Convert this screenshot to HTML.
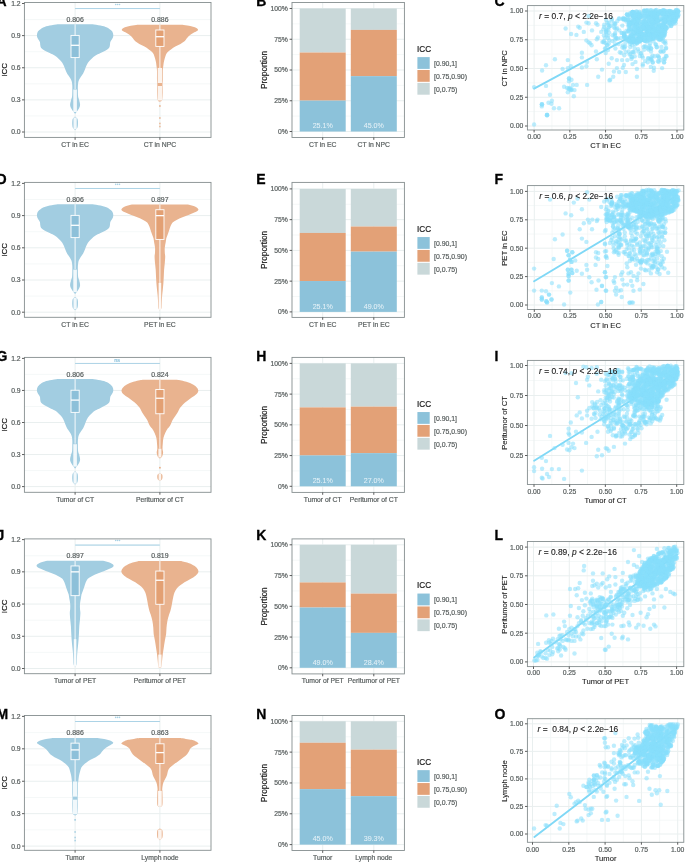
<!DOCTYPE html>
<html><head><meta charset="utf-8"><style>
html,body{margin:0;padding:0;background:#fff;}
body{width:685px;height:862px;overflow:hidden;}
svg{display:block;}
svg{filter:blur(0.3px);}
text{font-family:"Liberation Sans",sans-serif;}
</style></head><body>
<svg width="685" height="862" viewBox="0 0 685 862" font-family="Liberation Sans, sans-serif">
<rect width="685" height="862" fill="#fff"/>
<rect x="24.4" y="2.45" width="186.6" height="134.95000000000002" fill="#fff"/>
<line x1="24.40" y1="115.94" x2="211.00" y2="115.94" stroke="#f3f6f6" stroke-width="0.8" />
<line x1="24.40" y1="83.81" x2="211.00" y2="83.81" stroke="#f3f6f6" stroke-width="0.8" />
<line x1="24.40" y1="51.69" x2="211.00" y2="51.69" stroke="#f3f6f6" stroke-width="0.8" />
<line x1="24.40" y1="19.56" x2="211.00" y2="19.56" stroke="#f3f6f6" stroke-width="0.8" />
<line x1="24.40" y1="132.00" x2="211.00" y2="132.00" stroke="#e9efef" stroke-width="1" />
<line x1="24.40" y1="99.88" x2="211.00" y2="99.88" stroke="#e9efef" stroke-width="1" />
<line x1="24.40" y1="67.75" x2="211.00" y2="67.75" stroke="#e9efef" stroke-width="1" />
<line x1="24.40" y1="35.62" x2="211.00" y2="35.62" stroke="#e9efef" stroke-width="1" />
<line x1="75.10" y1="2.45" x2="75.10" y2="137.40" stroke="#e9efef" stroke-width="1" />
<line x1="159.90" y1="2.45" x2="159.90" y2="137.40" stroke="#e9efef" stroke-width="1" />
<path d="M57.60,24.20 L92.60,24.20 C93.92,24.42 98.08,24.95 100.50,25.50 C102.92,26.05 105.25,26.62 107.10,27.50 C108.95,28.38 110.63,29.88 111.60,30.80 C112.57,31.72 112.62,32.23 112.90,33.00 C113.18,33.77 113.30,34.65 113.30,35.40 C113.30,36.15 113.12,36.85 112.90,37.50 C112.68,38.15 112.43,38.57 112.00,39.30 C111.57,40.03 110.65,40.92 110.30,41.90 C109.95,42.88 110.12,44.20 109.90,45.20 C109.68,46.20 109.70,47.02 109.00,47.90 C108.30,48.78 107.12,49.63 105.70,50.50 C104.28,51.37 102.25,52.23 100.50,53.10 C98.75,53.97 96.63,54.82 95.20,55.70 C93.77,56.58 92.88,57.52 91.90,58.40 C90.92,59.28 90.17,59.92 89.30,61.00 C88.43,62.08 87.40,63.58 86.70,64.90 C86.00,66.22 85.63,67.58 85.10,68.90 C84.57,70.22 84.00,71.78 83.50,72.80 C83.00,73.82 82.67,74.15 82.10,75.00 C81.53,75.85 80.62,77.07 80.10,77.90 C79.58,78.73 79.28,79.35 79.00,80.00 C78.72,80.65 78.58,80.83 78.40,81.80 C78.22,82.77 77.98,84.48 77.90,85.80 C77.82,87.12 77.87,87.95 77.90,89.70 C77.93,91.45 77.88,94.55 78.10,96.30 C78.32,98.05 78.87,98.78 79.20,100.20 C79.53,101.62 80.10,103.48 80.10,104.80 C80.10,106.12 79.60,107.15 79.20,108.10 C78.80,109.05 78.13,109.85 77.70,110.50 C77.27,111.15 76.98,111.50 76.60,112.00 C76.22,112.50 75.65,113.17 75.40,113.50 C75.15,113.83 75.15,113.92 75.10,114.00 L75.10,114.00 C75.05,113.92 75.05,113.83 74.80,113.50 C74.55,113.17 73.98,112.50 73.60,112.00 C73.22,111.50 72.93,111.15 72.50,110.50 C72.07,109.85 71.40,109.05 71.00,108.10 C70.60,107.15 70.10,106.12 70.10,104.80 C70.10,103.48 70.67,101.62 71.00,100.20 C71.33,98.78 71.88,98.05 72.10,96.30 C72.32,94.55 72.27,91.45 72.30,89.70 C72.33,87.95 72.38,87.12 72.30,85.80 C72.22,84.48 71.98,82.77 71.80,81.80 C71.62,80.83 71.48,80.65 71.20,80.00 C70.92,79.35 70.62,78.73 70.10,77.90 C69.58,77.07 68.67,75.85 68.10,75.00 C67.53,74.15 67.20,73.82 66.70,72.80 C66.20,71.78 65.63,70.22 65.10,68.90 C64.57,67.58 64.20,66.22 63.50,64.90 C62.80,63.58 61.77,62.08 60.90,61.00 C60.03,59.92 59.28,59.28 58.30,58.40 C57.32,57.52 56.43,56.58 55.00,55.70 C53.57,54.82 51.45,53.97 49.70,53.10 C47.95,52.23 45.92,51.37 44.50,50.50 C43.08,49.63 41.90,48.78 41.20,47.90 C40.50,47.02 40.52,46.20 40.30,45.20 C40.08,44.20 40.25,42.88 39.90,41.90 C39.55,40.92 38.63,40.03 38.20,39.30 C37.77,38.57 37.52,38.15 37.30,37.50 C37.08,36.85 36.90,36.15 36.90,35.40 C36.90,34.65 37.02,33.77 37.30,33.00 C37.58,32.23 37.63,31.72 38.60,30.80 C39.57,29.88 41.25,28.38 43.10,27.50 C44.95,26.62 47.28,26.05 49.70,25.50 C52.12,24.95 56.28,24.42 57.60,24.20 Z" fill="#a2cde1"/>
<path d="M74.80,116.80 L75.40,116.80 C75.72,117.08 76.88,117.80 77.30,118.50 C77.72,119.20 77.80,119.92 77.90,121.00 C78.00,122.08 78.00,123.83 77.90,125.00 C77.80,126.17 77.70,127.23 77.30,128.00 C76.90,128.77 75.87,129.27 75.50,129.60 C75.13,129.93 75.17,129.93 75.10,130.00 L75.10,130.00 C75.03,129.93 75.07,129.93 74.70,129.60 C74.33,129.27 73.30,128.77 72.90,128.00 C72.50,127.23 72.40,126.17 72.30,125.00 C72.20,123.83 72.20,122.08 72.30,121.00 C72.40,119.92 72.48,119.20 72.90,118.50 C73.32,117.80 74.48,117.08 74.80,116.80 Z" fill="#a2cde1"/>
<line x1="75.10" y1="24.20" x2="75.10" y2="89.00" stroke="#ffffff" stroke-width="1.0" opacity="0.9"/>
<rect x="73.30" y="89.50" width="3.60" height="22.50" fill="#ffffff" opacity="0.85"/>
<rect x="73.50" y="117.50" width="3.20" height="11.50" fill="#ffffff" opacity="0.85"/>
<rect x="71.00" y="35.40" width="8.2" height="22.20" fill="#8dc0d9" stroke="#fff" stroke-width="0.9"/>
<line x1="71.00" y1="45.30" x2="79.20" y2="45.30" stroke="#fff" stroke-width="1.3" />
<text x="75.10" y="21.72" font-size="6.9" fill="#5a6060" text-anchor="middle" font-weight="normal" font-style="normal" stroke="#5a6060" stroke-width="0.2" >0.806</text>
<path d="M137.30,24.86 L182.50,24.86 C183.57,25.02 187.15,25.47 188.90,25.80 C190.65,26.13 191.75,26.46 193.00,26.83 C194.25,27.20 195.57,27.56 196.40,28.00 C197.23,28.44 197.83,29.00 198.00,29.45 C198.17,29.90 197.90,30.26 197.40,30.70 C196.90,31.14 196.17,31.41 195.00,32.08 C193.83,32.75 191.72,33.72 190.40,34.71 C189.08,35.70 188.08,36.91 187.10,38.00 C186.12,39.09 185.60,40.30 184.50,41.28 C183.40,42.26 182.03,43.02 180.50,43.90 C178.97,44.78 176.83,45.66 175.30,46.54 C173.77,47.42 172.52,48.28 171.30,49.16 C170.08,50.03 168.88,50.91 168.00,51.79 C167.12,52.67 166.53,53.33 166.00,54.42 C165.47,55.52 165.17,57.05 164.80,58.36 C164.43,59.67 164.08,60.77 163.80,62.30 C163.52,63.83 163.27,66.03 163.10,67.56 C162.93,69.09 162.85,69.43 162.80,71.50 C162.75,73.57 162.85,77.92 162.80,80.00 C162.75,82.08 162.53,82.00 162.50,84.00 C162.47,86.00 162.67,89.33 162.60,92.00 C162.53,94.67 162.47,98.42 162.10,100.00 C161.73,101.58 160.77,101.17 160.40,101.50 C160.03,101.83 159.98,101.92 159.90,102.00 L159.90,102.00 C159.82,101.92 159.77,101.83 159.40,101.50 C159.03,101.17 158.07,101.58 157.70,100.00 C157.33,98.42 157.27,94.67 157.20,92.00 C157.13,89.33 157.33,86.00 157.30,84.00 C157.27,82.00 157.05,82.08 157.00,80.00 C156.95,77.92 157.05,73.57 157.00,71.50 C156.95,69.43 156.87,69.09 156.70,67.56 C156.53,66.03 156.28,63.83 156.00,62.30 C155.72,60.77 155.37,59.67 155.00,58.36 C154.63,57.05 154.33,55.52 153.80,54.42 C153.27,53.33 152.68,52.67 151.80,51.79 C150.92,50.91 149.72,50.03 148.50,49.16 C147.28,48.28 146.03,47.42 144.50,46.54 C142.97,45.66 140.83,44.78 139.30,43.90 C137.77,43.02 136.40,42.26 135.30,41.28 C134.20,40.30 133.68,39.09 132.70,38.00 C131.72,36.91 130.72,35.70 129.40,34.71 C128.08,33.72 125.97,32.75 124.80,32.08 C123.63,31.41 122.90,31.14 122.40,30.70 C121.90,30.26 121.63,29.90 121.80,29.45 C121.97,29.00 122.57,28.44 123.40,28.00 C124.23,27.56 125.55,27.20 126.80,26.83 C128.05,26.46 129.15,26.13 130.90,25.80 C132.65,25.47 136.23,25.02 137.30,24.86 Z" fill="#e9b38f"/>
<line x1="159.90" y1="24.70" x2="159.90" y2="68.00" stroke="#ffffff" stroke-width="1.0" opacity="0.9"/>
<rect x="157.70" y="68.00" width="4.40" height="15.00" fill="#ffffff" opacity="0.85"/>
<rect x="157.80" y="86.00" width="4.20" height="14.50" fill="#ffffff" opacity="0.85"/>
<rect x="159.10" y="105.20" width="1.60" height="1.60" fill="#e9b38f" />
<rect x="159.20" y="117.20" width="1.40" height="1.60" fill="#e9b38f" />
<rect x="159.20" y="122.70" width="1.40" height="1.60" fill="#e9b38f" />
<rect x="159.20" y="125.70" width="1.40" height="1.60" fill="#e9b38f" />
<rect x="155.80" y="30.00" width="8.2" height="16.40" fill="#e3a073" stroke="#fff" stroke-width="0.9"/>
<line x1="155.80" y1="36.70" x2="164.00" y2="36.70" stroke="#fff" stroke-width="1.3" />
<text x="159.90" y="21.72" font-size="6.9" fill="#5a6060" text-anchor="middle" font-weight="normal" font-style="normal" stroke="#5a6060" stroke-width="0.2" >0.886</text>
<line x1="75.10" y1="8.55" x2="159.90" y2="8.55" stroke="#9dcbe1" stroke-width="0.85" />
<circle cx="115.7" cy="4.45" r="0.8" fill="#a9d2e5"/>
<circle cx="117.6" cy="4.45" r="0.8" fill="#a9d2e5"/>
<circle cx="119.5" cy="4.45" r="0.8" fill="#a9d2e5"/>
<rect x="24.4" y="2.45" width="186.6" height="134.95000000000002" fill="none" stroke="#858e8f" stroke-width="0.9"/>
<line x1="22.00" y1="132.00" x2="24.40" y2="132.00" stroke="#4a4a4a" stroke-width="0.9" />
<text x="20.60" y="134.45" font-size="6.8" fill="#5a6060" text-anchor="end" font-weight="normal" font-style="normal" stroke="#5a6060" stroke-width="0.2" >0.0</text>
<line x1="22.00" y1="99.88" x2="24.40" y2="99.88" stroke="#4a4a4a" stroke-width="0.9" />
<text x="20.60" y="102.33" font-size="6.8" fill="#5a6060" text-anchor="end" font-weight="normal" font-style="normal" stroke="#5a6060" stroke-width="0.2" >0.3</text>
<line x1="22.00" y1="67.75" x2="24.40" y2="67.75" stroke="#4a4a4a" stroke-width="0.9" />
<text x="20.60" y="70.20" font-size="6.8" fill="#5a6060" text-anchor="end" font-weight="normal" font-style="normal" stroke="#5a6060" stroke-width="0.2" >0.6</text>
<line x1="22.00" y1="35.62" x2="24.40" y2="35.62" stroke="#4a4a4a" stroke-width="0.9" />
<text x="20.60" y="38.07" font-size="6.8" fill="#5a6060" text-anchor="end" font-weight="normal" font-style="normal" stroke="#5a6060" stroke-width="0.2" >0.9</text>
<line x1="22.00" y1="3.50" x2="24.40" y2="3.50" stroke="#4a4a4a" stroke-width="0.9" />
<text x="20.60" y="5.95" font-size="6.8" fill="#5a6060" text-anchor="end" font-weight="normal" font-style="normal" stroke="#5a6060" stroke-width="0.2" >1.2</text>
<line x1="75.10" y1="137.40" x2="75.10" y2="139.80" stroke="#4a4a4a" stroke-width="0.9" />
<text x="75.10" y="147.00" font-size="6.8" fill="#5a6060" text-anchor="middle" font-weight="normal" font-style="normal" stroke="#5a6060" stroke-width="0.2" >CT in EC</text>
<line x1="159.90" y1="137.40" x2="159.90" y2="139.80" stroke="#4a4a4a" stroke-width="0.9" />
<text x="159.90" y="147.00" font-size="6.8" fill="#5a6060" text-anchor="middle" font-weight="normal" font-style="normal" stroke="#5a6060" stroke-width="0.2" >CT in NPC</text>
<text x="0" y="0" font-size="8.0" fill="#1a1a1a" stroke="#1a1a1a" stroke-width="0.2" text-anchor="middle" transform="translate(7.2,69.92) rotate(-90)">ICC</text>
<rect x="24.4" y="182.4" width="186.6" height="134.9" fill="#fff"/>
<line x1="24.40" y1="296.10" x2="211.00" y2="296.10" stroke="#f3f6f6" stroke-width="0.8" />
<line x1="24.40" y1="263.90" x2="211.00" y2="263.90" stroke="#f3f6f6" stroke-width="0.8" />
<line x1="24.40" y1="231.70" x2="211.00" y2="231.70" stroke="#f3f6f6" stroke-width="0.8" />
<line x1="24.40" y1="199.50" x2="211.00" y2="199.50" stroke="#f3f6f6" stroke-width="0.8" />
<line x1="24.40" y1="312.20" x2="211.00" y2="312.20" stroke="#e9efef" stroke-width="1" />
<line x1="24.40" y1="280.00" x2="211.00" y2="280.00" stroke="#e9efef" stroke-width="1" />
<line x1="24.40" y1="247.80" x2="211.00" y2="247.80" stroke="#e9efef" stroke-width="1" />
<line x1="24.40" y1="215.60" x2="211.00" y2="215.60" stroke="#e9efef" stroke-width="1" />
<line x1="75.10" y1="182.40" x2="75.10" y2="317.30" stroke="#e9efef" stroke-width="1" />
<line x1="159.90" y1="182.40" x2="159.90" y2="317.30" stroke="#e9efef" stroke-width="1" />
<path d="M57.60,204.15 L92.60,204.15 C93.92,204.37 98.08,204.90 100.50,205.45 C102.92,206.00 105.25,206.57 107.10,207.46 C108.95,208.34 110.63,209.84 111.60,210.76 C112.57,211.68 112.62,212.20 112.90,212.97 C113.18,213.74 113.30,214.62 113.30,215.37 C113.30,216.13 113.12,216.83 112.90,217.48 C112.68,218.13 112.43,218.55 112.00,219.28 C111.57,220.02 110.65,220.90 110.30,221.89 C109.95,222.88 110.12,224.20 109.90,225.20 C109.68,226.20 109.70,227.02 109.00,227.90 C108.30,228.79 107.12,229.64 105.70,230.51 C104.28,231.38 102.25,232.25 100.50,233.12 C98.75,233.98 96.63,234.84 95.20,235.72 C93.77,236.61 92.88,237.54 91.90,238.43 C90.92,239.31 90.17,239.95 89.30,241.03 C88.43,242.12 87.40,243.62 86.70,244.94 C86.00,246.26 85.63,247.63 85.10,248.95 C84.57,250.27 84.00,251.84 83.50,252.86 C83.00,253.88 82.67,254.21 82.10,255.07 C81.53,255.92 80.62,257.14 80.10,257.97 C79.58,258.81 79.28,259.43 79.00,260.08 C78.72,260.73 78.58,260.91 78.40,261.88 C78.22,262.85 77.98,264.57 77.90,265.89 C77.82,267.21 77.87,268.05 77.90,269.80 C77.93,271.56 77.88,274.66 78.10,276.42 C78.32,278.17 78.87,278.91 79.20,280.33 C79.53,281.75 80.10,283.62 80.10,284.94 C80.10,286.26 79.60,287.29 79.20,288.24 C78.80,289.20 78.13,290.00 77.70,290.65 C77.27,291.30 76.98,291.65 76.60,292.15 C76.22,292.65 75.65,293.32 75.40,293.66 C75.15,293.99 75.15,294.07 75.10,294.16 L75.10,294.16 C75.05,294.07 75.05,293.99 74.80,293.66 C74.55,293.32 73.98,292.65 73.60,292.15 C73.22,291.65 72.93,291.30 72.50,290.65 C72.07,290.00 71.40,289.20 71.00,288.24 C70.60,287.29 70.10,286.26 70.10,284.94 C70.10,283.62 70.67,281.75 71.00,280.33 C71.33,278.91 71.88,278.17 72.10,276.42 C72.32,274.66 72.27,271.56 72.30,269.80 C72.33,268.05 72.38,267.21 72.30,265.89 C72.22,264.57 71.98,262.85 71.80,261.88 C71.62,260.91 71.48,260.73 71.20,260.08 C70.92,259.43 70.62,258.81 70.10,257.97 C69.58,257.14 68.67,255.92 68.10,255.07 C67.53,254.21 67.20,253.88 66.70,252.86 C66.20,251.84 65.63,250.27 65.10,248.95 C64.57,247.63 64.20,246.26 63.50,244.94 C62.80,243.62 61.77,242.12 60.90,241.03 C60.03,239.95 59.28,239.31 58.30,238.43 C57.32,237.54 56.43,236.61 55.00,235.72 C53.57,234.84 51.45,233.98 49.70,233.12 C47.95,232.25 45.92,231.38 44.50,230.51 C43.08,229.64 41.90,228.79 41.20,227.90 C40.50,227.02 40.52,226.20 40.30,225.20 C40.08,224.20 40.25,222.88 39.90,221.89 C39.55,220.90 38.63,220.02 38.20,219.28 C37.77,218.55 37.52,218.13 37.30,217.48 C37.08,216.83 36.90,216.13 36.90,215.37 C36.90,214.62 37.02,213.74 37.30,212.97 C37.58,212.20 37.63,211.68 38.60,210.76 C39.57,209.84 41.25,208.34 43.10,207.46 C44.95,206.57 47.28,206.00 49.70,205.45 C52.12,204.90 56.28,204.37 57.60,204.15 Z" fill="#a2cde1"/>
<path d="M74.80,296.96 L75.40,296.96 C75.72,297.25 76.88,297.97 77.30,298.67 C77.72,299.37 77.80,300.09 77.90,301.17 C78.00,302.26 78.00,304.01 77.90,305.18 C77.80,306.35 77.70,307.42 77.30,308.19 C76.90,308.96 75.87,309.46 75.50,309.79 C75.13,310.13 75.17,310.13 75.10,310.20 L75.10,310.20 C75.03,310.13 75.07,310.13 74.70,309.79 C74.33,309.46 73.30,308.96 72.90,308.19 C72.50,307.42 72.40,306.35 72.30,305.18 C72.20,304.01 72.20,302.26 72.30,301.17 C72.40,300.09 72.48,299.37 72.90,298.67 C73.32,297.97 74.48,297.25 74.80,296.96 Z" fill="#a2cde1"/>
<line x1="75.10" y1="204.15" x2="75.10" y2="269.10" stroke="#ffffff" stroke-width="1.0" opacity="0.9"/>
<rect x="73.30" y="269.60" width="3.60" height="22.55" fill="#ffffff" opacity="0.85"/>
<rect x="73.50" y="297.67" width="3.20" height="11.53" fill="#ffffff" opacity="0.85"/>
<rect x="71.00" y="215.37" width="8.2" height="22.25" fill="#8dc0d9" stroke="#fff" stroke-width="0.9"/>
<line x1="71.00" y1="225.30" x2="79.20" y2="225.30" stroke="#fff" stroke-width="1.3" />
<text x="75.10" y="201.67" font-size="6.9" fill="#5a6060" text-anchor="middle" font-weight="normal" font-style="normal" stroke="#5a6060" stroke-width="0.2" >0.806</text>
<path d="M132.00,204.46 L187.80,204.46 C188.88,204.75 192.67,205.56 194.30,206.17 C195.93,206.78 196.93,207.48 197.60,208.14 C198.27,208.80 198.63,209.45 198.30,210.11 C197.97,210.77 197.13,211.31 195.60,212.08 C194.07,212.85 191.28,213.83 189.10,214.71 C186.92,215.59 184.58,216.46 182.50,217.34 C180.42,218.22 178.25,219.09 176.60,219.97 C174.95,220.85 173.63,221.51 172.60,222.60 C171.57,223.70 170.98,225.23 170.40,226.54 C169.82,227.85 169.55,229.17 169.10,230.48 C168.65,231.79 168.17,233.11 167.70,234.42 C167.23,235.73 166.63,237.05 166.30,238.36 C165.97,239.67 165.95,240.77 165.70,242.30 C165.45,243.83 164.95,245.81 164.80,247.56 C164.65,249.31 164.73,251.31 164.80,252.82 C164.87,254.33 165.20,254.89 165.20,256.60 C165.20,258.31 164.98,260.92 164.80,263.10 C164.62,265.28 164.27,267.50 164.10,269.70 C163.93,271.90 163.92,274.10 163.80,276.30 C163.68,278.50 163.57,280.72 163.40,282.90 C163.23,285.08 163.02,287.22 162.80,289.40 C162.58,291.58 162.28,293.80 162.10,296.00 C161.92,298.20 161.80,300.63 161.70,302.60 C161.60,304.57 161.67,306.64 161.50,307.80 C161.33,308.96 160.97,309.16 160.70,309.55 C160.43,309.94 160.03,310.05 159.90,310.15 L159.90,310.15 C159.77,310.05 159.37,309.94 159.10,309.55 C158.83,309.16 158.47,308.96 158.30,307.80 C158.13,306.64 158.20,304.57 158.10,302.60 C158.00,300.63 157.88,298.20 157.70,296.00 C157.52,293.80 157.22,291.58 157.00,289.40 C156.78,287.22 156.57,285.08 156.40,282.90 C156.23,280.72 156.12,278.50 156.00,276.30 C155.88,274.10 155.87,271.90 155.70,269.70 C155.53,267.50 155.18,265.28 155.00,263.10 C154.82,260.92 154.60,258.31 154.60,256.60 C154.60,254.89 154.93,254.33 155.00,252.82 C155.07,251.31 155.15,249.31 155.00,247.56 C154.85,245.81 154.35,243.83 154.10,242.30 C153.85,240.77 153.83,239.67 153.50,238.36 C153.17,237.05 152.57,235.73 152.10,234.42 C151.63,233.11 151.15,231.79 150.70,230.48 C150.25,229.17 149.98,227.85 149.40,226.54 C148.82,225.23 148.23,223.70 147.20,222.60 C146.17,221.51 144.85,220.85 143.20,219.97 C141.55,219.09 139.38,218.22 137.30,217.34 C135.22,216.46 132.88,215.59 130.70,214.71 C128.52,213.83 125.73,212.85 124.20,212.08 C122.67,211.31 121.83,210.77 121.50,210.11 C121.17,209.45 121.53,208.80 122.20,208.14 C122.87,207.48 123.87,206.78 125.50,206.17 C127.13,205.56 130.92,204.75 132.00,204.46 Z" fill="#e9b38f"/>
<line x1="159.90" y1="204.46" x2="159.90" y2="309.45" stroke="#ffffff" stroke-width="1.0" opacity="0.9"/>
<rect x="158.60" y="282.90" width="2.60" height="27.05" fill="#ffffff" opacity="0.85"/>
<rect x="155.80" y="209.72" width="8.2" height="29.70" fill="#e3a073" stroke="#fff" stroke-width="0.9"/>
<line x1="155.80" y1="215.63" x2="164.00" y2="215.63" stroke="#fff" stroke-width="1.3" />
<text x="159.90" y="201.67" font-size="6.9" fill="#5a6060" text-anchor="middle" font-weight="normal" font-style="normal" stroke="#5a6060" stroke-width="0.2" >0.897</text>
<line x1="75.10" y1="188.47" x2="159.90" y2="188.47" stroke="#9dcbe1" stroke-width="0.85" />
<circle cx="115.7" cy="184.37" r="0.8" fill="#a9d2e5"/>
<circle cx="117.6" cy="184.37" r="0.8" fill="#a9d2e5"/>
<circle cx="119.5" cy="184.37" r="0.8" fill="#a9d2e5"/>
<rect x="24.4" y="182.4" width="186.6" height="134.9" fill="none" stroke="#858e8f" stroke-width="0.9"/>
<line x1="22.00" y1="312.20" x2="24.40" y2="312.20" stroke="#4a4a4a" stroke-width="0.9" />
<text x="20.60" y="314.65" font-size="6.8" fill="#5a6060" text-anchor="end" font-weight="normal" font-style="normal" stroke="#5a6060" stroke-width="0.2" >0.0</text>
<line x1="22.00" y1="280.00" x2="24.40" y2="280.00" stroke="#4a4a4a" stroke-width="0.9" />
<text x="20.60" y="282.45" font-size="6.8" fill="#5a6060" text-anchor="end" font-weight="normal" font-style="normal" stroke="#5a6060" stroke-width="0.2" >0.3</text>
<line x1="22.00" y1="247.80" x2="24.40" y2="247.80" stroke="#4a4a4a" stroke-width="0.9" />
<text x="20.60" y="250.25" font-size="6.8" fill="#5a6060" text-anchor="end" font-weight="normal" font-style="normal" stroke="#5a6060" stroke-width="0.2" >0.6</text>
<line x1="22.00" y1="215.60" x2="24.40" y2="215.60" stroke="#4a4a4a" stroke-width="0.9" />
<text x="20.60" y="218.05" font-size="6.8" fill="#5a6060" text-anchor="end" font-weight="normal" font-style="normal" stroke="#5a6060" stroke-width="0.2" >0.9</text>
<line x1="22.00" y1="183.40" x2="24.40" y2="183.40" stroke="#4a4a4a" stroke-width="0.9" />
<text x="20.60" y="185.85" font-size="6.8" fill="#5a6060" text-anchor="end" font-weight="normal" font-style="normal" stroke="#5a6060" stroke-width="0.2" >1.2</text>
<line x1="75.10" y1="317.30" x2="75.10" y2="319.70" stroke="#4a4a4a" stroke-width="0.9" />
<text x="75.10" y="326.90" font-size="6.8" fill="#5a6060" text-anchor="middle" font-weight="normal" font-style="normal" stroke="#5a6060" stroke-width="0.2" >CT in EC</text>
<line x1="159.90" y1="317.30" x2="159.90" y2="319.70" stroke="#4a4a4a" stroke-width="0.9" />
<text x="159.90" y="326.90" font-size="6.8" fill="#5a6060" text-anchor="middle" font-weight="normal" font-style="normal" stroke="#5a6060" stroke-width="0.2" >PET in EC</text>
<text x="0" y="0" font-size="8.0" fill="#1a1a1a" stroke="#1a1a1a" stroke-width="0.2" text-anchor="middle" transform="translate(7.2,249.85) rotate(-90)">ICC</text>
<rect x="24.4" y="357.4" width="186.6" height="134.90000000000003" fill="#fff"/>
<line x1="24.40" y1="470.58" x2="211.00" y2="470.58" stroke="#f3f6f6" stroke-width="0.8" />
<line x1="24.40" y1="438.52" x2="211.00" y2="438.52" stroke="#f3f6f6" stroke-width="0.8" />
<line x1="24.40" y1="406.47" x2="211.00" y2="406.47" stroke="#f3f6f6" stroke-width="0.8" />
<line x1="24.40" y1="374.42" x2="211.00" y2="374.42" stroke="#f3f6f6" stroke-width="0.8" />
<line x1="24.40" y1="486.60" x2="211.00" y2="486.60" stroke="#e9efef" stroke-width="1" />
<line x1="24.40" y1="454.55" x2="211.00" y2="454.55" stroke="#e9efef" stroke-width="1" />
<line x1="24.40" y1="422.50" x2="211.00" y2="422.50" stroke="#e9efef" stroke-width="1" />
<line x1="24.40" y1="390.45" x2="211.00" y2="390.45" stroke="#e9efef" stroke-width="1" />
<line x1="75.10" y1="357.40" x2="75.10" y2="492.30" stroke="#e9efef" stroke-width="1" />
<line x1="159.90" y1="357.40" x2="159.90" y2="492.30" stroke="#e9efef" stroke-width="1" />
<path d="M57.60,379.05 L92.60,379.05 C93.92,379.27 98.08,379.80 100.50,380.35 C102.92,380.90 105.25,381.46 107.10,382.34 C108.95,383.23 110.63,384.72 111.60,385.64 C112.57,386.55 112.62,387.07 112.90,387.83 C113.18,388.60 113.30,389.48 113.30,390.23 C113.30,390.97 113.12,391.67 112.90,392.32 C112.68,392.97 112.43,393.38 112.00,394.12 C111.57,394.85 110.65,395.73 110.30,396.71 C109.95,397.69 110.12,399.00 109.90,400.00 C109.68,401.00 109.70,401.82 109.00,402.70 C108.30,403.58 107.12,404.43 105.70,405.29 C104.28,406.15 102.25,407.02 100.50,407.88 C98.75,408.75 96.63,409.60 95.20,410.48 C93.77,411.36 92.88,412.29 91.90,413.17 C90.92,414.05 90.17,414.68 89.30,415.77 C88.43,416.85 87.40,418.34 86.70,419.66 C86.00,420.97 85.63,422.33 85.10,423.65 C84.57,424.96 84.00,426.52 83.50,427.54 C83.00,428.55 82.67,428.89 82.10,429.73 C81.53,430.58 80.62,431.79 80.10,432.63 C79.58,433.46 79.28,434.07 79.00,434.72 C78.72,435.37 78.58,435.55 78.40,436.52 C78.22,437.48 77.98,439.19 77.90,440.51 C77.82,441.82 77.87,442.65 77.90,444.40 C77.93,446.14 77.88,449.24 78.10,450.98 C78.32,452.73 78.87,453.46 79.20,454.87 C79.53,456.29 80.10,458.15 80.10,459.46 C80.10,460.78 79.60,461.81 79.20,462.76 C78.80,463.70 78.13,464.50 77.70,465.15 C77.27,465.80 76.98,466.15 76.60,466.65 C76.22,467.15 75.65,467.81 75.40,468.14 C75.15,468.48 75.15,468.56 75.10,468.64 L75.10,468.64 C75.05,468.56 75.05,468.48 74.80,468.14 C74.55,467.81 73.98,467.15 73.60,466.65 C73.22,466.15 72.93,465.80 72.50,465.15 C72.07,464.50 71.40,463.70 71.00,462.76 C70.60,461.81 70.10,460.78 70.10,459.46 C70.10,458.15 70.67,456.29 71.00,454.87 C71.33,453.46 71.88,452.73 72.10,450.98 C72.32,449.24 72.27,446.14 72.30,444.40 C72.33,442.65 72.38,441.82 72.30,440.51 C72.22,439.19 71.98,437.48 71.80,436.52 C71.62,435.55 71.48,435.37 71.20,434.72 C70.92,434.07 70.62,433.46 70.10,432.63 C69.58,431.79 68.67,430.58 68.10,429.73 C67.53,428.89 67.20,428.55 66.70,427.54 C66.20,426.52 65.63,424.96 65.10,423.65 C64.57,422.33 64.20,420.97 63.50,419.66 C62.80,418.34 61.77,416.85 60.90,415.77 C60.03,414.68 59.28,414.05 58.30,413.17 C57.32,412.29 56.43,411.36 55.00,410.48 C53.57,409.60 51.45,408.75 49.70,407.88 C47.95,407.02 45.92,406.15 44.50,405.29 C43.08,404.43 41.90,403.58 41.20,402.70 C40.50,401.82 40.52,401.00 40.30,400.00 C40.08,399.00 40.25,397.69 39.90,396.71 C39.55,395.73 38.63,394.85 38.20,394.12 C37.77,393.38 37.52,392.97 37.30,392.32 C37.08,391.67 36.90,390.97 36.90,390.23 C36.90,389.48 37.02,388.60 37.30,387.83 C37.58,387.07 37.63,386.55 38.60,385.64 C39.57,384.72 41.25,383.23 43.10,382.34 C44.95,381.46 47.28,380.90 49.70,380.35 C52.12,379.80 56.28,379.27 57.60,379.05 Z" fill="#a2cde1"/>
<path d="M74.80,471.44 L75.40,471.44 C75.72,471.72 76.88,472.43 77.30,473.13 C77.72,473.83 77.80,474.54 77.90,475.63 C78.00,476.71 78.00,478.45 77.90,479.62 C77.80,480.78 77.70,481.84 77.30,482.61 C76.90,483.37 75.87,483.87 75.50,484.21 C75.13,484.54 75.17,484.54 75.10,484.60 L75.10,484.60 C75.03,484.54 75.07,484.54 74.70,484.21 C74.33,483.87 73.30,483.37 72.90,482.61 C72.50,481.84 72.40,480.78 72.30,479.62 C72.20,478.45 72.20,476.71 72.30,475.63 C72.40,474.54 72.48,473.83 72.90,473.13 C73.32,472.43 74.48,471.72 74.80,471.44 Z" fill="#a2cde1"/>
<line x1="75.10" y1="379.05" x2="75.10" y2="443.70" stroke="#ffffff" stroke-width="1.0" opacity="0.9"/>
<rect x="73.30" y="444.20" width="3.60" height="22.45" fill="#ffffff" opacity="0.85"/>
<rect x="73.50" y="472.13" width="3.20" height="11.47" fill="#ffffff" opacity="0.85"/>
<rect x="71.00" y="390.23" width="8.2" height="22.15" fill="#8dc0d9" stroke="#fff" stroke-width="0.9"/>
<line x1="71.00" y1="400.10" x2="79.20" y2="400.10" stroke="#fff" stroke-width="1.3" />
<text x="75.10" y="376.57" font-size="6.9" fill="#5a6060" text-anchor="middle" font-weight="normal" font-style="normal" stroke="#5a6060" stroke-width="0.2" >0.806</text>
<path d="M142.60,379.86 L177.20,379.86 C178.73,380.19 183.77,381.06 186.40,381.83 C189.03,382.59 191.23,383.46 193.00,384.45 C194.77,385.44 196.12,386.64 197.00,387.74 C197.88,388.84 198.42,389.92 198.30,391.02 C198.18,392.12 197.40,393.21 196.30,394.31 C195.20,395.41 193.23,396.50 191.70,397.60 C190.17,398.69 188.52,399.78 187.10,400.88 C185.68,401.98 184.40,402.96 183.20,404.17 C182.00,405.37 180.78,406.80 179.90,408.11 C179.02,409.42 178.67,410.74 177.90,412.05 C177.13,413.36 176.18,414.68 175.30,415.99 C174.42,417.30 173.33,418.62 172.60,419.93 C171.87,421.25 171.48,422.71 170.90,423.88 C170.32,425.05 169.68,426.11 169.10,426.95 C168.52,427.79 168.05,427.91 167.40,428.90 C166.75,429.89 165.87,431.37 165.20,432.90 C164.53,434.43 163.80,436.35 163.40,438.10 C163.00,439.85 162.95,441.63 162.80,443.40 C162.65,445.17 162.45,447.17 162.50,448.70 C162.55,450.23 163.17,451.30 163.10,452.60 C163.03,453.90 162.63,455.52 162.10,456.50 C161.57,457.48 160.27,458.17 159.90,458.50 L159.90,458.50 C159.53,458.17 158.23,457.48 157.70,456.50 C157.17,455.52 156.77,453.90 156.70,452.60 C156.63,451.30 157.25,450.23 157.30,448.70 C157.35,447.17 157.15,445.17 157.00,443.40 C156.85,441.63 156.80,439.85 156.40,438.10 C156.00,436.35 155.27,434.43 154.60,432.90 C153.93,431.37 153.05,429.89 152.40,428.90 C151.75,427.91 151.28,427.79 150.70,426.95 C150.12,426.11 149.48,425.05 148.90,423.88 C148.32,422.71 147.93,421.25 147.20,419.93 C146.47,418.62 145.38,417.30 144.50,415.99 C143.62,414.68 142.67,413.36 141.90,412.05 C141.13,410.74 140.78,409.42 139.90,408.11 C139.02,406.80 137.80,405.37 136.60,404.17 C135.40,402.96 134.12,401.98 132.70,400.88 C131.28,399.78 129.63,398.69 128.10,397.60 C126.57,396.50 124.60,395.41 123.50,394.31 C122.40,393.21 121.62,392.12 121.50,391.02 C121.38,389.92 121.92,388.84 122.80,387.74 C123.68,386.64 125.03,385.44 126.80,384.45 C128.57,383.46 130.77,382.59 133.40,381.83 C136.03,381.06 141.07,380.19 142.60,379.86 Z" fill="#e9b38f"/>
<path d="M159.90,473.45 L159.90,473.45 C160.27,473.62 161.67,473.87 162.10,474.45 C162.53,475.03 162.53,476.12 162.50,476.95 C162.47,477.78 162.33,478.87 161.90,479.45 C161.47,480.03 160.23,480.28 159.90,480.45 L159.90,480.45 C159.57,480.28 158.33,480.03 157.90,479.45 C157.47,478.87 157.33,477.78 157.30,476.95 C157.27,476.12 157.27,475.03 157.70,474.45 C158.13,473.87 159.53,473.62 159.90,473.45 Z" fill="#e9b38f"/>
<line x1="159.90" y1="379.86" x2="159.90" y2="448.70" stroke="#ffffff" stroke-width="1.0" opacity="0.9"/>
<rect x="158.40" y="448.70" width="3.00" height="8.75" fill="#ffffff" opacity="0.85"/>
<rect x="158.60" y="473.95" width="2.60" height="6.00" fill="#ffffff" opacity="0.85"/>
<rect x="159.00" y="466.90" width="1.80" height="1.60" fill="#e9b38f" />
<rect x="155.80" y="389.45" width="8.2" height="24.31" fill="#e3a073" stroke="#fff" stroke-width="0.9"/>
<line x1="155.80" y1="398.25" x2="164.00" y2="398.25" stroke="#fff" stroke-width="1.3" />
<text x="159.90" y="376.57" font-size="6.9" fill="#5a6060" text-anchor="middle" font-weight="normal" font-style="normal" stroke="#5a6060" stroke-width="0.2" >0.824</text>
<line x1="75.10" y1="363.44" x2="159.90" y2="363.44" stroke="#9dcbe1" stroke-width="0.85" />
<text x="117.20" y="362.14" font-size="5.6" fill="#8cc2dc" text-anchor="middle" font-weight="normal" font-style="normal" stroke="#8cc2dc" stroke-width="0.2" >ns</text>
<rect x="24.4" y="357.4" width="186.6" height="134.90000000000003" fill="none" stroke="#858e8f" stroke-width="0.9"/>
<line x1="22.00" y1="486.60" x2="24.40" y2="486.60" stroke="#4a4a4a" stroke-width="0.9" />
<text x="20.60" y="489.05" font-size="6.8" fill="#5a6060" text-anchor="end" font-weight="normal" font-style="normal" stroke="#5a6060" stroke-width="0.2" >0.0</text>
<line x1="22.00" y1="454.55" x2="24.40" y2="454.55" stroke="#4a4a4a" stroke-width="0.9" />
<text x="20.60" y="457.00" font-size="6.8" fill="#5a6060" text-anchor="end" font-weight="normal" font-style="normal" stroke="#5a6060" stroke-width="0.2" >0.3</text>
<line x1="22.00" y1="422.50" x2="24.40" y2="422.50" stroke="#4a4a4a" stroke-width="0.9" />
<text x="20.60" y="424.95" font-size="6.8" fill="#5a6060" text-anchor="end" font-weight="normal" font-style="normal" stroke="#5a6060" stroke-width="0.2" >0.6</text>
<line x1="22.00" y1="390.45" x2="24.40" y2="390.45" stroke="#4a4a4a" stroke-width="0.9" />
<text x="20.60" y="392.90" font-size="6.8" fill="#5a6060" text-anchor="end" font-weight="normal" font-style="normal" stroke="#5a6060" stroke-width="0.2" >0.9</text>
<line x1="22.00" y1="358.40" x2="24.40" y2="358.40" stroke="#4a4a4a" stroke-width="0.9" />
<text x="20.60" y="360.85" font-size="6.8" fill="#5a6060" text-anchor="end" font-weight="normal" font-style="normal" stroke="#5a6060" stroke-width="0.2" >1.2</text>
<line x1="75.10" y1="492.30" x2="75.10" y2="494.70" stroke="#4a4a4a" stroke-width="0.9" />
<text x="75.10" y="501.90" font-size="6.8" fill="#5a6060" text-anchor="middle" font-weight="normal" font-style="normal" stroke="#5a6060" stroke-width="0.2" >Tumor of CT</text>
<line x1="159.90" y1="492.30" x2="159.90" y2="494.70" stroke="#4a4a4a" stroke-width="0.9" />
<text x="159.90" y="501.90" font-size="6.8" fill="#5a6060" text-anchor="middle" font-weight="normal" font-style="normal" stroke="#5a6060" stroke-width="0.2" >Peritumor of CT</text>
<text x="0" y="0" font-size="8.0" fill="#1a1a1a" stroke="#1a1a1a" stroke-width="0.2" text-anchor="middle" transform="translate(7.2,424.85) rotate(-90)">ICC</text>
<rect x="24.4" y="538.9" width="186.6" height="134.80000000000007" fill="#fff"/>
<line x1="24.40" y1="652.39" x2="211.00" y2="652.39" stroke="#f3f6f6" stroke-width="0.8" />
<line x1="24.40" y1="620.16" x2="211.00" y2="620.16" stroke="#f3f6f6" stroke-width="0.8" />
<line x1="24.40" y1="587.94" x2="211.00" y2="587.94" stroke="#f3f6f6" stroke-width="0.8" />
<line x1="24.40" y1="555.71" x2="211.00" y2="555.71" stroke="#f3f6f6" stroke-width="0.8" />
<line x1="24.40" y1="668.50" x2="211.00" y2="668.50" stroke="#e9efef" stroke-width="1" />
<line x1="24.40" y1="636.27" x2="211.00" y2="636.27" stroke="#e9efef" stroke-width="1" />
<line x1="24.40" y1="604.05" x2="211.00" y2="604.05" stroke="#e9efef" stroke-width="1" />
<line x1="24.40" y1="571.83" x2="211.00" y2="571.83" stroke="#e9efef" stroke-width="1" />
<line x1="75.10" y1="538.90" x2="75.10" y2="673.70" stroke="#e9efef" stroke-width="1" />
<line x1="159.90" y1="538.90" x2="159.90" y2="673.70" stroke="#e9efef" stroke-width="1" />
<path d="M47.20,560.68 L103.00,560.68 C104.08,560.96 107.87,561.77 109.50,562.39 C111.13,563.00 112.13,563.70 112.80,564.36 C113.47,565.02 113.83,565.67 113.50,566.33 C113.17,566.99 112.33,567.54 110.80,568.30 C109.27,569.07 106.48,570.06 104.30,570.93 C102.12,571.81 99.78,572.69 97.70,573.57 C95.62,574.44 93.45,575.32 91.80,576.20 C90.15,577.08 88.83,577.73 87.80,578.83 C86.77,579.93 86.18,581.46 85.60,582.77 C85.02,584.09 84.75,585.40 84.30,586.72 C83.85,588.03 83.37,589.35 82.90,590.66 C82.43,591.97 81.83,593.29 81.50,594.60 C81.17,595.92 81.15,597.01 80.90,598.55 C80.65,600.08 80.15,602.06 80.00,603.81 C79.85,605.56 79.93,607.57 80.00,609.07 C80.07,610.58 80.40,611.14 80.40,612.86 C80.40,614.57 80.18,617.18 80.00,619.36 C79.82,621.55 79.47,623.77 79.30,625.97 C79.13,628.17 79.12,630.37 79.00,632.57 C78.88,634.77 78.77,636.99 78.60,639.18 C78.43,641.36 78.22,643.50 78.00,645.68 C77.78,647.87 77.48,650.09 77.30,652.29 C77.12,654.49 77.00,656.92 76.90,658.89 C76.80,660.86 76.87,662.94 76.70,664.10 C76.53,665.26 76.17,665.46 75.90,665.85 C75.63,666.24 75.23,666.35 75.10,666.45 L75.10,666.45 C74.97,666.35 74.57,666.24 74.30,665.85 C74.03,665.46 73.67,665.26 73.50,664.10 C73.33,662.94 73.40,660.86 73.30,658.89 C73.20,656.92 73.08,654.49 72.90,652.29 C72.72,650.09 72.42,647.87 72.20,645.68 C71.98,643.50 71.77,641.36 71.60,639.18 C71.43,636.99 71.32,634.77 71.20,632.57 C71.08,630.37 71.07,628.17 70.90,625.97 C70.73,623.77 70.38,621.55 70.20,619.36 C70.02,617.18 69.80,614.57 69.80,612.86 C69.80,611.14 70.13,610.58 70.20,609.07 C70.27,607.57 70.35,605.56 70.20,603.81 C70.05,602.06 69.55,600.08 69.30,598.55 C69.05,597.01 69.03,595.92 68.70,594.60 C68.37,593.29 67.77,591.97 67.30,590.66 C66.83,589.35 66.35,588.03 65.90,586.72 C65.45,585.40 65.18,584.09 64.60,582.77 C64.02,581.46 63.43,579.93 62.40,578.83 C61.37,577.73 60.05,577.08 58.40,576.20 C56.75,575.32 54.58,574.44 52.50,573.57 C50.42,572.69 48.08,571.81 45.90,570.93 C43.72,570.06 40.93,569.07 39.40,568.30 C37.87,567.54 37.03,566.99 36.70,566.33 C36.37,565.67 36.73,565.02 37.40,564.36 C38.07,563.70 39.07,563.00 40.70,562.39 C42.33,561.77 46.12,560.96 47.20,560.68 Z" fill="#a2cde1"/>
<line x1="75.10" y1="560.68" x2="75.10" y2="665.75" stroke="#ffffff" stroke-width="1.0" opacity="0.9"/>
<rect x="73.80" y="639.18" width="2.60" height="27.07" fill="#ffffff" opacity="0.85"/>
<rect x="71.00" y="565.94" width="8.2" height="29.72" fill="#8dc0d9" stroke="#fff" stroke-width="0.9"/>
<line x1="71.00" y1="571.86" x2="79.20" y2="571.86" stroke="#fff" stroke-width="1.3" />
<text x="75.10" y="557.88" font-size="6.9" fill="#5a6060" text-anchor="middle" font-weight="normal" font-style="normal" stroke="#5a6060" stroke-width="0.2" >0.897</text>
<path d="M138.60,560.94 L181.20,560.94 C182.52,561.31 186.92,562.36 189.10,563.17 C191.28,563.98 192.88,564.81 194.30,565.80 C195.72,566.78 196.93,567.98 197.60,569.08 C198.27,570.17 198.63,571.27 198.30,572.37 C197.97,573.46 196.92,574.55 195.60,575.65 C194.28,576.75 192.25,577.84 190.40,578.94 C188.55,580.03 186.25,581.12 184.50,582.22 C182.75,583.31 181.22,584.41 179.90,585.51 C178.58,586.61 177.52,587.59 176.60,588.79 C175.68,589.99 174.95,591.42 174.40,592.74 C173.85,594.05 173.65,595.15 173.30,596.68 C172.95,598.21 172.63,600.18 172.30,601.93 C171.97,603.68 171.63,605.66 171.30,607.19 C170.97,608.72 170.67,609.89 170.30,611.13 C169.93,612.36 169.58,612.94 169.10,614.60 C168.62,616.26 167.83,618.92 167.40,621.10 C166.97,623.28 166.72,625.50 166.50,627.70 C166.28,629.90 166.38,632.10 166.10,634.30 C165.82,636.50 165.18,638.72 164.80,640.90 C164.42,643.08 164.13,645.22 163.80,647.40 C163.47,649.58 163.08,651.80 162.80,654.00 C162.52,656.20 162.32,658.52 162.10,660.60 C161.88,662.68 161.77,665.33 161.50,666.50 C161.23,667.67 160.77,667.39 160.50,667.65 C160.23,667.91 160.00,667.98 159.90,668.05 L159.90,668.05 C159.80,667.98 159.57,667.91 159.30,667.65 C159.03,667.39 158.57,667.67 158.30,666.50 C158.03,665.33 157.92,662.68 157.70,660.60 C157.48,658.52 157.28,656.20 157.00,654.00 C156.72,651.80 156.33,649.58 156.00,647.40 C155.67,645.22 155.38,643.08 155.00,640.90 C154.62,638.72 153.98,636.50 153.70,634.30 C153.42,632.10 153.52,629.90 153.30,627.70 C153.08,625.50 152.83,623.28 152.40,621.10 C151.97,618.92 151.18,616.26 150.70,614.60 C150.22,612.94 149.87,612.36 149.50,611.13 C149.13,609.89 148.83,608.72 148.50,607.19 C148.17,605.66 147.83,603.68 147.50,601.93 C147.17,600.18 146.85,598.21 146.50,596.68 C146.15,595.15 145.95,594.05 145.40,592.74 C144.85,591.42 144.12,589.99 143.20,588.79 C142.28,587.59 141.22,586.61 139.90,585.51 C138.58,584.41 137.05,583.31 135.30,582.22 C133.55,581.12 131.25,580.03 129.40,578.94 C127.55,577.84 125.52,576.75 124.20,575.65 C122.88,574.55 121.83,573.46 121.50,572.37 C121.17,571.27 121.53,570.17 122.20,569.08 C122.87,567.98 124.08,566.78 125.50,565.80 C126.92,564.81 128.52,563.98 130.70,563.17 C132.88,562.36 137.28,561.31 138.60,560.94 Z" fill="#e9b38f"/>
<line x1="159.90" y1="560.94" x2="159.90" y2="667.45" stroke="#ffffff" stroke-width="1.0" opacity="0.9"/>
<rect x="158.25" y="654.60" width="3.30" height="12.85" fill="#ffffff" opacity="0.85"/>
<rect x="155.80" y="571.05" width="8.2" height="33.25" fill="#e3a073" stroke="#fff" stroke-width="0.9"/>
<line x1="155.80" y1="580.25" x2="164.00" y2="580.25" stroke="#fff" stroke-width="1.3" />
<text x="159.90" y="557.88" font-size="6.9" fill="#5a6060" text-anchor="middle" font-weight="normal" font-style="normal" stroke="#5a6060" stroke-width="0.2" >0.819</text>
<line x1="75.10" y1="545.07" x2="159.90" y2="545.07" stroke="#c6e1ed" stroke-width="1.8" />
<circle cx="115.7" cy="540.57" r="0.8" fill="#a9d2e5"/>
<circle cx="117.6" cy="540.57" r="0.8" fill="#a9d2e5"/>
<circle cx="119.5" cy="540.57" r="0.8" fill="#a9d2e5"/>
<rect x="24.4" y="538.9" width="186.6" height="134.80000000000007" fill="none" stroke="#858e8f" stroke-width="0.9"/>
<line x1="22.00" y1="668.50" x2="24.40" y2="668.50" stroke="#4a4a4a" stroke-width="0.9" />
<text x="20.60" y="670.95" font-size="6.8" fill="#5a6060" text-anchor="end" font-weight="normal" font-style="normal" stroke="#5a6060" stroke-width="0.2" >0.0</text>
<line x1="22.00" y1="636.27" x2="24.40" y2="636.27" stroke="#4a4a4a" stroke-width="0.9" />
<text x="20.60" y="638.73" font-size="6.8" fill="#5a6060" text-anchor="end" font-weight="normal" font-style="normal" stroke="#5a6060" stroke-width="0.2" >0.3</text>
<line x1="22.00" y1="604.05" x2="24.40" y2="604.05" stroke="#4a4a4a" stroke-width="0.9" />
<text x="20.60" y="606.50" font-size="6.8" fill="#5a6060" text-anchor="end" font-weight="normal" font-style="normal" stroke="#5a6060" stroke-width="0.2" >0.6</text>
<line x1="22.00" y1="571.83" x2="24.40" y2="571.83" stroke="#4a4a4a" stroke-width="0.9" />
<text x="20.60" y="574.28" font-size="6.8" fill="#5a6060" text-anchor="end" font-weight="normal" font-style="normal" stroke="#5a6060" stroke-width="0.2" >0.9</text>
<line x1="22.00" y1="539.60" x2="24.40" y2="539.60" stroke="#4a4a4a" stroke-width="0.9" />
<text x="20.60" y="542.05" font-size="6.8" fill="#5a6060" text-anchor="end" font-weight="normal" font-style="normal" stroke="#5a6060" stroke-width="0.2" >1.2</text>
<line x1="75.10" y1="673.70" x2="75.10" y2="676.10" stroke="#4a4a4a" stroke-width="0.9" />
<text x="75.10" y="683.30" font-size="6.8" fill="#5a6060" text-anchor="middle" font-weight="normal" font-style="normal" stroke="#5a6060" stroke-width="0.2" >Tumor of PET</text>
<line x1="159.90" y1="673.70" x2="159.90" y2="676.10" stroke="#4a4a4a" stroke-width="0.9" />
<text x="159.90" y="683.30" font-size="6.8" fill="#5a6060" text-anchor="middle" font-weight="normal" font-style="normal" stroke="#5a6060" stroke-width="0.2" >Peritumor of PET</text>
<text x="0" y="0" font-size="8.0" fill="#1a1a1a" stroke="#1a1a1a" stroke-width="0.2" text-anchor="middle" transform="translate(7.2,606.30) rotate(-90)">ICC</text>
<rect x="24.4" y="715.5" width="186.6" height="134.79999999999995" fill="#fff"/>
<line x1="24.40" y1="829.89" x2="211.00" y2="829.89" stroke="#f3f6f6" stroke-width="0.8" />
<line x1="24.40" y1="797.46" x2="211.00" y2="797.46" stroke="#f3f6f6" stroke-width="0.8" />
<line x1="24.40" y1="765.04" x2="211.00" y2="765.04" stroke="#f3f6f6" stroke-width="0.8" />
<line x1="24.40" y1="732.61" x2="211.00" y2="732.61" stroke="#f3f6f6" stroke-width="0.8" />
<line x1="24.40" y1="846.10" x2="211.00" y2="846.10" stroke="#e9efef" stroke-width="1" />
<line x1="24.40" y1="813.67" x2="211.00" y2="813.67" stroke="#e9efef" stroke-width="1" />
<line x1="24.40" y1="781.25" x2="211.00" y2="781.25" stroke="#e9efef" stroke-width="1" />
<line x1="24.40" y1="748.82" x2="211.00" y2="748.82" stroke="#e9efef" stroke-width="1" />
<line x1="75.10" y1="715.50" x2="75.10" y2="850.30" stroke="#e9efef" stroke-width="1" />
<line x1="159.90" y1="715.50" x2="159.90" y2="850.30" stroke="#e9efef" stroke-width="1" />
<path d="M52.50,737.96 L97.70,737.96 C98.77,738.12 102.35,738.58 104.10,738.91 C105.85,739.24 106.95,739.58 108.20,739.95 C109.45,740.32 110.77,740.69 111.60,741.13 C112.43,741.57 113.03,742.14 113.20,742.59 C113.37,743.05 113.10,743.41 112.60,743.85 C112.10,744.30 111.37,744.57 110.20,745.25 C109.03,745.92 106.92,746.91 105.60,747.90 C104.28,748.90 103.28,750.12 102.30,751.22 C101.32,752.33 100.80,753.54 99.70,754.53 C98.60,755.53 97.23,756.29 95.70,757.18 C94.17,758.06 92.03,758.96 90.50,759.84 C88.97,760.73 87.72,761.60 86.50,762.49 C85.28,763.37 84.08,764.26 83.20,765.14 C82.32,766.03 81.73,766.69 81.20,767.80 C80.67,768.90 80.37,770.45 80.00,771.77 C79.63,773.10 79.28,774.20 79.00,775.75 C78.72,777.30 78.47,779.51 78.30,781.06 C78.13,782.61 78.05,782.94 78.00,785.04 C77.95,787.13 78.05,791.51 78.00,793.61 C77.95,795.72 77.73,795.63 77.70,797.65 C77.67,799.67 77.87,803.03 77.80,805.73 C77.73,808.42 77.67,812.20 77.30,813.80 C76.93,815.40 75.97,814.98 75.60,815.32 C75.23,815.65 75.18,815.74 75.10,815.82 L75.10,815.82 C75.02,815.74 74.97,815.65 74.60,815.32 C74.23,814.98 73.27,815.40 72.90,813.80 C72.53,812.20 72.47,808.42 72.40,805.73 C72.33,803.03 72.53,799.67 72.50,797.65 C72.47,795.63 72.25,795.72 72.20,793.61 C72.15,791.51 72.25,787.13 72.20,785.04 C72.15,782.94 72.07,782.61 71.90,781.06 C71.73,779.51 71.48,777.30 71.20,775.75 C70.92,774.20 70.57,773.10 70.20,771.77 C69.83,770.45 69.53,768.90 69.00,767.80 C68.47,766.69 67.88,766.03 67.00,765.14 C66.12,764.26 64.92,763.37 63.70,762.49 C62.48,761.60 61.23,760.73 59.70,759.84 C58.17,758.96 56.03,758.06 54.50,757.18 C52.97,756.29 51.60,755.53 50.50,754.53 C49.40,753.54 48.88,752.33 47.90,751.22 C46.92,750.12 45.92,748.90 44.60,747.90 C43.28,746.91 41.17,745.92 40.00,745.25 C38.83,744.57 38.10,744.30 37.60,743.85 C37.10,743.41 36.83,743.05 37.00,742.59 C37.17,742.14 37.77,741.57 38.60,741.13 C39.43,740.69 40.75,740.32 42.00,739.95 C43.25,739.58 44.35,739.24 46.10,738.91 C47.85,738.58 51.43,738.12 52.50,737.96 Z" fill="#a2cde1"/>
<line x1="75.10" y1="737.80" x2="75.10" y2="781.50" stroke="#ffffff" stroke-width="1.0" opacity="0.9"/>
<rect x="72.90" y="781.50" width="4.40" height="15.14" fill="#ffffff" opacity="0.85"/>
<rect x="73.00" y="799.67" width="4.20" height="14.64" fill="#ffffff" opacity="0.85"/>
<rect x="74.30" y="819.06" width="1.60" height="1.60" fill="#a2cde1" />
<rect x="74.40" y="831.17" width="1.40" height="1.60" fill="#a2cde1" />
<rect x="74.40" y="836.72" width="1.40" height="1.60" fill="#a2cde1" />
<rect x="74.40" y="839.75" width="1.40" height="1.60" fill="#a2cde1" />
<rect x="71.00" y="743.15" width="8.2" height="16.55" fill="#8dc0d9" stroke="#fff" stroke-width="0.9"/>
<line x1="71.00" y1="749.91" x2="79.20" y2="749.91" stroke="#fff" stroke-width="1.3" />
<text x="75.10" y="734.82" font-size="6.9" fill="#5a6060" text-anchor="middle" font-weight="normal" font-style="normal" stroke="#5a6060" stroke-width="0.2" >0.886</text>
<path d="M139.30,737.88 L180.50,737.88 C182.37,738.21 189.22,739.30 191.70,739.86 C194.18,740.42 194.42,740.81 195.40,741.25 C196.38,741.69 197.12,742.05 197.60,742.48 C198.08,742.90 198.85,743.25 198.30,743.80 C197.75,744.35 195.62,745.00 194.30,745.77 C192.98,746.54 191.27,747.52 190.40,748.40 C189.53,749.27 189.65,750.03 189.10,751.02 C188.55,752.00 188.08,753.21 187.10,754.31 C186.12,755.41 184.62,756.50 183.20,757.60 C181.78,758.69 180.13,759.78 178.60,760.88 C177.07,761.98 175.43,763.07 174.00,764.17 C172.57,765.26 171.00,766.35 170.00,767.45 C169.00,768.54 168.48,769.53 168.00,770.74 C167.52,771.95 167.53,773.37 167.10,774.68 C166.67,775.99 166.02,777.31 165.40,778.62 C164.78,779.93 163.88,781.25 163.40,782.56 C162.92,783.87 162.70,785.25 162.50,786.50 C162.30,787.75 162.22,789.29 162.20,790.05 C162.18,790.81 162.37,788.55 162.40,791.05 C162.43,793.55 162.82,802.55 162.40,805.05 C161.98,807.55 160.32,805.88 159.90,806.05 L159.90,806.05 C159.48,805.88 157.82,807.55 157.40,805.05 C156.98,802.55 157.37,793.55 157.40,791.05 C157.43,788.55 157.62,790.81 157.60,790.05 C157.58,789.29 157.50,787.75 157.30,786.50 C157.10,785.25 156.88,783.87 156.40,782.56 C155.92,781.25 155.02,779.93 154.40,778.62 C153.78,777.31 153.13,775.99 152.70,774.68 C152.27,773.37 152.28,771.95 151.80,770.74 C151.32,769.53 150.80,768.54 149.80,767.45 C148.80,766.35 147.23,765.26 145.80,764.17 C144.37,763.07 142.73,761.98 141.20,760.88 C139.67,759.78 138.02,758.69 136.60,757.60 C135.18,756.50 133.68,755.41 132.70,754.31 C131.72,753.21 131.25,752.00 130.70,751.02 C130.15,750.03 130.27,749.27 129.40,748.40 C128.53,747.52 126.82,746.54 125.50,745.77 C124.18,745.00 122.05,744.35 121.50,743.80 C120.95,743.25 121.72,742.90 122.20,742.48 C122.68,742.05 123.42,741.69 124.40,741.25 C125.38,740.81 125.62,740.42 128.10,739.86 C130.58,739.30 137.43,738.21 139.30,737.88 Z" fill="#e9b38f"/>
<path d="M159.90,828.40 L159.90,828.40 C160.28,828.67 161.73,829.11 162.20,830.05 C162.67,830.99 162.70,832.72 162.70,834.05 C162.70,835.38 162.67,837.02 162.20,838.05 C161.73,839.07 160.28,839.84 159.90,840.20 L159.90,840.20 C159.52,839.84 158.07,839.07 157.60,838.05 C157.13,837.02 157.10,835.38 157.10,834.05 C157.10,832.72 157.13,830.99 157.60,830.05 C158.07,829.11 159.52,828.67 159.90,828.40 Z" fill="#e9b38f"/>
<line x1="159.90" y1="737.88" x2="159.90" y2="805.05" stroke="#ffffff" stroke-width="1.0" opacity="0.9"/>
<rect x="158.00" y="790.90" width="3.80" height="15.15" fill="#ffffff" opacity="0.85"/>
<rect x="158.10" y="829.55" width="3.60" height="10.00" fill="#ffffff" opacity="0.85"/>
<rect x="155.80" y="743.80" width="8.2" height="19.70" fill="#e3a073" stroke="#fff" stroke-width="0.9"/>
<line x1="155.80" y1="752.60" x2="164.00" y2="752.60" stroke="#fff" stroke-width="1.3" />
<text x="159.90" y="734.82" font-size="6.9" fill="#5a6060" text-anchor="middle" font-weight="normal" font-style="normal" stroke="#5a6060" stroke-width="0.2" >0.863</text>
<line x1="75.10" y1="721.50" x2="159.90" y2="721.50" stroke="#9dcbe1" stroke-width="0.85" />
<circle cx="115.7" cy="717.40" r="0.8" fill="#a9d2e5"/>
<circle cx="117.6" cy="717.40" r="0.8" fill="#a9d2e5"/>
<circle cx="119.5" cy="717.40" r="0.8" fill="#a9d2e5"/>
<rect x="24.4" y="715.5" width="186.6" height="134.79999999999995" fill="none" stroke="#858e8f" stroke-width="0.9"/>
<line x1="22.00" y1="846.10" x2="24.40" y2="846.10" stroke="#4a4a4a" stroke-width="0.9" />
<text x="20.60" y="848.55" font-size="6.8" fill="#5a6060" text-anchor="end" font-weight="normal" font-style="normal" stroke="#5a6060" stroke-width="0.2" >0.0</text>
<line x1="22.00" y1="813.67" x2="24.40" y2="813.67" stroke="#4a4a4a" stroke-width="0.9" />
<text x="20.60" y="816.12" font-size="6.8" fill="#5a6060" text-anchor="end" font-weight="normal" font-style="normal" stroke="#5a6060" stroke-width="0.2" >0.3</text>
<line x1="22.00" y1="781.25" x2="24.40" y2="781.25" stroke="#4a4a4a" stroke-width="0.9" />
<text x="20.60" y="783.70" font-size="6.8" fill="#5a6060" text-anchor="end" font-weight="normal" font-style="normal" stroke="#5a6060" stroke-width="0.2" >0.6</text>
<line x1="22.00" y1="748.82" x2="24.40" y2="748.82" stroke="#4a4a4a" stroke-width="0.9" />
<text x="20.60" y="751.27" font-size="6.8" fill="#5a6060" text-anchor="end" font-weight="normal" font-style="normal" stroke="#5a6060" stroke-width="0.2" >0.9</text>
<line x1="22.00" y1="716.40" x2="24.40" y2="716.40" stroke="#4a4a4a" stroke-width="0.9" />
<text x="20.60" y="718.85" font-size="6.8" fill="#5a6060" text-anchor="end" font-weight="normal" font-style="normal" stroke="#5a6060" stroke-width="0.2" >1.2</text>
<line x1="75.10" y1="850.30" x2="75.10" y2="852.70" stroke="#4a4a4a" stroke-width="0.9" />
<text x="75.10" y="859.90" font-size="6.8" fill="#5a6060" text-anchor="middle" font-weight="normal" font-style="normal" stroke="#5a6060" stroke-width="0.2" >Tumor</text>
<line x1="159.90" y1="850.30" x2="159.90" y2="852.70" stroke="#4a4a4a" stroke-width="0.9" />
<text x="159.90" y="859.90" font-size="6.8" fill="#5a6060" text-anchor="middle" font-weight="normal" font-style="normal" stroke="#5a6060" stroke-width="0.2" >Lymph node</text>
<text x="0" y="0" font-size="8.0" fill="#1a1a1a" stroke="#1a1a1a" stroke-width="0.2" text-anchor="middle" transform="translate(7.2,782.90) rotate(-90)">ICC</text>
<rect x="292.0" y="2.45" width="112.39999999999998" height="135.0" fill="#fff"/>
<line x1="292.00" y1="116.12" x2="404.40" y2="116.12" stroke="#f3f6f6" stroke-width="0.8" />
<line x1="292.00" y1="85.38" x2="404.40" y2="85.38" stroke="#f3f6f6" stroke-width="0.8" />
<line x1="292.00" y1="54.62" x2="404.40" y2="54.62" stroke="#f3f6f6" stroke-width="0.8" />
<line x1="292.00" y1="23.88" x2="404.40" y2="23.88" stroke="#f3f6f6" stroke-width="0.8" />
<line x1="292.00" y1="131.50" x2="404.40" y2="131.50" stroke="#e9efef" stroke-width="1" />
<line x1="292.00" y1="100.75" x2="404.40" y2="100.75" stroke="#e9efef" stroke-width="1" />
<line x1="292.00" y1="70.00" x2="404.40" y2="70.00" stroke="#e9efef" stroke-width="1" />
<line x1="292.00" y1="39.25" x2="404.40" y2="39.25" stroke="#e9efef" stroke-width="1" />
<line x1="292.00" y1="8.50" x2="404.40" y2="8.50" stroke="#e9efef" stroke-width="1" />
<line x1="322.70" y1="2.45" x2="322.70" y2="137.45" stroke="#e9efef" stroke-width="1" />
<line x1="373.80" y1="2.45" x2="373.80" y2="137.45" stroke="#e9efef" stroke-width="1" />
<rect x="299.70" y="8.50" width="46.00" height="44.03" fill="#c9d8d9" />
<rect x="299.70" y="52.53" width="46.00" height="48.09" fill="#e3a177" />
<rect x="299.70" y="100.63" width="46.00" height="30.87" fill="#8cc2da" />
<text x="322.70" y="128.20" font-size="7.1" fill="#e4f1f7" text-anchor="middle" font-weight="normal" font-style="normal" stroke="#e4f1f7" stroke-width="0.05" >25.1%</text>
<rect x="350.80" y="8.50" width="46.00" height="21.40" fill="#c9d8d9" />
<rect x="350.80" y="29.90" width="46.00" height="46.25" fill="#e3a177" />
<rect x="350.80" y="76.15" width="46.00" height="55.35" fill="#8cc2da" />
<text x="373.80" y="128.20" font-size="7.1" fill="#e4f1f7" text-anchor="middle" font-weight="normal" font-style="normal" stroke="#e4f1f7" stroke-width="0.05" >45.0%</text>
<rect x="292.0" y="2.45" width="112.39999999999998" height="135.0" fill="none" stroke="#858e8f" stroke-width="0.9"/>
<line x1="289.60" y1="131.50" x2="292.00" y2="131.50" stroke="#4a4a4a" stroke-width="0.9" />
<text x="287.90" y="133.95" font-size="6.8" fill="#5a6060" text-anchor="end" font-weight="normal" font-style="normal" stroke="#5a6060" stroke-width="0.2" >0%</text>
<line x1="289.60" y1="100.75" x2="292.00" y2="100.75" stroke="#4a4a4a" stroke-width="0.9" />
<text x="287.90" y="103.20" font-size="6.8" fill="#5a6060" text-anchor="end" font-weight="normal" font-style="normal" stroke="#5a6060" stroke-width="0.2" >25%</text>
<line x1="289.60" y1="70.00" x2="292.00" y2="70.00" stroke="#4a4a4a" stroke-width="0.9" />
<text x="287.90" y="72.45" font-size="6.8" fill="#5a6060" text-anchor="end" font-weight="normal" font-style="normal" stroke="#5a6060" stroke-width="0.2" >50%</text>
<line x1="289.60" y1="39.25" x2="292.00" y2="39.25" stroke="#4a4a4a" stroke-width="0.9" />
<text x="287.90" y="41.70" font-size="6.8" fill="#5a6060" text-anchor="end" font-weight="normal" font-style="normal" stroke="#5a6060" stroke-width="0.2" >75%</text>
<line x1="289.60" y1="8.50" x2="292.00" y2="8.50" stroke="#4a4a4a" stroke-width="0.9" />
<text x="287.90" y="10.95" font-size="6.8" fill="#5a6060" text-anchor="end" font-weight="normal" font-style="normal" stroke="#5a6060" stroke-width="0.2" >100%</text>
<line x1="322.70" y1="137.45" x2="322.70" y2="139.85" stroke="#4a4a4a" stroke-width="0.9" />
<text x="322.70" y="146.70" font-size="6.8" fill="#5a6060" text-anchor="middle" font-weight="normal" font-style="normal" stroke="#5a6060" stroke-width="0.2" >CT in EC</text>
<line x1="373.80" y1="137.45" x2="373.80" y2="139.85" stroke="#4a4a4a" stroke-width="0.9" />
<text x="373.80" y="146.70" font-size="6.8" fill="#5a6060" text-anchor="middle" font-weight="normal" font-style="normal" stroke="#5a6060" stroke-width="0.2" >CT in NPC</text>
<text x="0" y="0" font-size="8.3" fill="#1a1a1a" stroke="#1a1a1a" stroke-width="0.2" text-anchor="middle" transform="translate(266.6,69.95) rotate(-90)">Proportion</text>
<text x="417.00" y="51.75" font-size="8.2" fill="#1a1a1a" text-anchor="start" font-weight="normal" font-style="normal" stroke="#1a1a1a" stroke-width="0.2" >ICC</text>
<rect x="417.40" y="57.10" width="12.30" height="11.80" fill="#8cc2da" />
<text x="434.00" y="65.75" font-size="6.9" fill="#5a6060" text-anchor="start" font-weight="normal" font-style="normal" stroke="#5a6060" stroke-width="0.2" >[0.90,1]</text>
<rect x="417.40" y="70.00" width="12.30" height="11.80" fill="#e3a177" />
<text x="434.00" y="78.65" font-size="6.9" fill="#5a6060" text-anchor="start" font-weight="normal" font-style="normal" stroke="#5a6060" stroke-width="0.2" >[0.75,0.90)</text>
<rect x="417.40" y="82.90" width="12.30" height="11.80" fill="#c9d8d9" />
<text x="434.00" y="91.55" font-size="6.9" fill="#5a6060" text-anchor="start" font-weight="normal" font-style="normal" stroke="#5a6060" stroke-width="0.2" >[0,0.75)</text>
<rect x="292.0" y="182.4" width="112.39999999999998" height="134.99999999999997" fill="#fff"/>
<line x1="292.00" y1="296.52" x2="404.40" y2="296.52" stroke="#f3f6f6" stroke-width="0.8" />
<line x1="292.00" y1="265.77" x2="404.40" y2="265.77" stroke="#f3f6f6" stroke-width="0.8" />
<line x1="292.00" y1="235.02" x2="404.40" y2="235.02" stroke="#f3f6f6" stroke-width="0.8" />
<line x1="292.00" y1="204.27" x2="404.40" y2="204.27" stroke="#f3f6f6" stroke-width="0.8" />
<line x1="292.00" y1="311.90" x2="404.40" y2="311.90" stroke="#e9efef" stroke-width="1" />
<line x1="292.00" y1="281.15" x2="404.40" y2="281.15" stroke="#e9efef" stroke-width="1" />
<line x1="292.00" y1="250.40" x2="404.40" y2="250.40" stroke="#e9efef" stroke-width="1" />
<line x1="292.00" y1="219.65" x2="404.40" y2="219.65" stroke="#e9efef" stroke-width="1" />
<line x1="292.00" y1="188.90" x2="404.40" y2="188.90" stroke="#e9efef" stroke-width="1" />
<line x1="322.70" y1="182.40" x2="322.70" y2="317.40" stroke="#e9efef" stroke-width="1" />
<line x1="373.80" y1="182.40" x2="373.80" y2="317.40" stroke="#e9efef" stroke-width="1" />
<rect x="299.70" y="188.90" width="46.00" height="44.03" fill="#c9d8d9" />
<rect x="299.70" y="232.93" width="46.00" height="48.09" fill="#e3a177" />
<rect x="299.70" y="281.03" width="46.00" height="30.87" fill="#8cc2da" />
<text x="322.70" y="308.60" font-size="7.1" fill="#e4f1f7" text-anchor="middle" font-weight="normal" font-style="normal" stroke="#e4f1f7" stroke-width="0.05" >25.1%</text>
<rect x="350.80" y="188.90" width="46.00" height="37.64" fill="#c9d8d9" />
<rect x="350.80" y="226.54" width="46.00" height="25.09" fill="#e3a177" />
<rect x="350.80" y="251.63" width="46.00" height="60.27" fill="#8cc2da" />
<text x="373.80" y="308.60" font-size="7.1" fill="#e4f1f7" text-anchor="middle" font-weight="normal" font-style="normal" stroke="#e4f1f7" stroke-width="0.05" >49.0%</text>
<rect x="292.0" y="182.4" width="112.39999999999998" height="134.99999999999997" fill="none" stroke="#858e8f" stroke-width="0.9"/>
<line x1="289.60" y1="311.90" x2="292.00" y2="311.90" stroke="#4a4a4a" stroke-width="0.9" />
<text x="287.90" y="314.35" font-size="6.8" fill="#5a6060" text-anchor="end" font-weight="normal" font-style="normal" stroke="#5a6060" stroke-width="0.2" >0%</text>
<line x1="289.60" y1="281.15" x2="292.00" y2="281.15" stroke="#4a4a4a" stroke-width="0.9" />
<text x="287.90" y="283.60" font-size="6.8" fill="#5a6060" text-anchor="end" font-weight="normal" font-style="normal" stroke="#5a6060" stroke-width="0.2" >25%</text>
<line x1="289.60" y1="250.40" x2="292.00" y2="250.40" stroke="#4a4a4a" stroke-width="0.9" />
<text x="287.90" y="252.85" font-size="6.8" fill="#5a6060" text-anchor="end" font-weight="normal" font-style="normal" stroke="#5a6060" stroke-width="0.2" >50%</text>
<line x1="289.60" y1="219.65" x2="292.00" y2="219.65" stroke="#4a4a4a" stroke-width="0.9" />
<text x="287.90" y="222.10" font-size="6.8" fill="#5a6060" text-anchor="end" font-weight="normal" font-style="normal" stroke="#5a6060" stroke-width="0.2" >75%</text>
<line x1="289.60" y1="188.90" x2="292.00" y2="188.90" stroke="#4a4a4a" stroke-width="0.9" />
<text x="287.90" y="191.35" font-size="6.8" fill="#5a6060" text-anchor="end" font-weight="normal" font-style="normal" stroke="#5a6060" stroke-width="0.2" >100%</text>
<line x1="322.70" y1="317.40" x2="322.70" y2="319.80" stroke="#4a4a4a" stroke-width="0.9" />
<text x="322.70" y="326.60" font-size="6.8" fill="#5a6060" text-anchor="middle" font-weight="normal" font-style="normal" stroke="#5a6060" stroke-width="0.2" >CT in EC</text>
<line x1="373.80" y1="317.40" x2="373.80" y2="319.80" stroke="#4a4a4a" stroke-width="0.9" />
<text x="373.80" y="326.60" font-size="6.8" fill="#5a6060" text-anchor="middle" font-weight="normal" font-style="normal" stroke="#5a6060" stroke-width="0.2" >PET in EC</text>
<text x="0" y="0" font-size="8.3" fill="#1a1a1a" stroke="#1a1a1a" stroke-width="0.2" text-anchor="middle" transform="translate(266.6,249.9) rotate(-90)">Proportion</text>
<text x="417.00" y="231.70" font-size="8.2" fill="#1a1a1a" text-anchor="start" font-weight="normal" font-style="normal" stroke="#1a1a1a" stroke-width="0.2" >ICC</text>
<rect x="417.40" y="237.05" width="12.30" height="11.80" fill="#8cc2da" />
<text x="434.00" y="245.70" font-size="6.9" fill="#5a6060" text-anchor="start" font-weight="normal" font-style="normal" stroke="#5a6060" stroke-width="0.2" >[0.90,1]</text>
<rect x="417.40" y="249.95" width="12.30" height="11.80" fill="#e3a177" />
<text x="434.00" y="258.60" font-size="6.9" fill="#5a6060" text-anchor="start" font-weight="normal" font-style="normal" stroke="#5a6060" stroke-width="0.2" >[0.75,0.90)</text>
<rect x="417.40" y="262.85" width="12.30" height="11.80" fill="#c9d8d9" />
<text x="434.00" y="271.50" font-size="6.9" fill="#5a6060" text-anchor="start" font-weight="normal" font-style="normal" stroke="#5a6060" stroke-width="0.2" >[0,0.75)</text>
<rect x="292.0" y="357.4" width="112.39999999999998" height="135.0" fill="#fff"/>
<line x1="292.00" y1="470.94" x2="404.40" y2="470.94" stroke="#f3f6f6" stroke-width="0.8" />
<line x1="292.00" y1="440.21" x2="404.40" y2="440.21" stroke="#f3f6f6" stroke-width="0.8" />
<line x1="292.00" y1="409.49" x2="404.40" y2="409.49" stroke="#f3f6f6" stroke-width="0.8" />
<line x1="292.00" y1="378.76" x2="404.40" y2="378.76" stroke="#f3f6f6" stroke-width="0.8" />
<line x1="292.00" y1="486.30" x2="404.40" y2="486.30" stroke="#e9efef" stroke-width="1" />
<line x1="292.00" y1="455.57" x2="404.40" y2="455.57" stroke="#e9efef" stroke-width="1" />
<line x1="292.00" y1="424.85" x2="404.40" y2="424.85" stroke="#e9efef" stroke-width="1" />
<line x1="292.00" y1="394.12" x2="404.40" y2="394.12" stroke="#e9efef" stroke-width="1" />
<line x1="292.00" y1="363.40" x2="404.40" y2="363.40" stroke="#e9efef" stroke-width="1" />
<line x1="322.70" y1="357.40" x2="322.70" y2="492.40" stroke="#e9efef" stroke-width="1" />
<line x1="373.80" y1="357.40" x2="373.80" y2="492.40" stroke="#e9efef" stroke-width="1" />
<rect x="299.70" y="363.40" width="46.00" height="44.00" fill="#c9d8d9" />
<rect x="299.70" y="407.40" width="46.00" height="48.05" fill="#e3a177" />
<rect x="299.70" y="455.45" width="46.00" height="30.85" fill="#8cc2da" />
<text x="322.70" y="483.00" font-size="7.1" fill="#e4f1f7" text-anchor="middle" font-weight="normal" font-style="normal" stroke="#e4f1f7" stroke-width="0.05" >25.1%</text>
<rect x="350.80" y="363.40" width="46.00" height="43.26" fill="#c9d8d9" />
<rect x="350.80" y="406.66" width="46.00" height="46.46" fill="#e3a177" />
<rect x="350.80" y="453.12" width="46.00" height="33.18" fill="#8cc2da" />
<text x="373.80" y="483.00" font-size="7.1" fill="#e4f1f7" text-anchor="middle" font-weight="normal" font-style="normal" stroke="#e4f1f7" stroke-width="0.05" >27.0%</text>
<rect x="292.0" y="357.4" width="112.39999999999998" height="135.0" fill="none" stroke="#858e8f" stroke-width="0.9"/>
<line x1="289.60" y1="486.30" x2="292.00" y2="486.30" stroke="#4a4a4a" stroke-width="0.9" />
<text x="287.90" y="488.75" font-size="6.8" fill="#5a6060" text-anchor="end" font-weight="normal" font-style="normal" stroke="#5a6060" stroke-width="0.2" >0%</text>
<line x1="289.60" y1="455.57" x2="292.00" y2="455.57" stroke="#4a4a4a" stroke-width="0.9" />
<text x="287.90" y="458.02" font-size="6.8" fill="#5a6060" text-anchor="end" font-weight="normal" font-style="normal" stroke="#5a6060" stroke-width="0.2" >25%</text>
<line x1="289.60" y1="424.85" x2="292.00" y2="424.85" stroke="#4a4a4a" stroke-width="0.9" />
<text x="287.90" y="427.30" font-size="6.8" fill="#5a6060" text-anchor="end" font-weight="normal" font-style="normal" stroke="#5a6060" stroke-width="0.2" >50%</text>
<line x1="289.60" y1="394.12" x2="292.00" y2="394.12" stroke="#4a4a4a" stroke-width="0.9" />
<text x="287.90" y="396.57" font-size="6.8" fill="#5a6060" text-anchor="end" font-weight="normal" font-style="normal" stroke="#5a6060" stroke-width="0.2" >75%</text>
<line x1="289.60" y1="363.40" x2="292.00" y2="363.40" stroke="#4a4a4a" stroke-width="0.9" />
<text x="287.90" y="365.85" font-size="6.8" fill="#5a6060" text-anchor="end" font-weight="normal" font-style="normal" stroke="#5a6060" stroke-width="0.2" >100%</text>
<line x1="322.70" y1="492.40" x2="322.70" y2="494.80" stroke="#4a4a4a" stroke-width="0.9" />
<text x="322.70" y="501.60" font-size="6.8" fill="#5a6060" text-anchor="middle" font-weight="normal" font-style="normal" stroke="#5a6060" stroke-width="0.2" >Tumor of CT</text>
<line x1="373.80" y1="492.40" x2="373.80" y2="494.80" stroke="#4a4a4a" stroke-width="0.9" />
<text x="373.80" y="501.60" font-size="6.8" fill="#5a6060" text-anchor="middle" font-weight="normal" font-style="normal" stroke="#5a6060" stroke-width="0.2" >Peritumor of CT</text>
<text x="0" y="0" font-size="8.3" fill="#1a1a1a" stroke="#1a1a1a" stroke-width="0.2" text-anchor="middle" transform="translate(266.6,424.9) rotate(-90)">Proportion</text>
<text x="417.00" y="406.70" font-size="8.2" fill="#1a1a1a" text-anchor="start" font-weight="normal" font-style="normal" stroke="#1a1a1a" stroke-width="0.2" >ICC</text>
<rect x="417.40" y="412.05" width="12.30" height="11.80" fill="#8cc2da" />
<text x="434.00" y="420.70" font-size="6.9" fill="#5a6060" text-anchor="start" font-weight="normal" font-style="normal" stroke="#5a6060" stroke-width="0.2" >[0.90,1]</text>
<rect x="417.40" y="424.95" width="12.30" height="11.80" fill="#e3a177" />
<text x="434.00" y="433.60" font-size="6.9" fill="#5a6060" text-anchor="start" font-weight="normal" font-style="normal" stroke="#5a6060" stroke-width="0.2" >[0.75,0.90)</text>
<rect x="417.40" y="437.85" width="12.30" height="11.80" fill="#c9d8d9" />
<text x="434.00" y="446.50" font-size="6.9" fill="#5a6060" text-anchor="start" font-weight="normal" font-style="normal" stroke="#5a6060" stroke-width="0.2" >[0,0.75)</text>
<rect x="292.0" y="538.9" width="112.39999999999998" height="135.0" fill="#fff"/>
<line x1="292.00" y1="652.42" x2="404.40" y2="652.42" stroke="#f3f6f6" stroke-width="0.8" />
<line x1="292.00" y1="621.67" x2="404.40" y2="621.67" stroke="#f3f6f6" stroke-width="0.8" />
<line x1="292.00" y1="590.92" x2="404.40" y2="590.92" stroke="#f3f6f6" stroke-width="0.8" />
<line x1="292.00" y1="560.17" x2="404.40" y2="560.17" stroke="#f3f6f6" stroke-width="0.8" />
<line x1="292.00" y1="667.80" x2="404.40" y2="667.80" stroke="#e9efef" stroke-width="1" />
<line x1="292.00" y1="637.05" x2="404.40" y2="637.05" stroke="#e9efef" stroke-width="1" />
<line x1="292.00" y1="606.30" x2="404.40" y2="606.30" stroke="#e9efef" stroke-width="1" />
<line x1="292.00" y1="575.55" x2="404.40" y2="575.55" stroke="#e9efef" stroke-width="1" />
<line x1="292.00" y1="544.80" x2="404.40" y2="544.80" stroke="#e9efef" stroke-width="1" />
<line x1="322.70" y1="538.90" x2="322.70" y2="673.90" stroke="#e9efef" stroke-width="1" />
<line x1="373.80" y1="538.90" x2="373.80" y2="673.90" stroke="#e9efef" stroke-width="1" />
<rect x="299.70" y="544.80" width="46.00" height="37.64" fill="#c9d8d9" />
<rect x="299.70" y="582.44" width="46.00" height="25.09" fill="#e3a177" />
<rect x="299.70" y="607.53" width="46.00" height="60.27" fill="#8cc2da" />
<text x="322.70" y="664.50" font-size="7.1" fill="#e4f1f7" text-anchor="middle" font-weight="normal" font-style="normal" stroke="#e4f1f7" stroke-width="0.05" >49.0%</text>
<rect x="350.80" y="544.80" width="46.00" height="48.83" fill="#c9d8d9" />
<rect x="350.80" y="593.63" width="46.00" height="39.24" fill="#e3a177" />
<rect x="350.80" y="632.87" width="46.00" height="34.93" fill="#8cc2da" />
<text x="373.80" y="664.50" font-size="7.1" fill="#e4f1f7" text-anchor="middle" font-weight="normal" font-style="normal" stroke="#e4f1f7" stroke-width="0.05" >28.4%</text>
<rect x="292.0" y="538.9" width="112.39999999999998" height="135.0" fill="none" stroke="#858e8f" stroke-width="0.9"/>
<line x1="289.60" y1="667.80" x2="292.00" y2="667.80" stroke="#4a4a4a" stroke-width="0.9" />
<text x="287.90" y="670.25" font-size="6.8" fill="#5a6060" text-anchor="end" font-weight="normal" font-style="normal" stroke="#5a6060" stroke-width="0.2" >0%</text>
<line x1="289.60" y1="637.05" x2="292.00" y2="637.05" stroke="#4a4a4a" stroke-width="0.9" />
<text x="287.90" y="639.50" font-size="6.8" fill="#5a6060" text-anchor="end" font-weight="normal" font-style="normal" stroke="#5a6060" stroke-width="0.2" >25%</text>
<line x1="289.60" y1="606.30" x2="292.00" y2="606.30" stroke="#4a4a4a" stroke-width="0.9" />
<text x="287.90" y="608.75" font-size="6.8" fill="#5a6060" text-anchor="end" font-weight="normal" font-style="normal" stroke="#5a6060" stroke-width="0.2" >50%</text>
<line x1="289.60" y1="575.55" x2="292.00" y2="575.55" stroke="#4a4a4a" stroke-width="0.9" />
<text x="287.90" y="578.00" font-size="6.8" fill="#5a6060" text-anchor="end" font-weight="normal" font-style="normal" stroke="#5a6060" stroke-width="0.2" >75%</text>
<line x1="289.60" y1="544.80" x2="292.00" y2="544.80" stroke="#4a4a4a" stroke-width="0.9" />
<text x="287.90" y="547.25" font-size="6.8" fill="#5a6060" text-anchor="end" font-weight="normal" font-style="normal" stroke="#5a6060" stroke-width="0.2" >100%</text>
<line x1="322.70" y1="673.90" x2="322.70" y2="676.30" stroke="#4a4a4a" stroke-width="0.9" />
<text x="322.70" y="683.00" font-size="6.8" fill="#5a6060" text-anchor="middle" font-weight="normal" font-style="normal" stroke="#5a6060" stroke-width="0.2" >Tumor of PET</text>
<line x1="373.80" y1="673.90" x2="373.80" y2="676.30" stroke="#4a4a4a" stroke-width="0.9" />
<text x="373.80" y="683.00" font-size="6.8" fill="#5a6060" text-anchor="middle" font-weight="normal" font-style="normal" stroke="#5a6060" stroke-width="0.2" >Peritumor of PET</text>
<text x="0" y="0" font-size="8.3" fill="#1a1a1a" stroke="#1a1a1a" stroke-width="0.2" text-anchor="middle" transform="translate(266.6,606.4) rotate(-90)">Proportion</text>
<text x="417.00" y="588.20" font-size="8.2" fill="#1a1a1a" text-anchor="start" font-weight="normal" font-style="normal" stroke="#1a1a1a" stroke-width="0.2" >ICC</text>
<rect x="417.40" y="593.55" width="12.30" height="11.80" fill="#8cc2da" />
<text x="434.00" y="602.20" font-size="6.9" fill="#5a6060" text-anchor="start" font-weight="normal" font-style="normal" stroke="#5a6060" stroke-width="0.2" >[0.90,1]</text>
<rect x="417.40" y="606.45" width="12.30" height="11.80" fill="#e3a177" />
<text x="434.00" y="615.10" font-size="6.9" fill="#5a6060" text-anchor="start" font-weight="normal" font-style="normal" stroke="#5a6060" stroke-width="0.2" >[0.75,0.90)</text>
<rect x="417.40" y="619.35" width="12.30" height="11.80" fill="#c9d8d9" />
<text x="434.00" y="628.00" font-size="6.9" fill="#5a6060" text-anchor="start" font-weight="normal" font-style="normal" stroke="#5a6060" stroke-width="0.2" >[0,0.75)</text>
<rect x="292.0" y="715.5" width="112.39999999999998" height="135.0" fill="#fff"/>
<line x1="292.00" y1="829.19" x2="404.40" y2="829.19" stroke="#f3f6f6" stroke-width="0.8" />
<line x1="292.00" y1="798.36" x2="404.40" y2="798.36" stroke="#f3f6f6" stroke-width="0.8" />
<line x1="292.00" y1="767.54" x2="404.40" y2="767.54" stroke="#f3f6f6" stroke-width="0.8" />
<line x1="292.00" y1="736.71" x2="404.40" y2="736.71" stroke="#f3f6f6" stroke-width="0.8" />
<line x1="292.00" y1="844.60" x2="404.40" y2="844.60" stroke="#e9efef" stroke-width="1" />
<line x1="292.00" y1="813.77" x2="404.40" y2="813.77" stroke="#e9efef" stroke-width="1" />
<line x1="292.00" y1="782.95" x2="404.40" y2="782.95" stroke="#e9efef" stroke-width="1" />
<line x1="292.00" y1="752.12" x2="404.40" y2="752.12" stroke="#e9efef" stroke-width="1" />
<line x1="292.00" y1="721.30" x2="404.40" y2="721.30" stroke="#e9efef" stroke-width="1" />
<line x1="322.70" y1="715.50" x2="322.70" y2="850.50" stroke="#e9efef" stroke-width="1" />
<line x1="373.80" y1="715.50" x2="373.80" y2="850.50" stroke="#e9efef" stroke-width="1" />
<rect x="299.70" y="721.30" width="46.00" height="21.45" fill="#c9d8d9" />
<rect x="299.70" y="742.75" width="46.00" height="46.36" fill="#e3a177" />
<rect x="299.70" y="789.12" width="46.00" height="55.49" fill="#8cc2da" />
<text x="322.70" y="841.30" font-size="7.1" fill="#e4f1f7" text-anchor="middle" font-weight="normal" font-style="normal" stroke="#e4f1f7" stroke-width="0.05" >45.0%</text>
<rect x="350.80" y="721.30" width="46.00" height="28.36" fill="#c9d8d9" />
<rect x="350.80" y="749.66" width="46.00" height="46.48" fill="#e3a177" />
<rect x="350.80" y="796.14" width="46.00" height="48.46" fill="#8cc2da" />
<text x="373.80" y="841.30" font-size="7.1" fill="#e4f1f7" text-anchor="middle" font-weight="normal" font-style="normal" stroke="#e4f1f7" stroke-width="0.05" >39.3%</text>
<rect x="292.0" y="715.5" width="112.39999999999998" height="135.0" fill="none" stroke="#858e8f" stroke-width="0.9"/>
<line x1="289.60" y1="844.60" x2="292.00" y2="844.60" stroke="#4a4a4a" stroke-width="0.9" />
<text x="287.90" y="847.05" font-size="6.8" fill="#5a6060" text-anchor="end" font-weight="normal" font-style="normal" stroke="#5a6060" stroke-width="0.2" >0%</text>
<line x1="289.60" y1="813.77" x2="292.00" y2="813.77" stroke="#4a4a4a" stroke-width="0.9" />
<text x="287.90" y="816.23" font-size="6.8" fill="#5a6060" text-anchor="end" font-weight="normal" font-style="normal" stroke="#5a6060" stroke-width="0.2" >25%</text>
<line x1="289.60" y1="782.95" x2="292.00" y2="782.95" stroke="#4a4a4a" stroke-width="0.9" />
<text x="287.90" y="785.40" font-size="6.8" fill="#5a6060" text-anchor="end" font-weight="normal" font-style="normal" stroke="#5a6060" stroke-width="0.2" >50%</text>
<line x1="289.60" y1="752.12" x2="292.00" y2="752.12" stroke="#4a4a4a" stroke-width="0.9" />
<text x="287.90" y="754.58" font-size="6.8" fill="#5a6060" text-anchor="end" font-weight="normal" font-style="normal" stroke="#5a6060" stroke-width="0.2" >75%</text>
<line x1="289.60" y1="721.30" x2="292.00" y2="721.30" stroke="#4a4a4a" stroke-width="0.9" />
<text x="287.90" y="723.75" font-size="6.8" fill="#5a6060" text-anchor="end" font-weight="normal" font-style="normal" stroke="#5a6060" stroke-width="0.2" >100%</text>
<line x1="322.70" y1="850.50" x2="322.70" y2="852.90" stroke="#4a4a4a" stroke-width="0.9" />
<text x="322.70" y="859.60" font-size="6.8" fill="#5a6060" text-anchor="middle" font-weight="normal" font-style="normal" stroke="#5a6060" stroke-width="0.2" >Tumor</text>
<line x1="373.80" y1="850.50" x2="373.80" y2="852.90" stroke="#4a4a4a" stroke-width="0.9" />
<text x="373.80" y="859.60" font-size="6.8" fill="#5a6060" text-anchor="middle" font-weight="normal" font-style="normal" stroke="#5a6060" stroke-width="0.2" >Lymph node</text>
<text x="0" y="0" font-size="8.3" fill="#1a1a1a" stroke="#1a1a1a" stroke-width="0.2" text-anchor="middle" transform="translate(266.6,783.0) rotate(-90)">Proportion</text>
<text x="417.00" y="764.80" font-size="8.2" fill="#1a1a1a" text-anchor="start" font-weight="normal" font-style="normal" stroke="#1a1a1a" stroke-width="0.2" >ICC</text>
<rect x="417.40" y="770.15" width="12.30" height="11.80" fill="#8cc2da" />
<text x="434.00" y="778.80" font-size="6.9" fill="#5a6060" text-anchor="start" font-weight="normal" font-style="normal" stroke="#5a6060" stroke-width="0.2" >[0.90,1]</text>
<rect x="417.40" y="783.05" width="12.30" height="11.80" fill="#e3a177" />
<text x="434.00" y="791.70" font-size="6.9" fill="#5a6060" text-anchor="start" font-weight="normal" font-style="normal" stroke="#5a6060" stroke-width="0.2" >[0.75,0.90)</text>
<rect x="417.40" y="795.95" width="12.30" height="11.80" fill="#c9d8d9" />
<text x="434.00" y="804.60" font-size="6.9" fill="#5a6060" text-anchor="start" font-weight="normal" font-style="normal" stroke="#5a6060" stroke-width="0.2" >[0,0.75)</text>
<rect x="527.4" y="5.6" width="156.39999999999998" height="124.4" fill="#fff"/>
<line x1="527.40" y1="111.62" x2="683.80" y2="111.62" stroke="#f3f6f6" stroke-width="0.8" />
<line x1="551.96" y1="5.60" x2="551.96" y2="130.00" stroke="#f3f6f6" stroke-width="0.8" />
<line x1="527.40" y1="82.88" x2="683.80" y2="82.88" stroke="#f3f6f6" stroke-width="0.8" />
<line x1="587.69" y1="5.60" x2="587.69" y2="130.00" stroke="#f3f6f6" stroke-width="0.8" />
<line x1="527.40" y1="54.12" x2="683.80" y2="54.12" stroke="#f3f6f6" stroke-width="0.8" />
<line x1="623.41" y1="5.60" x2="623.41" y2="130.00" stroke="#f3f6f6" stroke-width="0.8" />
<line x1="527.40" y1="25.38" x2="683.80" y2="25.38" stroke="#f3f6f6" stroke-width="0.8" />
<line x1="659.14" y1="5.60" x2="659.14" y2="130.00" stroke="#f3f6f6" stroke-width="0.8" />
<line x1="527.40" y1="126.00" x2="683.80" y2="126.00" stroke="#e9efef" stroke-width="1" />
<line x1="534.10" y1="5.60" x2="534.10" y2="130.00" stroke="#e9efef" stroke-width="1" />
<line x1="527.40" y1="97.25" x2="683.80" y2="97.25" stroke="#e9efef" stroke-width="1" />
<line x1="569.83" y1="5.60" x2="569.83" y2="130.00" stroke="#e9efef" stroke-width="1" />
<line x1="527.40" y1="68.50" x2="683.80" y2="68.50" stroke="#e9efef" stroke-width="1" />
<line x1="605.55" y1="5.60" x2="605.55" y2="130.00" stroke="#e9efef" stroke-width="1" />
<line x1="527.40" y1="39.75" x2="683.80" y2="39.75" stroke="#e9efef" stroke-width="1" />
<line x1="641.28" y1="5.60" x2="641.28" y2="130.00" stroke="#e9efef" stroke-width="1" />
<line x1="527.40" y1="11.00" x2="683.80" y2="11.00" stroke="#e9efef" stroke-width="1" />
<line x1="677.00" y1="5.60" x2="677.00" y2="130.00" stroke="#e9efef" stroke-width="1" />
<g clip-path="url(#sc0)">
<line x1="534.10" y1="88.60" x2="677.00" y2="11.60" stroke="#80d8f6" stroke-width="1.9" stroke-linecap="round"/>
<g fill="#87defb" fill-opacity="0.55">
<circle cx="534.1" cy="124.5" r="2.2"/>
<circle cx="541.8" cy="104.2" r="2.2"/>
<circle cx="541.8" cy="106.4" r="2.2"/>
<circle cx="547.0" cy="114.6" r="2.2"/>
<circle cx="547.0" cy="115.3" r="2.2"/>
<circle cx="550.0" cy="94.8" r="2.2"/>
<circle cx="548.5" cy="102.7" r="2.2"/>
<circle cx="551.9" cy="100.8" r="2.2"/>
<circle cx="551.5" cy="103.7" r="2.2"/>
<circle cx="554.0" cy="108.2" r="2.2"/>
<circle cx="559.1" cy="108.2" r="2.2"/>
<circle cx="546.0" cy="85.9" r="2.2"/>
<circle cx="534.1" cy="87.1" r="2.2"/>
<circle cx="542.1" cy="70.5" r="2.2"/>
<circle cx="546.0" cy="65.2" r="2.2"/>
<circle cx="554.9" cy="59.2" r="2.2"/>
<circle cx="562.6" cy="69.0" r="2.2"/>
<circle cx="564.1" cy="86.8" r="2.2"/>
<circle cx="567.8" cy="60.1" r="2.2"/>
<circle cx="567.8" cy="68.1" r="2.2"/>
<circle cx="570.8" cy="66.3" r="2.2"/>
<circle cx="569.0" cy="78.2" r="2.2"/>
<circle cx="569.0" cy="81.2" r="2.2"/>
<circle cx="571.5" cy="79.7" r="2.2"/>
<circle cx="573.0" cy="84.9" r="2.2"/>
<circle cx="567.1" cy="87.9" r="2.2"/>
<circle cx="569.3" cy="89.3" r="2.2"/>
<circle cx="571.5" cy="90.1" r="2.2"/>
<circle cx="567.8" cy="92.3" r="2.2"/>
<circle cx="574.5" cy="90.1" r="2.2"/>
<circle cx="576.7" cy="84.9" r="2.2"/>
<circle cx="573.8" cy="96.3" r="2.2"/>
<circle cx="570.0" cy="87.9" r="2.2"/>
<circle cx="565.6" cy="28.5" r="2.2"/>
<circle cx="571.1" cy="34.0" r="2.2"/>
<circle cx="576.4" cy="34.9" r="2.2"/>
<circle cx="578.2" cy="26.6" r="2.2"/>
<circle cx="579.7" cy="27.7" r="2.2"/>
<circle cx="583.8" cy="31.9" r="2.2"/>
<circle cx="581.9" cy="52.7" r="2.2"/>
<circle cx="581.9" cy="57.4" r="2.2"/>
<circle cx="587.1" cy="61.9" r="2.2"/>
<circle cx="586.4" cy="66.3" r="2.2"/>
<circle cx="581.9" cy="67.5" r="2.2"/>
<circle cx="587.1" cy="84.9" r="2.2"/>
<circle cx="586.4" cy="40.4" r="2.2"/>
<circle cx="588.6" cy="42.3" r="2.2"/>
<circle cx="590.1" cy="43.3" r="2.2"/>
<circle cx="591.6" cy="45.3" r="2.2"/>
<circle cx="586.4" cy="22.6" r="2.2"/>
<circle cx="588.6" cy="23.3" r="2.2"/>
<circle cx="592.0" cy="30.4" r="2.2"/>
<circle cx="596.0" cy="23.3" r="2.2"/>
<circle cx="597.5" cy="24.8" r="2.2"/>
<circle cx="596.8" cy="39.3" r="2.2"/>
<circle cx="597.9" cy="37.4" r="2.2"/>
<circle cx="596.0" cy="51.5" r="2.2"/>
<circle cx="596.8" cy="59.2" r="2.2"/>
<circle cx="602.0" cy="69.6" r="2.2"/>
<circle cx="598.2" cy="76.7" r="2.2"/>
<circle cx="601.2" cy="31.9" r="2.2"/>
<circle cx="603.4" cy="29.2" r="2.2"/>
<circle cx="604.9" cy="38.1" r="2.2"/>
<circle cx="604.2" cy="24.8" r="2.2"/>
<circle cx="605.7" cy="48.5" r="2.2"/>
<circle cx="605.7" cy="53.0" r="2.2"/>
<circle cx="588.6" cy="15.9" r="2.2"/>
<circle cx="609.5" cy="80.4" r="2.2"/>
<circle cx="610.2" cy="79.7" r="2.2"/>
<circle cx="613.2" cy="76.7" r="2.2"/>
<circle cx="613.9" cy="71.5" r="2.2"/>
<circle cx="619.1" cy="72.0" r="2.2"/>
<circle cx="616.9" cy="68.1" r="2.2"/>
<circle cx="608.7" cy="63.7" r="2.2"/>
<circle cx="611.7" cy="58.2" r="2.2"/>
<circle cx="616.9" cy="60.1" r="2.2"/>
<circle cx="622.1" cy="60.1" r="2.2"/>
<circle cx="627.3" cy="60.1" r="2.2"/>
<circle cx="622.8" cy="67.8" r="2.2"/>
<circle cx="625.8" cy="72.0" r="2.2"/>
<circle cx="624.0" cy="64.9" r="2.2"/>
<circle cx="632.5" cy="64.1" r="2.2"/>
<circle cx="636.9" cy="69.0" r="2.2"/>
<circle cx="636.9" cy="76.7" r="2.2"/>
<circle cx="642.8" cy="65.6" r="2.2"/>
<circle cx="645.1" cy="61.1" r="2.2"/>
<circle cx="648.0" cy="58.2" r="2.2"/>
<circle cx="652.5" cy="55.7" r="2.2"/>
<circle cx="654.0" cy="67.8" r="2.2"/>
<circle cx="653.7" cy="70.8" r="2.2"/>
<circle cx="657.7" cy="55.7" r="2.2"/>
<circle cx="662.1" cy="68.1" r="2.2"/>
<circle cx="664.1" cy="62.2" r="2.2"/>
<circle cx="660.7" cy="60.1" r="2.2"/>
<circle cx="665.9" cy="55.9" r="2.2"/>
<circle cx="663.6" cy="51.5" r="2.2"/>
<circle cx="660.7" cy="51.5" r="2.2"/>
<circle cx="651.0" cy="48.5" r="2.2"/>
<circle cx="651.0" cy="51.5" r="2.2"/>
<circle cx="641.4" cy="53.0" r="2.2"/>
<circle cx="642.1" cy="55.9" r="2.2"/>
<circle cx="638.4" cy="51.5" r="2.2"/>
<circle cx="628.7" cy="51.5" r="2.2"/>
<circle cx="624.3" cy="55.2" r="2.2"/>
<circle cx="619.8" cy="52.2" r="2.2"/>
<circle cx="615.4" cy="48.5" r="2.2"/>
<circle cx="608.0" cy="50.0" r="2.2"/>
<circle cx="605.0" cy="48.5" r="2.2"/>
<circle cx="656.9" cy="47.0" r="2.2"/>
<circle cx="661.4" cy="47.0" r="2.2"/>
<circle cx="675.5" cy="23.3" r="2.2"/>
<circle cx="606.5" cy="30.7" r="2.2"/>
<circle cx="609.5" cy="26.3" r="2.2"/>
<circle cx="613.9" cy="23.3" r="2.2"/>
<circle cx="608.0" cy="38.1" r="2.2"/>
<circle cx="612.4" cy="41.1" r="2.2"/>
<circle cx="618.4" cy="44.1" r="2.2"/>
<circle cx="624.3" cy="47.0" r="2.2"/>
<circle cx="630.2" cy="47.0" r="2.2"/>
<circle cx="634.7" cy="48.5" r="2.2"/>
<circle cx="643.6" cy="47.0" r="2.2"/>
<circle cx="649.5" cy="45.6" r="2.2"/>
<circle cx="655.5" cy="44.1" r="2.2"/>
<circle cx="664.4" cy="42.6" r="2.2"/>
<circle cx="668.8" cy="26.3" r="2.2"/>
<circle cx="542.0" cy="104.2" r="2.2"/>
<circle cx="542.0" cy="104.6" r="2.2"/>
<circle cx="547.1" cy="114.9" r="2.2"/>
<circle cx="547.1" cy="115.2" r="2.2"/>
<circle cx="569.0" cy="78.7" r="2.2"/>
<circle cx="568.5" cy="88.5" r="2.2"/>
<circle cx="570.8" cy="90.0" r="2.2"/>
<circle cx="571.5" cy="89.0" r="2.2"/>
<circle cx="629.8" cy="25.1" r="2.2"/>
<circle cx="663.2" cy="24.4" r="2.2"/>
<circle cx="667.0" cy="27.7" r="2.2"/>
<circle cx="675.4" cy="21.1" r="2.2"/>
<circle cx="639.1" cy="35.6" r="2.2"/>
<circle cx="633.1" cy="15.8" r="2.2"/>
<circle cx="632.2" cy="21.5" r="2.2"/>
<circle cx="633.5" cy="41.9" r="2.2"/>
<circle cx="668.1" cy="15.2" r="2.2"/>
<circle cx="658.4" cy="14.0" r="2.2"/>
<circle cx="665.5" cy="28.8" r="2.2"/>
<circle cx="632.5" cy="38.1" r="2.2"/>
<circle cx="673.5" cy="17.8" r="2.2"/>
<circle cx="647.0" cy="31.3" r="2.2"/>
<circle cx="672.9" cy="14.1" r="2.2"/>
<circle cx="656.2" cy="33.9" r="2.2"/>
<circle cx="665.6" cy="26.9" r="2.2"/>
<circle cx="638.0" cy="29.7" r="2.2"/>
<circle cx="651.6" cy="21.4" r="2.2"/>
<circle cx="670.1" cy="22.0" r="2.2"/>
<circle cx="649.0" cy="35.4" r="2.2"/>
<circle cx="658.6" cy="18.3" r="2.2"/>
<circle cx="662.2" cy="35.6" r="2.2"/>
<circle cx="650.7" cy="26.4" r="2.2"/>
<circle cx="654.7" cy="14.8" r="2.2"/>
<circle cx="660.0" cy="38.8" r="2.2"/>
<circle cx="630.9" cy="35.2" r="2.2"/>
<circle cx="661.7" cy="13.9" r="2.2"/>
<circle cx="634.0" cy="20.2" r="2.2"/>
<circle cx="656.9" cy="31.7" r="2.2"/>
<circle cx="664.1" cy="28.9" r="2.2"/>
<circle cx="628.0" cy="16.3" r="2.2"/>
<circle cx="651.4" cy="34.0" r="2.2"/>
<circle cx="633.4" cy="22.9" r="2.2"/>
<circle cx="662.1" cy="30.6" r="2.2"/>
<circle cx="659.1" cy="25.8" r="2.2"/>
<circle cx="652.5" cy="33.4" r="2.2"/>
<circle cx="630.7" cy="36.7" r="2.2"/>
<circle cx="671.2" cy="11.4" r="2.2"/>
<circle cx="632.8" cy="18.2" r="2.2"/>
<circle cx="626.9" cy="14.5" r="2.2"/>
<circle cx="658.0" cy="14.0" r="2.2"/>
<circle cx="644.4" cy="28.0" r="2.2"/>
<circle cx="648.5" cy="21.4" r="2.2"/>
<circle cx="647.4" cy="16.4" r="2.2"/>
<circle cx="654.5" cy="18.3" r="2.2"/>
<circle cx="629.8" cy="16.8" r="2.2"/>
<circle cx="645.0" cy="41.1" r="2.2"/>
<circle cx="644.3" cy="18.6" r="2.2"/>
<circle cx="662.0" cy="16.2" r="2.2"/>
<circle cx="636.9" cy="18.9" r="2.2"/>
<circle cx="638.8" cy="41.3" r="2.2"/>
<circle cx="626.1" cy="19.8" r="2.2"/>
<circle cx="658.1" cy="30.9" r="2.2"/>
<circle cx="641.6" cy="32.5" r="2.2"/>
<circle cx="646.8" cy="34.3" r="2.2"/>
<circle cx="632.0" cy="42.6" r="2.2"/>
<circle cx="641.6" cy="36.7" r="2.2"/>
<circle cx="629.7" cy="39.8" r="2.2"/>
<circle cx="661.5" cy="26.9" r="2.2"/>
<circle cx="631.4" cy="22.7" r="2.2"/>
<circle cx="646.9" cy="17.0" r="2.2"/>
<circle cx="630.7" cy="38.1" r="2.2"/>
<circle cx="652.8" cy="18.9" r="2.2"/>
<circle cx="657.1" cy="31.1" r="2.2"/>
<circle cx="629.2" cy="29.5" r="2.2"/>
<circle cx="654.8" cy="13.6" r="2.2"/>
<circle cx="638.6" cy="38.8" r="2.2"/>
<circle cx="654.5" cy="17.3" r="2.2"/>
<circle cx="643.9" cy="25.2" r="2.2"/>
<circle cx="661.8" cy="38.7" r="2.2"/>
<circle cx="646.6" cy="10.5" r="2.2"/>
<circle cx="630.3" cy="13.4" r="2.2"/>
<circle cx="626.5" cy="30.8" r="2.2"/>
<circle cx="676.5" cy="14.6" r="2.2"/>
<circle cx="664.7" cy="29.5" r="2.2"/>
<circle cx="631.2" cy="41.7" r="2.2"/>
<circle cx="663.4" cy="22.6" r="2.2"/>
<circle cx="672.1" cy="13.3" r="2.2"/>
<circle cx="628.1" cy="40.6" r="2.2"/>
<circle cx="637.5" cy="34.6" r="2.2"/>
<circle cx="665.9" cy="21.5" r="2.2"/>
<circle cx="650.3" cy="28.2" r="2.2"/>
<circle cx="628.6" cy="31.0" r="2.2"/>
<circle cx="650.6" cy="16.7" r="2.2"/>
<circle cx="660.7" cy="11.2" r="2.2"/>
<circle cx="654.4" cy="17.7" r="2.2"/>
<circle cx="677.7" cy="10.2" r="2.2"/>
<circle cx="634.2" cy="39.4" r="2.2"/>
<circle cx="628.3" cy="19.9" r="2.2"/>
<circle cx="638.9" cy="39.4" r="2.2"/>
<circle cx="632.4" cy="12.8" r="2.2"/>
<circle cx="641.0" cy="35.6" r="2.2"/>
<circle cx="662.1" cy="12.6" r="2.2"/>
<circle cx="639.4" cy="16.7" r="2.2"/>
<circle cx="636.7" cy="32.2" r="2.2"/>
<circle cx="646.8" cy="35.2" r="2.2"/>
<circle cx="630.7" cy="34.8" r="2.2"/>
<circle cx="669.6" cy="11.3" r="2.2"/>
<circle cx="645.7" cy="22.6" r="2.2"/>
<circle cx="632.6" cy="15.9" r="2.2"/>
<circle cx="636.6" cy="17.1" r="2.2"/>
<circle cx="638.2" cy="40.1" r="2.2"/>
<circle cx="675.5" cy="18.6" r="2.2"/>
<circle cx="623.1" cy="18.8" r="2.2"/>
<circle cx="670.3" cy="15.8" r="2.2"/>
<circle cx="659.2" cy="13.0" r="2.2"/>
<circle cx="641.6" cy="15.5" r="2.2"/>
<circle cx="656.6" cy="22.3" r="2.2"/>
<circle cx="665.6" cy="27.2" r="2.2"/>
<circle cx="644.5" cy="10.6" r="2.2"/>
<circle cx="669.2" cy="11.2" r="2.2"/>
<circle cx="666.5" cy="21.8" r="2.2"/>
<circle cx="674.4" cy="18.5" r="2.2"/>
<circle cx="654.6" cy="29.2" r="2.2"/>
<circle cx="662.5" cy="19.5" r="2.2"/>
<circle cx="644.1" cy="20.7" r="2.2"/>
<circle cx="640.8" cy="35.8" r="2.2"/>
<circle cx="656.7" cy="18.1" r="2.2"/>
<circle cx="649.9" cy="13.1" r="2.2"/>
<circle cx="633.5" cy="12.4" r="2.2"/>
<circle cx="634.0" cy="41.7" r="2.2"/>
<circle cx="640.6" cy="33.1" r="2.2"/>
<circle cx="655.4" cy="25.8" r="2.2"/>
<circle cx="660.8" cy="39.8" r="2.2"/>
<circle cx="661.1" cy="26.9" r="2.2"/>
<circle cx="644.5" cy="11.2" r="2.2"/>
<circle cx="652.0" cy="35.0" r="2.2"/>
<circle cx="661.1" cy="13.2" r="2.2"/>
<circle cx="637.3" cy="35.7" r="2.2"/>
<circle cx="653.0" cy="39.1" r="2.2"/>
<circle cx="623.9" cy="32.8" r="2.2"/>
<circle cx="673.3" cy="16.0" r="2.2"/>
<circle cx="658.7" cy="31.0" r="2.2"/>
<circle cx="651.7" cy="21.2" r="2.2"/>
<circle cx="650.3" cy="23.1" r="2.2"/>
<circle cx="676.7" cy="15.8" r="2.2"/>
<circle cx="653.5" cy="38.0" r="2.2"/>
<circle cx="660.3" cy="24.9" r="2.2"/>
<circle cx="676.5" cy="9.9" r="2.2"/>
<circle cx="645.6" cy="25.0" r="2.2"/>
<circle cx="662.4" cy="19.5" r="2.2"/>
<circle cx="632.8" cy="24.9" r="2.2"/>
<circle cx="657.7" cy="27.6" r="2.2"/>
<circle cx="671.3" cy="25.7" r="2.2"/>
<circle cx="633.2" cy="31.4" r="2.2"/>
<circle cx="643.7" cy="10.7" r="2.2"/>
<circle cx="644.3" cy="13.6" r="2.2"/>
<circle cx="629.6" cy="37.9" r="2.2"/>
<circle cx="665.0" cy="17.9" r="2.2"/>
<circle cx="648.5" cy="15.6" r="2.2"/>
<circle cx="639.1" cy="27.4" r="2.2"/>
<circle cx="643.6" cy="22.9" r="2.2"/>
<circle cx="662.0" cy="32.6" r="2.2"/>
<circle cx="665.8" cy="10.9" r="2.2"/>
<circle cx="664.0" cy="10.5" r="2.2"/>
<circle cx="645.9" cy="22.7" r="2.2"/>
<circle cx="659.6" cy="18.8" r="2.2"/>
<circle cx="651.1" cy="15.3" r="2.2"/>
<circle cx="664.3" cy="22.2" r="2.2"/>
<circle cx="637.3" cy="24.0" r="2.2"/>
<circle cx="638.1" cy="28.1" r="2.2"/>
<circle cx="657.7" cy="35.3" r="2.2"/>
<circle cx="661.9" cy="32.4" r="2.2"/>
<circle cx="644.9" cy="24.6" r="2.2"/>
<circle cx="664.8" cy="21.9" r="2.2"/>
<circle cx="651.2" cy="23.2" r="2.2"/>
<circle cx="633.4" cy="15.3" r="2.2"/>
<circle cx="624.3" cy="33.6" r="2.2"/>
<circle cx="651.5" cy="37.2" r="2.2"/>
<circle cx="672.5" cy="21.5" r="2.2"/>
<circle cx="664.0" cy="29.1" r="2.2"/>
<circle cx="637.8" cy="31.5" r="2.2"/>
<circle cx="674.7" cy="18.8" r="2.2"/>
<circle cx="630.4" cy="20.3" r="2.2"/>
<circle cx="646.7" cy="26.9" r="2.2"/>
<circle cx="634.8" cy="18.0" r="2.2"/>
<circle cx="629.8" cy="25.6" r="2.2"/>
<circle cx="629.6" cy="21.7" r="2.2"/>
<circle cx="631.3" cy="31.1" r="2.2"/>
<circle cx="656.8" cy="17.6" r="2.2"/>
<circle cx="673.1" cy="19.9" r="2.2"/>
<circle cx="653.5" cy="29.7" r="2.2"/>
<circle cx="654.4" cy="21.2" r="2.2"/>
<circle cx="653.4" cy="26.0" r="2.2"/>
<circle cx="637.6" cy="23.5" r="2.2"/>
<circle cx="663.3" cy="33.7" r="2.2"/>
<circle cx="637.3" cy="43.3" r="2.2"/>
<circle cx="645.7" cy="29.3" r="2.2"/>
<circle cx="671.0" cy="14.0" r="2.2"/>
<circle cx="628.3" cy="25.5" r="2.2"/>
<circle cx="632.9" cy="11.9" r="2.2"/>
<circle cx="662.0" cy="28.3" r="2.2"/>
<circle cx="647.4" cy="31.3" r="2.2"/>
<circle cx="638.9" cy="23.1" r="2.2"/>
<circle cx="640.6" cy="31.5" r="2.2"/>
<circle cx="647.6" cy="29.3" r="2.2"/>
<circle cx="652.8" cy="28.9" r="2.2"/>
<circle cx="624.1" cy="36.0" r="2.2"/>
<circle cx="673.2" cy="12.2" r="2.2"/>
<circle cx="663.8" cy="29.0" r="2.2"/>
<circle cx="663.7" cy="10.4" r="2.2"/>
<circle cx="653.0" cy="13.4" r="2.2"/>
<circle cx="665.7" cy="13.1" r="2.2"/>
<circle cx="662.7" cy="38.6" r="2.2"/>
<circle cx="638.1" cy="30.4" r="2.2"/>
<circle cx="664.8" cy="11.9" r="2.2"/>
<circle cx="652.3" cy="28.2" r="2.2"/>
<circle cx="664.8" cy="34.8" r="2.2"/>
<circle cx="650.0" cy="11.6" r="2.2"/>
<circle cx="648.7" cy="32.3" r="2.2"/>
<circle cx="635.8" cy="17.7" r="2.2"/>
<circle cx="653.7" cy="13.3" r="2.2"/>
<circle cx="632.0" cy="22.9" r="2.2"/>
<circle cx="630.7" cy="40.3" r="2.2"/>
<circle cx="654.0" cy="20.3" r="2.2"/>
<circle cx="661.9" cy="29.4" r="2.2"/>
<circle cx="656.7" cy="34.8" r="2.2"/>
<circle cx="671.4" cy="13.1" r="2.2"/>
<circle cx="654.7" cy="21.0" r="2.2"/>
<circle cx="655.4" cy="34.4" r="2.2"/>
<circle cx="671.0" cy="20.4" r="2.2"/>
<circle cx="664.2" cy="34.7" r="2.2"/>
<circle cx="653.3" cy="11.9" r="2.2"/>
<circle cx="648.0" cy="38.5" r="2.2"/>
<circle cx="659.4" cy="33.9" r="2.2"/>
<circle cx="651.7" cy="28.6" r="2.2"/>
<circle cx="658.4" cy="34.4" r="2.2"/>
<circle cx="650.5" cy="15.4" r="2.2"/>
<circle cx="667.0" cy="11.4" r="2.2"/>
<circle cx="631.1" cy="29.0" r="2.2"/>
<circle cx="642.4" cy="39.7" r="2.2"/>
<circle cx="638.6" cy="26.3" r="2.2"/>
<circle cx="632.3" cy="38.1" r="2.2"/>
<circle cx="642.0" cy="33.9" r="2.2"/>
<circle cx="663.4" cy="24.9" r="2.2"/>
<circle cx="630.5" cy="24.3" r="2.2"/>
<circle cx="646.8" cy="24.1" r="2.2"/>
<circle cx="655.0" cy="32.5" r="2.2"/>
<circle cx="660.1" cy="12.1" r="2.2"/>
<circle cx="642.6" cy="16.2" r="2.2"/>
<circle cx="677.8" cy="16.9" r="2.2"/>
<circle cx="660.5" cy="27.3" r="2.2"/>
<circle cx="640.3" cy="16.2" r="2.2"/>
<circle cx="649.6" cy="27.2" r="2.2"/>
<circle cx="675.3" cy="18.5" r="2.2"/>
<circle cx="641.6" cy="39.5" r="2.2"/>
<circle cx="659.3" cy="26.0" r="2.2"/>
<circle cx="637.3" cy="32.1" r="2.2"/>
<circle cx="646.8" cy="30.9" r="2.2"/>
<circle cx="632.7" cy="12.0" r="2.2"/>
<circle cx="630.1" cy="13.4" r="2.2"/>
<circle cx="647.0" cy="38.3" r="2.2"/>
<circle cx="626.9" cy="39.9" r="2.2"/>
<circle cx="646.4" cy="32.9" r="2.2"/>
<circle cx="638.4" cy="33.0" r="2.2"/>
<circle cx="676.3" cy="11.1" r="2.2"/>
<circle cx="643.7" cy="36.9" r="2.2"/>
<circle cx="631.7" cy="21.6" r="2.2"/>
<circle cx="636.4" cy="23.3" r="2.2"/>
<circle cx="642.3" cy="26.9" r="2.2"/>
<circle cx="639.9" cy="39.7" r="2.2"/>
<circle cx="649.3" cy="31.5" r="2.2"/>
<circle cx="670.9" cy="13.2" r="2.2"/>
<circle cx="631.6" cy="14.6" r="2.2"/>
<circle cx="635.0" cy="40.6" r="2.2"/>
<circle cx="650.9" cy="34.9" r="2.2"/>
<circle cx="675.9" cy="19.3" r="2.2"/>
<circle cx="663.1" cy="14.1" r="2.2"/>
<circle cx="643.2" cy="27.5" r="2.2"/>
<circle cx="657.2" cy="16.8" r="2.2"/>
<circle cx="644.9" cy="15.4" r="2.2"/>
<circle cx="642.1" cy="36.8" r="2.2"/>
<circle cx="635.2" cy="20.9" r="2.2"/>
<circle cx="655.8" cy="16.2" r="2.2"/>
<circle cx="671.7" cy="20.7" r="2.2"/>
<circle cx="638.7" cy="20.6" r="2.2"/>
<circle cx="647.3" cy="24.9" r="2.2"/>
<circle cx="644.5" cy="23.8" r="2.2"/>
<circle cx="632.6" cy="12.0" r="2.2"/>
<circle cx="663.8" cy="26.1" r="2.2"/>
<circle cx="676.3" cy="14.2" r="2.2"/>
<circle cx="652.4" cy="28.0" r="2.2"/>
<circle cx="650.9" cy="33.9" r="2.2"/>
<circle cx="659.2" cy="34.7" r="2.2"/>
<circle cx="650.7" cy="36.3" r="2.2"/>
<circle cx="659.3" cy="37.8" r="2.2"/>
<circle cx="665.6" cy="14.1" r="2.2"/>
<circle cx="646.8" cy="32.4" r="2.2"/>
<circle cx="662.2" cy="24.7" r="2.2"/>
<circle cx="634.1" cy="18.9" r="2.2"/>
<circle cx="638.8" cy="14.8" r="2.2"/>
<circle cx="655.6" cy="29.5" r="2.2"/>
<circle cx="635.0" cy="13.3" r="2.2"/>
<circle cx="655.5" cy="14.6" r="2.2"/>
<circle cx="629.1" cy="25.4" r="2.2"/>
<circle cx="667.7" cy="19.7" r="2.2"/>
<circle cx="636.9" cy="11.6" r="2.2"/>
<circle cx="651.5" cy="12.4" r="2.2"/>
<circle cx="661.8" cy="32.2" r="2.2"/>
<circle cx="653.2" cy="23.6" r="2.2"/>
<circle cx="665.0" cy="12.8" r="2.2"/>
<circle cx="637.0" cy="28.7" r="2.2"/>
<circle cx="647.6" cy="26.7" r="2.2"/>
<circle cx="653.6" cy="13.5" r="2.2"/>
<circle cx="659.4" cy="31.4" r="2.2"/>
<circle cx="640.1" cy="36.5" r="2.2"/>
<circle cx="663.9" cy="16.0" r="2.2"/>
<circle cx="647.5" cy="29.4" r="2.2"/>
<circle cx="666.6" cy="16.1" r="2.2"/>
<circle cx="633.2" cy="35.7" r="2.2"/>
<circle cx="661.1" cy="20.1" r="2.2"/>
<circle cx="635.5" cy="24.8" r="2.2"/>
<circle cx="666.3" cy="17.0" r="2.2"/>
<circle cx="624.6" cy="35.3" r="2.2"/>
<circle cx="665.8" cy="29.8" r="2.2"/>
<circle cx="634.4" cy="26.0" r="2.2"/>
<circle cx="655.6" cy="37.4" r="2.2"/>
<circle cx="648.3" cy="14.5" r="2.2"/>
<circle cx="652.8" cy="16.5" r="2.2"/>
<circle cx="639.0" cy="12.7" r="2.2"/>
<circle cx="651.4" cy="35.8" r="2.2"/>
<circle cx="662.3" cy="35.4" r="2.2"/>
<circle cx="634.7" cy="30.5" r="2.2"/>
<circle cx="643.5" cy="34.4" r="2.2"/>
<circle cx="671.7" cy="24.1" r="2.2"/>
<circle cx="634.4" cy="21.5" r="2.2"/>
<circle cx="662.9" cy="16.7" r="2.2"/>
<circle cx="633.5" cy="42.1" r="2.2"/>
<circle cx="631.8" cy="34.5" r="2.2"/>
<circle cx="636.8" cy="32.4" r="2.2"/>
<circle cx="624.5" cy="35.6" r="2.2"/>
<circle cx="633.3" cy="31.8" r="2.2"/>
<circle cx="647.6" cy="32.0" r="2.2"/>
<circle cx="644.6" cy="10.6" r="2.2"/>
<circle cx="638.8" cy="18.4" r="2.2"/>
<circle cx="678.3" cy="11.4" r="2.2"/>
<circle cx="665.4" cy="14.3" r="2.2"/>
<circle cx="640.3" cy="33.7" r="2.2"/>
<circle cx="653.4" cy="10.9" r="2.2"/>
<circle cx="637.6" cy="19.8" r="2.2"/>
<circle cx="658.2" cy="27.0" r="2.2"/>
<circle cx="647.5" cy="10.3" r="2.2"/>
<circle cx="646.5" cy="25.3" r="2.2"/>
<circle cx="629.6" cy="28.8" r="2.2"/>
<circle cx="629.7" cy="22.7" r="2.2"/>
<circle cx="628.7" cy="21.9" r="2.2"/>
<circle cx="639.0" cy="13.7" r="2.2"/>
<circle cx="644.5" cy="34.6" r="2.2"/>
<circle cx="635.0" cy="41.9" r="2.2"/>
<circle cx="636.1" cy="31.4" r="2.2"/>
<circle cx="665.3" cy="26.7" r="2.2"/>
<circle cx="637.6" cy="28.9" r="2.2"/>
<circle cx="663.8" cy="27.9" r="2.2"/>
<circle cx="669.8" cy="10.9" r="2.2"/>
<circle cx="675.0" cy="11.5" r="2.2"/>
<circle cx="640.2" cy="17.4" r="2.2"/>
<circle cx="637.4" cy="39.4" r="2.2"/>
<circle cx="633.5" cy="29.4" r="2.2"/>
<circle cx="655.7" cy="11.8" r="2.2"/>
<circle cx="651.1" cy="16.6" r="2.2"/>
<circle cx="638.7" cy="29.2" r="2.2"/>
<circle cx="637.8" cy="14.6" r="2.2"/>
<circle cx="663.2" cy="26.4" r="2.2"/>
<circle cx="639.8" cy="37.2" r="2.2"/>
<circle cx="639.1" cy="35.5" r="2.2"/>
<circle cx="635.5" cy="26.3" r="2.2"/>
<circle cx="672.2" cy="19.4" r="2.2"/>
<circle cx="657.5" cy="26.2" r="2.2"/>
<circle cx="654.4" cy="24.1" r="2.2"/>
<circle cx="624.7" cy="18.9" r="2.2"/>
<circle cx="656.1" cy="17.3" r="2.2"/>
<circle cx="678.1" cy="11.5" r="2.2"/>
<circle cx="643.4" cy="22.1" r="2.2"/>
<circle cx="654.3" cy="18.2" r="2.2"/>
<circle cx="650.8" cy="18.8" r="2.2"/>
<circle cx="654.6" cy="30.3" r="2.2"/>
<circle cx="663.1" cy="34.3" r="2.2"/>
<circle cx="663.2" cy="12.7" r="2.2"/>
<circle cx="648.8" cy="23.0" r="2.2"/>
<circle cx="666.6" cy="17.4" r="2.2"/>
<circle cx="639.6" cy="19.2" r="2.2"/>
<circle cx="639.5" cy="41.3" r="2.2"/>
<circle cx="641.4" cy="24.7" r="2.2"/>
<circle cx="647.1" cy="22.1" r="2.2"/>
<circle cx="660.2" cy="34.9" r="2.2"/>
<circle cx="660.9" cy="36.9" r="2.2"/>
<circle cx="632.3" cy="31.6" r="2.2"/>
<circle cx="648.9" cy="20.5" r="2.2"/>
<circle cx="660.9" cy="11.4" r="2.2"/>
<circle cx="630.2" cy="39.6" r="2.2"/>
<circle cx="641.2" cy="34.2" r="2.2"/>
<circle cx="624.1" cy="37.1" r="2.2"/>
<circle cx="664.4" cy="23.5" r="2.2"/>
<circle cx="643.1" cy="26.8" r="2.2"/>
<circle cx="650.3" cy="30.7" r="2.2"/>
<circle cx="653.8" cy="15.5" r="2.2"/>
<circle cx="660.2" cy="39.1" r="2.2"/>
<circle cx="639.3" cy="21.5" r="2.2"/>
<circle cx="640.7" cy="16.2" r="2.2"/>
<circle cx="655.5" cy="10.2" r="2.2"/>
<circle cx="656.6" cy="19.6" r="2.2"/>
<circle cx="644.9" cy="14.9" r="2.2"/>
<circle cx="668.8" cy="16.7" r="2.2"/>
<circle cx="623.9" cy="37.0" r="2.2"/>
<circle cx="623.7" cy="19.8" r="2.2"/>
<circle cx="678.3" cy="15.4" r="2.2"/>
<circle cx="652.1" cy="33.7" r="2.2"/>
<circle cx="653.3" cy="27.5" r="2.2"/>
<circle cx="664.9" cy="11.5" r="2.2"/>
<circle cx="639.7" cy="15.8" r="2.2"/>
<circle cx="633.3" cy="28.2" r="2.2"/>
<circle cx="663.2" cy="28.0" r="2.2"/>
<circle cx="664.2" cy="35.7" r="2.2"/>
<circle cx="634.1" cy="17.1" r="2.2"/>
<circle cx="627.9" cy="19.7" r="2.2"/>
<circle cx="646.3" cy="24.5" r="2.2"/>
<circle cx="630.8" cy="28.5" r="2.2"/>
<circle cx="657.2" cy="19.0" r="2.2"/>
<circle cx="664.6" cy="31.3" r="2.2"/>
<circle cx="672.9" cy="20.3" r="2.2"/>
<circle cx="644.5" cy="40.7" r="2.2"/>
<circle cx="635.7" cy="24.0" r="2.2"/>
<circle cx="636.3" cy="11.4" r="2.2"/>
<circle cx="675.9" cy="10.1" r="2.2"/>
<circle cx="653.0" cy="28.0" r="2.2"/>
<circle cx="662.4" cy="26.6" r="2.2"/>
<circle cx="672.9" cy="16.5" r="2.2"/>
<circle cx="657.7" cy="20.3" r="2.2"/>
<circle cx="674.3" cy="12.0" r="2.2"/>
<circle cx="655.5" cy="18.9" r="2.2"/>
<circle cx="675.5" cy="15.8" r="2.2"/>
<circle cx="662.9" cy="10.1" r="2.2"/>
<circle cx="635.3" cy="22.3" r="2.2"/>
<circle cx="657.8" cy="36.3" r="2.2"/>
<circle cx="647.3" cy="14.4" r="2.2"/>
<circle cx="640.5" cy="13.9" r="2.2"/>
<circle cx="670.1" cy="24.3" r="2.2"/>
<circle cx="647.7" cy="33.9" r="2.2"/>
<circle cx="657.7" cy="26.7" r="2.2"/>
<circle cx="644.4" cy="29.8" r="2.2"/>
<circle cx="623.8" cy="34.1" r="2.2"/>
<circle cx="637.4" cy="19.9" r="2.2"/>
<circle cx="646.5" cy="11.0" r="2.2"/>
<circle cx="668.0" cy="14.2" r="2.2"/>
<circle cx="634.0" cy="35.0" r="2.2"/>
<circle cx="653.5" cy="34.5" r="2.2"/>
<circle cx="661.4" cy="32.4" r="2.2"/>
<circle cx="658.2" cy="14.4" r="2.2"/>
<circle cx="651.5" cy="26.8" r="2.2"/>
<circle cx="646.3" cy="41.5" r="2.2"/>
<circle cx="651.9" cy="39.0" r="2.2"/>
<circle cx="641.7" cy="34.6" r="2.2"/>
<circle cx="661.0" cy="31.8" r="2.2"/>
<circle cx="658.4" cy="13.3" r="2.2"/>
<circle cx="659.0" cy="39.8" r="2.2"/>
<circle cx="641.4" cy="39.7" r="2.2"/>
<circle cx="647.5" cy="13.2" r="2.2"/>
<circle cx="645.2" cy="35.1" r="2.2"/>
<circle cx="633.8" cy="22.3" r="2.2"/>
<circle cx="640.7" cy="36.1" r="2.2"/>
<circle cx="639.4" cy="28.9" r="2.2"/>
<circle cx="637.0" cy="41.6" r="2.2"/>
<circle cx="633.0" cy="38.0" r="2.2"/>
<circle cx="643.8" cy="34.3" r="2.2"/>
<circle cx="675.1" cy="13.1" r="2.2"/>
<circle cx="633.4" cy="16.4" r="2.2"/>
<circle cx="632.9" cy="35.0" r="2.2"/>
<circle cx="637.7" cy="27.9" r="2.2"/>
<circle cx="628.8" cy="27.1" r="2.2"/>
<circle cx="638.3" cy="34.1" r="2.2"/>
<circle cx="642.3" cy="13.3" r="2.2"/>
<circle cx="648.9" cy="18.1" r="2.2"/>
<circle cx="656.3" cy="35.3" r="2.2"/>
<circle cx="662.9" cy="11.0" r="2.2"/>
<circle cx="644.4" cy="21.0" r="2.2"/>
<circle cx="634.9" cy="28.9" r="2.2"/>
<circle cx="657.5" cy="28.9" r="2.2"/>
<circle cx="669.8" cy="23.2" r="2.2"/>
<circle cx="646.5" cy="10.9" r="2.2"/>
<circle cx="668.3" cy="13.4" r="2.2"/>
<circle cx="640.1" cy="40.0" r="2.2"/>
<circle cx="674.0" cy="16.5" r="2.2"/>
<circle cx="652.6" cy="21.4" r="2.2"/>
<circle cx="662.5" cy="26.0" r="2.2"/>
<circle cx="658.5" cy="33.2" r="2.2"/>
<circle cx="623.3" cy="18.0" r="2.2"/>
<circle cx="655.1" cy="13.6" r="2.2"/>
<circle cx="646.0" cy="36.2" r="2.2"/>
<circle cx="653.0" cy="22.2" r="2.2"/>
<circle cx="673.6" cy="23.6" r="2.2"/>
<circle cx="664.0" cy="33.9" r="2.2"/>
<circle cx="639.7" cy="16.4" r="2.2"/>
<circle cx="660.4" cy="11.2" r="2.2"/>
<circle cx="652.1" cy="22.8" r="2.2"/>
<circle cx="649.4" cy="16.5" r="2.2"/>
<circle cx="630.7" cy="23.2" r="2.2"/>
<circle cx="665.2" cy="27.4" r="2.2"/>
<circle cx="672.5" cy="23.2" r="2.2"/>
<circle cx="659.8" cy="38.9" r="2.2"/>
<circle cx="650.2" cy="13.9" r="2.2"/>
<circle cx="631.8" cy="23.8" r="2.2"/>
<circle cx="624.5" cy="19.1" r="2.2"/>
<circle cx="661.1" cy="36.6" r="2.2"/>
<circle cx="640.0" cy="40.1" r="2.2"/>
<circle cx="657.1" cy="20.1" r="2.2"/>
<circle cx="666.4" cy="21.2" r="2.2"/>
<circle cx="637.1" cy="39.3" r="2.2"/>
<circle cx="626.8" cy="19.7" r="2.2"/>
<circle cx="642.6" cy="39.7" r="2.2"/>
<circle cx="662.7" cy="32.2" r="2.2"/>
<circle cx="664.0" cy="26.1" r="2.2"/>
<circle cx="637.7" cy="14.6" r="2.2"/>
<circle cx="664.9" cy="22.6" r="2.2"/>
<circle cx="645.3" cy="16.7" r="2.2"/>
<circle cx="677.4" cy="16.3" r="2.2"/>
<circle cx="635.4" cy="19.4" r="2.2"/>
<circle cx="625.1" cy="38.1" r="2.2"/>
<circle cx="647.4" cy="35.4" r="2.2"/>
<circle cx="658.1" cy="12.1" r="2.2"/>
<circle cx="668.9" cy="19.6" r="2.2"/>
<circle cx="666.8" cy="22.8" r="2.2"/>
<circle cx="639.5" cy="11.6" r="2.2"/>
<circle cx="626.8" cy="14.4" r="2.2"/>
<circle cx="651.3" cy="38.6" r="2.2"/>
<circle cx="626.3" cy="39.0" r="2.2"/>
<circle cx="640.6" cy="39.2" r="2.2"/>
<circle cx="639.7" cy="15.3" r="2.2"/>
<circle cx="632.9" cy="39.9" r="2.2"/>
<circle cx="668.1" cy="11.6" r="2.2"/>
<circle cx="648.6" cy="31.7" r="2.2"/>
<circle cx="650.4" cy="28.8" r="2.2"/>
<circle cx="657.0" cy="13.9" r="2.2"/>
<circle cx="647.7" cy="16.0" r="2.2"/>
<circle cx="658.3" cy="28.7" r="2.2"/>
<circle cx="651.7" cy="34.7" r="2.2"/>
<circle cx="678.4" cy="14.4" r="2.2"/>
<circle cx="675.4" cy="20.0" r="2.2"/>
<circle cx="658.2" cy="23.3" r="2.2"/>
<circle cx="652.1" cy="23.0" r="2.2"/>
<circle cx="662.0" cy="32.9" r="2.2"/>
<circle cx="659.3" cy="11.3" r="2.2"/>
<circle cx="649.6" cy="34.4" r="2.2"/>
<circle cx="658.8" cy="35.1" r="2.2"/>
<circle cx="670.9" cy="12.7" r="2.2"/>
<circle cx="673.8" cy="14.4" r="2.2"/>
<circle cx="636.9" cy="31.6" r="2.2"/>
<circle cx="653.2" cy="37.6" r="2.2"/>
<circle cx="666.7" cy="17.0" r="2.2"/>
<circle cx="629.6" cy="36.6" r="2.2"/>
<circle cx="628.0" cy="39.6" r="2.2"/>
<circle cx="666.4" cy="13.4" r="2.2"/>
<circle cx="647.6" cy="27.3" r="2.2"/>
<circle cx="640.1" cy="29.2" r="2.2"/>
<circle cx="632.2" cy="12.2" r="2.2"/>
<circle cx="632.5" cy="35.2" r="2.2"/>
<circle cx="671.1" cy="18.7" r="2.2"/>
<circle cx="641.6" cy="25.2" r="2.2"/>
<circle cx="666.1" cy="13.8" r="2.2"/>
<circle cx="669.9" cy="23.1" r="2.2"/>
<circle cx="665.0" cy="32.3" r="2.2"/>
<circle cx="666.2" cy="19.9" r="2.2"/>
<circle cx="647.2" cy="35.9" r="2.2"/>
<circle cx="642.4" cy="39.2" r="2.2"/>
<circle cx="655.1" cy="25.9" r="2.2"/>
<circle cx="658.7" cy="27.2" r="2.2"/>
<circle cx="644.1" cy="17.9" r="2.2"/>
<circle cx="652.7" cy="28.2" r="2.2"/>
<circle cx="675.0" cy="20.5" r="2.2"/>
<circle cx="629.2" cy="23.7" r="2.2"/>
<circle cx="655.7" cy="34.2" r="2.2"/>
<circle cx="654.4" cy="38.4" r="2.2"/>
<circle cx="636.7" cy="43.2" r="2.2"/>
<circle cx="627.8" cy="31.7" r="2.2"/>
<circle cx="651.1" cy="36.5" r="2.2"/>
<circle cx="645.9" cy="20.5" r="2.2"/>
<circle cx="650.3" cy="10.5" r="2.2"/>
<circle cx="664.7" cy="25.9" r="2.2"/>
<circle cx="630.3" cy="42.3" r="2.2"/>
<circle cx="625.7" cy="37.4" r="2.2"/>
<circle cx="657.6" cy="21.6" r="2.2"/>
<circle cx="635.3" cy="18.8" r="2.2"/>
<circle cx="640.3" cy="16.5" r="2.2"/>
<circle cx="644.6" cy="12.9" r="2.2"/>
<circle cx="656.8" cy="37.6" r="2.2"/>
<circle cx="639.2" cy="17.0" r="2.2"/>
<circle cx="674.1" cy="14.4" r="2.2"/>
<circle cx="645.1" cy="25.2" r="2.2"/>
<circle cx="624.5" cy="33.7" r="2.2"/>
<circle cx="656.7" cy="36.2" r="2.2"/>
<circle cx="638.0" cy="38.9" r="2.2"/>
<circle cx="659.3" cy="34.8" r="2.2"/>
<circle cx="649.8" cy="31.7" r="2.2"/>
<circle cx="648.9" cy="22.0" r="2.2"/>
<circle cx="636.6" cy="15.2" r="2.2"/>
<circle cx="624.2" cy="18.9" r="2.2"/>
<circle cx="675.7" cy="17.6" r="2.2"/>
<circle cx="641.7" cy="22.1" r="2.2"/>
<circle cx="655.5" cy="22.9" r="2.2"/>
<circle cx="671.1" cy="11.5" r="2.2"/>
<circle cx="628.7" cy="23.8" r="2.2"/>
<circle cx="674.3" cy="21.5" r="2.2"/>
<circle cx="642.9" cy="36.1" r="2.2"/>
<circle cx="659.2" cy="35.9" r="2.2"/>
<circle cx="639.9" cy="16.9" r="2.2"/>
<circle cx="668.9" cy="18.2" r="2.2"/>
<circle cx="663.2" cy="37.2" r="2.2"/>
<circle cx="639.7" cy="28.2" r="2.2"/>
<circle cx="636.2" cy="30.4" r="2.2"/>
<circle cx="626.4" cy="21.5" r="2.2"/>
<circle cx="655.1" cy="32.7" r="2.2"/>
<circle cx="654.6" cy="29.3" r="2.2"/>
<circle cx="655.4" cy="10.9" r="2.2"/>
<circle cx="676.1" cy="16.6" r="2.2"/>
<circle cx="637.4" cy="40.0" r="2.2"/>
<circle cx="636.9" cy="24.6" r="2.2"/>
<circle cx="641.6" cy="24.2" r="2.2"/>
<circle cx="654.5" cy="13.0" r="2.2"/>
<circle cx="652.8" cy="33.1" r="2.2"/>
<circle cx="622.8" cy="18.9" r="2.2"/>
<circle cx="634.0" cy="20.5" r="2.2"/>
<circle cx="650.5" cy="39.5" r="2.2"/>
<circle cx="633.0" cy="14.4" r="2.2"/>
<circle cx="643.8" cy="38.0" r="2.2"/>
<circle cx="627.2" cy="14.8" r="2.2"/>
<circle cx="634.5" cy="26.0" r="2.2"/>
<circle cx="644.2" cy="28.7" r="2.2"/>
<circle cx="656.5" cy="34.0" r="2.2"/>
<circle cx="635.4" cy="38.9" r="2.2"/>
<circle cx="644.7" cy="22.5" r="2.2"/>
<circle cx="652.4" cy="31.4" r="2.2"/>
<circle cx="649.2" cy="34.6" r="2.2"/>
<circle cx="646.8" cy="37.7" r="2.2"/>
<circle cx="634.1" cy="16.6" r="2.2"/>
<circle cx="674.8" cy="21.1" r="2.2"/>
<circle cx="636.9" cy="24.6" r="2.2"/>
<circle cx="636.9" cy="42.0" r="2.2"/>
<circle cx="650.6" cy="27.2" r="2.2"/>
<circle cx="654.6" cy="29.0" r="2.2"/>
<circle cx="627.5" cy="38.7" r="2.2"/>
<circle cx="660.5" cy="37.4" r="2.2"/>
<circle cx="635.1" cy="36.2" r="2.2"/>
<circle cx="628.2" cy="15.2" r="2.2"/>
<circle cx="651.2" cy="10.1" r="2.2"/>
<circle cx="665.4" cy="17.6" r="2.2"/>
<circle cx="661.3" cy="31.9" r="2.2"/>
<circle cx="675.1" cy="18.5" r="2.2"/>
<circle cx="654.8" cy="34.3" r="2.2"/>
<circle cx="649.5" cy="40.4" r="2.2"/>
<circle cx="666.3" cy="28.3" r="2.2"/>
<circle cx="656.8" cy="17.9" r="2.2"/>
<circle cx="634.3" cy="41.2" r="2.2"/>
<circle cx="639.2" cy="17.4" r="2.2"/>
<circle cx="637.7" cy="21.0" r="2.2"/>
<circle cx="653.1" cy="30.7" r="2.2"/>
<circle cx="650.3" cy="24.8" r="2.2"/>
<circle cx="671.1" cy="26.0" r="2.2"/>
<circle cx="662.1" cy="30.7" r="2.2"/>
<circle cx="654.4" cy="14.3" r="2.2"/>
<circle cx="639.9" cy="41.5" r="2.2"/>
<circle cx="640.9" cy="33.0" r="2.2"/>
<circle cx="628.3" cy="30.9" r="2.2"/>
<circle cx="669.5" cy="17.5" r="2.2"/>
<circle cx="648.9" cy="18.1" r="2.2"/>
<circle cx="646.7" cy="38.1" r="2.2"/>
<circle cx="652.9" cy="18.3" r="2.2"/>
<circle cx="640.8" cy="30.0" r="2.2"/>
<circle cx="678.2" cy="11.6" r="2.2"/>
<circle cx="665.1" cy="32.5" r="2.2"/>
<circle cx="643.2" cy="27.3" r="2.2"/>
<circle cx="670.6" cy="16.1" r="2.2"/>
<circle cx="673.1" cy="16.3" r="2.2"/>
<circle cx="624.6" cy="19.0" r="2.2"/>
<circle cx="640.1" cy="41.1" r="2.2"/>
<circle cx="629.1" cy="40.7" r="2.2"/>
<circle cx="651.1" cy="13.5" r="2.2"/>
<circle cx="666.8" cy="19.1" r="2.2"/>
<circle cx="647.2" cy="41.4" r="2.2"/>
<circle cx="649.1" cy="27.9" r="2.2"/>
<circle cx="652.1" cy="25.5" r="2.2"/>
<circle cx="654.8" cy="16.3" r="2.2"/>
<circle cx="677.9" cy="11.9" r="2.2"/>
<circle cx="648.8" cy="13.1" r="2.2"/>
<circle cx="668.8" cy="22.9" r="2.2"/>
<circle cx="648.0" cy="18.8" r="2.2"/>
<circle cx="632.7" cy="39.2" r="2.2"/>
<circle cx="637.8" cy="13.7" r="2.2"/>
<circle cx="634.2" cy="12.4" r="2.2"/>
<circle cx="638.3" cy="15.6" r="2.2"/>
<circle cx="636.9" cy="25.8" r="2.2"/>
<circle cx="634.2" cy="12.9" r="2.2"/>
<circle cx="664.2" cy="30.9" r="2.2"/>
<circle cx="626.6" cy="37.1" r="2.2"/>
<circle cx="633.2" cy="39.8" r="2.2"/>
<circle cx="656.6" cy="10.0" r="2.2"/>
<circle cx="635.3" cy="15.1" r="2.2"/>
<circle cx="662.3" cy="24.4" r="2.2"/>
<circle cx="644.5" cy="34.2" r="2.2"/>
<circle cx="664.5" cy="17.8" r="2.2"/>
<circle cx="634.5" cy="26.6" r="2.2"/>
<circle cx="664.8" cy="20.6" r="2.2"/>
<circle cx="653.7" cy="35.6" r="2.2"/>
<circle cx="656.4" cy="16.6" r="2.2"/>
<circle cx="673.8" cy="16.8" r="2.2"/>
<circle cx="662.8" cy="34.8" r="2.2"/>
<circle cx="634.6" cy="16.5" r="2.2"/>
<circle cx="643.0" cy="27.2" r="2.2"/>
<circle cx="659.6" cy="24.3" r="2.2"/>
<circle cx="658.4" cy="28.3" r="2.2"/>
<circle cx="639.7" cy="40.2" r="2.2"/>
<circle cx="663.1" cy="13.7" r="2.2"/>
<circle cx="651.9" cy="20.2" r="2.2"/>
<circle cx="633.3" cy="16.0" r="2.2"/>
<circle cx="638.6" cy="31.3" r="2.2"/>
<circle cx="676.3" cy="14.6" r="2.2"/>
<circle cx="642.8" cy="22.0" r="2.2"/>
<circle cx="657.6" cy="21.1" r="2.2"/>
<circle cx="608.3" cy="29.6" r="2.2"/>
<circle cx="609.1" cy="32.6" r="2.2"/>
<circle cx="614.9" cy="34.4" r="2.2"/>
<circle cx="612.0" cy="19.1" r="2.2"/>
<circle cx="615.1" cy="24.3" r="2.2"/>
<circle cx="607.4" cy="22.8" r="2.2"/>
<circle cx="615.2" cy="33.0" r="2.2"/>
<circle cx="616.6" cy="38.5" r="2.2"/>
<circle cx="608.6" cy="27.2" r="2.2"/>
<circle cx="607.5" cy="45.3" r="2.2"/>
<circle cx="614.7" cy="28.3" r="2.2"/>
<circle cx="606.1" cy="32.3" r="2.2"/>
<circle cx="615.1" cy="44.1" r="2.2"/>
<circle cx="608.2" cy="35.8" r="2.2"/>
<circle cx="617.9" cy="38.5" r="2.2"/>
<circle cx="619.4" cy="30.4" r="2.2"/>
<circle cx="604.1" cy="26.9" r="2.2"/>
<circle cx="603.9" cy="35.4" r="2.2"/>
<circle cx="605.6" cy="43.0" r="2.2"/>
<circle cx="616.4" cy="29.3" r="2.2"/>
<circle cx="622.0" cy="33.1" r="2.2"/>
<circle cx="610.9" cy="25.8" r="2.2"/>
<circle cx="608.1" cy="24.7" r="2.2"/>
<circle cx="617.3" cy="21.0" r="2.2"/>
<circle cx="614.2" cy="26.8" r="2.2"/>
<circle cx="619.5" cy="18.7" r="2.2"/>
<circle cx="611.6" cy="20.6" r="2.2"/>
<circle cx="620.9" cy="37.9" r="2.2"/>
<circle cx="608.7" cy="22.7" r="2.2"/>
<circle cx="612.7" cy="35.2" r="2.2"/>
<circle cx="621.5" cy="32.9" r="2.2"/>
<circle cx="614.9" cy="39.7" r="2.2"/>
<circle cx="603.7" cy="41.3" r="2.2"/>
<circle cx="616.1" cy="38.0" r="2.2"/>
<circle cx="606.9" cy="44.9" r="2.2"/>
<circle cx="602.4" cy="42.1" r="2.2"/>
<circle cx="622.3" cy="25.6" r="2.2"/>
<circle cx="618.9" cy="18.4" r="2.2"/>
<circle cx="606.1" cy="19.9" r="2.2"/>
<circle cx="615.2" cy="23.4" r="2.2"/>
<circle cx="603.7" cy="42.3" r="2.2"/>
<circle cx="606.4" cy="34.9" r="2.2"/>
<circle cx="606.3" cy="29.5" r="2.2"/>
<circle cx="608.8" cy="43.5" r="2.2"/>
<circle cx="614.7" cy="36.0" r="2.2"/>
<circle cx="605.9" cy="31.9" r="2.2"/>
<circle cx="609.2" cy="40.3" r="2.2"/>
<circle cx="617.1" cy="28.1" r="2.2"/>
<circle cx="621.3" cy="53.0" r="2.2"/>
<circle cx="659.8" cy="39.3" r="2.2"/>
<circle cx="644.1" cy="49.8" r="2.2"/>
<circle cx="648.5" cy="58.4" r="2.2"/>
<circle cx="631.4" cy="56.9" r="2.2"/>
<circle cx="632.2" cy="57.2" r="2.2"/>
<circle cx="665.7" cy="48.5" r="2.2"/>
<circle cx="622.4" cy="47.5" r="2.2"/>
<circle cx="656.0" cy="44.8" r="2.2"/>
<circle cx="656.7" cy="47.2" r="2.2"/>
<circle cx="647.7" cy="62.3" r="2.2"/>
<circle cx="660.7" cy="51.5" r="2.2"/>
<circle cx="663.2" cy="51.3" r="2.2"/>
<circle cx="664.1" cy="62.4" r="2.2"/>
<circle cx="665.0" cy="58.9" r="2.2"/>
<circle cx="645.9" cy="46.6" r="2.2"/>
<circle cx="622.7" cy="45.5" r="2.2"/>
<circle cx="654.8" cy="56.2" r="2.2"/>
<circle cx="624.4" cy="48.6" r="2.2"/>
<circle cx="639.8" cy="56.0" r="2.2"/>
<circle cx="658.0" cy="38.7" r="2.2"/>
<circle cx="644.8" cy="40.1" r="2.2"/>
<circle cx="650.4" cy="59.2" r="2.2"/>
<circle cx="642.8" cy="57.6" r="2.2"/>
<circle cx="634.7" cy="56.4" r="2.2"/>
<circle cx="636.7" cy="41.7" r="2.2"/>
<circle cx="649.4" cy="47.5" r="2.2"/>
<circle cx="629.6" cy="54.6" r="2.2"/>
<circle cx="642.8" cy="64.1" r="2.2"/>
<circle cx="658.9" cy="57.7" r="2.2"/>
<circle cx="657.9" cy="61.3" r="2.2"/>
<circle cx="648.2" cy="40.2" r="2.2"/>
<circle cx="666.2" cy="48.0" r="2.2"/>
<circle cx="647.9" cy="48.4" r="2.2"/>
<circle cx="632.6" cy="52.4" r="2.2"/>
<circle cx="652.6" cy="62.2" r="2.2"/>
<circle cx="632.0" cy="41.1" r="2.2"/>
<circle cx="651.5" cy="60.1" r="2.2"/>
<circle cx="625.9" cy="52.1" r="2.2"/>
<circle cx="640.7" cy="53.6" r="2.2"/>
<circle cx="665.3" cy="41.4" r="2.2"/>
<circle cx="625.2" cy="46.3" r="2.2"/>
<circle cx="665.6" cy="43.7" r="2.2"/>
<circle cx="633.7" cy="40.0" r="2.2"/>
<circle cx="631.4" cy="58.9" r="2.2"/>
<circle cx="632.3" cy="45.2" r="2.2"/>
<circle cx="652.8" cy="62.5" r="2.2"/>
<circle cx="635.5" cy="61.9" r="2.2"/>
<circle cx="638.1" cy="49.2" r="2.2"/>
<circle cx="635.1" cy="44.2" r="2.2"/>
<circle cx="658.7" cy="61.7" r="2.2"/>
<circle cx="650.8" cy="66.9" r="2.2"/>
<circle cx="666.6" cy="56.2" r="2.2"/>
<circle cx="630.6" cy="53.9" r="2.2"/>
<circle cx="651.4" cy="57.5" r="2.2"/>
<circle cx="648.4" cy="49.6" r="2.2"/>
<circle cx="651.4" cy="59.3" r="2.2"/>
<circle cx="634.1" cy="52.2" r="2.2"/>
<circle cx="653.4" cy="41.2" r="2.2"/>
<circle cx="650.1" cy="43.5" r="2.2"/>
<circle cx="632.9" cy="51.9" r="2.2"/>
<circle cx="663.1" cy="41.3" r="2.2"/>
<circle cx="658.6" cy="56.6" r="2.2"/>
<circle cx="630.1" cy="43.7" r="2.2"/>
<circle cx="629.3" cy="41.2" r="2.2"/>
<circle cx="651.2" cy="48.4" r="2.2"/>
<circle cx="664.0" cy="58.8" r="2.2"/>
<circle cx="644.8" cy="46.2" r="2.2"/>
<circle cx="625.7" cy="42.5" r="2.2"/>
</g>
</g>
<clipPath id="sc0"><rect x="527.4" y="5.6" width="156.39999999999998" height="124.4"/></clipPath>
<text x="539.10" y="18.90" font-size="8.44" fill="#1a1a1a" stroke="#1a1a1a" stroke-width="0.12"><tspan font-style="italic">r</tspan> = 0.7, <tspan font-style="italic">p</tspan> &lt; 2.2e&#8722;16</text>
<rect x="527.4" y="5.6" width="156.39999999999998" height="124.4" fill="none" stroke="#858e8f" stroke-width="0.9"/>
<line x1="525.00" y1="126.00" x2="527.40" y2="126.00" stroke="#4a4a4a" stroke-width="0.9" />
<text x="523.30" y="128.45" font-size="6.8" fill="#5a6060" text-anchor="end" font-weight="normal" font-style="normal" stroke="#5a6060" stroke-width="0.2" >0.00</text>
<line x1="534.10" y1="130.00" x2="534.10" y2="132.40" stroke="#4a4a4a" stroke-width="0.9" />
<text x="534.10" y="139.05" font-size="6.8" fill="#5a6060" text-anchor="middle" font-weight="normal" font-style="normal" stroke="#5a6060" stroke-width="0.2" >0.00</text>
<line x1="525.00" y1="97.25" x2="527.40" y2="97.25" stroke="#4a4a4a" stroke-width="0.9" />
<text x="523.30" y="99.70" font-size="6.8" fill="#5a6060" text-anchor="end" font-weight="normal" font-style="normal" stroke="#5a6060" stroke-width="0.2" >0.25</text>
<line x1="569.83" y1="130.00" x2="569.83" y2="132.40" stroke="#4a4a4a" stroke-width="0.9" />
<text x="569.83" y="139.05" font-size="6.8" fill="#5a6060" text-anchor="middle" font-weight="normal" font-style="normal" stroke="#5a6060" stroke-width="0.2" >0.25</text>
<line x1="525.00" y1="68.50" x2="527.40" y2="68.50" stroke="#4a4a4a" stroke-width="0.9" />
<text x="523.30" y="70.95" font-size="6.8" fill="#5a6060" text-anchor="end" font-weight="normal" font-style="normal" stroke="#5a6060" stroke-width="0.2" >0.50</text>
<line x1="605.55" y1="130.00" x2="605.55" y2="132.40" stroke="#4a4a4a" stroke-width="0.9" />
<text x="605.55" y="139.05" font-size="6.8" fill="#5a6060" text-anchor="middle" font-weight="normal" font-style="normal" stroke="#5a6060" stroke-width="0.2" >0.50</text>
<line x1="525.00" y1="39.75" x2="527.40" y2="39.75" stroke="#4a4a4a" stroke-width="0.9" />
<text x="523.30" y="42.20" font-size="6.8" fill="#5a6060" text-anchor="end" font-weight="normal" font-style="normal" stroke="#5a6060" stroke-width="0.2" >0.75</text>
<line x1="641.28" y1="130.00" x2="641.28" y2="132.40" stroke="#4a4a4a" stroke-width="0.9" />
<text x="641.28" y="139.05" font-size="6.8" fill="#5a6060" text-anchor="middle" font-weight="normal" font-style="normal" stroke="#5a6060" stroke-width="0.2" >0.75</text>
<line x1="525.00" y1="11.00" x2="527.40" y2="11.00" stroke="#4a4a4a" stroke-width="0.9" />
<text x="523.30" y="13.45" font-size="6.8" fill="#5a6060" text-anchor="end" font-weight="normal" font-style="normal" stroke="#5a6060" stroke-width="0.2" >1.00</text>
<line x1="677.00" y1="130.00" x2="677.00" y2="132.40" stroke="#4a4a4a" stroke-width="0.9" />
<text x="677.00" y="139.05" font-size="6.8" fill="#5a6060" text-anchor="middle" font-weight="normal" font-style="normal" stroke="#5a6060" stroke-width="0.2" >1.00</text>
<text x="605.60" y="148.10" font-size="7.6" fill="#1a1a1a" text-anchor="middle" font-weight="normal" font-style="normal" stroke="#1a1a1a" stroke-width="0.1" >CT in EC</text>
<text x="0" y="0" font-size="7.6" fill="#1a1a1a" stroke="#1a1a1a" stroke-width="0.1" text-anchor="middle" transform="translate(506.7,68.30) rotate(-90)">CT in NPC</text>
<rect x="527.4" y="185.6" width="156.39999999999998" height="123.9" fill="#fff"/>
<line x1="527.40" y1="290.80" x2="683.80" y2="290.80" stroke="#f3f6f6" stroke-width="0.8" />
<line x1="552.12" y1="185.60" x2="552.12" y2="309.50" stroke="#f3f6f6" stroke-width="0.8" />
<line x1="527.40" y1="262.40" x2="683.80" y2="262.40" stroke="#f3f6f6" stroke-width="0.8" />
<line x1="587.77" y1="185.60" x2="587.77" y2="309.50" stroke="#f3f6f6" stroke-width="0.8" />
<line x1="527.40" y1="234.00" x2="683.80" y2="234.00" stroke="#f3f6f6" stroke-width="0.8" />
<line x1="623.42" y1="185.60" x2="623.42" y2="309.50" stroke="#f3f6f6" stroke-width="0.8" />
<line x1="527.40" y1="205.60" x2="683.80" y2="205.60" stroke="#f3f6f6" stroke-width="0.8" />
<line x1="659.07" y1="185.60" x2="659.07" y2="309.50" stroke="#f3f6f6" stroke-width="0.8" />
<line x1="527.40" y1="305.00" x2="683.80" y2="305.00" stroke="#e9efef" stroke-width="1" />
<line x1="534.30" y1="185.60" x2="534.30" y2="309.50" stroke="#e9efef" stroke-width="1" />
<line x1="527.40" y1="276.60" x2="683.80" y2="276.60" stroke="#e9efef" stroke-width="1" />
<line x1="569.95" y1="185.60" x2="569.95" y2="309.50" stroke="#e9efef" stroke-width="1" />
<line x1="527.40" y1="248.20" x2="683.80" y2="248.20" stroke="#e9efef" stroke-width="1" />
<line x1="605.60" y1="185.60" x2="605.60" y2="309.50" stroke="#e9efef" stroke-width="1" />
<line x1="527.40" y1="219.80" x2="683.80" y2="219.80" stroke="#e9efef" stroke-width="1" />
<line x1="641.25" y1="185.60" x2="641.25" y2="309.50" stroke="#e9efef" stroke-width="1" />
<line x1="527.40" y1="191.40" x2="683.80" y2="191.40" stroke="#e9efef" stroke-width="1" />
<line x1="676.90" y1="185.60" x2="676.90" y2="309.50" stroke="#e9efef" stroke-width="1" />
<g clip-path="url(#sc1)">
<line x1="534.10" y1="281.20" x2="677.00" y2="195.50" stroke="#80d8f6" stroke-width="1.9" stroke-linecap="round"/>
<g fill="#87defb" fill-opacity="0.55">
<circle cx="550.0" cy="199.6" r="2.2"/>
<circle cx="565.6" cy="213.4" r="2.2"/>
<circle cx="571.2" cy="215.2" r="2.2"/>
<circle cx="573.8" cy="202.6" r="2.2"/>
<circle cx="577.5" cy="198.8" r="2.2"/>
<circle cx="587.1" cy="192.2" r="2.2"/>
<circle cx="589.3" cy="199.6" r="2.2"/>
<circle cx="581.9" cy="209.2" r="2.2"/>
<circle cx="562.6" cy="234.5" r="2.2"/>
<circle cx="554.9" cy="239.2" r="2.2"/>
<circle cx="579.7" cy="229.3" r="2.2"/>
<circle cx="583.8" cy="223.3" r="2.2"/>
<circle cx="587.9" cy="219.6" r="2.2"/>
<circle cx="592.3" cy="219.6" r="2.2"/>
<circle cx="589.3" cy="222.6" r="2.2"/>
<circle cx="597.5" cy="219.6" r="2.2"/>
<circle cx="596.8" cy="221.1" r="2.2"/>
<circle cx="592.0" cy="229.3" r="2.2"/>
<circle cx="581.9" cy="238.6" r="2.2"/>
<circle cx="586.4" cy="241.9" r="2.2"/>
<circle cx="601.2" cy="207.0" r="2.2"/>
<circle cx="604.2" cy="201.5" r="2.2"/>
<circle cx="605.7" cy="214.4" r="2.2"/>
<circle cx="605.7" cy="230.0" r="2.2"/>
<circle cx="604.9" cy="243.4" r="2.2"/>
<circle cx="567.1" cy="250.8" r="2.2"/>
<circle cx="568.6" cy="255.2" r="2.2"/>
<circle cx="572.3" cy="252.3" r="2.2"/>
<circle cx="570.0" cy="259.7" r="2.2"/>
<circle cx="571.5" cy="261.9" r="2.2"/>
<circle cx="575.2" cy="260.4" r="2.2"/>
<circle cx="553.7" cy="259.0" r="2.2"/>
<circle cx="534.1" cy="268.6" r="2.2"/>
<circle cx="567.8" cy="269.8" r="2.2"/>
<circle cx="571.5" cy="269.8" r="2.2"/>
<circle cx="568.6" cy="273.8" r="2.2"/>
<circle cx="568.6" cy="276.0" r="2.2"/>
<circle cx="568.6" cy="280.5" r="2.2"/>
<circle cx="572.3" cy="273.1" r="2.2"/>
<circle cx="576.7" cy="270.8" r="2.2"/>
<circle cx="581.9" cy="273.8" r="2.2"/>
<circle cx="586.4" cy="264.9" r="2.2"/>
<circle cx="587.1" cy="269.8" r="2.2"/>
<circle cx="589.3" cy="277.2" r="2.2"/>
<circle cx="591.6" cy="282.3" r="2.2"/>
<circle cx="595.6" cy="264.9" r="2.2"/>
<circle cx="596.0" cy="257.5" r="2.2"/>
<circle cx="598.2" cy="259.0" r="2.2"/>
<circle cx="596.0" cy="252.3" r="2.2"/>
<circle cx="598.2" cy="253.0" r="2.2"/>
<circle cx="604.9" cy="251.5" r="2.2"/>
<circle cx="605.7" cy="256.7" r="2.2"/>
<circle cx="604.9" cy="272.3" r="2.2"/>
<circle cx="605.7" cy="277.2" r="2.2"/>
<circle cx="598.5" cy="280.5" r="2.2"/>
<circle cx="602.0" cy="286.1" r="2.2"/>
<circle cx="596.5" cy="289.7" r="2.2"/>
<circle cx="605.7" cy="290.6" r="2.2"/>
<circle cx="534.1" cy="290.6" r="2.2"/>
<circle cx="541.8" cy="290.6" r="2.2"/>
<circle cx="546.0" cy="291.2" r="2.2"/>
<circle cx="549.0" cy="294.6" r="2.2"/>
<circle cx="541.8" cy="297.5" r="2.2"/>
<circle cx="541.8" cy="299.5" r="2.2"/>
<circle cx="546.3" cy="301.3" r="2.2"/>
<circle cx="547.0" cy="302.4" r="2.2"/>
<circle cx="551.5" cy="299.5" r="2.2"/>
<circle cx="551.9" cy="283.1" r="2.2"/>
<circle cx="558.9" cy="286.4" r="2.2"/>
<circle cx="564.1" cy="304.5" r="2.2"/>
<circle cx="570.3" cy="292.6" r="2.2"/>
<circle cx="597.9" cy="304.5" r="2.2"/>
<circle cx="601.2" cy="302.0" r="2.2"/>
<circle cx="567.1" cy="250.8" r="2.2"/>
<circle cx="568.6" cy="255.2" r="2.2"/>
<circle cx="572.3" cy="252.3" r="2.2"/>
<circle cx="570.0" cy="259.7" r="2.2"/>
<circle cx="571.5" cy="261.9" r="2.2"/>
<circle cx="567.8" cy="269.8" r="2.2"/>
<circle cx="571.5" cy="269.8" r="2.2"/>
<circle cx="568.6" cy="273.8" r="2.2"/>
<circle cx="568.6" cy="276.0" r="2.2"/>
<circle cx="568.6" cy="280.5" r="2.2"/>
<circle cx="572.3" cy="273.1" r="2.2"/>
<circle cx="549.0" cy="294.6" r="2.2"/>
<circle cx="541.8" cy="297.5" r="2.2"/>
<circle cx="541.8" cy="299.5" r="2.2"/>
<circle cx="546.3" cy="301.3" r="2.2"/>
<circle cx="547.0" cy="302.4" r="2.2"/>
<circle cx="551.5" cy="299.5" r="2.2"/>
<circle cx="631.7" cy="302.4" r="2.2"/>
<circle cx="629.5" cy="302.7" r="2.2"/>
<circle cx="605.0" cy="231.2" r="2.2"/>
<circle cx="611.2" cy="239.9" r="2.2"/>
<circle cx="609.9" cy="243.0" r="2.2"/>
<circle cx="605.0" cy="244.3" r="2.2"/>
<circle cx="616.1" cy="241.2" r="2.2"/>
<circle cx="621.7" cy="239.3" r="2.2"/>
<circle cx="626.1" cy="240.5" r="2.2"/>
<circle cx="631.0" cy="239.9" r="2.2"/>
<circle cx="634.7" cy="240.5" r="2.2"/>
<circle cx="637.2" cy="244.9" r="2.2"/>
<circle cx="639.7" cy="242.4" r="2.2"/>
<circle cx="643.4" cy="239.9" r="2.2"/>
<circle cx="647.1" cy="238.7" r="2.2"/>
<circle cx="652.1" cy="239.9" r="2.2"/>
<circle cx="657.1" cy="237.4" r="2.2"/>
<circle cx="662.0" cy="236.2" r="2.2"/>
<circle cx="660.8" cy="242.4" r="2.2"/>
<circle cx="663.3" cy="246.1" r="2.2"/>
<circle cx="655.8" cy="244.9" r="2.2"/>
<circle cx="649.6" cy="243.6" r="2.2"/>
<circle cx="643.4" cy="246.1" r="2.2"/>
<circle cx="640.9" cy="248.6" r="2.2"/>
<circle cx="644.7" cy="251.1" r="2.2"/>
<circle cx="648.4" cy="248.6" r="2.2"/>
<circle cx="652.1" cy="247.4" r="2.2"/>
<circle cx="657.1" cy="248.6" r="2.2"/>
<circle cx="660.8" cy="251.1" r="2.2"/>
<circle cx="667.0" cy="251.7" r="2.2"/>
<circle cx="647.1" cy="253.6" r="2.2"/>
<circle cx="652.1" cy="253.6" r="2.2"/>
<circle cx="654.6" cy="256.1" r="2.2"/>
<circle cx="658.3" cy="254.8" r="2.2"/>
<circle cx="643.4" cy="254.8" r="2.2"/>
<circle cx="642.2" cy="259.8" r="2.2"/>
<circle cx="645.9" cy="262.3" r="2.2"/>
<circle cx="650.9" cy="258.5" r="2.2"/>
<circle cx="653.3" cy="261.0" r="2.2"/>
<circle cx="654.6" cy="263.5" r="2.2"/>
<circle cx="653.3" cy="266.0" r="2.2"/>
<circle cx="660.8" cy="264.7" r="2.2"/>
<circle cx="662.0" cy="267.2" r="2.2"/>
<circle cx="658.3" cy="269.7" r="2.2"/>
<circle cx="664.5" cy="268.5" r="2.2"/>
<circle cx="668.2" cy="272.8" r="2.2"/>
<circle cx="657.1" cy="272.2" r="2.2"/>
<circle cx="659.6" cy="274.0" r="2.2"/>
<circle cx="650.9" cy="273.4" r="2.2"/>
<circle cx="644.7" cy="269.7" r="2.2"/>
<circle cx="640.9" cy="268.5" r="2.2"/>
<circle cx="638.5" cy="273.4" r="2.2"/>
<circle cx="637.2" cy="277.1" r="2.2"/>
<circle cx="633.5" cy="275.9" r="2.2"/>
<circle cx="631.0" cy="272.2" r="2.2"/>
<circle cx="628.5" cy="273.4" r="2.2"/>
<circle cx="627.3" cy="267.2" r="2.2"/>
<circle cx="626.7" cy="263.5" r="2.2"/>
<circle cx="629.8" cy="261.0" r="2.2"/>
<circle cx="634.7" cy="259.8" r="2.2"/>
<circle cx="636.0" cy="264.7" r="2.2"/>
<circle cx="628.5" cy="256.1" r="2.2"/>
<circle cx="624.8" cy="252.3" r="2.2"/>
<circle cx="629.8" cy="253.6" r="2.2"/>
<circle cx="627.3" cy="244.9" r="2.2"/>
<circle cx="623.6" cy="252.3" r="2.2"/>
<circle cx="618.6" cy="254.8" r="2.2"/>
<circle cx="616.1" cy="249.9" r="2.2"/>
<circle cx="613.6" cy="248.6" r="2.2"/>
<circle cx="606.2" cy="251.1" r="2.2"/>
<circle cx="606.2" cy="256.1" r="2.2"/>
<circle cx="606.8" cy="257.9" r="2.2"/>
<circle cx="607.4" cy="266.0" r="2.2"/>
<circle cx="605.0" cy="272.2" r="2.2"/>
<circle cx="606.2" cy="277.1" r="2.2"/>
<circle cx="601.9" cy="285.8" r="2.2"/>
<circle cx="606.2" cy="290.8" r="2.2"/>
<circle cx="614.9" cy="277.1" r="2.2"/>
<circle cx="613.6" cy="280.9" r="2.2"/>
<circle cx="614.3" cy="282.7" r="2.2"/>
<circle cx="622.3" cy="272.2" r="2.2"/>
<circle cx="621.1" cy="274.7" r="2.2"/>
<circle cx="622.3" cy="279.6" r="2.2"/>
<circle cx="623.6" cy="284.6" r="2.2"/>
<circle cx="627.3" cy="284.6" r="2.2"/>
<circle cx="631.0" cy="280.9" r="2.2"/>
<circle cx="637.2" cy="280.2" r="2.2"/>
<circle cx="632.3" cy="285.8" r="2.2"/>
<circle cx="633.5" cy="290.8" r="2.2"/>
<circle cx="639.7" cy="289.6" r="2.2"/>
<circle cx="643.4" cy="284.0" r="2.2"/>
<circle cx="616.1" cy="287.7" r="2.2"/>
<circle cx="614.9" cy="290.8" r="2.2"/>
<circle cx="618.6" cy="290.8" r="2.2"/>
<circle cx="621.1" cy="290.2" r="2.2"/>
<circle cx="616.1" cy="294.5" r="2.2"/>
<circle cx="621.7" cy="297.0" r="2.2"/>
<circle cx="629.8" cy="302.6" r="2.2"/>
<circle cx="632.9" cy="302.6" r="2.2"/>
<circle cx="601.2" cy="302.0" r="2.2"/>
<circle cx="619.9" cy="233.7" r="2.2"/>
<circle cx="624.8" cy="232.5" r="2.2"/>
<circle cx="631.0" cy="233.1" r="2.2"/>
<circle cx="637.2" cy="233.7" r="2.2"/>
<circle cx="642.2" cy="232.5" r="2.2"/>
<circle cx="648.4" cy="232.5" r="2.2"/>
<circle cx="653.3" cy="233.7" r="2.2"/>
<circle cx="658.3" cy="232.5" r="2.2"/>
<circle cx="663.3" cy="232.5" r="2.2"/>
<circle cx="614.9" cy="236.2" r="2.2"/>
<circle cx="624.8" cy="236.2" r="2.2"/>
<circle cx="632.3" cy="236.2" r="2.2"/>
<circle cx="640.9" cy="236.2" r="2.2"/>
<circle cx="649.6" cy="235.6" r="2.2"/>
<circle cx="654.6" cy="236.2" r="2.2"/>
<circle cx="657.8" cy="195.1" r="2.2"/>
<circle cx="652.1" cy="207.8" r="2.2"/>
<circle cx="639.6" cy="195.8" r="2.2"/>
<circle cx="643.2" cy="208.6" r="2.2"/>
<circle cx="647.1" cy="202.6" r="2.2"/>
<circle cx="645.1" cy="207.1" r="2.2"/>
<circle cx="649.0" cy="195.4" r="2.2"/>
<circle cx="650.3" cy="198.0" r="2.2"/>
<circle cx="662.7" cy="207.8" r="2.2"/>
<circle cx="672.8" cy="200.5" r="2.2"/>
<circle cx="647.8" cy="201.3" r="2.2"/>
<circle cx="649.0" cy="207.9" r="2.2"/>
<circle cx="655.5" cy="199.2" r="2.2"/>
<circle cx="636.4" cy="208.4" r="2.2"/>
<circle cx="665.1" cy="199.6" r="2.2"/>
<circle cx="661.3" cy="202.7" r="2.2"/>
<circle cx="653.7" cy="213.5" r="2.2"/>
<circle cx="644.4" cy="213.4" r="2.2"/>
<circle cx="663.2" cy="208.3" r="2.2"/>
<circle cx="670.6" cy="193.0" r="2.2"/>
<circle cx="664.0" cy="210.8" r="2.2"/>
<circle cx="669.1" cy="211.3" r="2.2"/>
<circle cx="635.9" cy="194.6" r="2.2"/>
<circle cx="668.3" cy="209.8" r="2.2"/>
<circle cx="673.3" cy="201.9" r="2.2"/>
<circle cx="673.1" cy="193.6" r="2.2"/>
<circle cx="645.7" cy="191.6" r="2.2"/>
<circle cx="656.2" cy="208.5" r="2.2"/>
<circle cx="646.3" cy="191.4" r="2.2"/>
<circle cx="642.7" cy="212.1" r="2.2"/>
<circle cx="641.3" cy="195.3" r="2.2"/>
<circle cx="673.7" cy="198.4" r="2.2"/>
<circle cx="633.7" cy="207.5" r="2.2"/>
<circle cx="673.0" cy="190.1" r="2.2"/>
<circle cx="660.4" cy="213.0" r="2.2"/>
<circle cx="651.7" cy="205.2" r="2.2"/>
<circle cx="668.9" cy="196.3" r="2.2"/>
<circle cx="642.5" cy="207.7" r="2.2"/>
<circle cx="656.4" cy="204.3" r="2.2"/>
<circle cx="645.5" cy="215.2" r="2.2"/>
<circle cx="643.2" cy="208.2" r="2.2"/>
<circle cx="673.3" cy="200.7" r="2.2"/>
<circle cx="634.9" cy="199.1" r="2.2"/>
<circle cx="647.3" cy="201.9" r="2.2"/>
<circle cx="662.0" cy="208.1" r="2.2"/>
<circle cx="663.1" cy="199.7" r="2.2"/>
<circle cx="661.8" cy="204.7" r="2.2"/>
<circle cx="635.2" cy="204.6" r="2.2"/>
<circle cx="644.7" cy="208.1" r="2.2"/>
<circle cx="665.4" cy="196.3" r="2.2"/>
<circle cx="650.5" cy="202.1" r="2.2"/>
<circle cx="643.7" cy="190.9" r="2.2"/>
<circle cx="665.7" cy="201.7" r="2.2"/>
<circle cx="662.0" cy="197.1" r="2.2"/>
<circle cx="667.3" cy="202.4" r="2.2"/>
<circle cx="631.8" cy="201.0" r="2.2"/>
<circle cx="651.4" cy="197.2" r="2.2"/>
<circle cx="659.5" cy="193.7" r="2.2"/>
<circle cx="666.0" cy="213.0" r="2.2"/>
<circle cx="642.1" cy="207.1" r="2.2"/>
<circle cx="668.6" cy="199.0" r="2.2"/>
<circle cx="665.2" cy="193.8" r="2.2"/>
<circle cx="664.4" cy="201.1" r="2.2"/>
<circle cx="642.1" cy="196.3" r="2.2"/>
<circle cx="639.7" cy="211.4" r="2.2"/>
<circle cx="633.7" cy="196.1" r="2.2"/>
<circle cx="638.5" cy="194.1" r="2.2"/>
<circle cx="665.2" cy="205.7" r="2.2"/>
<circle cx="661.9" cy="214.2" r="2.2"/>
<circle cx="651.2" cy="190.8" r="2.2"/>
<circle cx="638.3" cy="203.8" r="2.2"/>
<circle cx="654.3" cy="195.9" r="2.2"/>
<circle cx="658.4" cy="215.1" r="2.2"/>
<circle cx="645.4" cy="215.0" r="2.2"/>
<circle cx="673.8" cy="205.4" r="2.2"/>
<circle cx="652.8" cy="193.3" r="2.2"/>
<circle cx="659.3" cy="209.1" r="2.2"/>
<circle cx="678.3" cy="200.7" r="2.2"/>
<circle cx="643.2" cy="204.2" r="2.2"/>
<circle cx="677.9" cy="197.9" r="2.2"/>
<circle cx="640.6" cy="209.4" r="2.2"/>
<circle cx="648.2" cy="204.9" r="2.2"/>
<circle cx="675.4" cy="198.8" r="2.2"/>
<circle cx="673.5" cy="202.5" r="2.2"/>
<circle cx="638.9" cy="193.9" r="2.2"/>
<circle cx="637.1" cy="201.7" r="2.2"/>
<circle cx="666.6" cy="210.3" r="2.2"/>
<circle cx="638.4" cy="210.9" r="2.2"/>
<circle cx="640.0" cy="204.0" r="2.2"/>
<circle cx="635.3" cy="205.9" r="2.2"/>
<circle cx="661.8" cy="207.3" r="2.2"/>
<circle cx="662.8" cy="199.8" r="2.2"/>
<circle cx="671.1" cy="191.3" r="2.2"/>
<circle cx="662.3" cy="192.3" r="2.2"/>
<circle cx="661.8" cy="199.9" r="2.2"/>
<circle cx="671.4" cy="191.0" r="2.2"/>
<circle cx="675.9" cy="191.0" r="2.2"/>
<circle cx="638.2" cy="208.4" r="2.2"/>
<circle cx="668.4" cy="209.5" r="2.2"/>
<circle cx="665.1" cy="208.3" r="2.2"/>
<circle cx="643.0" cy="200.6" r="2.2"/>
<circle cx="666.6" cy="203.8" r="2.2"/>
<circle cx="653.1" cy="214.7" r="2.2"/>
<circle cx="649.8" cy="213.1" r="2.2"/>
<circle cx="631.2" cy="204.2" r="2.2"/>
<circle cx="664.3" cy="190.1" r="2.2"/>
<circle cx="663.5" cy="197.6" r="2.2"/>
<circle cx="660.0" cy="206.7" r="2.2"/>
<circle cx="641.0" cy="193.5" r="2.2"/>
<circle cx="650.9" cy="191.5" r="2.2"/>
<circle cx="633.9" cy="210.4" r="2.2"/>
<circle cx="633.7" cy="204.5" r="2.2"/>
<circle cx="672.9" cy="202.1" r="2.2"/>
<circle cx="669.4" cy="212.3" r="2.2"/>
<circle cx="671.3" cy="209.2" r="2.2"/>
<circle cx="654.2" cy="215.8" r="2.2"/>
<circle cx="665.7" cy="210.5" r="2.2"/>
<circle cx="674.2" cy="191.3" r="2.2"/>
<circle cx="665.7" cy="205.6" r="2.2"/>
<circle cx="664.5" cy="204.1" r="2.2"/>
<circle cx="656.9" cy="197.6" r="2.2"/>
<circle cx="657.1" cy="213.6" r="2.2"/>
<circle cx="677.6" cy="204.8" r="2.2"/>
<circle cx="665.2" cy="192.2" r="2.2"/>
<circle cx="635.9" cy="205.0" r="2.2"/>
<circle cx="670.0" cy="193.0" r="2.2"/>
<circle cx="636.2" cy="203.3" r="2.2"/>
<circle cx="644.1" cy="193.6" r="2.2"/>
<circle cx="636.8" cy="201.3" r="2.2"/>
<circle cx="668.3" cy="194.4" r="2.2"/>
<circle cx="669.0" cy="191.8" r="2.2"/>
<circle cx="641.4" cy="207.9" r="2.2"/>
<circle cx="636.6" cy="196.0" r="2.2"/>
<circle cx="673.0" cy="194.1" r="2.2"/>
<circle cx="641.1" cy="213.2" r="2.2"/>
<circle cx="644.8" cy="210.7" r="2.2"/>
<circle cx="657.8" cy="199.3" r="2.2"/>
<circle cx="672.9" cy="208.7" r="2.2"/>
<circle cx="644.8" cy="205.3" r="2.2"/>
<circle cx="643.5" cy="197.5" r="2.2"/>
<circle cx="664.4" cy="190.1" r="2.2"/>
<circle cx="634.3" cy="201.6" r="2.2"/>
<circle cx="641.4" cy="201.9" r="2.2"/>
<circle cx="674.9" cy="195.5" r="2.2"/>
<circle cx="634.1" cy="201.0" r="2.2"/>
<circle cx="662.7" cy="213.5" r="2.2"/>
<circle cx="672.5" cy="190.1" r="2.2"/>
<circle cx="637.6" cy="193.3" r="2.2"/>
<circle cx="658.5" cy="200.8" r="2.2"/>
<circle cx="674.7" cy="206.5" r="2.2"/>
<circle cx="659.5" cy="208.4" r="2.2"/>
<circle cx="639.1" cy="214.1" r="2.2"/>
<circle cx="667.8" cy="194.5" r="2.2"/>
<circle cx="631.5" cy="199.7" r="2.2"/>
<circle cx="664.5" cy="195.2" r="2.2"/>
<circle cx="663.5" cy="202.9" r="2.2"/>
<circle cx="636.4" cy="211.7" r="2.2"/>
<circle cx="637.5" cy="203.2" r="2.2"/>
<circle cx="666.6" cy="207.0" r="2.2"/>
<circle cx="640.6" cy="213.6" r="2.2"/>
<circle cx="644.8" cy="201.2" r="2.2"/>
<circle cx="650.7" cy="208.8" r="2.2"/>
<circle cx="653.1" cy="211.5" r="2.2"/>
<circle cx="647.1" cy="205.3" r="2.2"/>
<circle cx="677.0" cy="191.4" r="2.2"/>
<circle cx="668.3" cy="202.5" r="2.2"/>
<circle cx="643.8" cy="197.2" r="2.2"/>
<circle cx="639.7" cy="212.7" r="2.2"/>
<circle cx="654.6" cy="197.5" r="2.2"/>
<circle cx="667.8" cy="205.6" r="2.2"/>
<circle cx="672.9" cy="193.7" r="2.2"/>
<circle cx="663.3" cy="190.6" r="2.2"/>
<circle cx="638.0" cy="201.0" r="2.2"/>
<circle cx="644.5" cy="197.5" r="2.2"/>
<circle cx="657.2" cy="210.0" r="2.2"/>
<circle cx="649.6" cy="203.6" r="2.2"/>
<circle cx="667.8" cy="195.9" r="2.2"/>
<circle cx="678.5" cy="190.4" r="2.2"/>
<circle cx="647.3" cy="212.2" r="2.2"/>
<circle cx="640.6" cy="198.8" r="2.2"/>
<circle cx="672.4" cy="192.0" r="2.2"/>
<circle cx="655.7" cy="193.9" r="2.2"/>
<circle cx="663.8" cy="204.1" r="2.2"/>
<circle cx="643.2" cy="205.5" r="2.2"/>
<circle cx="633.0" cy="199.1" r="2.2"/>
<circle cx="647.9" cy="209.2" r="2.2"/>
<circle cx="645.6" cy="201.1" r="2.2"/>
<circle cx="657.5" cy="196.8" r="2.2"/>
<circle cx="656.1" cy="210.7" r="2.2"/>
<circle cx="629.9" cy="203.0" r="2.2"/>
<circle cx="634.4" cy="203.9" r="2.2"/>
<circle cx="636.9" cy="204.1" r="2.2"/>
<circle cx="642.9" cy="210.1" r="2.2"/>
<circle cx="651.9" cy="213.9" r="2.2"/>
<circle cx="671.7" cy="198.9" r="2.2"/>
<circle cx="636.7" cy="210.2" r="2.2"/>
<circle cx="663.1" cy="206.5" r="2.2"/>
<circle cx="664.2" cy="197.3" r="2.2"/>
<circle cx="670.4" cy="209.4" r="2.2"/>
<circle cx="665.3" cy="191.3" r="2.2"/>
<circle cx="661.8" cy="209.4" r="2.2"/>
<circle cx="639.1" cy="195.1" r="2.2"/>
<circle cx="633.1" cy="200.4" r="2.2"/>
<circle cx="649.9" cy="200.1" r="2.2"/>
<circle cx="669.7" cy="206.4" r="2.2"/>
<circle cx="666.9" cy="203.7" r="2.2"/>
<circle cx="649.2" cy="204.3" r="2.2"/>
<circle cx="651.8" cy="207.9" r="2.2"/>
<circle cx="671.3" cy="208.1" r="2.2"/>
<circle cx="641.5" cy="205.1" r="2.2"/>
<circle cx="651.5" cy="193.1" r="2.2"/>
<circle cx="634.1" cy="202.0" r="2.2"/>
<circle cx="664.9" cy="206.2" r="2.2"/>
<circle cx="645.5" cy="202.9" r="2.2"/>
<circle cx="635.0" cy="206.9" r="2.2"/>
<circle cx="659.3" cy="207.2" r="2.2"/>
<circle cx="653.5" cy="204.9" r="2.2"/>
<circle cx="667.0" cy="196.4" r="2.2"/>
<circle cx="643.5" cy="191.2" r="2.2"/>
<circle cx="675.4" cy="206.1" r="2.2"/>
<circle cx="664.5" cy="206.6" r="2.2"/>
<circle cx="648.6" cy="213.1" r="2.2"/>
<circle cx="643.1" cy="191.3" r="2.2"/>
<circle cx="668.8" cy="191.5" r="2.2"/>
<circle cx="664.5" cy="207.4" r="2.2"/>
<circle cx="634.4" cy="201.6" r="2.2"/>
<circle cx="642.4" cy="211.7" r="2.2"/>
<circle cx="667.5" cy="198.7" r="2.2"/>
<circle cx="636.6" cy="199.1" r="2.2"/>
<circle cx="650.7" cy="206.2" r="2.2"/>
<circle cx="676.0" cy="198.5" r="2.2"/>
<circle cx="636.3" cy="206.8" r="2.2"/>
<circle cx="650.0" cy="209.9" r="2.2"/>
<circle cx="661.8" cy="204.6" r="2.2"/>
<circle cx="669.4" cy="195.1" r="2.2"/>
<circle cx="667.8" cy="194.7" r="2.2"/>
<circle cx="652.7" cy="204.9" r="2.2"/>
<circle cx="655.9" cy="192.8" r="2.2"/>
<circle cx="651.7" cy="197.4" r="2.2"/>
<circle cx="642.7" cy="201.2" r="2.2"/>
<circle cx="649.5" cy="195.4" r="2.2"/>
<circle cx="676.0" cy="194.7" r="2.2"/>
<circle cx="640.4" cy="200.8" r="2.2"/>
<circle cx="658.5" cy="208.6" r="2.2"/>
<circle cx="658.2" cy="203.2" r="2.2"/>
<circle cx="668.8" cy="196.6" r="2.2"/>
<circle cx="667.0" cy="190.8" r="2.2"/>
<circle cx="674.9" cy="201.3" r="2.2"/>
<circle cx="664.2" cy="196.6" r="2.2"/>
<circle cx="674.9" cy="194.6" r="2.2"/>
<circle cx="661.9" cy="204.4" r="2.2"/>
<circle cx="669.0" cy="208.3" r="2.2"/>
<circle cx="643.2" cy="193.4" r="2.2"/>
<circle cx="656.3" cy="209.3" r="2.2"/>
<circle cx="637.9" cy="203.3" r="2.2"/>
<circle cx="642.1" cy="197.0" r="2.2"/>
<circle cx="632.3" cy="203.1" r="2.2"/>
<circle cx="652.0" cy="206.8" r="2.2"/>
<circle cx="642.6" cy="205.5" r="2.2"/>
<circle cx="649.2" cy="205.0" r="2.2"/>
<circle cx="672.7" cy="206.5" r="2.2"/>
<circle cx="645.8" cy="215.6" r="2.2"/>
<circle cx="662.4" cy="196.4" r="2.2"/>
<circle cx="654.2" cy="211.7" r="2.2"/>
<circle cx="633.6" cy="197.3" r="2.2"/>
<circle cx="652.7" cy="215.4" r="2.2"/>
<circle cx="657.7" cy="209.3" r="2.2"/>
<circle cx="667.7" cy="193.4" r="2.2"/>
<circle cx="674.6" cy="205.9" r="2.2"/>
<circle cx="668.6" cy="205.0" r="2.2"/>
<circle cx="656.2" cy="201.2" r="2.2"/>
<circle cx="644.1" cy="203.9" r="2.2"/>
<circle cx="631.9" cy="200.0" r="2.2"/>
<circle cx="659.6" cy="213.2" r="2.2"/>
<circle cx="641.6" cy="212.9" r="2.2"/>
<circle cx="644.8" cy="200.0" r="2.2"/>
<circle cx="652.0" cy="191.4" r="2.2"/>
<circle cx="647.1" cy="205.2" r="2.2"/>
<circle cx="662.9" cy="194.0" r="2.2"/>
<circle cx="643.0" cy="194.3" r="2.2"/>
<circle cx="654.4" cy="200.5" r="2.2"/>
<circle cx="644.7" cy="203.6" r="2.2"/>
<circle cx="666.3" cy="206.5" r="2.2"/>
<circle cx="665.4" cy="200.7" r="2.2"/>
<circle cx="674.9" cy="193.0" r="2.2"/>
<circle cx="652.8" cy="198.6" r="2.2"/>
<circle cx="668.0" cy="191.4" r="2.2"/>
<circle cx="641.4" cy="205.8" r="2.2"/>
<circle cx="672.8" cy="201.7" r="2.2"/>
<circle cx="674.6" cy="190.7" r="2.2"/>
<circle cx="657.3" cy="210.9" r="2.2"/>
<circle cx="653.4" cy="212.3" r="2.2"/>
<circle cx="652.7" cy="208.5" r="2.2"/>
<circle cx="672.2" cy="206.7" r="2.2"/>
<circle cx="659.2" cy="192.9" r="2.2"/>
<circle cx="670.5" cy="211.0" r="2.2"/>
<circle cx="649.8" cy="196.1" r="2.2"/>
<circle cx="653.6" cy="206.3" r="2.2"/>
<circle cx="636.4" cy="202.2" r="2.2"/>
<circle cx="647.2" cy="213.6" r="2.2"/>
<circle cx="643.7" cy="212.5" r="2.2"/>
<circle cx="642.8" cy="197.2" r="2.2"/>
<circle cx="653.1" cy="196.9" r="2.2"/>
<circle cx="655.3" cy="195.0" r="2.2"/>
<circle cx="631.5" cy="206.9" r="2.2"/>
<circle cx="651.1" cy="190.1" r="2.2"/>
<circle cx="647.2" cy="211.4" r="2.2"/>
<circle cx="660.0" cy="198.9" r="2.2"/>
<circle cx="659.2" cy="199.0" r="2.2"/>
<circle cx="639.5" cy="211.6" r="2.2"/>
<circle cx="673.8" cy="203.1" r="2.2"/>
<circle cx="676.8" cy="205.4" r="2.2"/>
<circle cx="660.2" cy="203.8" r="2.2"/>
<circle cx="653.8" cy="202.7" r="2.2"/>
<circle cx="668.3" cy="212.6" r="2.2"/>
<circle cx="661.6" cy="194.1" r="2.2"/>
<circle cx="635.3" cy="199.7" r="2.2"/>
<circle cx="631.2" cy="199.4" r="2.2"/>
<circle cx="646.9" cy="193.2" r="2.2"/>
<circle cx="636.0" cy="207.1" r="2.2"/>
<circle cx="673.2" cy="195.8" r="2.2"/>
<circle cx="664.8" cy="201.0" r="2.2"/>
<circle cx="634.4" cy="202.8" r="2.2"/>
<circle cx="646.5" cy="200.1" r="2.2"/>
<circle cx="659.4" cy="202.0" r="2.2"/>
<circle cx="670.3" cy="202.1" r="2.2"/>
<circle cx="663.7" cy="201.9" r="2.2"/>
<circle cx="666.1" cy="192.4" r="2.2"/>
<circle cx="637.5" cy="208.7" r="2.2"/>
<circle cx="665.7" cy="199.6" r="2.2"/>
<circle cx="630.9" cy="206.4" r="2.2"/>
<circle cx="634.1" cy="200.3" r="2.2"/>
<circle cx="669.0" cy="211.5" r="2.2"/>
<circle cx="669.7" cy="192.6" r="2.2"/>
<circle cx="665.3" cy="190.6" r="2.2"/>
<circle cx="669.7" cy="210.4" r="2.2"/>
<circle cx="675.2" cy="191.6" r="2.2"/>
<circle cx="632.9" cy="208.9" r="2.2"/>
<circle cx="649.5" cy="210.2" r="2.2"/>
<circle cx="634.1" cy="204.7" r="2.2"/>
<circle cx="664.6" cy="209.8" r="2.2"/>
<circle cx="637.9" cy="196.3" r="2.2"/>
<circle cx="671.1" cy="211.2" r="2.2"/>
<circle cx="654.2" cy="190.3" r="2.2"/>
<circle cx="664.6" cy="210.3" r="2.2"/>
<circle cx="660.4" cy="211.9" r="2.2"/>
<circle cx="641.2" cy="197.6" r="2.2"/>
<circle cx="634.2" cy="206.7" r="2.2"/>
<circle cx="663.0" cy="206.3" r="2.2"/>
<circle cx="648.2" cy="199.4" r="2.2"/>
<circle cx="674.7" cy="193.6" r="2.2"/>
<circle cx="633.3" cy="210.1" r="2.2"/>
<circle cx="656.7" cy="208.2" r="2.2"/>
<circle cx="641.7" cy="207.1" r="2.2"/>
<circle cx="661.5" cy="212.0" r="2.2"/>
<circle cx="652.3" cy="215.1" r="2.2"/>
<circle cx="651.3" cy="214.6" r="2.2"/>
<circle cx="648.6" cy="209.5" r="2.2"/>
<circle cx="643.4" cy="206.8" r="2.2"/>
<circle cx="666.2" cy="191.5" r="2.2"/>
<circle cx="667.4" cy="192.1" r="2.2"/>
<circle cx="668.1" cy="193.7" r="2.2"/>
<circle cx="640.8" cy="198.3" r="2.2"/>
<circle cx="642.0" cy="206.3" r="2.2"/>
<circle cx="646.3" cy="212.1" r="2.2"/>
<circle cx="647.8" cy="210.9" r="2.2"/>
<circle cx="644.6" cy="204.2" r="2.2"/>
<circle cx="658.1" cy="199.3" r="2.2"/>
<circle cx="668.0" cy="206.8" r="2.2"/>
<circle cx="656.5" cy="207.8" r="2.2"/>
<circle cx="640.3" cy="198.5" r="2.2"/>
<circle cx="672.4" cy="208.6" r="2.2"/>
<circle cx="634.9" cy="200.4" r="2.2"/>
<circle cx="648.5" cy="204.9" r="2.2"/>
<circle cx="643.7" cy="202.4" r="2.2"/>
<circle cx="672.9" cy="192.8" r="2.2"/>
<circle cx="633.2" cy="204.2" r="2.2"/>
<circle cx="641.3" cy="210.7" r="2.2"/>
<circle cx="638.1" cy="204.0" r="2.2"/>
<circle cx="672.1" cy="208.1" r="2.2"/>
<circle cx="648.4" cy="194.9" r="2.2"/>
<circle cx="663.1" cy="196.7" r="2.2"/>
<circle cx="640.8" cy="213.4" r="2.2"/>
<circle cx="644.0" cy="209.2" r="2.2"/>
<circle cx="664.3" cy="191.6" r="2.2"/>
<circle cx="668.6" cy="198.9" r="2.2"/>
<circle cx="631.4" cy="202.5" r="2.2"/>
<circle cx="637.0" cy="201.0" r="2.2"/>
<circle cx="664.0" cy="203.4" r="2.2"/>
<circle cx="655.8" cy="203.7" r="2.2"/>
<circle cx="654.3" cy="193.0" r="2.2"/>
<circle cx="663.5" cy="193.7" r="2.2"/>
<circle cx="650.8" cy="213.0" r="2.2"/>
<circle cx="653.7" cy="210.9" r="2.2"/>
<circle cx="655.3" cy="209.4" r="2.2"/>
<circle cx="654.7" cy="209.6" r="2.2"/>
<circle cx="646.6" cy="197.1" r="2.2"/>
<circle cx="668.5" cy="211.1" r="2.2"/>
<circle cx="668.2" cy="208.1" r="2.2"/>
<circle cx="668.3" cy="205.4" r="2.2"/>
<circle cx="661.9" cy="208.6" r="2.2"/>
<circle cx="648.8" cy="190.8" r="2.2"/>
<circle cx="645.0" cy="201.5" r="2.2"/>
<circle cx="632.7" cy="201.5" r="2.2"/>
<circle cx="663.6" cy="210.7" r="2.2"/>
<circle cx="657.6" cy="208.4" r="2.2"/>
<circle cx="673.9" cy="192.2" r="2.2"/>
<circle cx="642.3" cy="192.9" r="2.2"/>
<circle cx="652.4" cy="191.8" r="2.2"/>
<circle cx="660.6" cy="206.2" r="2.2"/>
<circle cx="664.7" cy="212.2" r="2.2"/>
<circle cx="651.0" cy="203.9" r="2.2"/>
<circle cx="664.3" cy="198.9" r="2.2"/>
<circle cx="675.5" cy="204.3" r="2.2"/>
<circle cx="653.2" cy="208.2" r="2.2"/>
<circle cx="674.2" cy="209.8" r="2.2"/>
<circle cx="673.1" cy="194.8" r="2.2"/>
<circle cx="658.7" cy="209.5" r="2.2"/>
<circle cx="638.6" cy="206.1" r="2.2"/>
<circle cx="639.3" cy="205.8" r="2.2"/>
<circle cx="642.7" cy="191.5" r="2.2"/>
<circle cx="641.0" cy="204.3" r="2.2"/>
<circle cx="645.8" cy="201.9" r="2.2"/>
<circle cx="654.5" cy="214.5" r="2.2"/>
<circle cx="646.5" cy="200.8" r="2.2"/>
<circle cx="644.9" cy="204.8" r="2.2"/>
<circle cx="636.8" cy="203.8" r="2.2"/>
<circle cx="654.6" cy="211.5" r="2.2"/>
<circle cx="656.2" cy="214.8" r="2.2"/>
<circle cx="645.6" cy="202.7" r="2.2"/>
<circle cx="646.4" cy="189.9" r="2.2"/>
<circle cx="664.9" cy="208.8" r="2.2"/>
<circle cx="676.8" cy="191.2" r="2.2"/>
<circle cx="671.6" cy="210.7" r="2.2"/>
<circle cx="673.5" cy="193.7" r="2.2"/>
<circle cx="641.9" cy="209.7" r="2.2"/>
<circle cx="662.5" cy="192.5" r="2.2"/>
<circle cx="664.7" cy="200.0" r="2.2"/>
<circle cx="652.2" cy="194.3" r="2.2"/>
<circle cx="643.3" cy="215.8" r="2.2"/>
<circle cx="667.5" cy="199.8" r="2.2"/>
<circle cx="666.6" cy="204.6" r="2.2"/>
<circle cx="660.6" cy="205.3" r="2.2"/>
<circle cx="649.8" cy="215.5" r="2.2"/>
<circle cx="666.9" cy="200.7" r="2.2"/>
<circle cx="655.6" cy="197.4" r="2.2"/>
<circle cx="635.4" cy="197.3" r="2.2"/>
<circle cx="671.4" cy="196.0" r="2.2"/>
<circle cx="642.2" cy="190.8" r="2.2"/>
<circle cx="677.6" cy="196.9" r="2.2"/>
<circle cx="638.3" cy="209.1" r="2.2"/>
<circle cx="664.6" cy="190.9" r="2.2"/>
<circle cx="668.1" cy="195.6" r="2.2"/>
<circle cx="633.6" cy="210.2" r="2.2"/>
<circle cx="675.2" cy="199.6" r="2.2"/>
<circle cx="643.3" cy="203.4" r="2.2"/>
<circle cx="662.7" cy="200.2" r="2.2"/>
<circle cx="652.1" cy="213.3" r="2.2"/>
<circle cx="642.3" cy="200.0" r="2.2"/>
<circle cx="668.1" cy="196.3" r="2.2"/>
<circle cx="644.0" cy="198.8" r="2.2"/>
<circle cx="642.9" cy="212.9" r="2.2"/>
<circle cx="651.3" cy="212.9" r="2.2"/>
<circle cx="648.3" cy="210.1" r="2.2"/>
<circle cx="676.3" cy="202.9" r="2.2"/>
<circle cx="676.7" cy="200.8" r="2.2"/>
<circle cx="651.5" cy="198.6" r="2.2"/>
<circle cx="640.5" cy="196.7" r="2.2"/>
<circle cx="642.6" cy="194.2" r="2.2"/>
<circle cx="634.7" cy="210.2" r="2.2"/>
<circle cx="649.1" cy="216.4" r="2.2"/>
<circle cx="662.9" cy="196.4" r="2.2"/>
<circle cx="663.1" cy="206.1" r="2.2"/>
<circle cx="642.4" cy="194.6" r="2.2"/>
<circle cx="649.9" cy="198.7" r="2.2"/>
<circle cx="640.2" cy="211.3" r="2.2"/>
<circle cx="643.9" cy="203.8" r="2.2"/>
<circle cx="646.9" cy="207.0" r="2.2"/>
<circle cx="637.7" cy="199.6" r="2.2"/>
<circle cx="642.6" cy="205.5" r="2.2"/>
<circle cx="657.4" cy="213.2" r="2.2"/>
<circle cx="661.9" cy="189.9" r="2.2"/>
<circle cx="666.2" cy="212.7" r="2.2"/>
<circle cx="674.9" cy="196.0" r="2.2"/>
<circle cx="658.0" cy="194.8" r="2.2"/>
<circle cx="659.9" cy="209.6" r="2.2"/>
<circle cx="671.9" cy="203.9" r="2.2"/>
<circle cx="656.9" cy="197.8" r="2.2"/>
<circle cx="633.7" cy="201.3" r="2.2"/>
<circle cx="637.9" cy="208.4" r="2.2"/>
<circle cx="640.7" cy="200.2" r="2.2"/>
<circle cx="670.9" cy="192.9" r="2.2"/>
<circle cx="654.0" cy="209.9" r="2.2"/>
<circle cx="675.8" cy="207.3" r="2.2"/>
<circle cx="668.1" cy="209.2" r="2.2"/>
<circle cx="666.3" cy="201.6" r="2.2"/>
<circle cx="652.3" cy="203.5" r="2.2"/>
<circle cx="678.3" cy="199.7" r="2.2"/>
<circle cx="650.5" cy="210.4" r="2.2"/>
<circle cx="643.4" cy="200.0" r="2.2"/>
<circle cx="637.6" cy="203.0" r="2.2"/>
<circle cx="636.2" cy="206.4" r="2.2"/>
<circle cx="651.2" cy="195.0" r="2.2"/>
<circle cx="642.0" cy="205.8" r="2.2"/>
<circle cx="677.0" cy="200.4" r="2.2"/>
<circle cx="663.3" cy="196.5" r="2.2"/>
<circle cx="637.5" cy="211.0" r="2.2"/>
<circle cx="675.3" cy="196.4" r="2.2"/>
<circle cx="644.1" cy="206.8" r="2.2"/>
<circle cx="636.4" cy="195.4" r="2.2"/>
<circle cx="653.3" cy="201.6" r="2.2"/>
<circle cx="642.4" cy="203.1" r="2.2"/>
<circle cx="642.8" cy="200.8" r="2.2"/>
<circle cx="667.8" cy="205.8" r="2.2"/>
<circle cx="650.7" cy="202.2" r="2.2"/>
<circle cx="672.4" cy="210.2" r="2.2"/>
<circle cx="650.3" cy="203.9" r="2.2"/>
<circle cx="660.0" cy="192.7" r="2.2"/>
<circle cx="665.9" cy="198.1" r="2.2"/>
<circle cx="665.6" cy="204.7" r="2.2"/>
<circle cx="635.6" cy="203.8" r="2.2"/>
<circle cx="662.0" cy="189.9" r="2.2"/>
<circle cx="635.5" cy="199.9" r="2.2"/>
<circle cx="658.3" cy="200.8" r="2.2"/>
<circle cx="649.0" cy="207.9" r="2.2"/>
<circle cx="640.9" cy="197.8" r="2.2"/>
<circle cx="652.2" cy="215.1" r="2.2"/>
<circle cx="649.0" cy="191.8" r="2.2"/>
<circle cx="640.3" cy="203.9" r="2.2"/>
<circle cx="655.4" cy="196.2" r="2.2"/>
<circle cx="645.6" cy="213.5" r="2.2"/>
<circle cx="677.7" cy="199.8" r="2.2"/>
<circle cx="660.9" cy="208.7" r="2.2"/>
<circle cx="665.0" cy="197.5" r="2.2"/>
<circle cx="640.7" cy="199.8" r="2.2"/>
<circle cx="652.9" cy="195.9" r="2.2"/>
<circle cx="646.6" cy="203.1" r="2.2"/>
<circle cx="643.3" cy="215.4" r="2.2"/>
<circle cx="661.5" cy="213.1" r="2.2"/>
<circle cx="640.4" cy="210.5" r="2.2"/>
<circle cx="650.7" cy="196.5" r="2.2"/>
<circle cx="660.9" cy="192.6" r="2.2"/>
<circle cx="676.3" cy="193.7" r="2.2"/>
<circle cx="669.0" cy="201.7" r="2.2"/>
<circle cx="636.0" cy="210.8" r="2.2"/>
<circle cx="640.0" cy="197.2" r="2.2"/>
<circle cx="671.8" cy="211.3" r="2.2"/>
<circle cx="651.0" cy="212.3" r="2.2"/>
<circle cx="642.8" cy="201.4" r="2.2"/>
<circle cx="648.8" cy="199.5" r="2.2"/>
<circle cx="654.7" cy="202.9" r="2.2"/>
<circle cx="664.6" cy="210.5" r="2.2"/>
<circle cx="647.5" cy="201.5" r="2.2"/>
<circle cx="656.7" cy="194.0" r="2.2"/>
<circle cx="666.8" cy="194.1" r="2.2"/>
<circle cx="634.2" cy="210.2" r="2.2"/>
<circle cx="662.3" cy="201.8" r="2.2"/>
<circle cx="640.7" cy="193.2" r="2.2"/>
<circle cx="665.5" cy="196.0" r="2.2"/>
<circle cx="650.8" cy="210.6" r="2.2"/>
<circle cx="636.7" cy="208.1" r="2.2"/>
<circle cx="645.0" cy="194.9" r="2.2"/>
<circle cx="656.0" cy="211.1" r="2.2"/>
<circle cx="647.9" cy="199.5" r="2.2"/>
<circle cx="664.0" cy="207.9" r="2.2"/>
<circle cx="662.6" cy="203.5" r="2.2"/>
<circle cx="636.0" cy="199.5" r="2.2"/>
<circle cx="675.0" cy="193.2" r="2.2"/>
<circle cx="676.7" cy="205.1" r="2.2"/>
<circle cx="672.5" cy="210.8" r="2.2"/>
<circle cx="656.1" cy="209.7" r="2.2"/>
<circle cx="648.8" cy="189.8" r="2.2"/>
<circle cx="673.8" cy="202.3" r="2.2"/>
<circle cx="635.3" cy="197.0" r="2.2"/>
<circle cx="669.8" cy="208.3" r="2.2"/>
<circle cx="646.0" cy="200.0" r="2.2"/>
<circle cx="636.8" cy="211.5" r="2.2"/>
<circle cx="671.3" cy="201.5" r="2.2"/>
<circle cx="661.0" cy="203.2" r="2.2"/>
<circle cx="662.4" cy="204.6" r="2.2"/>
<circle cx="646.9" cy="203.4" r="2.2"/>
<circle cx="671.2" cy="197.2" r="2.2"/>
<circle cx="637.4" cy="195.0" r="2.2"/>
<circle cx="656.4" cy="212.2" r="2.2"/>
<circle cx="664.5" cy="211.9" r="2.2"/>
<circle cx="660.9" cy="210.6" r="2.2"/>
<circle cx="667.7" cy="200.2" r="2.2"/>
<circle cx="647.6" cy="214.4" r="2.2"/>
<circle cx="667.7" cy="199.0" r="2.2"/>
<circle cx="664.4" cy="191.9" r="2.2"/>
<circle cx="667.4" cy="197.5" r="2.2"/>
<circle cx="635.9" cy="206.0" r="2.2"/>
<circle cx="655.7" cy="205.7" r="2.2"/>
<circle cx="640.2" cy="212.8" r="2.2"/>
<circle cx="661.4" cy="190.5" r="2.2"/>
<circle cx="677.5" cy="196.6" r="2.2"/>
<circle cx="633.1" cy="207.9" r="2.2"/>
<circle cx="621.6" cy="195.3" r="2.2"/>
<circle cx="611.4" cy="204.0" r="2.2"/>
<circle cx="629.3" cy="197.1" r="2.2"/>
<circle cx="618.2" cy="206.5" r="2.2"/>
<circle cx="611.6" cy="203.5" r="2.2"/>
<circle cx="620.8" cy="214.9" r="2.2"/>
<circle cx="630.8" cy="195.5" r="2.2"/>
<circle cx="630.2" cy="205.6" r="2.2"/>
<circle cx="609.7" cy="202.4" r="2.2"/>
<circle cx="612.4" cy="220.1" r="2.2"/>
<circle cx="620.5" cy="198.6" r="2.2"/>
<circle cx="629.4" cy="194.4" r="2.2"/>
<circle cx="629.3" cy="208.0" r="2.2"/>
<circle cx="607.0" cy="218.7" r="2.2"/>
<circle cx="616.2" cy="210.3" r="2.2"/>
<circle cx="626.2" cy="195.7" r="2.2"/>
<circle cx="612.1" cy="202.0" r="2.2"/>
<circle cx="610.1" cy="220.4" r="2.2"/>
<circle cx="623.5" cy="202.3" r="2.2"/>
<circle cx="626.1" cy="216.9" r="2.2"/>
<circle cx="614.2" cy="216.7" r="2.2"/>
<circle cx="616.7" cy="205.6" r="2.2"/>
<circle cx="621.9" cy="221.4" r="2.2"/>
<circle cx="616.7" cy="205.3" r="2.2"/>
<circle cx="613.4" cy="212.9" r="2.2"/>
<circle cx="628.2" cy="215.3" r="2.2"/>
<circle cx="611.3" cy="198.6" r="2.2"/>
<circle cx="631.6" cy="193.1" r="2.2"/>
<circle cx="627.6" cy="196.0" r="2.2"/>
<circle cx="614.1" cy="217.9" r="2.2"/>
<circle cx="620.9" cy="195.1" r="2.2"/>
<circle cx="620.0" cy="220.2" r="2.2"/>
<circle cx="631.1" cy="200.4" r="2.2"/>
<circle cx="621.5" cy="217.3" r="2.2"/>
<circle cx="632.1" cy="206.6" r="2.2"/>
<circle cx="631.2" cy="208.6" r="2.2"/>
<circle cx="629.5" cy="209.7" r="2.2"/>
<circle cx="614.3" cy="217.0" r="2.2"/>
<circle cx="622.2" cy="201.6" r="2.2"/>
<circle cx="626.0" cy="195.9" r="2.2"/>
<circle cx="609.5" cy="215.3" r="2.2"/>
<circle cx="612.9" cy="217.3" r="2.2"/>
<circle cx="625.8" cy="201.6" r="2.2"/>
<circle cx="632.7" cy="198.9" r="2.2"/>
<circle cx="617.6" cy="214.8" r="2.2"/>
<circle cx="606.7" cy="206.9" r="2.2"/>
<circle cx="621.0" cy="221.9" r="2.2"/>
<circle cx="630.8" cy="197.7" r="2.2"/>
<circle cx="612.2" cy="202.5" r="2.2"/>
<circle cx="622.4" cy="215.0" r="2.2"/>
<circle cx="606.6" cy="222.0" r="2.2"/>
<circle cx="623.1" cy="214.4" r="2.2"/>
<circle cx="616.6" cy="220.3" r="2.2"/>
<circle cx="627.5" cy="204.7" r="2.2"/>
<circle cx="620.8" cy="221.2" r="2.2"/>
<circle cx="606.3" cy="219.9" r="2.2"/>
<circle cx="625.0" cy="207.2" r="2.2"/>
<circle cx="621.3" cy="206.7" r="2.2"/>
<circle cx="607.2" cy="214.0" r="2.2"/>
<circle cx="607.1" cy="199.0" r="2.2"/>
<circle cx="618.7" cy="205.0" r="2.2"/>
<circle cx="623.1" cy="218.5" r="2.2"/>
<circle cx="617.9" cy="208.7" r="2.2"/>
<circle cx="621.4" cy="214.4" r="2.2"/>
<circle cx="611.8" cy="202.7" r="2.2"/>
<circle cx="629.1" cy="203.4" r="2.2"/>
<circle cx="620.3" cy="220.1" r="2.2"/>
<circle cx="618.7" cy="201.6" r="2.2"/>
<circle cx="619.0" cy="206.0" r="2.2"/>
<circle cx="629.0" cy="205.8" r="2.2"/>
<circle cx="607.6" cy="218.8" r="2.2"/>
<circle cx="618.7" cy="214.2" r="2.2"/>
<circle cx="632.8" cy="210.4" r="2.2"/>
<circle cx="629.2" cy="206.5" r="2.2"/>
<circle cx="611.2" cy="216.4" r="2.2"/>
<circle cx="617.1" cy="196.8" r="2.2"/>
<circle cx="611.9" cy="214.9" r="2.2"/>
<circle cx="625.5" cy="204.5" r="2.2"/>
<circle cx="617.1" cy="221.7" r="2.2"/>
<circle cx="606.9" cy="200.4" r="2.2"/>
<circle cx="620.2" cy="198.8" r="2.2"/>
<circle cx="616.8" cy="207.1" r="2.2"/>
<circle cx="623.1" cy="205.9" r="2.2"/>
<circle cx="623.1" cy="205.3" r="2.2"/>
<circle cx="626.6" cy="195.1" r="2.2"/>
<circle cx="630.5" cy="211.6" r="2.2"/>
<circle cx="631.7" cy="208.0" r="2.2"/>
<circle cx="626.8" cy="204.4" r="2.2"/>
<circle cx="632.4" cy="196.8" r="2.2"/>
<circle cx="612.6" cy="223.0" r="2.2"/>
<circle cx="625.0" cy="199.6" r="2.2"/>
<circle cx="612.2" cy="214.5" r="2.2"/>
<circle cx="630.7" cy="195.6" r="2.2"/>
<circle cx="632.3" cy="193.8" r="2.2"/>
<circle cx="628.7" cy="214.0" r="2.2"/>
<circle cx="611.0" cy="206.1" r="2.2"/>
<circle cx="627.1" cy="205.9" r="2.2"/>
<circle cx="606.4" cy="218.1" r="2.2"/>
<circle cx="605.9" cy="209.4" r="2.2"/>
<circle cx="622.3" cy="201.4" r="2.2"/>
<circle cx="627.7" cy="213.4" r="2.2"/>
<circle cx="622.7" cy="202.6" r="2.2"/>
<circle cx="619.4" cy="200.8" r="2.2"/>
<circle cx="626.9" cy="214.6" r="2.2"/>
<circle cx="610.4" cy="218.3" r="2.2"/>
<circle cx="608.1" cy="211.3" r="2.2"/>
<circle cx="616.7" cy="220.9" r="2.2"/>
<circle cx="627.5" cy="205.1" r="2.2"/>
<circle cx="621.6" cy="197.1" r="2.2"/>
<circle cx="620.3" cy="199.0" r="2.2"/>
<circle cx="625.6" cy="195.3" r="2.2"/>
<circle cx="608.0" cy="220.0" r="2.2"/>
<circle cx="607.6" cy="216.0" r="2.2"/>
<circle cx="631.5" cy="204.2" r="2.2"/>
<circle cx="608.5" cy="210.4" r="2.2"/>
<circle cx="612.1" cy="205.0" r="2.2"/>
<circle cx="612.7" cy="211.7" r="2.2"/>
<circle cx="613.9" cy="222.5" r="2.2"/>
<circle cx="621.7" cy="212.4" r="2.2"/>
<circle cx="625.0" cy="206.4" r="2.2"/>
<circle cx="629.5" cy="205.3" r="2.2"/>
<circle cx="622.3" cy="209.9" r="2.2"/>
<circle cx="630.1" cy="194.7" r="2.2"/>
<circle cx="616.1" cy="204.0" r="2.2"/>
<circle cx="630.2" cy="210.1" r="2.2"/>
<circle cx="608.0" cy="214.2" r="2.2"/>
<circle cx="632.6" cy="199.6" r="2.2"/>
<circle cx="608.9" cy="219.6" r="2.2"/>
<circle cx="615.2" cy="207.4" r="2.2"/>
<circle cx="627.2" cy="216.2" r="2.2"/>
<circle cx="629.6" cy="199.0" r="2.2"/>
<circle cx="611.8" cy="203.9" r="2.2"/>
<circle cx="610.7" cy="220.4" r="2.2"/>
<circle cx="606.6" cy="214.8" r="2.2"/>
<circle cx="609.8" cy="221.0" r="2.2"/>
<circle cx="620.7" cy="218.1" r="2.2"/>
<circle cx="621.8" cy="222.9" r="2.2"/>
<circle cx="662.0" cy="218.2" r="2.2"/>
<circle cx="652.8" cy="228.2" r="2.2"/>
<circle cx="619.4" cy="229.4" r="2.2"/>
<circle cx="645.9" cy="216.5" r="2.2"/>
<circle cx="658.6" cy="218.9" r="2.2"/>
<circle cx="665.8" cy="221.6" r="2.2"/>
<circle cx="627.9" cy="218.8" r="2.2"/>
<circle cx="635.7" cy="224.7" r="2.2"/>
<circle cx="665.3" cy="219.2" r="2.2"/>
<circle cx="657.0" cy="216.5" r="2.2"/>
<circle cx="649.4" cy="224.2" r="2.2"/>
<circle cx="650.3" cy="215.9" r="2.2"/>
<circle cx="663.8" cy="224.3" r="2.2"/>
<circle cx="657.4" cy="228.3" r="2.2"/>
<circle cx="613.0" cy="226.8" r="2.2"/>
<circle cx="652.3" cy="228.9" r="2.2"/>
<circle cx="617.7" cy="228.2" r="2.2"/>
<circle cx="660.7" cy="215.1" r="2.2"/>
<circle cx="628.7" cy="222.2" r="2.2"/>
<circle cx="646.1" cy="217.1" r="2.2"/>
<circle cx="651.1" cy="217.5" r="2.2"/>
<circle cx="628.8" cy="226.3" r="2.2"/>
<circle cx="634.0" cy="224.2" r="2.2"/>
<circle cx="631.2" cy="226.4" r="2.2"/>
<circle cx="658.9" cy="221.9" r="2.2"/>
<circle cx="658.9" cy="214.0" r="2.2"/>
<circle cx="623.7" cy="224.8" r="2.2"/>
<circle cx="654.8" cy="217.4" r="2.2"/>
<circle cx="641.2" cy="216.7" r="2.2"/>
<circle cx="634.6" cy="221.5" r="2.2"/>
<circle cx="624.6" cy="224.8" r="2.2"/>
<circle cx="647.9" cy="223.4" r="2.2"/>
<circle cx="664.9" cy="214.0" r="2.2"/>
<circle cx="626.6" cy="225.5" r="2.2"/>
<circle cx="654.3" cy="223.9" r="2.2"/>
<circle cx="662.5" cy="226.9" r="2.2"/>
<circle cx="656.5" cy="228.7" r="2.2"/>
<circle cx="617.2" cy="228.8" r="2.2"/>
<circle cx="661.2" cy="215.1" r="2.2"/>
<circle cx="627.8" cy="223.0" r="2.2"/>
<circle cx="627.4" cy="222.1" r="2.2"/>
<circle cx="661.5" cy="214.1" r="2.2"/>
<circle cx="662.7" cy="226.6" r="2.2"/>
<circle cx="632.0" cy="217.6" r="2.2"/>
<circle cx="646.3" cy="218.7" r="2.2"/>
<circle cx="627.5" cy="219.1" r="2.2"/>
<circle cx="659.4" cy="220.6" r="2.2"/>
<circle cx="651.7" cy="217.2" r="2.2"/>
<circle cx="613.2" cy="226.2" r="2.2"/>
<circle cx="648.1" cy="221.6" r="2.2"/>
<circle cx="662.6" cy="219.6" r="2.2"/>
<circle cx="642.2" cy="226.4" r="2.2"/>
<circle cx="642.8" cy="226.7" r="2.2"/>
<circle cx="630.8" cy="225.6" r="2.2"/>
<circle cx="636.9" cy="227.1" r="2.2"/>
<circle cx="640.2" cy="216.6" r="2.2"/>
<circle cx="659.0" cy="228.7" r="2.2"/>
<circle cx="649.9" cy="217.5" r="2.2"/>
<circle cx="642.0" cy="220.0" r="2.2"/>
<circle cx="614.6" cy="222.2" r="2.2"/>
<circle cx="628.7" cy="223.4" r="2.2"/>
<circle cx="645.3" cy="224.2" r="2.2"/>
<circle cx="642.2" cy="220.5" r="2.2"/>
<circle cx="660.7" cy="219.6" r="2.2"/>
<circle cx="636.0" cy="228.0" r="2.2"/>
<circle cx="645.5" cy="216.3" r="2.2"/>
<circle cx="662.9" cy="227.4" r="2.2"/>
<circle cx="650.3" cy="225.2" r="2.2"/>
<circle cx="647.8" cy="219.5" r="2.2"/>
<circle cx="627.6" cy="226.8" r="2.2"/>
<circle cx="627.8" cy="220.5" r="2.2"/>
<circle cx="647.4" cy="229.3" r="2.2"/>
<circle cx="639.8" cy="216.5" r="2.2"/>
<circle cx="629.0" cy="228.0" r="2.2"/>
<circle cx="651.5" cy="223.5" r="2.2"/>
<circle cx="638.7" cy="218.6" r="2.2"/>
<circle cx="628.3" cy="226.7" r="2.2"/>
<circle cx="649.0" cy="224.6" r="2.2"/>
<circle cx="633.4" cy="227.1" r="2.2"/>
<circle cx="628.3" cy="226.4" r="2.2"/>
<circle cx="619.2" cy="229.7" r="2.2"/>
<circle cx="628.1" cy="226.7" r="2.2"/>
<circle cx="662.8" cy="217.5" r="2.2"/>
<circle cx="647.4" cy="222.2" r="2.2"/>
<circle cx="628.3" cy="226.0" r="2.2"/>
<circle cx="636.5" cy="228.8" r="2.2"/>
<circle cx="650.9" cy="223.4" r="2.2"/>
<circle cx="645.3" cy="223.8" r="2.2"/>
<circle cx="618.2" cy="225.5" r="2.2"/>
<circle cx="659.9" cy="217.8" r="2.2"/>
<circle cx="643.6" cy="221.5" r="2.2"/>
<circle cx="623.5" cy="228.8" r="2.2"/>
<circle cx="661.7" cy="225.6" r="2.2"/>
<circle cx="630.3" cy="228.5" r="2.2"/>
<circle cx="626.2" cy="220.1" r="2.2"/>
<circle cx="649.3" cy="215.1" r="2.2"/>
<circle cx="655.3" cy="225.9" r="2.2"/>
<circle cx="643.7" cy="228.5" r="2.2"/>
<circle cx="658.9" cy="218.3" r="2.2"/>
<circle cx="630.1" cy="219.6" r="2.2"/>
<circle cx="658.3" cy="220.3" r="2.2"/>
<circle cx="629.0" cy="225.6" r="2.2"/>
<circle cx="660.1" cy="221.7" r="2.2"/>
<circle cx="648.5" cy="217.4" r="2.2"/>
<circle cx="646.2" cy="216.2" r="2.2"/>
<circle cx="614.9" cy="228.5" r="2.2"/>
<circle cx="658.2" cy="220.8" r="2.2"/>
<circle cx="630.5" cy="229.7" r="2.2"/>
<circle cx="638.5" cy="216.6" r="2.2"/>
<circle cx="625.9" cy="224.5" r="2.2"/>
<circle cx="652.3" cy="215.3" r="2.2"/>
<circle cx="633.6" cy="225.3" r="2.2"/>
<circle cx="663.0" cy="215.0" r="2.2"/>
<circle cx="661.6" cy="215.4" r="2.2"/>
<circle cx="652.5" cy="218.9" r="2.2"/>
<circle cx="639.2" cy="227.7" r="2.2"/>
<circle cx="636.4" cy="217.2" r="2.2"/>
<circle cx="654.4" cy="225.3" r="2.2"/>
<circle cx="656.9" cy="216.1" r="2.2"/>
<circle cx="626.8" cy="225.8" r="2.2"/>
<circle cx="637.8" cy="221.7" r="2.2"/>
<circle cx="646.8" cy="228.0" r="2.2"/>
<circle cx="659.4" cy="226.4" r="2.2"/>
<circle cx="665.3" cy="228.4" r="2.2"/>
<circle cx="622.7" cy="225.6" r="2.2"/>
<circle cx="618.6" cy="246.6" r="2.2"/>
<circle cx="632.5" cy="256.5" r="2.2"/>
<circle cx="660.4" cy="264.2" r="2.2"/>
<circle cx="659.6" cy="246.0" r="2.2"/>
<circle cx="621.2" cy="244.9" r="2.2"/>
<circle cx="618.9" cy="243.1" r="2.2"/>
<circle cx="665.2" cy="232.5" r="2.2"/>
<circle cx="649.1" cy="259.9" r="2.2"/>
<circle cx="651.2" cy="255.4" r="2.2"/>
<circle cx="659.3" cy="233.0" r="2.2"/>
<circle cx="645.0" cy="246.2" r="2.2"/>
<circle cx="630.9" cy="241.1" r="2.2"/>
<circle cx="645.8" cy="270.4" r="2.2"/>
<circle cx="655.5" cy="251.8" r="2.2"/>
<circle cx="636.1" cy="238.7" r="2.2"/>
<circle cx="626.8" cy="242.8" r="2.2"/>
<circle cx="646.9" cy="253.0" r="2.2"/>
<circle cx="644.0" cy="255.4" r="2.2"/>
<circle cx="616.3" cy="243.5" r="2.2"/>
<circle cx="648.4" cy="249.8" r="2.2"/>
<circle cx="619.6" cy="237.4" r="2.2"/>
<circle cx="640.7" cy="263.6" r="2.2"/>
<circle cx="656.7" cy="247.3" r="2.2"/>
<circle cx="658.0" cy="248.8" r="2.2"/>
<circle cx="637.0" cy="243.6" r="2.2"/>
<circle cx="620.5" cy="244.2" r="2.2"/>
<circle cx="634.2" cy="250.1" r="2.2"/>
<circle cx="629.3" cy="256.4" r="2.2"/>
<circle cx="650.6" cy="265.5" r="2.2"/>
<circle cx="640.6" cy="246.0" r="2.2"/>
<circle cx="661.7" cy="256.2" r="2.2"/>
<circle cx="655.3" cy="253.9" r="2.2"/>
<circle cx="632.0" cy="258.7" r="2.2"/>
<circle cx="658.6" cy="252.9" r="2.2"/>
<circle cx="647.5" cy="263.4" r="2.2"/>
<circle cx="617.4" cy="241.8" r="2.2"/>
<circle cx="620.6" cy="245.4" r="2.2"/>
<circle cx="629.5" cy="253.3" r="2.2"/>
<circle cx="645.0" cy="260.9" r="2.2"/>
<circle cx="619.0" cy="233.6" r="2.2"/>
<circle cx="643.6" cy="231.2" r="2.2"/>
<circle cx="625.8" cy="254.0" r="2.2"/>
<circle cx="665.1" cy="232.7" r="2.2"/>
<circle cx="658.0" cy="269.2" r="2.2"/>
<circle cx="638.2" cy="260.9" r="2.2"/>
<circle cx="636.2" cy="238.4" r="2.2"/>
<circle cx="648.8" cy="235.9" r="2.2"/>
<circle cx="629.4" cy="244.3" r="2.2"/>
<circle cx="639.7" cy="253.3" r="2.2"/>
<circle cx="628.6" cy="248.2" r="2.2"/>
<circle cx="646.0" cy="235.4" r="2.2"/>
<circle cx="640.7" cy="252.5" r="2.2"/>
<circle cx="632.3" cy="258.6" r="2.2"/>
<circle cx="635.4" cy="232.2" r="2.2"/>
<circle cx="634.8" cy="254.0" r="2.2"/>
<circle cx="612.3" cy="232.8" r="2.2"/>
<circle cx="646.5" cy="236.4" r="2.2"/>
<circle cx="645.3" cy="240.7" r="2.2"/>
<circle cx="662.3" cy="236.9" r="2.2"/>
<circle cx="651.9" cy="267.2" r="2.2"/>
<circle cx="657.4" cy="251.1" r="2.2"/>
<circle cx="634.7" cy="239.3" r="2.2"/>
<circle cx="647.6" cy="259.6" r="2.2"/>
<circle cx="657.2" cy="251.5" r="2.2"/>
<circle cx="648.8" cy="247.2" r="2.2"/>
<circle cx="662.7" cy="262.2" r="2.2"/>
<circle cx="618.7" cy="252.7" r="2.2"/>
<circle cx="613.5" cy="245.4" r="2.2"/>
<circle cx="644.8" cy="233.7" r="2.2"/>
<circle cx="640.0" cy="251.3" r="2.2"/>
<circle cx="658.7" cy="236.6" r="2.2"/>
<circle cx="640.8" cy="262.3" r="2.2"/>
<circle cx="625.1" cy="240.5" r="2.2"/>
<circle cx="618.6" cy="239.5" r="2.2"/>
<circle cx="641.5" cy="262.0" r="2.2"/>
<circle cx="619.0" cy="247.8" r="2.2"/>
<circle cx="631.8" cy="259.5" r="2.2"/>
<circle cx="619.3" cy="234.2" r="2.2"/>
<circle cx="648.5" cy="243.1" r="2.2"/>
<circle cx="633.3" cy="241.0" r="2.2"/>
<circle cx="643.8" cy="230.8" r="2.2"/>
<circle cx="637.0" cy="258.6" r="2.2"/>
<circle cx="618.5" cy="236.4" r="2.2"/>
<circle cx="653.5" cy="237.3" r="2.2"/>
<circle cx="640.2" cy="261.6" r="2.2"/>
<circle cx="633.5" cy="246.8" r="2.2"/>
<circle cx="613.9" cy="252.2" r="2.2"/>
<circle cx="612.2" cy="237.9" r="2.2"/>
<circle cx="658.2" cy="251.9" r="2.2"/>
<circle cx="616.9" cy="252.2" r="2.2"/>
<circle cx="639.9" cy="261.2" r="2.2"/>
<circle cx="636.1" cy="255.5" r="2.2"/>
<circle cx="652.6" cy="255.0" r="2.2"/>
<circle cx="618.3" cy="247.4" r="2.2"/>
<circle cx="653.3" cy="240.9" r="2.2"/>
<circle cx="645.5" cy="242.2" r="2.2"/>
<circle cx="654.5" cy="259.7" r="2.2"/>
<circle cx="639.6" cy="249.4" r="2.2"/>
<circle cx="613.0" cy="242.3" r="2.2"/>
<circle cx="653.6" cy="266.7" r="2.2"/>
<circle cx="663.9" cy="258.7" r="2.2"/>
<circle cx="626.5" cy="249.1" r="2.2"/>
<circle cx="661.8" cy="260.8" r="2.2"/>
<circle cx="664.4" cy="240.3" r="2.2"/>
<circle cx="615.0" cy="251.2" r="2.2"/>
<circle cx="646.8" cy="254.7" r="2.2"/>
<circle cx="620.6" cy="239.7" r="2.2"/>
<circle cx="657.2" cy="242.2" r="2.2"/>
<circle cx="631.8" cy="250.4" r="2.2"/>
<circle cx="642.8" cy="250.9" r="2.2"/>
<circle cx="652.8" cy="254.5" r="2.2"/>
<circle cx="648.9" cy="270.3" r="2.2"/>
<circle cx="655.0" cy="261.7" r="2.2"/>
<circle cx="651.9" cy="238.1" r="2.2"/>
<circle cx="641.7" cy="260.7" r="2.2"/>
<circle cx="634.1" cy="230.0" r="2.2"/>
<circle cx="651.3" cy="246.6" r="2.2"/>
<circle cx="656.3" cy="267.3" r="2.2"/>
<circle cx="618.7" cy="233.5" r="2.2"/>
<circle cx="652.2" cy="268.2" r="2.2"/>
<circle cx="651.4" cy="242.6" r="2.2"/>
<circle cx="651.3" cy="232.3" r="2.2"/>
<circle cx="656.5" cy="248.6" r="2.2"/>
<circle cx="613.6" cy="230.1" r="2.2"/>
<circle cx="652.5" cy="266.3" r="2.2"/>
<circle cx="631.8" cy="245.6" r="2.2"/>
<circle cx="640.7" cy="246.9" r="2.2"/>
<circle cx="648.6" cy="234.3" r="2.2"/>
<circle cx="657.2" cy="258.6" r="2.2"/>
<circle cx="658.1" cy="262.9" r="2.2"/>
<circle cx="646.1" cy="249.5" r="2.2"/>
<circle cx="661.0" cy="232.0" r="2.2"/>
<circle cx="659.0" cy="239.3" r="2.2"/>
<circle cx="651.3" cy="244.9" r="2.2"/>
</g>
</g>
<clipPath id="sc1"><rect x="527.4" y="185.6" width="156.39999999999998" height="123.9"/></clipPath>
<text x="539.30" y="198.90" font-size="8.44" fill="#1a1a1a" stroke="#1a1a1a" stroke-width="0.12"><tspan font-style="italic">r</tspan> = 0.6, <tspan font-style="italic">p</tspan> &lt; 2.2e&#8722;16</text>
<rect x="527.4" y="185.6" width="156.39999999999998" height="123.9" fill="none" stroke="#858e8f" stroke-width="0.9"/>
<line x1="525.00" y1="305.00" x2="527.40" y2="305.00" stroke="#4a4a4a" stroke-width="0.9" />
<text x="523.30" y="307.45" font-size="6.8" fill="#5a6060" text-anchor="end" font-weight="normal" font-style="normal" stroke="#5a6060" stroke-width="0.2" >0.00</text>
<line x1="534.30" y1="309.50" x2="534.30" y2="311.90" stroke="#4a4a4a" stroke-width="0.9" />
<text x="534.30" y="318.45" font-size="6.8" fill="#5a6060" text-anchor="middle" font-weight="normal" font-style="normal" stroke="#5a6060" stroke-width="0.2" >0.00</text>
<line x1="525.00" y1="276.60" x2="527.40" y2="276.60" stroke="#4a4a4a" stroke-width="0.9" />
<text x="523.30" y="279.05" font-size="6.8" fill="#5a6060" text-anchor="end" font-weight="normal" font-style="normal" stroke="#5a6060" stroke-width="0.2" >0.25</text>
<line x1="569.95" y1="309.50" x2="569.95" y2="311.90" stroke="#4a4a4a" stroke-width="0.9" />
<text x="569.95" y="318.45" font-size="6.8" fill="#5a6060" text-anchor="middle" font-weight="normal" font-style="normal" stroke="#5a6060" stroke-width="0.2" >0.25</text>
<line x1="525.00" y1="248.20" x2="527.40" y2="248.20" stroke="#4a4a4a" stroke-width="0.9" />
<text x="523.30" y="250.65" font-size="6.8" fill="#5a6060" text-anchor="end" font-weight="normal" font-style="normal" stroke="#5a6060" stroke-width="0.2" >0.50</text>
<line x1="605.60" y1="309.50" x2="605.60" y2="311.90" stroke="#4a4a4a" stroke-width="0.9" />
<text x="605.60" y="318.45" font-size="6.8" fill="#5a6060" text-anchor="middle" font-weight="normal" font-style="normal" stroke="#5a6060" stroke-width="0.2" >0.50</text>
<line x1="525.00" y1="219.80" x2="527.40" y2="219.80" stroke="#4a4a4a" stroke-width="0.9" />
<text x="523.30" y="222.25" font-size="6.8" fill="#5a6060" text-anchor="end" font-weight="normal" font-style="normal" stroke="#5a6060" stroke-width="0.2" >0.75</text>
<line x1="641.25" y1="309.50" x2="641.25" y2="311.90" stroke="#4a4a4a" stroke-width="0.9" />
<text x="641.25" y="318.45" font-size="6.8" fill="#5a6060" text-anchor="middle" font-weight="normal" font-style="normal" stroke="#5a6060" stroke-width="0.2" >0.75</text>
<line x1="525.00" y1="191.40" x2="527.40" y2="191.40" stroke="#4a4a4a" stroke-width="0.9" />
<text x="523.30" y="193.85" font-size="6.8" fill="#5a6060" text-anchor="end" font-weight="normal" font-style="normal" stroke="#5a6060" stroke-width="0.2" >1.00</text>
<line x1="676.90" y1="309.50" x2="676.90" y2="311.90" stroke="#4a4a4a" stroke-width="0.9" />
<text x="676.90" y="318.45" font-size="6.8" fill="#5a6060" text-anchor="middle" font-weight="normal" font-style="normal" stroke="#5a6060" stroke-width="0.2" >1.00</text>
<text x="605.60" y="328.40" font-size="7.6" fill="#1a1a1a" text-anchor="middle" font-weight="normal" font-style="normal" stroke="#1a1a1a" stroke-width="0.1" >CT in EC</text>
<text x="0" y="0" font-size="7.6" fill="#1a1a1a" stroke="#1a1a1a" stroke-width="0.1" text-anchor="middle" transform="translate(506.7,248.05) rotate(-90)">PET in EC</text>
<rect x="527.4" y="360.4" width="156.39999999999998" height="124.10000000000002" fill="#fff"/>
<line x1="527.40" y1="470.50" x2="683.80" y2="470.50" stroke="#f3f6f6" stroke-width="0.8" />
<line x1="551.84" y1="360.40" x2="551.84" y2="484.50" stroke="#f3f6f6" stroke-width="0.8" />
<line x1="527.40" y1="440.50" x2="683.80" y2="440.50" stroke="#f3f6f6" stroke-width="0.8" />
<line x1="587.51" y1="360.40" x2="587.51" y2="484.50" stroke="#f3f6f6" stroke-width="0.8" />
<line x1="527.40" y1="410.50" x2="683.80" y2="410.50" stroke="#f3f6f6" stroke-width="0.8" />
<line x1="623.19" y1="360.40" x2="623.19" y2="484.50" stroke="#f3f6f6" stroke-width="0.8" />
<line x1="527.40" y1="380.50" x2="683.80" y2="380.50" stroke="#f3f6f6" stroke-width="0.8" />
<line x1="658.86" y1="360.40" x2="658.86" y2="484.50" stroke="#f3f6f6" stroke-width="0.8" />
<line x1="534.00" y1="360.40" x2="534.00" y2="484.50" stroke="#e9efef" stroke-width="1" />
<line x1="527.40" y1="455.50" x2="683.80" y2="455.50" stroke="#e9efef" stroke-width="1" />
<line x1="569.67" y1="360.40" x2="569.67" y2="484.50" stroke="#e9efef" stroke-width="1" />
<line x1="527.40" y1="425.50" x2="683.80" y2="425.50" stroke="#e9efef" stroke-width="1" />
<line x1="605.35" y1="360.40" x2="605.35" y2="484.50" stroke="#e9efef" stroke-width="1" />
<line x1="527.40" y1="395.50" x2="683.80" y2="395.50" stroke="#e9efef" stroke-width="1" />
<line x1="641.02" y1="360.40" x2="641.02" y2="484.50" stroke="#e9efef" stroke-width="1" />
<line x1="527.40" y1="365.50" x2="683.80" y2="365.50" stroke="#e9efef" stroke-width="1" />
<line x1="676.70" y1="360.40" x2="676.70" y2="484.50" stroke="#e9efef" stroke-width="1" />
<g clip-path="url(#sc2)">
<line x1="534.10" y1="460.70" x2="677.00" y2="372.00" stroke="#80d8f6" stroke-width="1.9" stroke-linecap="round"/>
<g fill="#87defb" fill-opacity="0.55">
<circle cx="534.1" cy="467.3" r="2.2"/>
<circle cx="534.1" cy="471.1" r="2.2"/>
<circle cx="541.8" cy="457.7" r="2.2"/>
<circle cx="542.1" cy="468.8" r="2.2"/>
<circle cx="546.0" cy="461.1" r="2.2"/>
<circle cx="541.8" cy="477.7" r="2.2"/>
<circle cx="542.6" cy="478.5" r="2.2"/>
<circle cx="547.0" cy="474.0" r="2.2"/>
<circle cx="549.0" cy="477.0" r="2.2"/>
<circle cx="551.9" cy="469.1" r="2.2"/>
<circle cx="550.0" cy="435.9" r="2.2"/>
<circle cx="554.5" cy="448.1" r="2.2"/>
<circle cx="558.9" cy="469.1" r="2.2"/>
<circle cx="564.1" cy="478.9" r="2.2"/>
<circle cx="562.6" cy="444.8" r="2.2"/>
<circle cx="567.1" cy="449.5" r="2.2"/>
<circle cx="569.3" cy="450.3" r="2.2"/>
<circle cx="571.5" cy="447.3" r="2.2"/>
<circle cx="574.5" cy="448.1" r="2.2"/>
<circle cx="568.6" cy="442.9" r="2.2"/>
<circle cx="573.0" cy="443.6" r="2.2"/>
<circle cx="568.6" cy="433.2" r="2.2"/>
<circle cx="568.6" cy="428.8" r="2.2"/>
<circle cx="569.3" cy="434.7" r="2.2"/>
<circle cx="570.8" cy="422.5" r="2.2"/>
<circle cx="576.0" cy="431.7" r="2.2"/>
<circle cx="581.9" cy="432.5" r="2.2"/>
<circle cx="586.1" cy="442.9" r="2.2"/>
<circle cx="581.9" cy="470.6" r="2.2"/>
<circle cx="591.6" cy="436.9" r="2.2"/>
<circle cx="597.5" cy="431.7" r="2.2"/>
<circle cx="598.2" cy="449.8" r="2.2"/>
<circle cx="596.8" cy="456.2" r="2.2"/>
<circle cx="602.0" cy="455.2" r="2.2"/>
<circle cx="605.7" cy="448.1" r="2.2"/>
<circle cx="576.7" cy="415.4" r="2.2"/>
<circle cx="579.7" cy="412.4" r="2.2"/>
<circle cx="581.9" cy="418.4" r="2.2"/>
<circle cx="587.1" cy="415.4" r="2.2"/>
<circle cx="587.1" cy="410.7" r="2.2"/>
<circle cx="589.3" cy="408.0" r="2.2"/>
<circle cx="591.6" cy="418.7" r="2.2"/>
<circle cx="595.6" cy="418.1" r="2.2"/>
<circle cx="596.8" cy="406.5" r="2.2"/>
<circle cx="596.0" cy="408.0" r="2.2"/>
<circle cx="601.2" cy="405.0" r="2.2"/>
<circle cx="603.4" cy="403.2" r="2.2"/>
<circle cx="604.9" cy="410.9" r="2.2"/>
<circle cx="604.9" cy="421.3" r="2.2"/>
<circle cx="577.8" cy="397.3" r="2.2"/>
<circle cx="576.0" cy="383.0" r="2.2"/>
<circle cx="589.3" cy="385.4" r="2.2"/>
<circle cx="587.1" cy="379.8" r="2.2"/>
<circle cx="587.9" cy="376.8" r="2.2"/>
<circle cx="583.4" cy="366.7" r="2.2"/>
<circle cx="586.4" cy="367.2" r="2.2"/>
<circle cx="591.6" cy="367.9" r="2.2"/>
<circle cx="596.8" cy="367.2" r="2.2"/>
<circle cx="596.8" cy="373.8" r="2.2"/>
<circle cx="601.2" cy="379.8" r="2.2"/>
<circle cx="598.2" cy="391.4" r="2.2"/>
<circle cx="604.2" cy="390.2" r="2.2"/>
<circle cx="605.7" cy="373.8" r="2.2"/>
<circle cx="605.7" cy="385.7" r="2.2"/>
<circle cx="565.6" cy="373.1" r="2.2"/>
<circle cx="571.5" cy="373.1" r="2.2"/>
<circle cx="605.7" cy="397.6" r="2.2"/>
<circle cx="605.7" cy="403.5" r="2.2"/>
<circle cx="605.7" cy="416.9" r="2.2"/>
<circle cx="604.2" cy="424.3" r="2.2"/>
<circle cx="608.0" cy="426.5" r="2.2"/>
<circle cx="608.0" cy="431.7" r="2.2"/>
<circle cx="613.9" cy="428.8" r="2.2"/>
<circle cx="616.1" cy="435.4" r="2.2"/>
<circle cx="622.1" cy="436.2" r="2.2"/>
<circle cx="625.0" cy="431.7" r="2.2"/>
<circle cx="630.2" cy="439.1" r="2.2"/>
<circle cx="634.7" cy="435.4" r="2.2"/>
<circle cx="632.5" cy="429.5" r="2.2"/>
<circle cx="625.0" cy="443.6" r="2.2"/>
<circle cx="613.9" cy="446.9" r="2.2"/>
<circle cx="607.2" cy="448.8" r="2.2"/>
<circle cx="608.7" cy="450.7" r="2.2"/>
<circle cx="666.6" cy="399.8" r="2.2"/>
<circle cx="640.6" cy="425.0" r="2.2"/>
<circle cx="646.6" cy="424.3" r="2.2"/>
<circle cx="659.9" cy="420.6" r="2.2"/>
<circle cx="628.7" cy="369.4" r="2.2"/>
<circle cx="634.7" cy="369.4" r="2.2"/>
<circle cx="649.5" cy="366.4" r="2.2"/>
<circle cx="612.4" cy="378.3" r="2.2"/>
<circle cx="618.4" cy="375.3" r="2.2"/>
<circle cx="605.0" cy="381.3" r="2.2"/>
<circle cx="605.0" cy="408.0" r="2.2"/>
<circle cx="609.5" cy="409.5" r="2.2"/>
<circle cx="606.5" cy="418.4" r="2.2"/>
<circle cx="610.9" cy="421.3" r="2.2"/>
<circle cx="616.9" cy="422.8" r="2.2"/>
<circle cx="622.8" cy="425.8" r="2.2"/>
<circle cx="628.7" cy="424.3" r="2.2"/>
<circle cx="613.9" cy="416.9" r="2.2"/>
<circle cx="619.8" cy="418.4" r="2.2"/>
<circle cx="634.7" cy="424.3" r="2.2"/>
<circle cx="636.3" cy="390.9" r="2.2"/>
<circle cx="637.3" cy="395.0" r="2.2"/>
<circle cx="659.1" cy="381.1" r="2.2"/>
<circle cx="659.6" cy="388.8" r="2.2"/>
<circle cx="659.7" cy="386.8" r="2.2"/>
<circle cx="647.6" cy="374.4" r="2.2"/>
<circle cx="635.3" cy="399.2" r="2.2"/>
<circle cx="663.2" cy="390.6" r="2.2"/>
<circle cx="650.9" cy="386.0" r="2.2"/>
<circle cx="639.9" cy="387.3" r="2.2"/>
<circle cx="636.1" cy="391.1" r="2.2"/>
<circle cx="660.2" cy="393.2" r="2.2"/>
<circle cx="645.4" cy="394.0" r="2.2"/>
<circle cx="654.2" cy="396.5" r="2.2"/>
<circle cx="650.3" cy="381.7" r="2.2"/>
<circle cx="674.0" cy="371.9" r="2.2"/>
<circle cx="639.2" cy="389.8" r="2.2"/>
<circle cx="660.3" cy="383.2" r="2.2"/>
<circle cx="656.6" cy="383.5" r="2.2"/>
<circle cx="652.3" cy="405.0" r="2.2"/>
<circle cx="651.1" cy="391.3" r="2.2"/>
<circle cx="648.3" cy="396.3" r="2.2"/>
<circle cx="659.9" cy="387.4" r="2.2"/>
<circle cx="648.7" cy="404.6" r="2.2"/>
<circle cx="675.8" cy="372.1" r="2.2"/>
<circle cx="672.8" cy="381.1" r="2.2"/>
<circle cx="641.6" cy="393.8" r="2.2"/>
<circle cx="675.6" cy="373.8" r="2.2"/>
<circle cx="651.2" cy="392.9" r="2.2"/>
<circle cx="639.9" cy="382.4" r="2.2"/>
<circle cx="636.0" cy="385.1" r="2.2"/>
<circle cx="648.2" cy="371.2" r="2.2"/>
<circle cx="649.7" cy="378.3" r="2.2"/>
<circle cx="665.1" cy="382.4" r="2.2"/>
<circle cx="643.7" cy="396.3" r="2.2"/>
<circle cx="638.9" cy="384.5" r="2.2"/>
<circle cx="651.9" cy="400.5" r="2.2"/>
<circle cx="660.8" cy="374.4" r="2.2"/>
<circle cx="668.2" cy="381.3" r="2.2"/>
<circle cx="674.6" cy="384.7" r="2.2"/>
<circle cx="639.8" cy="392.3" r="2.2"/>
<circle cx="660.6" cy="384.9" r="2.2"/>
<circle cx="670.5" cy="376.4" r="2.2"/>
<circle cx="672.0" cy="367.4" r="2.2"/>
<circle cx="636.0" cy="383.9" r="2.2"/>
<circle cx="658.8" cy="385.2" r="2.2"/>
<circle cx="645.9" cy="370.5" r="2.2"/>
<circle cx="674.4" cy="384.0" r="2.2"/>
<circle cx="642.9" cy="388.4" r="2.2"/>
<circle cx="676.3" cy="367.6" r="2.2"/>
<circle cx="676.6" cy="366.1" r="2.2"/>
<circle cx="654.1" cy="388.4" r="2.2"/>
<circle cx="658.6" cy="384.8" r="2.2"/>
<circle cx="642.5" cy="403.1" r="2.2"/>
<circle cx="632.8" cy="394.2" r="2.2"/>
<circle cx="634.1" cy="396.6" r="2.2"/>
<circle cx="661.1" cy="373.6" r="2.2"/>
<circle cx="640.2" cy="402.3" r="2.2"/>
<circle cx="652.4" cy="380.0" r="2.2"/>
<circle cx="676.8" cy="375.0" r="2.2"/>
<circle cx="652.9" cy="373.5" r="2.2"/>
<circle cx="634.3" cy="394.1" r="2.2"/>
<circle cx="645.8" cy="385.5" r="2.2"/>
<circle cx="663.3" cy="368.6" r="2.2"/>
<circle cx="631.6" cy="394.0" r="2.2"/>
<circle cx="671.0" cy="381.4" r="2.2"/>
<circle cx="650.8" cy="383.8" r="2.2"/>
<circle cx="647.8" cy="399.3" r="2.2"/>
<circle cx="677.2" cy="374.6" r="2.2"/>
<circle cx="644.9" cy="398.9" r="2.2"/>
<circle cx="673.2" cy="376.0" r="2.2"/>
<circle cx="650.7" cy="403.9" r="2.2"/>
<circle cx="664.6" cy="375.2" r="2.2"/>
<circle cx="658.0" cy="372.0" r="2.2"/>
<circle cx="648.8" cy="399.3" r="2.2"/>
<circle cx="650.6" cy="376.8" r="2.2"/>
<circle cx="648.9" cy="393.6" r="2.2"/>
<circle cx="632.9" cy="398.1" r="2.2"/>
<circle cx="647.1" cy="401.2" r="2.2"/>
<circle cx="643.5" cy="378.6" r="2.2"/>
<circle cx="669.9" cy="386.4" r="2.2"/>
<circle cx="660.5" cy="395.5" r="2.2"/>
<circle cx="638.4" cy="381.1" r="2.2"/>
<circle cx="676.3" cy="378.9" r="2.2"/>
<circle cx="671.1" cy="371.4" r="2.2"/>
<circle cx="643.0" cy="390.1" r="2.2"/>
<circle cx="667.2" cy="366.4" r="2.2"/>
<circle cx="653.7" cy="380.6" r="2.2"/>
<circle cx="646.1" cy="391.1" r="2.2"/>
<circle cx="655.9" cy="380.4" r="2.2"/>
<circle cx="643.3" cy="392.3" r="2.2"/>
<circle cx="673.4" cy="375.1" r="2.2"/>
<circle cx="646.6" cy="371.5" r="2.2"/>
<circle cx="647.0" cy="381.3" r="2.2"/>
<circle cx="633.6" cy="392.2" r="2.2"/>
<circle cx="646.0" cy="399.0" r="2.2"/>
<circle cx="641.0" cy="395.9" r="2.2"/>
<circle cx="677.6" cy="372.0" r="2.2"/>
<circle cx="647.3" cy="406.0" r="2.2"/>
<circle cx="648.9" cy="378.7" r="2.2"/>
<circle cx="636.5" cy="400.0" r="2.2"/>
<circle cx="645.1" cy="402.1" r="2.2"/>
<circle cx="656.6" cy="372.4" r="2.2"/>
<circle cx="666.1" cy="390.3" r="2.2"/>
<circle cx="666.8" cy="382.5" r="2.2"/>
<circle cx="654.8" cy="371.6" r="2.2"/>
<circle cx="659.3" cy="390.3" r="2.2"/>
<circle cx="657.7" cy="397.8" r="2.2"/>
<circle cx="652.6" cy="402.6" r="2.2"/>
<circle cx="658.5" cy="371.6" r="2.2"/>
<circle cx="669.7" cy="372.0" r="2.2"/>
<circle cx="663.8" cy="384.2" r="2.2"/>
<circle cx="647.5" cy="396.6" r="2.2"/>
<circle cx="645.6" cy="370.3" r="2.2"/>
<circle cx="656.3" cy="402.0" r="2.2"/>
<circle cx="676.6" cy="369.3" r="2.2"/>
<circle cx="666.0" cy="378.5" r="2.2"/>
<circle cx="654.5" cy="372.3" r="2.2"/>
<circle cx="667.2" cy="378.8" r="2.2"/>
<circle cx="665.8" cy="374.7" r="2.2"/>
<circle cx="653.3" cy="392.8" r="2.2"/>
<circle cx="670.6" cy="381.5" r="2.2"/>
<circle cx="646.2" cy="391.0" r="2.2"/>
<circle cx="657.0" cy="401.0" r="2.2"/>
<circle cx="663.5" cy="381.3" r="2.2"/>
<circle cx="649.5" cy="379.1" r="2.2"/>
<circle cx="656.2" cy="396.9" r="2.2"/>
<circle cx="670.1" cy="369.6" r="2.2"/>
<circle cx="657.3" cy="402.5" r="2.2"/>
<circle cx="658.3" cy="400.8" r="2.2"/>
<circle cx="635.0" cy="396.6" r="2.2"/>
<circle cx="651.9" cy="383.8" r="2.2"/>
<circle cx="635.1" cy="400.9" r="2.2"/>
<circle cx="649.6" cy="398.4" r="2.2"/>
<circle cx="638.4" cy="385.2" r="2.2"/>
<circle cx="633.6" cy="389.7" r="2.2"/>
<circle cx="667.9" cy="377.4" r="2.2"/>
<circle cx="668.6" cy="388.7" r="2.2"/>
<circle cx="664.9" cy="368.2" r="2.2"/>
<circle cx="661.6" cy="370.6" r="2.2"/>
<circle cx="630.0" cy="396.0" r="2.2"/>
<circle cx="659.4" cy="392.8" r="2.2"/>
<circle cx="637.7" cy="382.8" r="2.2"/>
<circle cx="658.3" cy="401.5" r="2.2"/>
<circle cx="661.0" cy="385.5" r="2.2"/>
<circle cx="639.4" cy="389.3" r="2.2"/>
<circle cx="655.0" cy="392.7" r="2.2"/>
<circle cx="637.5" cy="383.1" r="2.2"/>
<circle cx="638.1" cy="381.0" r="2.2"/>
<circle cx="663.8" cy="392.2" r="2.2"/>
<circle cx="648.7" cy="393.3" r="2.2"/>
<circle cx="640.3" cy="382.8" r="2.2"/>
<circle cx="665.0" cy="389.2" r="2.2"/>
<circle cx="644.9" cy="404.7" r="2.2"/>
<circle cx="663.6" cy="383.8" r="2.2"/>
<circle cx="672.3" cy="380.2" r="2.2"/>
<circle cx="667.4" cy="374.2" r="2.2"/>
<circle cx="648.1" cy="406.9" r="2.2"/>
<circle cx="665.4" cy="381.8" r="2.2"/>
<circle cx="655.9" cy="383.3" r="2.2"/>
<circle cx="664.0" cy="386.9" r="2.2"/>
<circle cx="651.4" cy="382.6" r="2.2"/>
<circle cx="641.0" cy="381.7" r="2.2"/>
<circle cx="658.8" cy="391.5" r="2.2"/>
<circle cx="638.9" cy="388.9" r="2.2"/>
<circle cx="666.0" cy="383.5" r="2.2"/>
<circle cx="649.2" cy="383.1" r="2.2"/>
<circle cx="658.7" cy="374.1" r="2.2"/>
<circle cx="669.7" cy="367.6" r="2.2"/>
<circle cx="667.3" cy="387.0" r="2.2"/>
<circle cx="633.1" cy="392.7" r="2.2"/>
<circle cx="677.4" cy="377.0" r="2.2"/>
<circle cx="640.4" cy="389.6" r="2.2"/>
<circle cx="645.1" cy="384.3" r="2.2"/>
<circle cx="647.6" cy="380.2" r="2.2"/>
<circle cx="664.1" cy="389.0" r="2.2"/>
<circle cx="672.5" cy="383.2" r="2.2"/>
<circle cx="660.5" cy="386.4" r="2.2"/>
<circle cx="658.9" cy="385.5" r="2.2"/>
<circle cx="654.2" cy="386.0" r="2.2"/>
<circle cx="651.2" cy="397.7" r="2.2"/>
<circle cx="646.5" cy="381.3" r="2.2"/>
<circle cx="645.6" cy="389.1" r="2.2"/>
<circle cx="652.7" cy="390.4" r="2.2"/>
<circle cx="675.4" cy="379.3" r="2.2"/>
<circle cx="669.3" cy="373.1" r="2.2"/>
<circle cx="660.4" cy="379.4" r="2.2"/>
<circle cx="646.6" cy="370.2" r="2.2"/>
<circle cx="671.7" cy="383.3" r="2.2"/>
<circle cx="659.5" cy="398.8" r="2.2"/>
<circle cx="659.7" cy="392.3" r="2.2"/>
<circle cx="646.7" cy="399.1" r="2.2"/>
<circle cx="665.6" cy="368.7" r="2.2"/>
<circle cx="647.5" cy="369.5" r="2.2"/>
<circle cx="664.5" cy="372.2" r="2.2"/>
<circle cx="677.1" cy="372.7" r="2.2"/>
<circle cx="670.1" cy="376.3" r="2.2"/>
<circle cx="672.4" cy="386.3" r="2.2"/>
<circle cx="670.7" cy="383.7" r="2.2"/>
<circle cx="642.8" cy="402.4" r="2.2"/>
<circle cx="635.8" cy="388.5" r="2.2"/>
<circle cx="666.6" cy="375.2" r="2.2"/>
<circle cx="657.8" cy="400.9" r="2.2"/>
<circle cx="629.1" cy="397.2" r="2.2"/>
<circle cx="653.4" cy="381.2" r="2.2"/>
<circle cx="648.5" cy="391.8" r="2.2"/>
<circle cx="652.4" cy="373.8" r="2.2"/>
<circle cx="655.0" cy="382.3" r="2.2"/>
<circle cx="632.4" cy="397.1" r="2.2"/>
<circle cx="650.3" cy="400.5" r="2.2"/>
<circle cx="676.2" cy="377.3" r="2.2"/>
<circle cx="657.0" cy="389.0" r="2.2"/>
<circle cx="659.6" cy="396.4" r="2.2"/>
<circle cx="658.9" cy="387.8" r="2.2"/>
<circle cx="634.8" cy="390.1" r="2.2"/>
<circle cx="659.0" cy="374.3" r="2.2"/>
<circle cx="647.7" cy="401.5" r="2.2"/>
<circle cx="636.6" cy="387.6" r="2.2"/>
<circle cx="654.4" cy="384.8" r="2.2"/>
<circle cx="643.1" cy="405.2" r="2.2"/>
<circle cx="656.8" cy="386.1" r="2.2"/>
<circle cx="652.2" cy="376.0" r="2.2"/>
<circle cx="662.9" cy="394.9" r="2.2"/>
<circle cx="644.4" cy="392.3" r="2.2"/>
<circle cx="657.1" cy="401.3" r="2.2"/>
<circle cx="665.1" cy="371.8" r="2.2"/>
<circle cx="665.4" cy="383.5" r="2.2"/>
<circle cx="649.8" cy="394.1" r="2.2"/>
<circle cx="677.4" cy="368.8" r="2.2"/>
<circle cx="650.4" cy="370.7" r="2.2"/>
<circle cx="634.1" cy="389.0" r="2.2"/>
<circle cx="657.7" cy="388.3" r="2.2"/>
<circle cx="635.6" cy="387.7" r="2.2"/>
<circle cx="645.9" cy="404.9" r="2.2"/>
<circle cx="667.8" cy="369.2" r="2.2"/>
<circle cx="674.8" cy="367.4" r="2.2"/>
<circle cx="650.0" cy="379.2" r="2.2"/>
<circle cx="642.5" cy="397.7" r="2.2"/>
<circle cx="651.1" cy="397.5" r="2.2"/>
<circle cx="635.1" cy="388.5" r="2.2"/>
<circle cx="631.5" cy="394.0" r="2.2"/>
<circle cx="670.1" cy="378.2" r="2.2"/>
<circle cx="647.8" cy="367.9" r="2.2"/>
<circle cx="672.5" cy="379.2" r="2.2"/>
<circle cx="642.8" cy="381.0" r="2.2"/>
<circle cx="648.7" cy="385.4" r="2.2"/>
<circle cx="675.4" cy="366.2" r="2.2"/>
<circle cx="639.8" cy="393.4" r="2.2"/>
<circle cx="644.4" cy="385.9" r="2.2"/>
<circle cx="658.5" cy="400.9" r="2.2"/>
<circle cx="637.6" cy="394.8" r="2.2"/>
<circle cx="674.4" cy="369.5" r="2.2"/>
<circle cx="642.5" cy="394.7" r="2.2"/>
<circle cx="656.2" cy="380.2" r="2.2"/>
<circle cx="646.7" cy="385.6" r="2.2"/>
<circle cx="650.8" cy="380.8" r="2.2"/>
<circle cx="659.4" cy="372.6" r="2.2"/>
<circle cx="653.1" cy="379.5" r="2.2"/>
<circle cx="658.8" cy="401.5" r="2.2"/>
<circle cx="676.6" cy="367.7" r="2.2"/>
<circle cx="673.1" cy="369.7" r="2.2"/>
<circle cx="651.9" cy="401.9" r="2.2"/>
<circle cx="639.7" cy="400.2" r="2.2"/>
<circle cx="669.8" cy="372.6" r="2.2"/>
<circle cx="658.0" cy="372.0" r="2.2"/>
<circle cx="637.3" cy="388.1" r="2.2"/>
<circle cx="667.7" cy="381.3" r="2.2"/>
<circle cx="641.1" cy="394.8" r="2.2"/>
<circle cx="662.3" cy="387.0" r="2.2"/>
<circle cx="659.4" cy="368.0" r="2.2"/>
<circle cx="637.4" cy="386.2" r="2.2"/>
<circle cx="670.6" cy="385.9" r="2.2"/>
<circle cx="651.2" cy="394.3" r="2.2"/>
<circle cx="668.6" cy="373.2" r="2.2"/>
<circle cx="640.6" cy="401.6" r="2.2"/>
<circle cx="654.5" cy="374.4" r="2.2"/>
<circle cx="661.2" cy="395.4" r="2.2"/>
<circle cx="672.9" cy="370.1" r="2.2"/>
<circle cx="643.9" cy="386.5" r="2.2"/>
<circle cx="649.6" cy="404.2" r="2.2"/>
<circle cx="661.5" cy="377.8" r="2.2"/>
<circle cx="657.7" cy="373.0" r="2.2"/>
<circle cx="671.8" cy="382.6" r="2.2"/>
<circle cx="656.9" cy="398.6" r="2.2"/>
<circle cx="654.4" cy="367.7" r="2.2"/>
<circle cx="636.1" cy="393.8" r="2.2"/>
<circle cx="667.8" cy="383.6" r="2.2"/>
<circle cx="669.6" cy="369.0" r="2.2"/>
<circle cx="661.9" cy="379.3" r="2.2"/>
<circle cx="657.7" cy="401.7" r="2.2"/>
<circle cx="668.6" cy="381.1" r="2.2"/>
<circle cx="659.1" cy="383.0" r="2.2"/>
<circle cx="672.1" cy="386.2" r="2.2"/>
<circle cx="662.6" cy="382.7" r="2.2"/>
<circle cx="672.8" cy="380.1" r="2.2"/>
<circle cx="644.8" cy="388.7" r="2.2"/>
<circle cx="653.9" cy="388.8" r="2.2"/>
<circle cx="647.8" cy="368.4" r="2.2"/>
<circle cx="654.2" cy="388.7" r="2.2"/>
<circle cx="642.7" cy="387.2" r="2.2"/>
<circle cx="634.7" cy="399.7" r="2.2"/>
<circle cx="634.0" cy="396.8" r="2.2"/>
<circle cx="677.0" cy="372.5" r="2.2"/>
<circle cx="658.5" cy="399.0" r="2.2"/>
<circle cx="662.1" cy="386.3" r="2.2"/>
<circle cx="655.6" cy="397.2" r="2.2"/>
<circle cx="672.1" cy="376.4" r="2.2"/>
<circle cx="645.5" cy="381.8" r="2.2"/>
<circle cx="642.0" cy="395.0" r="2.2"/>
<circle cx="636.7" cy="392.5" r="2.2"/>
<circle cx="665.9" cy="376.5" r="2.2"/>
<circle cx="640.6" cy="385.6" r="2.2"/>
<circle cx="659.3" cy="370.0" r="2.2"/>
<circle cx="659.4" cy="394.4" r="2.2"/>
<circle cx="639.7" cy="379.7" r="2.2"/>
<circle cx="648.0" cy="376.8" r="2.2"/>
<circle cx="650.6" cy="370.2" r="2.2"/>
<circle cx="645.4" cy="401.7" r="2.2"/>
<circle cx="662.3" cy="384.0" r="2.2"/>
<circle cx="664.5" cy="385.0" r="2.2"/>
<circle cx="653.7" cy="394.2" r="2.2"/>
<circle cx="653.9" cy="379.3" r="2.2"/>
<circle cx="652.0" cy="379.0" r="2.2"/>
<circle cx="664.4" cy="366.1" r="2.2"/>
<circle cx="662.7" cy="373.2" r="2.2"/>
<circle cx="656.8" cy="399.6" r="2.2"/>
<circle cx="670.4" cy="382.7" r="2.2"/>
<circle cx="655.2" cy="379.4" r="2.2"/>
<circle cx="652.1" cy="398.1" r="2.2"/>
<circle cx="674.9" cy="372.1" r="2.2"/>
<circle cx="656.7" cy="386.1" r="2.2"/>
<circle cx="664.4" cy="382.0" r="2.2"/>
<circle cx="667.4" cy="382.9" r="2.2"/>
<circle cx="649.7" cy="379.2" r="2.2"/>
<circle cx="638.2" cy="401.6" r="2.2"/>
<circle cx="660.6" cy="397.1" r="2.2"/>
<circle cx="657.4" cy="386.0" r="2.2"/>
<circle cx="671.3" cy="370.1" r="2.2"/>
<circle cx="677.5" cy="371.2" r="2.2"/>
<circle cx="664.7" cy="390.9" r="2.2"/>
<circle cx="654.0" cy="368.0" r="2.2"/>
<circle cx="632.1" cy="398.9" r="2.2"/>
<circle cx="637.4" cy="393.9" r="2.2"/>
<circle cx="636.1" cy="392.1" r="2.2"/>
<circle cx="662.8" cy="374.4" r="2.2"/>
<circle cx="677.1" cy="371.5" r="2.2"/>
<circle cx="652.7" cy="389.7" r="2.2"/>
<circle cx="636.1" cy="394.1" r="2.2"/>
<circle cx="642.1" cy="398.8" r="2.2"/>
<circle cx="634.5" cy="385.4" r="2.2"/>
<circle cx="663.2" cy="366.3" r="2.2"/>
<circle cx="629.8" cy="397.7" r="2.2"/>
<circle cx="663.8" cy="373.0" r="2.2"/>
<circle cx="643.2" cy="388.3" r="2.2"/>
<circle cx="666.9" cy="367.3" r="2.2"/>
<circle cx="648.0" cy="377.3" r="2.2"/>
<circle cx="667.7" cy="374.7" r="2.2"/>
<circle cx="641.7" cy="390.7" r="2.2"/>
<circle cx="648.8" cy="404.1" r="2.2"/>
<circle cx="673.0" cy="377.6" r="2.2"/>
<circle cx="664.8" cy="386.7" r="2.2"/>
<circle cx="676.0" cy="371.1" r="2.2"/>
<circle cx="654.1" cy="378.5" r="2.2"/>
<circle cx="670.9" cy="384.4" r="2.2"/>
<circle cx="647.6" cy="379.1" r="2.2"/>
<circle cx="655.0" cy="373.1" r="2.2"/>
<circle cx="670.5" cy="380.2" r="2.2"/>
<circle cx="662.4" cy="393.2" r="2.2"/>
<circle cx="661.0" cy="369.0" r="2.2"/>
<circle cx="633.8" cy="396.0" r="2.2"/>
<circle cx="652.3" cy="392.4" r="2.2"/>
<circle cx="673.6" cy="378.7" r="2.2"/>
<circle cx="647.9" cy="395.6" r="2.2"/>
<circle cx="637.9" cy="386.6" r="2.2"/>
<circle cx="633.3" cy="397.0" r="2.2"/>
<circle cx="652.7" cy="397.8" r="2.2"/>
<circle cx="660.5" cy="382.3" r="2.2"/>
<circle cx="634.0" cy="393.4" r="2.2"/>
<circle cx="672.2" cy="380.1" r="2.2"/>
<circle cx="651.1" cy="388.2" r="2.2"/>
<circle cx="638.7" cy="402.9" r="2.2"/>
<circle cx="674.0" cy="380.2" r="2.2"/>
<circle cx="661.5" cy="383.7" r="2.2"/>
<circle cx="646.2" cy="384.0" r="2.2"/>
<circle cx="657.4" cy="369.0" r="2.2"/>
<circle cx="645.2" cy="400.9" r="2.2"/>
<circle cx="648.9" cy="404.3" r="2.2"/>
<circle cx="630.8" cy="391.6" r="2.2"/>
<circle cx="653.1" cy="401.2" r="2.2"/>
<circle cx="639.4" cy="394.9" r="2.2"/>
<circle cx="645.6" cy="406.7" r="2.2"/>
<circle cx="654.6" cy="381.5" r="2.2"/>
<circle cx="661.4" cy="392.8" r="2.2"/>
<circle cx="657.4" cy="396.0" r="2.2"/>
<circle cx="630.3" cy="392.9" r="2.2"/>
<circle cx="657.1" cy="369.9" r="2.2"/>
<circle cx="653.9" cy="383.4" r="2.2"/>
<circle cx="652.9" cy="398.7" r="2.2"/>
<circle cx="658.2" cy="368.2" r="2.2"/>
<circle cx="646.2" cy="375.8" r="2.2"/>
<circle cx="650.5" cy="379.5" r="2.2"/>
<circle cx="657.2" cy="393.6" r="2.2"/>
<circle cx="650.2" cy="390.4" r="2.2"/>
<circle cx="645.7" cy="390.4" r="2.2"/>
<circle cx="653.1" cy="377.8" r="2.2"/>
<circle cx="642.0" cy="378.4" r="2.2"/>
<circle cx="651.1" cy="371.3" r="2.2"/>
<circle cx="631.9" cy="399.4" r="2.2"/>
<circle cx="654.5" cy="400.8" r="2.2"/>
<circle cx="665.8" cy="381.8" r="2.2"/>
<circle cx="653.8" cy="392.6" r="2.2"/>
<circle cx="644.2" cy="379.9" r="2.2"/>
<circle cx="641.3" cy="379.2" r="2.2"/>
<circle cx="646.4" cy="385.6" r="2.2"/>
<circle cx="631.0" cy="398.0" r="2.2"/>
<circle cx="667.7" cy="390.2" r="2.2"/>
<circle cx="666.9" cy="389.1" r="2.2"/>
<circle cx="653.6" cy="402.8" r="2.2"/>
<circle cx="646.5" cy="397.4" r="2.2"/>
<circle cx="646.8" cy="383.4" r="2.2"/>
<circle cx="648.4" cy="398.7" r="2.2"/>
<circle cx="674.7" cy="375.8" r="2.2"/>
<circle cx="652.9" cy="378.7" r="2.2"/>
<circle cx="677.0" cy="374.6" r="2.2"/>
<circle cx="659.9" cy="374.4" r="2.2"/>
<circle cx="661.1" cy="391.6" r="2.2"/>
<circle cx="674.6" cy="379.8" r="2.2"/>
<circle cx="637.4" cy="396.1" r="2.2"/>
<circle cx="640.5" cy="382.7" r="2.2"/>
<circle cx="646.5" cy="380.2" r="2.2"/>
<circle cx="653.2" cy="378.7" r="2.2"/>
<circle cx="650.8" cy="384.0" r="2.2"/>
<circle cx="675.4" cy="369.9" r="2.2"/>
<circle cx="657.7" cy="378.9" r="2.2"/>
<circle cx="675.2" cy="376.5" r="2.2"/>
<circle cx="651.8" cy="383.3" r="2.2"/>
<circle cx="665.7" cy="374.7" r="2.2"/>
<circle cx="631.0" cy="397.8" r="2.2"/>
<circle cx="640.1" cy="393.0" r="2.2"/>
<circle cx="663.6" cy="388.7" r="2.2"/>
<circle cx="661.1" cy="377.0" r="2.2"/>
<circle cx="671.9" cy="375.4" r="2.2"/>
<circle cx="675.2" cy="378.6" r="2.2"/>
<circle cx="660.8" cy="385.5" r="2.2"/>
<circle cx="643.3" cy="373.3" r="2.2"/>
<circle cx="652.0" cy="397.3" r="2.2"/>
<circle cx="673.5" cy="376.8" r="2.2"/>
<circle cx="655.9" cy="370.1" r="2.2"/>
<circle cx="638.8" cy="403.2" r="2.2"/>
<circle cx="665.2" cy="389.5" r="2.2"/>
<circle cx="658.1" cy="387.7" r="2.2"/>
<circle cx="668.8" cy="381.7" r="2.2"/>
<circle cx="646.7" cy="379.8" r="2.2"/>
<circle cx="649.3" cy="375.9" r="2.2"/>
<circle cx="671.9" cy="371.0" r="2.2"/>
<circle cx="652.6" cy="393.5" r="2.2"/>
<circle cx="646.2" cy="374.0" r="2.2"/>
<circle cx="664.4" cy="387.8" r="2.2"/>
<circle cx="670.8" cy="365.7" r="2.2"/>
<circle cx="644.1" cy="402.1" r="2.2"/>
<circle cx="674.6" cy="369.3" r="2.2"/>
<circle cx="633.6" cy="395.1" r="2.2"/>
<circle cx="648.3" cy="384.8" r="2.2"/>
<circle cx="675.3" cy="369.2" r="2.2"/>
<circle cx="672.9" cy="376.8" r="2.2"/>
<circle cx="662.1" cy="393.2" r="2.2"/>
<circle cx="638.5" cy="396.3" r="2.2"/>
<circle cx="651.5" cy="373.5" r="2.2"/>
<circle cx="647.0" cy="385.1" r="2.2"/>
<circle cx="645.0" cy="401.8" r="2.2"/>
<circle cx="641.9" cy="377.6" r="2.2"/>
<circle cx="662.5" cy="376.6" r="2.2"/>
<circle cx="654.5" cy="372.3" r="2.2"/>
<circle cx="673.1" cy="375.0" r="2.2"/>
<circle cx="654.1" cy="400.5" r="2.2"/>
<circle cx="657.3" cy="388.7" r="2.2"/>
<circle cx="665.0" cy="385.9" r="2.2"/>
<circle cx="657.9" cy="390.4" r="2.2"/>
<circle cx="647.0" cy="371.1" r="2.2"/>
<circle cx="650.4" cy="381.9" r="2.2"/>
<circle cx="658.4" cy="400.5" r="2.2"/>
<circle cx="672.0" cy="371.3" r="2.2"/>
<circle cx="631.8" cy="394.8" r="2.2"/>
<circle cx="643.2" cy="381.4" r="2.2"/>
<circle cx="673.5" cy="383.3" r="2.2"/>
<circle cx="647.5" cy="389.3" r="2.2"/>
<circle cx="668.6" cy="377.1" r="2.2"/>
<circle cx="651.4" cy="400.3" r="2.2"/>
<circle cx="661.8" cy="369.7" r="2.2"/>
<circle cx="659.4" cy="385.3" r="2.2"/>
<circle cx="650.4" cy="388.5" r="2.2"/>
<circle cx="634.1" cy="394.5" r="2.2"/>
<circle cx="653.7" cy="370.9" r="2.2"/>
<circle cx="652.2" cy="367.2" r="2.2"/>
<circle cx="656.2" cy="396.7" r="2.2"/>
<circle cx="634.7" cy="390.2" r="2.2"/>
<circle cx="672.5" cy="374.3" r="2.2"/>
<circle cx="658.3" cy="389.7" r="2.2"/>
<circle cx="652.1" cy="388.2" r="2.2"/>
<circle cx="659.1" cy="378.3" r="2.2"/>
<circle cx="673.9" cy="373.9" r="2.2"/>
<circle cx="646.2" cy="401.8" r="2.2"/>
<circle cx="670.9" cy="367.7" r="2.2"/>
<circle cx="650.3" cy="379.7" r="2.2"/>
<circle cx="656.0" cy="386.5" r="2.2"/>
<circle cx="673.4" cy="380.1" r="2.2"/>
<circle cx="665.4" cy="384.3" r="2.2"/>
<circle cx="644.6" cy="382.8" r="2.2"/>
<circle cx="658.7" cy="390.1" r="2.2"/>
<circle cx="643.8" cy="395.4" r="2.2"/>
<circle cx="652.4" cy="401.5" r="2.2"/>
<circle cx="672.5" cy="384.8" r="2.2"/>
<circle cx="644.4" cy="388.4" r="2.2"/>
<circle cx="647.5" cy="390.6" r="2.2"/>
<circle cx="646.9" cy="373.8" r="2.2"/>
<circle cx="664.5" cy="371.8" r="2.2"/>
<circle cx="637.3" cy="387.3" r="2.2"/>
<circle cx="657.1" cy="395.4" r="2.2"/>
<circle cx="675.8" cy="378.1" r="2.2"/>
<circle cx="650.8" cy="404.1" r="2.2"/>
<circle cx="666.0" cy="370.0" r="2.2"/>
<circle cx="641.5" cy="390.3" r="2.2"/>
<circle cx="654.8" cy="403.0" r="2.2"/>
<circle cx="657.7" cy="392.5" r="2.2"/>
<circle cx="656.8" cy="379.3" r="2.2"/>
<circle cx="651.0" cy="369.1" r="2.2"/>
<circle cx="659.4" cy="375.3" r="2.2"/>
<circle cx="646.4" cy="400.7" r="2.2"/>
<circle cx="669.1" cy="383.5" r="2.2"/>
<circle cx="648.8" cy="403.7" r="2.2"/>
<circle cx="650.6" cy="390.3" r="2.2"/>
<circle cx="631.6" cy="394.8" r="2.2"/>
<circle cx="657.7" cy="387.2" r="2.2"/>
<circle cx="657.6" cy="380.6" r="2.2"/>
<circle cx="647.9" cy="369.9" r="2.2"/>
<circle cx="650.8" cy="396.3" r="2.2"/>
<circle cx="654.9" cy="386.6" r="2.2"/>
<circle cx="670.7" cy="382.0" r="2.2"/>
<circle cx="644.0" cy="405.3" r="2.2"/>
<circle cx="646.1" cy="381.5" r="2.2"/>
<circle cx="648.0" cy="381.7" r="2.2"/>
<circle cx="643.7" cy="391.3" r="2.2"/>
<circle cx="665.6" cy="376.9" r="2.2"/>
<circle cx="663.2" cy="387.4" r="2.2"/>
<circle cx="655.9" cy="372.0" r="2.2"/>
<circle cx="650.6" cy="381.1" r="2.2"/>
<circle cx="649.8" cy="394.3" r="2.2"/>
<circle cx="648.0" cy="378.0" r="2.2"/>
<circle cx="647.3" cy="393.2" r="2.2"/>
<circle cx="667.5" cy="372.3" r="2.2"/>
<circle cx="648.0" cy="387.1" r="2.2"/>
<circle cx="654.9" cy="393.7" r="2.2"/>
<circle cx="652.2" cy="384.9" r="2.2"/>
<circle cx="644.7" cy="375.9" r="2.2"/>
<circle cx="659.2" cy="385.5" r="2.2"/>
<circle cx="653.1" cy="399.6" r="2.2"/>
<circle cx="637.7" cy="395.9" r="2.2"/>
<circle cx="658.9" cy="383.6" r="2.2"/>
<circle cx="647.7" cy="379.0" r="2.2"/>
<circle cx="640.5" cy="379.4" r="2.2"/>
<circle cx="669.0" cy="383.1" r="2.2"/>
<circle cx="637.9" cy="400.5" r="2.2"/>
<circle cx="651.7" cy="395.9" r="2.2"/>
<circle cx="638.6" cy="383.4" r="2.2"/>
<circle cx="644.5" cy="376.3" r="2.2"/>
<circle cx="661.0" cy="379.3" r="2.2"/>
<circle cx="644.9" cy="380.8" r="2.2"/>
<circle cx="667.3" cy="365.9" r="2.2"/>
<circle cx="645.0" cy="373.8" r="2.2"/>
<circle cx="647.6" cy="383.7" r="2.2"/>
<circle cx="670.8" cy="379.4" r="2.2"/>
<circle cx="633.9" cy="389.8" r="2.2"/>
<circle cx="640.3" cy="403.5" r="2.2"/>
<circle cx="678.2" cy="374.6" r="2.2"/>
<circle cx="651.4" cy="392.8" r="2.2"/>
<circle cx="658.0" cy="387.9" r="2.2"/>
<circle cx="652.0" cy="371.8" r="2.2"/>
<circle cx="659.9" cy="380.0" r="2.2"/>
<circle cx="645.0" cy="395.4" r="2.2"/>
<circle cx="645.3" cy="376.6" r="2.2"/>
<circle cx="677.0" cy="368.4" r="2.2"/>
<circle cx="643.2" cy="391.3" r="2.2"/>
<circle cx="642.2" cy="403.6" r="2.2"/>
<circle cx="642.7" cy="374.6" r="2.2"/>
<circle cx="650.2" cy="383.3" r="2.2"/>
<circle cx="635.1" cy="388.5" r="2.2"/>
<circle cx="642.1" cy="394.0" r="2.2"/>
<circle cx="677.3" cy="371.9" r="2.2"/>
<circle cx="645.9" cy="400.0" r="2.2"/>
<circle cx="643.3" cy="385.5" r="2.2"/>
<circle cx="641.5" cy="380.8" r="2.2"/>
<circle cx="638.2" cy="385.7" r="2.2"/>
<circle cx="633.1" cy="391.9" r="2.2"/>
<circle cx="667.7" cy="365.7" r="2.2"/>
<circle cx="646.3" cy="380.2" r="2.2"/>
<circle cx="636.9" cy="389.9" r="2.2"/>
<circle cx="674.1" cy="370.5" r="2.2"/>
<circle cx="660.5" cy="387.3" r="2.2"/>
<circle cx="657.7" cy="389.3" r="2.2"/>
<circle cx="665.1" cy="369.8" r="2.2"/>
<circle cx="668.0" cy="366.0" r="2.2"/>
<circle cx="662.4" cy="380.7" r="2.2"/>
<circle cx="664.3" cy="382.5" r="2.2"/>
<circle cx="645.3" cy="395.4" r="2.2"/>
<circle cx="635.0" cy="386.2" r="2.2"/>
<circle cx="669.1" cy="377.8" r="2.2"/>
<circle cx="668.8" cy="387.6" r="2.2"/>
<circle cx="667.5" cy="366.1" r="2.2"/>
<circle cx="646.7" cy="400.5" r="2.2"/>
<circle cx="633.1" cy="389.9" r="2.2"/>
<circle cx="672.3" cy="379.4" r="2.2"/>
<circle cx="637.6" cy="389.4" r="2.2"/>
<circle cx="670.6" cy="387.5" r="2.2"/>
<circle cx="655.1" cy="374.3" r="2.2"/>
<circle cx="647.5" cy="383.5" r="2.2"/>
<circle cx="644.4" cy="393.9" r="2.2"/>
<circle cx="660.6" cy="372.9" r="2.2"/>
<circle cx="638.3" cy="398.8" r="2.2"/>
<circle cx="658.5" cy="370.2" r="2.2"/>
<circle cx="650.5" cy="378.8" r="2.2"/>
<circle cx="644.0" cy="383.2" r="2.2"/>
<circle cx="639.9" cy="379.2" r="2.2"/>
<circle cx="649.3" cy="372.5" r="2.2"/>
<circle cx="635.8" cy="398.3" r="2.2"/>
<circle cx="644.6" cy="399.8" r="2.2"/>
<circle cx="662.0" cy="391.4" r="2.2"/>
<circle cx="663.9" cy="374.9" r="2.2"/>
<circle cx="651.9" cy="404.8" r="2.2"/>
<circle cx="648.7" cy="401.4" r="2.2"/>
<circle cx="657.4" cy="381.1" r="2.2"/>
<circle cx="643.5" cy="381.1" r="2.2"/>
<circle cx="653.3" cy="378.5" r="2.2"/>
<circle cx="656.5" cy="383.8" r="2.2"/>
<circle cx="664.5" cy="372.0" r="2.2"/>
<circle cx="659.5" cy="377.4" r="2.2"/>
<circle cx="668.9" cy="372.7" r="2.2"/>
<circle cx="663.1" cy="384.4" r="2.2"/>
<circle cx="651.5" cy="394.9" r="2.2"/>
<circle cx="642.0" cy="389.8" r="2.2"/>
<circle cx="655.6" cy="378.4" r="2.2"/>
<circle cx="660.3" cy="375.4" r="2.2"/>
<circle cx="637.4" cy="395.3" r="2.2"/>
<circle cx="645.2" cy="393.7" r="2.2"/>
<circle cx="645.5" cy="405.2" r="2.2"/>
<circle cx="648.7" cy="403.0" r="2.2"/>
<circle cx="647.1" cy="376.3" r="2.2"/>
<circle cx="661.9" cy="396.2" r="2.2"/>
<circle cx="649.5" cy="380.3" r="2.2"/>
<circle cx="640.9" cy="400.1" r="2.2"/>
<circle cx="674.3" cy="372.5" r="2.2"/>
<circle cx="676.1" cy="379.1" r="2.2"/>
<circle cx="661.9" cy="367.4" r="2.2"/>
<circle cx="645.9" cy="394.1" r="2.2"/>
<circle cx="667.0" cy="375.4" r="2.2"/>
<circle cx="652.6" cy="369.1" r="2.2"/>
<circle cx="646.5" cy="385.5" r="2.2"/>
<circle cx="656.3" cy="388.3" r="2.2"/>
<circle cx="653.4" cy="368.8" r="2.2"/>
<circle cx="661.6" cy="375.5" r="2.2"/>
<circle cx="643.1" cy="375.4" r="2.2"/>
<circle cx="668.4" cy="369.6" r="2.2"/>
<circle cx="637.4" cy="384.8" r="2.2"/>
<circle cx="630.0" cy="396.8" r="2.2"/>
<circle cx="637.0" cy="388.9" r="2.2"/>
<circle cx="655.6" cy="383.9" r="2.2"/>
<circle cx="607.4" cy="406.0" r="2.2"/>
<circle cx="619.1" cy="404.6" r="2.2"/>
<circle cx="629.5" cy="383.6" r="2.2"/>
<circle cx="611.4" cy="429.3" r="2.2"/>
<circle cx="650.4" cy="418.5" r="2.2"/>
<circle cx="630.3" cy="424.2" r="2.2"/>
<circle cx="632.9" cy="379.7" r="2.2"/>
<circle cx="612.3" cy="371.7" r="2.2"/>
<circle cx="616.7" cy="424.1" r="2.2"/>
<circle cx="605.0" cy="400.8" r="2.2"/>
<circle cx="608.7" cy="406.7" r="2.2"/>
<circle cx="638.8" cy="422.6" r="2.2"/>
<circle cx="632.7" cy="426.1" r="2.2"/>
<circle cx="635.0" cy="412.1" r="2.2"/>
<circle cx="612.1" cy="397.1" r="2.2"/>
<circle cx="635.0" cy="415.1" r="2.2"/>
<circle cx="614.0" cy="427.7" r="2.2"/>
<circle cx="630.0" cy="372.3" r="2.2"/>
<circle cx="622.4" cy="425.6" r="2.2"/>
<circle cx="635.6" cy="424.0" r="2.2"/>
<circle cx="633.6" cy="370.4" r="2.2"/>
<circle cx="635.4" cy="416.6" r="2.2"/>
<circle cx="618.7" cy="406.5" r="2.2"/>
<circle cx="647.2" cy="407.2" r="2.2"/>
<circle cx="635.9" cy="404.8" r="2.2"/>
<circle cx="626.9" cy="405.2" r="2.2"/>
<circle cx="615.4" cy="414.8" r="2.2"/>
<circle cx="610.0" cy="397.7" r="2.2"/>
<circle cx="636.4" cy="367.0" r="2.2"/>
<circle cx="626.9" cy="417.4" r="2.2"/>
<circle cx="629.8" cy="379.6" r="2.2"/>
<circle cx="654.0" cy="418.1" r="2.2"/>
<circle cx="607.6" cy="415.0" r="2.2"/>
<circle cx="631.4" cy="421.0" r="2.2"/>
<circle cx="631.7" cy="431.8" r="2.2"/>
<circle cx="631.5" cy="402.0" r="2.2"/>
<circle cx="606.2" cy="390.1" r="2.2"/>
<circle cx="618.8" cy="370.1" r="2.2"/>
<circle cx="626.4" cy="405.1" r="2.2"/>
<circle cx="658.1" cy="419.6" r="2.2"/>
<circle cx="617.2" cy="369.9" r="2.2"/>
<circle cx="633.4" cy="416.3" r="2.2"/>
<circle cx="610.9" cy="414.7" r="2.2"/>
<circle cx="641.2" cy="369.0" r="2.2"/>
<circle cx="657.8" cy="405.4" r="2.2"/>
<circle cx="627.9" cy="386.2" r="2.2"/>
<circle cx="630.3" cy="392.5" r="2.2"/>
<circle cx="618.6" cy="399.9" r="2.2"/>
<circle cx="637.3" cy="369.7" r="2.2"/>
<circle cx="623.9" cy="416.5" r="2.2"/>
<circle cx="612.1" cy="371.9" r="2.2"/>
<circle cx="630.2" cy="419.6" r="2.2"/>
<circle cx="615.7" cy="381.0" r="2.2"/>
<circle cx="619.0" cy="409.3" r="2.2"/>
<circle cx="605.7" cy="405.2" r="2.2"/>
<circle cx="612.8" cy="435.2" r="2.2"/>
<circle cx="650.8" cy="423.4" r="2.2"/>
<circle cx="646.4" cy="409.4" r="2.2"/>
<circle cx="653.2" cy="418.8" r="2.2"/>
<circle cx="640.3" cy="376.0" r="2.2"/>
<circle cx="619.9" cy="389.2" r="2.2"/>
<circle cx="607.8" cy="375.0" r="2.2"/>
<circle cx="599.0" cy="408.3" r="2.2"/>
<circle cx="652.0" cy="414.5" r="2.2"/>
<circle cx="636.5" cy="380.6" r="2.2"/>
<circle cx="652.1" cy="406.9" r="2.2"/>
<circle cx="617.2" cy="401.0" r="2.2"/>
<circle cx="622.8" cy="380.4" r="2.2"/>
<circle cx="606.4" cy="380.3" r="2.2"/>
<circle cx="618.7" cy="403.1" r="2.2"/>
<circle cx="610.7" cy="418.1" r="2.2"/>
<circle cx="615.2" cy="379.1" r="2.2"/>
<circle cx="631.1" cy="432.5" r="2.2"/>
<circle cx="626.9" cy="413.8" r="2.2"/>
<circle cx="660.5" cy="417.2" r="2.2"/>
<circle cx="618.4" cy="398.5" r="2.2"/>
<circle cx="608.8" cy="383.6" r="2.2"/>
<circle cx="610.4" cy="371.7" r="2.2"/>
<circle cx="633.4" cy="428.5" r="2.2"/>
<circle cx="614.2" cy="374.0" r="2.2"/>
<circle cx="616.5" cy="435.7" r="2.2"/>
<circle cx="634.1" cy="369.6" r="2.2"/>
<circle cx="627.0" cy="395.8" r="2.2"/>
<circle cx="621.0" cy="399.4" r="2.2"/>
<circle cx="630.4" cy="389.5" r="2.2"/>
<circle cx="617.4" cy="408.3" r="2.2"/>
<circle cx="613.5" cy="419.8" r="2.2"/>
<circle cx="640.3" cy="408.0" r="2.2"/>
<circle cx="595.5" cy="412.6" r="2.2"/>
<circle cx="657.9" cy="406.5" r="2.2"/>
<circle cx="620.6" cy="376.9" r="2.2"/>
<circle cx="652.1" cy="405.5" r="2.2"/>
<circle cx="637.2" cy="405.6" r="2.2"/>
<circle cx="662.2" cy="415.0" r="2.2"/>
<circle cx="644.7" cy="423.0" r="2.2"/>
<circle cx="623.7" cy="401.2" r="2.2"/>
<circle cx="610.0" cy="401.6" r="2.2"/>
<circle cx="604.5" cy="392.2" r="2.2"/>
<circle cx="611.5" cy="391.4" r="2.2"/>
<circle cx="618.4" cy="391.0" r="2.2"/>
<circle cx="604.4" cy="408.6" r="2.2"/>
<circle cx="652.1" cy="421.3" r="2.2"/>
<circle cx="609.2" cy="373.6" r="2.2"/>
<circle cx="613.4" cy="385.3" r="2.2"/>
<circle cx="655.6" cy="417.7" r="2.2"/>
<circle cx="620.3" cy="419.2" r="2.2"/>
<circle cx="604.2" cy="408.5" r="2.2"/>
<circle cx="628.9" cy="376.5" r="2.2"/>
<circle cx="623.5" cy="425.6" r="2.2"/>
<circle cx="599.7" cy="414.6" r="2.2"/>
<circle cx="637.0" cy="367.8" r="2.2"/>
<circle cx="603.0" cy="413.8" r="2.2"/>
<circle cx="618.9" cy="385.8" r="2.2"/>
<circle cx="623.9" cy="409.3" r="2.2"/>
<circle cx="648.4" cy="407.7" r="2.2"/>
<circle cx="631.1" cy="403.8" r="2.2"/>
<circle cx="637.9" cy="376.3" r="2.2"/>
<circle cx="600.0" cy="410.7" r="2.2"/>
<circle cx="634.9" cy="435.3" r="2.2"/>
<circle cx="632.1" cy="402.1" r="2.2"/>
<circle cx="620.9" cy="391.0" r="2.2"/>
<circle cx="632.3" cy="386.4" r="2.2"/>
<circle cx="622.0" cy="394.3" r="2.2"/>
<circle cx="592.2" cy="402.1" r="2.2"/>
<circle cx="632.0" cy="376.7" r="2.2"/>
<circle cx="642.3" cy="409.2" r="2.2"/>
<circle cx="592.5" cy="406.3" r="2.2"/>
<circle cx="621.9" cy="432.4" r="2.2"/>
<circle cx="628.9" cy="384.3" r="2.2"/>
<circle cx="626.5" cy="378.9" r="2.2"/>
<circle cx="593.9" cy="408.2" r="2.2"/>
<circle cx="660.7" cy="418.5" r="2.2"/>
<circle cx="614.8" cy="392.0" r="2.2"/>
<circle cx="652.0" cy="407.0" r="2.2"/>
<circle cx="635.8" cy="410.7" r="2.2"/>
<circle cx="636.9" cy="371.5" r="2.2"/>
<circle cx="615.9" cy="436.5" r="2.2"/>
<circle cx="616.4" cy="371.8" r="2.2"/>
<circle cx="640.8" cy="418.1" r="2.2"/>
<circle cx="626.6" cy="421.9" r="2.2"/>
<circle cx="627.4" cy="400.5" r="2.2"/>
<circle cx="619.2" cy="403.1" r="2.2"/>
<circle cx="619.1" cy="411.6" r="2.2"/>
<circle cx="609.1" cy="388.6" r="2.2"/>
<circle cx="660.7" cy="407.3" r="2.2"/>
<circle cx="622.0" cy="389.8" r="2.2"/>
<circle cx="613.8" cy="376.6" r="2.2"/>
<circle cx="639.3" cy="377.0" r="2.2"/>
<circle cx="616.4" cy="384.6" r="2.2"/>
<circle cx="657.0" cy="411.6" r="2.2"/>
<circle cx="644.6" cy="422.3" r="2.2"/>
<circle cx="640.2" cy="368.4" r="2.2"/>
<circle cx="649.2" cy="409.6" r="2.2"/>
<circle cx="619.3" cy="399.2" r="2.2"/>
<circle cx="619.9" cy="421.4" r="2.2"/>
<circle cx="630.1" cy="379.8" r="2.2"/>
<circle cx="623.6" cy="402.0" r="2.2"/>
<circle cx="634.6" cy="408.4" r="2.2"/>
<circle cx="650.6" cy="417.9" r="2.2"/>
<circle cx="627.5" cy="392.0" r="2.2"/>
<circle cx="605.5" cy="417.9" r="2.2"/>
<circle cx="622.4" cy="395.4" r="2.2"/>
<circle cx="609.7" cy="411.1" r="2.2"/>
<circle cx="593.1" cy="408.0" r="2.2"/>
<circle cx="641.5" cy="428.3" r="2.2"/>
<circle cx="632.6" cy="377.2" r="2.2"/>
<circle cx="611.6" cy="391.2" r="2.2"/>
<circle cx="644.8" cy="416.6" r="2.2"/>
<circle cx="656.4" cy="419.0" r="2.2"/>
<circle cx="601.7" cy="416.6" r="2.2"/>
<circle cx="607.3" cy="397.9" r="2.2"/>
<circle cx="620.0" cy="384.7" r="2.2"/>
<circle cx="611.1" cy="425.4" r="2.2"/>
<circle cx="647.1" cy="422.1" r="2.2"/>
<circle cx="643.3" cy="413.9" r="2.2"/>
<circle cx="613.5" cy="385.3" r="2.2"/>
<circle cx="594.5" cy="414.6" r="2.2"/>
<circle cx="632.7" cy="375.3" r="2.2"/>
<circle cx="645.4" cy="422.1" r="2.2"/>
<circle cx="614.6" cy="412.6" r="2.2"/>
<circle cx="656.6" cy="409.0" r="2.2"/>
<circle cx="620.6" cy="421.8" r="2.2"/>
<circle cx="594.8" cy="403.6" r="2.2"/>
<circle cx="609.0" cy="383.7" r="2.2"/>
<circle cx="627.8" cy="399.5" r="2.2"/>
<circle cx="625.3" cy="433.6" r="2.2"/>
<circle cx="633.5" cy="370.2" r="2.2"/>
<circle cx="629.7" cy="424.5" r="2.2"/>
<circle cx="603.8" cy="411.7" r="2.2"/>
<circle cx="606.6" cy="379.1" r="2.2"/>
<circle cx="629.5" cy="421.7" r="2.2"/>
<circle cx="643.4" cy="416.4" r="2.2"/>
<circle cx="656.4" cy="408.7" r="2.2"/>
<circle cx="652.2" cy="414.6" r="2.2"/>
<circle cx="608.1" cy="393.8" r="2.2"/>
<circle cx="604.0" cy="420.7" r="2.2"/>
<circle cx="618.5" cy="371.9" r="2.2"/>
<circle cx="620.4" cy="380.3" r="2.2"/>
<circle cx="631.4" cy="436.9" r="2.2"/>
<circle cx="639.6" cy="420.8" r="2.2"/>
<circle cx="631.0" cy="401.1" r="2.2"/>
<circle cx="635.7" cy="404.9" r="2.2"/>
<circle cx="617.8" cy="422.8" r="2.2"/>
<circle cx="633.1" cy="382.8" r="2.2"/>
<circle cx="609.6" cy="399.0" r="2.2"/>
<circle cx="642.6" cy="369.6" r="2.2"/>
<circle cx="630.0" cy="379.2" r="2.2"/>
<circle cx="626.7" cy="429.2" r="2.2"/>
<circle cx="634.0" cy="415.5" r="2.2"/>
<circle cx="621.7" cy="425.0" r="2.2"/>
<circle cx="644.3" cy="409.5" r="2.2"/>
<circle cx="634.8" cy="408.2" r="2.2"/>
<circle cx="654.4" cy="416.5" r="2.2"/>
<circle cx="632.2" cy="370.3" r="2.2"/>
<circle cx="634.1" cy="406.1" r="2.2"/>
<circle cx="622.1" cy="371.6" r="2.2"/>
<circle cx="637.2" cy="408.5" r="2.2"/>
<circle cx="619.2" cy="372.3" r="2.2"/>
<circle cx="632.6" cy="383.1" r="2.2"/>
<circle cx="651.9" cy="407.0" r="2.2"/>
<circle cx="616.0" cy="387.1" r="2.2"/>
<circle cx="611.2" cy="393.8" r="2.2"/>
<circle cx="637.9" cy="368.9" r="2.2"/>
<circle cx="629.4" cy="434.6" r="2.2"/>
<circle cx="623.2" cy="428.1" r="2.2"/>
<circle cx="627.9" cy="427.8" r="2.2"/>
<circle cx="614.2" cy="388.5" r="2.2"/>
<circle cx="627.7" cy="410.0" r="2.2"/>
<circle cx="639.0" cy="368.8" r="2.2"/>
<circle cx="640.8" cy="407.3" r="2.2"/>
<circle cx="611.4" cy="386.1" r="2.2"/>
<circle cx="609.8" cy="415.0" r="2.2"/>
<circle cx="610.6" cy="423.3" r="2.2"/>
<circle cx="613.4" cy="380.5" r="2.2"/>
<circle cx="636.6" cy="425.2" r="2.2"/>
<circle cx="643.5" cy="416.8" r="2.2"/>
<circle cx="626.2" cy="428.2" r="2.2"/>
<circle cx="618.6" cy="415.4" r="2.2"/>
<circle cx="604.6" cy="415.4" r="2.2"/>
<circle cx="607.0" cy="390.2" r="2.2"/>
<circle cx="606.4" cy="393.3" r="2.2"/>
<circle cx="620.7" cy="409.3" r="2.2"/>
<circle cx="611.9" cy="410.1" r="2.2"/>
<circle cx="642.2" cy="416.6" r="2.2"/>
<circle cx="637.3" cy="373.2" r="2.2"/>
<circle cx="609.4" cy="375.3" r="2.2"/>
<circle cx="633.3" cy="415.2" r="2.2"/>
<circle cx="608.7" cy="393.7" r="2.2"/>
<circle cx="638.6" cy="425.7" r="2.2"/>
<circle cx="639.4" cy="416.6" r="2.2"/>
<circle cx="612.9" cy="378.6" r="2.2"/>
<circle cx="634.4" cy="411.9" r="2.2"/>
<circle cx="633.3" cy="379.8" r="2.2"/>
<circle cx="610.1" cy="387.9" r="2.2"/>
<circle cx="608.9" cy="428.4" r="2.2"/>
<circle cx="612.5" cy="392.1" r="2.2"/>
<circle cx="656.6" cy="406.3" r="2.2"/>
<circle cx="603.9" cy="419.6" r="2.2"/>
<circle cx="627.8" cy="406.4" r="2.2"/>
<circle cx="620.5" cy="402.5" r="2.2"/>
<circle cx="649.7" cy="419.9" r="2.2"/>
<circle cx="632.9" cy="377.1" r="2.2"/>
<circle cx="616.0" cy="406.7" r="2.2"/>
<circle cx="610.8" cy="388.4" r="2.2"/>
<circle cx="635.1" cy="433.5" r="2.2"/>
<circle cx="634.8" cy="374.8" r="2.2"/>
<circle cx="631.7" cy="380.2" r="2.2"/>
<circle cx="607.3" cy="400.1" r="2.2"/>
<circle cx="658.4" cy="410.9" r="2.2"/>
<circle cx="645.0" cy="413.8" r="2.2"/>
<circle cx="615.1" cy="408.1" r="2.2"/>
<circle cx="616.5" cy="421.3" r="2.2"/>
<circle cx="660.0" cy="409.0" r="2.2"/>
<circle cx="609.8" cy="379.8" r="2.2"/>
<circle cx="609.4" cy="408.4" r="2.2"/>
<circle cx="653.8" cy="408.7" r="2.2"/>
<circle cx="632.8" cy="437.1" r="2.2"/>
<circle cx="597.3" cy="408.4" r="2.2"/>
<circle cx="608.2" cy="416.6" r="2.2"/>
<circle cx="644.0" cy="420.5" r="2.2"/>
<circle cx="618.3" cy="404.9" r="2.2"/>
<circle cx="637.5" cy="428.6" r="2.2"/>
<circle cx="618.7" cy="413.7" r="2.2"/>
<circle cx="626.4" cy="421.0" r="2.2"/>
<circle cx="646.1" cy="422.2" r="2.2"/>
<circle cx="622.7" cy="422.3" r="2.2"/>
<circle cx="622.4" cy="386.7" r="2.2"/>
<circle cx="621.0" cy="429.2" r="2.2"/>
<circle cx="608.8" cy="409.4" r="2.2"/>
<circle cx="607.4" cy="411.7" r="2.2"/>
<circle cx="628.2" cy="376.2" r="2.2"/>
<circle cx="597.1" cy="402.0" r="2.2"/>
<circle cx="650.5" cy="411.3" r="2.2"/>
<circle cx="619.2" cy="432.9" r="2.2"/>
<circle cx="607.7" cy="397.5" r="2.2"/>
<circle cx="615.2" cy="378.4" r="2.2"/>
<circle cx="620.4" cy="385.8" r="2.2"/>
<circle cx="648.9" cy="417.4" r="2.2"/>
<circle cx="638.1" cy="405.7" r="2.2"/>
<circle cx="638.4" cy="433.1" r="2.2"/>
<circle cx="620.2" cy="376.7" r="2.2"/>
<circle cx="614.6" cy="374.0" r="2.2"/>
<circle cx="638.5" cy="409.7" r="2.2"/>
<circle cx="617.5" cy="418.5" r="2.2"/>
<circle cx="609.5" cy="395.1" r="2.2"/>
<circle cx="613.8" cy="397.5" r="2.2"/>
<circle cx="617.2" cy="402.2" r="2.2"/>
<circle cx="633.3" cy="379.0" r="2.2"/>
<circle cx="594.8" cy="405.0" r="2.2"/>
<circle cx="629.0" cy="394.8" r="2.2"/>
<circle cx="637.4" cy="410.6" r="2.2"/>
<circle cx="622.1" cy="372.2" r="2.2"/>
<circle cx="625.2" cy="390.3" r="2.2"/>
<circle cx="600.6" cy="400.2" r="2.2"/>
<circle cx="613.4" cy="420.4" r="2.2"/>
<circle cx="621.7" cy="388.0" r="2.2"/>
<circle cx="608.0" cy="426.2" r="2.2"/>
<circle cx="624.0" cy="430.5" r="2.2"/>
<circle cx="617.8" cy="388.5" r="2.2"/>
<circle cx="628.7" cy="391.1" r="2.2"/>
<circle cx="633.0" cy="370.2" r="2.2"/>
<circle cx="594.0" cy="413.8" r="2.2"/>
<circle cx="608.6" cy="395.8" r="2.2"/>
<circle cx="630.5" cy="424.3" r="2.2"/>
<circle cx="607.6" cy="418.6" r="2.2"/>
<circle cx="650.6" cy="410.0" r="2.2"/>
<circle cx="613.7" cy="414.3" r="2.2"/>
<circle cx="622.7" cy="434.2" r="2.2"/>
<circle cx="600.7" cy="419.2" r="2.2"/>
<circle cx="617.2" cy="387.6" r="2.2"/>
<circle cx="631.9" cy="384.0" r="2.2"/>
<circle cx="628.1" cy="368.3" r="2.2"/>
<circle cx="635.5" cy="382.2" r="2.2"/>
<circle cx="637.8" cy="429.9" r="2.2"/>
<circle cx="620.4" cy="436.6" r="2.2"/>
<circle cx="639.3" cy="422.5" r="2.2"/>
<circle cx="612.9" cy="378.3" r="2.2"/>
<circle cx="613.6" cy="394.2" r="2.2"/>
<circle cx="624.9" cy="417.1" r="2.2"/>
<circle cx="643.0" cy="420.0" r="2.2"/>
<circle cx="624.5" cy="426.7" r="2.2"/>
<circle cx="654.3" cy="404.9" r="2.2"/>
<circle cx="624.5" cy="387.6" r="2.2"/>
<circle cx="652.7" cy="412.0" r="2.2"/>
<circle cx="610.8" cy="431.1" r="2.2"/>
<circle cx="629.7" cy="384.1" r="2.2"/>
<circle cx="628.7" cy="372.0" r="2.2"/>
<circle cx="614.9" cy="422.7" r="2.2"/>
<circle cx="628.3" cy="396.2" r="2.2"/>
<circle cx="654.9" cy="413.5" r="2.2"/>
<circle cx="610.5" cy="384.7" r="2.2"/>
</g>
</g>
<clipPath id="sc2"><rect x="527.4" y="360.4" width="156.39999999999998" height="124.10000000000002"/></clipPath>
<text x="539.00" y="373.70" font-size="8.44" fill="#1a1a1a" stroke="#1a1a1a" stroke-width="0.12"><tspan font-style="italic">r</tspan> = 0.74, <tspan font-style="italic">p</tspan> &lt; 2.2e&#8722;16</text>
<rect x="527.4" y="360.4" width="156.39999999999998" height="124.10000000000002" fill="none" stroke="#858e8f" stroke-width="0.9"/>
<line x1="534.00" y1="484.50" x2="534.00" y2="486.90" stroke="#4a4a4a" stroke-width="0.9" />
<text x="534.00" y="493.85" font-size="6.8" fill="#5a6060" text-anchor="middle" font-weight="normal" font-style="normal" stroke="#5a6060" stroke-width="0.2" >0.00</text>
<line x1="525.00" y1="455.50" x2="527.40" y2="455.50" stroke="#4a4a4a" stroke-width="0.9" />
<text x="523.30" y="457.95" font-size="6.8" fill="#5a6060" text-anchor="end" font-weight="normal" font-style="normal" stroke="#5a6060" stroke-width="0.2" >0.25</text>
<line x1="569.67" y1="484.50" x2="569.67" y2="486.90" stroke="#4a4a4a" stroke-width="0.9" />
<text x="569.67" y="493.85" font-size="6.8" fill="#5a6060" text-anchor="middle" font-weight="normal" font-style="normal" stroke="#5a6060" stroke-width="0.2" >0.25</text>
<line x1="525.00" y1="425.50" x2="527.40" y2="425.50" stroke="#4a4a4a" stroke-width="0.9" />
<text x="523.30" y="427.95" font-size="6.8" fill="#5a6060" text-anchor="end" font-weight="normal" font-style="normal" stroke="#5a6060" stroke-width="0.2" >0.50</text>
<line x1="605.35" y1="484.50" x2="605.35" y2="486.90" stroke="#4a4a4a" stroke-width="0.9" />
<text x="605.35" y="493.85" font-size="6.8" fill="#5a6060" text-anchor="middle" font-weight="normal" font-style="normal" stroke="#5a6060" stroke-width="0.2" >0.50</text>
<line x1="525.00" y1="395.50" x2="527.40" y2="395.50" stroke="#4a4a4a" stroke-width="0.9" />
<text x="523.30" y="397.95" font-size="6.8" fill="#5a6060" text-anchor="end" font-weight="normal" font-style="normal" stroke="#5a6060" stroke-width="0.2" >0.75</text>
<line x1="641.02" y1="484.50" x2="641.02" y2="486.90" stroke="#4a4a4a" stroke-width="0.9" />
<text x="641.02" y="493.85" font-size="6.8" fill="#5a6060" text-anchor="middle" font-weight="normal" font-style="normal" stroke="#5a6060" stroke-width="0.2" >0.75</text>
<line x1="525.00" y1="365.50" x2="527.40" y2="365.50" stroke="#4a4a4a" stroke-width="0.9" />
<text x="523.30" y="367.95" font-size="6.8" fill="#5a6060" text-anchor="end" font-weight="normal" font-style="normal" stroke="#5a6060" stroke-width="0.2" >1.00</text>
<line x1="676.70" y1="484.50" x2="676.70" y2="486.90" stroke="#4a4a4a" stroke-width="0.9" />
<text x="676.70" y="493.85" font-size="6.8" fill="#5a6060" text-anchor="middle" font-weight="normal" font-style="normal" stroke="#5a6060" stroke-width="0.2" >1.00</text>
<text x="605.60" y="502.50" font-size="7.6" fill="#1a1a1a" text-anchor="middle" font-weight="normal" font-style="normal" stroke="#1a1a1a" stroke-width="0.1" >Tumor of CT</text>
<text x="0" y="0" font-size="7.6" fill="#1a1a1a" stroke="#1a1a1a" stroke-width="0.1" text-anchor="middle" transform="translate(506.7,422.95) rotate(-90)">Peritumor of CT</text>
<rect x="527.4" y="541.5" width="156.39999999999998" height="125.10000000000002" fill="#fff"/>
<line x1="527.40" y1="647.55" x2="683.80" y2="647.55" stroke="#f3f6f6" stroke-width="0.8" />
<line x1="551.39" y1="541.50" x2="551.39" y2="666.60" stroke="#f3f6f6" stroke-width="0.8" />
<line x1="527.40" y1="618.85" x2="683.80" y2="618.85" stroke="#f3f6f6" stroke-width="0.8" />
<line x1="587.16" y1="541.50" x2="587.16" y2="666.60" stroke="#f3f6f6" stroke-width="0.8" />
<line x1="527.40" y1="590.15" x2="683.80" y2="590.15" stroke="#f3f6f6" stroke-width="0.8" />
<line x1="622.94" y1="541.50" x2="622.94" y2="666.60" stroke="#f3f6f6" stroke-width="0.8" />
<line x1="527.40" y1="561.45" x2="683.80" y2="561.45" stroke="#f3f6f6" stroke-width="0.8" />
<line x1="658.71" y1="541.50" x2="658.71" y2="666.60" stroke="#f3f6f6" stroke-width="0.8" />
<line x1="527.40" y1="661.90" x2="683.80" y2="661.90" stroke="#e9efef" stroke-width="1" />
<line x1="533.50" y1="541.50" x2="533.50" y2="666.60" stroke="#e9efef" stroke-width="1" />
<line x1="527.40" y1="633.20" x2="683.80" y2="633.20" stroke="#e9efef" stroke-width="1" />
<line x1="569.27" y1="541.50" x2="569.27" y2="666.60" stroke="#e9efef" stroke-width="1" />
<line x1="527.40" y1="604.50" x2="683.80" y2="604.50" stroke="#e9efef" stroke-width="1" />
<line x1="605.05" y1="541.50" x2="605.05" y2="666.60" stroke="#e9efef" stroke-width="1" />
<line x1="527.40" y1="575.80" x2="683.80" y2="575.80" stroke="#e9efef" stroke-width="1" />
<line x1="640.83" y1="541.50" x2="640.83" y2="666.60" stroke="#e9efef" stroke-width="1" />
<line x1="527.40" y1="547.10" x2="683.80" y2="547.10" stroke="#e9efef" stroke-width="1" />
<line x1="676.60" y1="541.50" x2="676.60" y2="666.60" stroke="#e9efef" stroke-width="1" />
<g clip-path="url(#sc3)">
<line x1="534.10" y1="657.40" x2="677.00" y2="554.50" stroke="#80d8f6" stroke-width="1.9" stroke-linecap="round"/>
<g fill="#87defb" fill-opacity="0.55">
<circle cx="534.4" cy="660.5" r="2.2"/>
<circle cx="535.9" cy="660.5" r="2.2"/>
<circle cx="537.4" cy="659.9" r="2.2"/>
<circle cx="537.4" cy="655.8" r="2.2"/>
<circle cx="538.9" cy="654.3" r="2.2"/>
<circle cx="540.4" cy="651.3" r="2.2"/>
<circle cx="541.8" cy="656.5" r="2.2"/>
<circle cx="543.3" cy="658.0" r="2.2"/>
<circle cx="545.6" cy="658.0" r="2.2"/>
<circle cx="547.0" cy="658.7" r="2.2"/>
<circle cx="538.1" cy="643.9" r="2.2"/>
<circle cx="546.3" cy="615.4" r="2.2"/>
<circle cx="553.4" cy="614.5" r="2.2"/>
<circle cx="549.3" cy="642.4" r="2.2"/>
<circle cx="551.5" cy="640.9" r="2.2"/>
<circle cx="553.0" cy="638.7" r="2.2"/>
<circle cx="550.7" cy="643.9" r="2.2"/>
<circle cx="552.2" cy="646.9" r="2.2"/>
<circle cx="553.0" cy="652.1" r="2.2"/>
<circle cx="552.2" cy="654.3" r="2.2"/>
<circle cx="558.2" cy="651.3" r="2.2"/>
<circle cx="561.1" cy="655.5" r="2.2"/>
<circle cx="558.9" cy="643.9" r="2.2"/>
<circle cx="560.4" cy="646.1" r="2.2"/>
<circle cx="563.4" cy="646.9" r="2.2"/>
<circle cx="564.8" cy="648.3" r="2.2"/>
<circle cx="565.6" cy="649.8" r="2.2"/>
<circle cx="562.6" cy="640.9" r="2.2"/>
<circle cx="565.6" cy="639.4" r="2.2"/>
<circle cx="568.6" cy="639.4" r="2.2"/>
<circle cx="568.6" cy="635.0" r="2.2"/>
<circle cx="571.5" cy="633.5" r="2.2"/>
<circle cx="569.3" cy="629.1" r="2.2"/>
<circle cx="571.5" cy="627.6" r="2.2"/>
<circle cx="574.5" cy="629.1" r="2.2"/>
<circle cx="574.5" cy="632.0" r="2.2"/>
<circle cx="574.5" cy="640.9" r="2.2"/>
<circle cx="576.0" cy="636.5" r="2.2"/>
<circle cx="578.9" cy="636.5" r="2.2"/>
<circle cx="580.4" cy="639.4" r="2.2"/>
<circle cx="581.9" cy="633.5" r="2.2"/>
<circle cx="583.4" cy="630.5" r="2.2"/>
<circle cx="577.5" cy="626.1" r="2.2"/>
<circle cx="578.9" cy="623.1" r="2.2"/>
<circle cx="577.5" cy="617.2" r="2.2"/>
<circle cx="581.2" cy="620.1" r="2.2"/>
<circle cx="583.4" cy="623.1" r="2.2"/>
<circle cx="584.9" cy="624.6" r="2.2"/>
<circle cx="586.4" cy="620.1" r="2.2"/>
<circle cx="587.9" cy="615.7" r="2.2"/>
<circle cx="589.3" cy="623.1" r="2.2"/>
<circle cx="590.8" cy="629.1" r="2.2"/>
<circle cx="592.3" cy="623.1" r="2.2"/>
<circle cx="593.8" cy="618.7" r="2.2"/>
<circle cx="595.3" cy="615.7" r="2.2"/>
<circle cx="596.8" cy="612.7" r="2.2"/>
<circle cx="598.2" cy="609.8" r="2.2"/>
<circle cx="599.7" cy="606.8" r="2.2"/>
<circle cx="601.2" cy="603.8" r="2.2"/>
<circle cx="602.7" cy="599.4" r="2.2"/>
<circle cx="604.2" cy="602.3" r="2.2"/>
<circle cx="605.7" cy="605.3" r="2.2"/>
<circle cx="604.2" cy="609.8" r="2.2"/>
<circle cx="601.2" cy="617.2" r="2.2"/>
<circle cx="599.7" cy="611.2" r="2.2"/>
<circle cx="598.2" cy="618.7" r="2.2"/>
<circle cx="596.8" cy="623.1" r="2.2"/>
<circle cx="604.2" cy="626.1" r="2.2"/>
<circle cx="601.2" cy="626.1" r="2.2"/>
<circle cx="599.7" cy="620.1" r="2.2"/>
<circle cx="564.1" cy="621.6" r="2.2"/>
<circle cx="564.8" cy="626.1" r="2.2"/>
<circle cx="558.9" cy="628.8" r="2.2"/>
<circle cx="567.1" cy="632.0" r="2.2"/>
<circle cx="570.0" cy="615.7" r="2.2"/>
<circle cx="570.8" cy="606.0" r="2.2"/>
<circle cx="578.9" cy="608.0" r="2.2"/>
<circle cx="583.4" cy="611.2" r="2.2"/>
<circle cx="582.7" cy="615.7" r="2.2"/>
<circle cx="584.9" cy="605.3" r="2.2"/>
<circle cx="589.3" cy="609.0" r="2.2"/>
<circle cx="590.1" cy="602.3" r="2.2"/>
<circle cx="592.3" cy="598.6" r="2.2"/>
<circle cx="595.3" cy="600.9" r="2.2"/>
<circle cx="596.8" cy="606.8" r="2.2"/>
<circle cx="574.5" cy="653.5" r="2.2"/>
<circle cx="571.5" cy="640.9" r="2.2"/>
<circle cx="570.0" cy="589.0" r="2.2"/>
<circle cx="575.2" cy="589.0" r="2.2"/>
<circle cx="578.2" cy="588.2" r="2.2"/>
<circle cx="576.7" cy="595.2" r="2.2"/>
<circle cx="579.7" cy="583.0" r="2.2"/>
<circle cx="581.9" cy="600.1" r="2.2"/>
<circle cx="584.9" cy="592.7" r="2.2"/>
<circle cx="586.4" cy="598.6" r="2.2"/>
<circle cx="590.8" cy="593.4" r="2.2"/>
<circle cx="592.3" cy="586.0" r="2.2"/>
<circle cx="593.0" cy="580.8" r="2.2"/>
<circle cx="594.5" cy="585.3" r="2.2"/>
<circle cx="596.8" cy="583.8" r="2.2"/>
<circle cx="598.2" cy="587.5" r="2.2"/>
<circle cx="601.2" cy="584.5" r="2.2"/>
<circle cx="602.7" cy="583.0" r="2.2"/>
<circle cx="605.7" cy="587.5" r="2.2"/>
<circle cx="593.0" cy="573.4" r="2.2"/>
<circle cx="602.7" cy="573.4" r="2.2"/>
<circle cx="584.1" cy="566.0" r="2.2"/>
<circle cx="583.7" cy="570.4" r="2.2"/>
<circle cx="599.7" cy="597.1" r="2.2"/>
<circle cx="601.2" cy="638.0" r="2.2"/>
<circle cx="604.9" cy="649.8" r="2.2"/>
<circle cx="605.7" cy="626.1" r="2.2"/>
<circle cx="633.9" cy="550.1" r="2.2"/>
<circle cx="639.1" cy="556.0" r="2.2"/>
<circle cx="628.0" cy="562.0" r="2.2"/>
<circle cx="642.1" cy="562.0" r="2.2"/>
<circle cx="645.1" cy="563.0" r="2.2"/>
<circle cx="633.9" cy="564.9" r="2.2"/>
<circle cx="636.9" cy="566.7" r="2.2"/>
<circle cx="614.6" cy="568.9" r="2.2"/>
<circle cx="622.8" cy="572.9" r="2.2"/>
<circle cx="609.2" cy="576.4" r="2.2"/>
<circle cx="615.4" cy="577.1" r="2.2"/>
<circle cx="607.2" cy="579.3" r="2.2"/>
<circle cx="622.1" cy="580.8" r="2.2"/>
<circle cx="630.2" cy="576.4" r="2.2"/>
<circle cx="609.5" cy="586.0" r="2.2"/>
<circle cx="615.4" cy="584.5" r="2.2"/>
<circle cx="618.4" cy="591.9" r="2.2"/>
<circle cx="610.9" cy="591.9" r="2.2"/>
<circle cx="624.3" cy="589.0" r="2.2"/>
<circle cx="652.5" cy="593.4" r="2.2"/>
<circle cx="656.9" cy="589.0" r="2.2"/>
<circle cx="654.0" cy="599.4" r="2.2"/>
<circle cx="661.4" cy="596.4" r="2.2"/>
<circle cx="665.9" cy="589.0" r="2.2"/>
<circle cx="670.3" cy="591.9" r="2.2"/>
<circle cx="673.3" cy="593.4" r="2.2"/>
<circle cx="674.8" cy="594.2" r="2.2"/>
<circle cx="670.3" cy="569.7" r="2.2"/>
<circle cx="664.4" cy="607.5" r="2.2"/>
<circle cx="654.0" cy="606.8" r="2.2"/>
<circle cx="649.5" cy="609.0" r="2.2"/>
<circle cx="640.6" cy="612.7" r="2.2"/>
<circle cx="632.5" cy="615.0" r="2.2"/>
<circle cx="646.6" cy="617.2" r="2.2"/>
<circle cx="648.0" cy="614.2" r="2.2"/>
<circle cx="624.3" cy="612.7" r="2.2"/>
<circle cx="622.8" cy="615.7" r="2.2"/>
<circle cx="612.4" cy="617.9" r="2.2"/>
<circle cx="619.8" cy="608.3" r="2.2"/>
<circle cx="613.9" cy="609.0" r="2.2"/>
<circle cx="608.0" cy="624.6" r="2.2"/>
<circle cx="612.4" cy="624.6" r="2.2"/>
<circle cx="621.3" cy="626.1" r="2.2"/>
<circle cx="623.6" cy="625.8" r="2.2"/>
<circle cx="628.7" cy="622.4" r="2.2"/>
<circle cx="629.5" cy="625.3" r="2.2"/>
<circle cx="636.2" cy="627.6" r="2.2"/>
<circle cx="638.4" cy="624.6" r="2.2"/>
<circle cx="643.6" cy="625.8" r="2.2"/>
<circle cx="650.3" cy="628.8" r="2.2"/>
<circle cx="654.0" cy="624.6" r="2.2"/>
<circle cx="655.5" cy="626.4" r="2.2"/>
<circle cx="611.7" cy="633.8" r="2.2"/>
<circle cx="614.6" cy="637.7" r="2.2"/>
<circle cx="622.1" cy="638.3" r="2.2"/>
<circle cx="622.8" cy="636.8" r="2.2"/>
<circle cx="628.0" cy="639.4" r="2.2"/>
<circle cx="608.7" cy="646.6" r="2.2"/>
<circle cx="605.7" cy="649.8" r="2.2"/>
<circle cx="656.9" cy="548.9" r="2.2"/>
<circle cx="664.4" cy="548.2" r="2.2"/>
<circle cx="648.0" cy="558.6" r="2.2"/>
<circle cx="608.0" cy="599.4" r="2.2"/>
<circle cx="610.9" cy="602.3" r="2.2"/>
<circle cx="616.9" cy="602.3" r="2.2"/>
<circle cx="628.7" cy="599.4" r="2.2"/>
<circle cx="634.7" cy="600.9" r="2.2"/>
<circle cx="640.6" cy="599.4" r="2.2"/>
<circle cx="645.1" cy="596.4" r="2.2"/>
<circle cx="608.0" cy="605.3" r="2.2"/>
<circle cx="619.8" cy="605.3" r="2.2"/>
<circle cx="627.3" cy="608.3" r="2.2"/>
<circle cx="666.1" cy="577.1" r="2.2"/>
<circle cx="651.7" cy="583.7" r="2.2"/>
<circle cx="672.6" cy="550.9" r="2.2"/>
<circle cx="666.7" cy="576.6" r="2.2"/>
<circle cx="653.1" cy="579.3" r="2.2"/>
<circle cx="659.8" cy="581.0" r="2.2"/>
<circle cx="661.8" cy="566.0" r="2.2"/>
<circle cx="644.6" cy="587.8" r="2.2"/>
<circle cx="658.0" cy="576.0" r="2.2"/>
<circle cx="648.1" cy="566.3" r="2.2"/>
<circle cx="674.7" cy="549.9" r="2.2"/>
<circle cx="659.5" cy="578.7" r="2.2"/>
<circle cx="665.7" cy="558.2" r="2.2"/>
<circle cx="658.9" cy="571.2" r="2.2"/>
<circle cx="652.2" cy="580.7" r="2.2"/>
<circle cx="654.4" cy="577.7" r="2.2"/>
<circle cx="672.7" cy="569.0" r="2.2"/>
<circle cx="659.5" cy="572.3" r="2.2"/>
<circle cx="660.1" cy="573.3" r="2.2"/>
<circle cx="651.6" cy="566.1" r="2.2"/>
<circle cx="649.5" cy="569.4" r="2.2"/>
<circle cx="664.3" cy="559.8" r="2.2"/>
<circle cx="648.6" cy="585.0" r="2.2"/>
<circle cx="650.2" cy="560.0" r="2.2"/>
<circle cx="662.2" cy="552.7" r="2.2"/>
<circle cx="653.7" cy="558.1" r="2.2"/>
<circle cx="672.5" cy="558.0" r="2.2"/>
<circle cx="666.3" cy="577.5" r="2.2"/>
<circle cx="657.7" cy="562.8" r="2.2"/>
<circle cx="660.8" cy="559.8" r="2.2"/>
<circle cx="669.3" cy="563.7" r="2.2"/>
<circle cx="641.2" cy="578.8" r="2.2"/>
<circle cx="658.7" cy="582.9" r="2.2"/>
<circle cx="655.1" cy="574.7" r="2.2"/>
<circle cx="672.2" cy="556.9" r="2.2"/>
<circle cx="668.8" cy="569.2" r="2.2"/>
<circle cx="653.9" cy="578.5" r="2.2"/>
<circle cx="660.1" cy="566.1" r="2.2"/>
<circle cx="643.7" cy="574.2" r="2.2"/>
<circle cx="663.3" cy="567.7" r="2.2"/>
<circle cx="675.7" cy="550.4" r="2.2"/>
<circle cx="647.7" cy="571.9" r="2.2"/>
<circle cx="664.9" cy="557.9" r="2.2"/>
<circle cx="668.1" cy="548.0" r="2.2"/>
<circle cx="669.2" cy="568.0" r="2.2"/>
<circle cx="649.3" cy="561.0" r="2.2"/>
<circle cx="640.0" cy="573.5" r="2.2"/>
<circle cx="648.8" cy="565.1" r="2.2"/>
<circle cx="665.7" cy="557.5" r="2.2"/>
<circle cx="654.2" cy="559.6" r="2.2"/>
<circle cx="649.2" cy="574.2" r="2.2"/>
<circle cx="640.1" cy="574.3" r="2.2"/>
<circle cx="648.1" cy="586.9" r="2.2"/>
<circle cx="656.0" cy="574.0" r="2.2"/>
<circle cx="657.8" cy="580.7" r="2.2"/>
<circle cx="665.3" cy="573.1" r="2.2"/>
<circle cx="667.5" cy="563.3" r="2.2"/>
<circle cx="646.2" cy="583.9" r="2.2"/>
<circle cx="658.6" cy="561.2" r="2.2"/>
<circle cx="670.3" cy="557.3" r="2.2"/>
<circle cx="663.9" cy="554.2" r="2.2"/>
<circle cx="648.3" cy="586.5" r="2.2"/>
<circle cx="644.7" cy="582.8" r="2.2"/>
<circle cx="664.7" cy="571.0" r="2.2"/>
<circle cx="671.7" cy="565.5" r="2.2"/>
<circle cx="658.3" cy="564.8" r="2.2"/>
<circle cx="669.1" cy="573.6" r="2.2"/>
<circle cx="667.1" cy="571.5" r="2.2"/>
<circle cx="646.7" cy="577.5" r="2.2"/>
<circle cx="665.8" cy="555.7" r="2.2"/>
<circle cx="660.7" cy="576.8" r="2.2"/>
<circle cx="655.6" cy="569.0" r="2.2"/>
<circle cx="649.9" cy="560.1" r="2.2"/>
<circle cx="672.0" cy="554.3" r="2.2"/>
<circle cx="657.8" cy="561.4" r="2.2"/>
<circle cx="653.9" cy="561.5" r="2.2"/>
<circle cx="662.3" cy="563.0" r="2.2"/>
<circle cx="669.6" cy="557.5" r="2.2"/>
<circle cx="641.7" cy="579.8" r="2.2"/>
<circle cx="671.8" cy="558.7" r="2.2"/>
<circle cx="643.9" cy="586.7" r="2.2"/>
<circle cx="648.2" cy="567.4" r="2.2"/>
<circle cx="651.2" cy="570.4" r="2.2"/>
<circle cx="653.1" cy="561.8" r="2.2"/>
<circle cx="666.6" cy="558.8" r="2.2"/>
<circle cx="675.7" cy="552.4" r="2.2"/>
<circle cx="643.2" cy="584.6" r="2.2"/>
<circle cx="669.7" cy="555.8" r="2.2"/>
<circle cx="673.5" cy="547.4" r="2.2"/>
<circle cx="665.1" cy="572.8" r="2.2"/>
<circle cx="653.8" cy="576.8" r="2.2"/>
<circle cx="667.5" cy="563.0" r="2.2"/>
<circle cx="642.2" cy="570.8" r="2.2"/>
<circle cx="656.1" cy="571.2" r="2.2"/>
<circle cx="652.4" cy="577.2" r="2.2"/>
<circle cx="655.3" cy="573.0" r="2.2"/>
<circle cx="668.6" cy="568.8" r="2.2"/>
<circle cx="673.0" cy="552.8" r="2.2"/>
<circle cx="663.5" cy="578.4" r="2.2"/>
<circle cx="650.3" cy="568.3" r="2.2"/>
<circle cx="662.6" cy="560.3" r="2.2"/>
<circle cx="657.9" cy="567.6" r="2.2"/>
<circle cx="646.3" cy="587.1" r="2.2"/>
<circle cx="657.1" cy="578.7" r="2.2"/>
<circle cx="660.9" cy="552.8" r="2.2"/>
<circle cx="661.8" cy="571.4" r="2.2"/>
<circle cx="676.3" cy="551.3" r="2.2"/>
<circle cx="657.6" cy="569.0" r="2.2"/>
<circle cx="664.4" cy="560.3" r="2.2"/>
<circle cx="669.3" cy="566.1" r="2.2"/>
<circle cx="666.4" cy="569.2" r="2.2"/>
<circle cx="672.1" cy="567.3" r="2.2"/>
<circle cx="639.2" cy="578.3" r="2.2"/>
<circle cx="645.2" cy="570.2" r="2.2"/>
<circle cx="638.4" cy="581.5" r="2.2"/>
<circle cx="646.3" cy="565.5" r="2.2"/>
<circle cx="652.5" cy="580.5" r="2.2"/>
<circle cx="642.8" cy="583.7" r="2.2"/>
<circle cx="672.1" cy="566.0" r="2.2"/>
<circle cx="652.9" cy="559.6" r="2.2"/>
<circle cx="660.3" cy="568.6" r="2.2"/>
<circle cx="673.1" cy="564.8" r="2.2"/>
<circle cx="659.9" cy="576.8" r="2.2"/>
<circle cx="642.4" cy="568.7" r="2.2"/>
<circle cx="643.1" cy="566.9" r="2.2"/>
<circle cx="657.1" cy="584.4" r="2.2"/>
<circle cx="676.5" cy="558.8" r="2.2"/>
<circle cx="671.9" cy="561.7" r="2.2"/>
<circle cx="646.1" cy="571.2" r="2.2"/>
<circle cx="648.3" cy="586.1" r="2.2"/>
<circle cx="673.9" cy="547.2" r="2.2"/>
<circle cx="641.3" cy="573.9" r="2.2"/>
<circle cx="659.2" cy="552.6" r="2.2"/>
<circle cx="650.1" cy="567.4" r="2.2"/>
<circle cx="669.7" cy="563.1" r="2.2"/>
<circle cx="647.7" cy="565.8" r="2.2"/>
<circle cx="658.4" cy="562.8" r="2.2"/>
<circle cx="639.5" cy="581.6" r="2.2"/>
<circle cx="644.7" cy="586.9" r="2.2"/>
<circle cx="659.8" cy="555.5" r="2.2"/>
<circle cx="668.9" cy="553.4" r="2.2"/>
<circle cx="661.7" cy="573.8" r="2.2"/>
<circle cx="669.6" cy="557.2" r="2.2"/>
<circle cx="668.7" cy="575.5" r="2.2"/>
<circle cx="667.8" cy="561.8" r="2.2"/>
<circle cx="647.1" cy="565.8" r="2.2"/>
<circle cx="637.6" cy="577.9" r="2.2"/>
<circle cx="649.6" cy="563.9" r="2.2"/>
<circle cx="659.2" cy="572.9" r="2.2"/>
<circle cx="644.4" cy="583.7" r="2.2"/>
<circle cx="660.0" cy="581.0" r="2.2"/>
<circle cx="646.3" cy="583.1" r="2.2"/>
<circle cx="670.1" cy="569.9" r="2.2"/>
<circle cx="664.1" cy="558.9" r="2.2"/>
<circle cx="662.7" cy="560.3" r="2.2"/>
<circle cx="652.0" cy="583.4" r="2.2"/>
<circle cx="654.9" cy="584.7" r="2.2"/>
<circle cx="664.3" cy="577.7" r="2.2"/>
<circle cx="666.7" cy="569.7" r="2.2"/>
<circle cx="648.8" cy="574.8" r="2.2"/>
<circle cx="636.3" cy="579.1" r="2.2"/>
<circle cx="646.0" cy="584.9" r="2.2"/>
<circle cx="638.2" cy="575.9" r="2.2"/>
<circle cx="666.4" cy="577.2" r="2.2"/>
<circle cx="655.6" cy="558.6" r="2.2"/>
<circle cx="644.8" cy="578.2" r="2.2"/>
<circle cx="665.0" cy="576.9" r="2.2"/>
<circle cx="669.2" cy="566.1" r="2.2"/>
<circle cx="664.5" cy="571.6" r="2.2"/>
<circle cx="669.2" cy="557.3" r="2.2"/>
<circle cx="644.7" cy="581.6" r="2.2"/>
<circle cx="664.4" cy="579.2" r="2.2"/>
<circle cx="638.6" cy="586.0" r="2.2"/>
<circle cx="671.0" cy="552.6" r="2.2"/>
<circle cx="652.9" cy="578.8" r="2.2"/>
<circle cx="671.1" cy="568.8" r="2.2"/>
<circle cx="674.0" cy="562.5" r="2.2"/>
<circle cx="660.9" cy="582.3" r="2.2"/>
<circle cx="663.6" cy="571.7" r="2.2"/>
<circle cx="664.2" cy="561.0" r="2.2"/>
<circle cx="648.1" cy="577.4" r="2.2"/>
<circle cx="640.6" cy="578.3" r="2.2"/>
<circle cx="669.9" cy="569.0" r="2.2"/>
<circle cx="659.1" cy="566.3" r="2.2"/>
<circle cx="641.0" cy="584.5" r="2.2"/>
<circle cx="669.3" cy="552.3" r="2.2"/>
<circle cx="671.4" cy="550.5" r="2.2"/>
<circle cx="663.6" cy="578.3" r="2.2"/>
<circle cx="638.1" cy="576.2" r="2.2"/>
<circle cx="663.3" cy="567.0" r="2.2"/>
<circle cx="658.1" cy="554.1" r="2.2"/>
<circle cx="676.6" cy="550.7" r="2.2"/>
<circle cx="666.6" cy="569.2" r="2.2"/>
<circle cx="666.4" cy="576.5" r="2.2"/>
<circle cx="651.7" cy="559.5" r="2.2"/>
<circle cx="650.3" cy="586.3" r="2.2"/>
<circle cx="661.7" cy="572.7" r="2.2"/>
<circle cx="668.4" cy="552.3" r="2.2"/>
<circle cx="641.3" cy="570.3" r="2.2"/>
<circle cx="649.3" cy="580.8" r="2.2"/>
<circle cx="668.8" cy="561.8" r="2.2"/>
<circle cx="647.0" cy="573.9" r="2.2"/>
<circle cx="652.5" cy="566.9" r="2.2"/>
<circle cx="641.5" cy="570.8" r="2.2"/>
<circle cx="663.1" cy="578.7" r="2.2"/>
<circle cx="675.1" cy="546.7" r="2.2"/>
<circle cx="667.8" cy="571.3" r="2.2"/>
<circle cx="668.2" cy="574.3" r="2.2"/>
<circle cx="642.1" cy="568.6" r="2.2"/>
<circle cx="637.4" cy="583.1" r="2.2"/>
<circle cx="667.1" cy="558.7" r="2.2"/>
<circle cx="649.3" cy="559.8" r="2.2"/>
<circle cx="665.4" cy="560.5" r="2.2"/>
<circle cx="653.8" cy="582.6" r="2.2"/>
<circle cx="665.2" cy="552.0" r="2.2"/>
<circle cx="645.0" cy="584.3" r="2.2"/>
<circle cx="662.6" cy="552.1" r="2.2"/>
<circle cx="655.5" cy="561.7" r="2.2"/>
<circle cx="661.4" cy="582.3" r="2.2"/>
<circle cx="669.4" cy="558.6" r="2.2"/>
<circle cx="647.0" cy="573.6" r="2.2"/>
<circle cx="663.7" cy="567.8" r="2.2"/>
<circle cx="667.3" cy="550.1" r="2.2"/>
<circle cx="665.7" cy="573.6" r="2.2"/>
<circle cx="651.4" cy="582.6" r="2.2"/>
<circle cx="647.3" cy="585.1" r="2.2"/>
<circle cx="673.9" cy="553.3" r="2.2"/>
<circle cx="664.3" cy="572.8" r="2.2"/>
<circle cx="668.3" cy="560.4" r="2.2"/>
<circle cx="669.0" cy="561.4" r="2.2"/>
<circle cx="664.5" cy="560.1" r="2.2"/>
<circle cx="661.4" cy="573.3" r="2.2"/>
<circle cx="656.4" cy="557.8" r="2.2"/>
<circle cx="660.3" cy="567.8" r="2.2"/>
<circle cx="638.1" cy="575.7" r="2.2"/>
<circle cx="673.1" cy="563.6" r="2.2"/>
<circle cx="652.9" cy="573.3" r="2.2"/>
<circle cx="656.3" cy="559.6" r="2.2"/>
<circle cx="656.7" cy="564.4" r="2.2"/>
<circle cx="660.2" cy="580.7" r="2.2"/>
<circle cx="639.8" cy="584.0" r="2.2"/>
<circle cx="660.7" cy="573.6" r="2.2"/>
<circle cx="648.7" cy="561.8" r="2.2"/>
<circle cx="643.7" cy="568.4" r="2.2"/>
<circle cx="650.2" cy="564.8" r="2.2"/>
<circle cx="647.8" cy="572.2" r="2.2"/>
<circle cx="642.4" cy="580.1" r="2.2"/>
<circle cx="651.8" cy="561.7" r="2.2"/>
<circle cx="669.8" cy="552.5" r="2.2"/>
<circle cx="651.1" cy="560.7" r="2.2"/>
<circle cx="669.3" cy="560.6" r="2.2"/>
<circle cx="656.4" cy="557.4" r="2.2"/>
<circle cx="663.2" cy="565.6" r="2.2"/>
<circle cx="662.8" cy="552.4" r="2.2"/>
<circle cx="659.5" cy="567.7" r="2.2"/>
<circle cx="664.3" cy="557.4" r="2.2"/>
<circle cx="658.7" cy="568.8" r="2.2"/>
<circle cx="650.5" cy="558.2" r="2.2"/>
<circle cx="645.3" cy="577.7" r="2.2"/>
<circle cx="659.2" cy="553.5" r="2.2"/>
<circle cx="647.3" cy="582.2" r="2.2"/>
<circle cx="657.3" cy="572.9" r="2.2"/>
<circle cx="670.7" cy="566.6" r="2.2"/>
<circle cx="649.5" cy="570.7" r="2.2"/>
<circle cx="645.7" cy="584.4" r="2.2"/>
<circle cx="652.6" cy="560.0" r="2.2"/>
<circle cx="640.0" cy="586.3" r="2.2"/>
<circle cx="658.9" cy="569.3" r="2.2"/>
<circle cx="674.7" cy="549.0" r="2.2"/>
<circle cx="674.7" cy="558.7" r="2.2"/>
<circle cx="662.6" cy="573.6" r="2.2"/>
<circle cx="675.3" cy="558.0" r="2.2"/>
<circle cx="663.4" cy="579.5" r="2.2"/>
<circle cx="653.5" cy="558.3" r="2.2"/>
<circle cx="654.0" cy="583.6" r="2.2"/>
<circle cx="660.4" cy="569.0" r="2.2"/>
<circle cx="663.7" cy="564.2" r="2.2"/>
<circle cx="669.1" cy="548.0" r="2.2"/>
<circle cx="655.7" cy="569.1" r="2.2"/>
<circle cx="637.9" cy="580.9" r="2.2"/>
<circle cx="670.5" cy="550.2" r="2.2"/>
<circle cx="672.1" cy="568.6" r="2.2"/>
<circle cx="669.4" cy="555.3" r="2.2"/>
<circle cx="655.8" cy="571.4" r="2.2"/>
<circle cx="672.1" cy="560.5" r="2.2"/>
<circle cx="644.4" cy="582.7" r="2.2"/>
<circle cx="653.5" cy="560.0" r="2.2"/>
<circle cx="648.7" cy="570.8" r="2.2"/>
<circle cx="656.7" cy="573.8" r="2.2"/>
<circle cx="650.8" cy="567.4" r="2.2"/>
<circle cx="652.0" cy="572.1" r="2.2"/>
<circle cx="646.4" cy="572.5" r="2.2"/>
<circle cx="658.9" cy="572.3" r="2.2"/>
<circle cx="664.4" cy="560.6" r="2.2"/>
<circle cx="641.7" cy="582.8" r="2.2"/>
<circle cx="656.2" cy="557.1" r="2.2"/>
<circle cx="657.2" cy="559.8" r="2.2"/>
<circle cx="651.2" cy="577.9" r="2.2"/>
<circle cx="658.2" cy="554.0" r="2.2"/>
<circle cx="649.5" cy="580.4" r="2.2"/>
<circle cx="661.4" cy="582.3" r="2.2"/>
<circle cx="648.7" cy="575.5" r="2.2"/>
<circle cx="651.4" cy="565.2" r="2.2"/>
<circle cx="666.4" cy="556.8" r="2.2"/>
<circle cx="652.2" cy="570.3" r="2.2"/>
<circle cx="664.7" cy="577.6" r="2.2"/>
<circle cx="661.3" cy="574.8" r="2.2"/>
<circle cx="652.5" cy="584.2" r="2.2"/>
<circle cx="641.2" cy="579.8" r="2.2"/>
<circle cx="665.9" cy="578.2" r="2.2"/>
<circle cx="676.9" cy="557.7" r="2.2"/>
<circle cx="650.2" cy="566.0" r="2.2"/>
<circle cx="644.2" cy="564.7" r="2.2"/>
<circle cx="656.6" cy="560.7" r="2.2"/>
<circle cx="670.6" cy="555.3" r="2.2"/>
<circle cx="665.8" cy="575.8" r="2.2"/>
<circle cx="651.7" cy="584.3" r="2.2"/>
<circle cx="672.4" cy="549.5" r="2.2"/>
<circle cx="647.7" cy="569.6" r="2.2"/>
<circle cx="664.1" cy="576.3" r="2.2"/>
<circle cx="657.2" cy="584.3" r="2.2"/>
<circle cx="638.7" cy="573.6" r="2.2"/>
<circle cx="658.4" cy="567.7" r="2.2"/>
<circle cx="665.4" cy="571.4" r="2.2"/>
<circle cx="657.6" cy="568.8" r="2.2"/>
<circle cx="659.5" cy="581.4" r="2.2"/>
<circle cx="646.6" cy="573.5" r="2.2"/>
<circle cx="659.0" cy="559.1" r="2.2"/>
<circle cx="640.4" cy="574.8" r="2.2"/>
<circle cx="640.0" cy="582.9" r="2.2"/>
<circle cx="670.5" cy="570.0" r="2.2"/>
<circle cx="643.2" cy="575.8" r="2.2"/>
<circle cx="659.7" cy="578.1" r="2.2"/>
<circle cx="670.3" cy="553.6" r="2.2"/>
<circle cx="660.7" cy="563.7" r="2.2"/>
<circle cx="642.3" cy="572.5" r="2.2"/>
<circle cx="674.7" cy="550.3" r="2.2"/>
<circle cx="654.0" cy="556.0" r="2.2"/>
<circle cx="642.6" cy="579.8" r="2.2"/>
<circle cx="640.0" cy="581.0" r="2.2"/>
<circle cx="651.4" cy="572.5" r="2.2"/>
<circle cx="647.0" cy="577.2" r="2.2"/>
<circle cx="655.9" cy="579.0" r="2.2"/>
<circle cx="663.8" cy="571.2" r="2.2"/>
<circle cx="641.4" cy="586.3" r="2.2"/>
<circle cx="645.9" cy="574.6" r="2.2"/>
<circle cx="662.5" cy="565.4" r="2.2"/>
<circle cx="645.9" cy="568.1" r="2.2"/>
<circle cx="646.2" cy="567.4" r="2.2"/>
<circle cx="657.5" cy="582.4" r="2.2"/>
<circle cx="674.8" cy="558.9" r="2.2"/>
<circle cx="647.9" cy="570.4" r="2.2"/>
<circle cx="641.1" cy="583.1" r="2.2"/>
<circle cx="665.5" cy="576.0" r="2.2"/>
<circle cx="656.1" cy="570.0" r="2.2"/>
<circle cx="665.6" cy="567.1" r="2.2"/>
<circle cx="647.0" cy="583.1" r="2.2"/>
<circle cx="657.3" cy="562.0" r="2.2"/>
<circle cx="666.9" cy="564.4" r="2.2"/>
<circle cx="657.9" cy="561.3" r="2.2"/>
<circle cx="669.7" cy="559.9" r="2.2"/>
<circle cx="670.4" cy="561.3" r="2.2"/>
<circle cx="654.0" cy="565.7" r="2.2"/>
<circle cx="658.3" cy="569.7" r="2.2"/>
<circle cx="669.1" cy="564.2" r="2.2"/>
<circle cx="640.5" cy="576.8" r="2.2"/>
<circle cx="662.0" cy="561.0" r="2.2"/>
<circle cx="655.0" cy="575.2" r="2.2"/>
<circle cx="653.7" cy="585.5" r="2.2"/>
<circle cx="659.9" cy="572.4" r="2.2"/>
<circle cx="672.0" cy="554.4" r="2.2"/>
<circle cx="648.0" cy="577.5" r="2.2"/>
<circle cx="663.4" cy="561.5" r="2.2"/>
<circle cx="642.2" cy="585.7" r="2.2"/>
<circle cx="666.6" cy="567.5" r="2.2"/>
<circle cx="642.9" cy="578.7" r="2.2"/>
<circle cx="675.4" cy="551.6" r="2.2"/>
<circle cx="641.1" cy="580.3" r="2.2"/>
<circle cx="640.0" cy="571.6" r="2.2"/>
<circle cx="676.7" cy="549.4" r="2.2"/>
<circle cx="639.7" cy="579.7" r="2.2"/>
<circle cx="671.5" cy="566.0" r="2.2"/>
<circle cx="676.2" cy="556.4" r="2.2"/>
<circle cx="652.2" cy="584.6" r="2.2"/>
<circle cx="641.5" cy="572.4" r="2.2"/>
<circle cx="657.7" cy="567.3" r="2.2"/>
<circle cx="639.9" cy="574.3" r="2.2"/>
<circle cx="653.9" cy="556.3" r="2.2"/>
<circle cx="673.8" cy="556.5" r="2.2"/>
<circle cx="655.4" cy="560.4" r="2.2"/>
<circle cx="666.9" cy="557.8" r="2.2"/>
<circle cx="667.1" cy="572.2" r="2.2"/>
<circle cx="653.1" cy="584.5" r="2.2"/>
<circle cx="644.5" cy="588.2" r="2.2"/>
<circle cx="650.0" cy="580.6" r="2.2"/>
<circle cx="647.7" cy="571.6" r="2.2"/>
<circle cx="650.9" cy="582.7" r="2.2"/>
<circle cx="677.4" cy="553.1" r="2.2"/>
<circle cx="675.9" cy="556.4" r="2.2"/>
<circle cx="643.2" cy="580.7" r="2.2"/>
<circle cx="657.7" cy="572.0" r="2.2"/>
<circle cx="669.9" cy="557.1" r="2.2"/>
<circle cx="667.3" cy="568.8" r="2.2"/>
<circle cx="644.0" cy="565.9" r="2.2"/>
<circle cx="671.5" cy="565.7" r="2.2"/>
<circle cx="646.0" cy="587.5" r="2.2"/>
<circle cx="642.2" cy="583.0" r="2.2"/>
<circle cx="673.2" cy="550.9" r="2.2"/>
<circle cx="673.7" cy="567.1" r="2.2"/>
<circle cx="666.3" cy="558.1" r="2.2"/>
<circle cx="649.5" cy="571.6" r="2.2"/>
<circle cx="673.2" cy="567.7" r="2.2"/>
<circle cx="663.1" cy="580.2" r="2.2"/>
<circle cx="645.7" cy="584.1" r="2.2"/>
<circle cx="669.8" cy="568.8" r="2.2"/>
<circle cx="661.0" cy="582.1" r="2.2"/>
<circle cx="647.6" cy="565.3" r="2.2"/>
<circle cx="670.7" cy="551.2" r="2.2"/>
<circle cx="656.4" cy="566.9" r="2.2"/>
<circle cx="649.5" cy="585.7" r="2.2"/>
<circle cx="652.9" cy="567.9" r="2.2"/>
<circle cx="658.1" cy="561.7" r="2.2"/>
<circle cx="649.4" cy="566.7" r="2.2"/>
<circle cx="645.0" cy="569.3" r="2.2"/>
<circle cx="668.1" cy="569.9" r="2.2"/>
<circle cx="664.0" cy="569.3" r="2.2"/>
<circle cx="650.5" cy="559.7" r="2.2"/>
<circle cx="659.7" cy="562.9" r="2.2"/>
<circle cx="646.1" cy="569.9" r="2.2"/>
<circle cx="652.7" cy="577.0" r="2.2"/>
<circle cx="650.3" cy="561.2" r="2.2"/>
<circle cx="660.0" cy="579.4" r="2.2"/>
<circle cx="672.9" cy="560.2" r="2.2"/>
<circle cx="663.1" cy="568.1" r="2.2"/>
<circle cx="642.1" cy="582.7" r="2.2"/>
<circle cx="655.8" cy="557.2" r="2.2"/>
<circle cx="608.9" cy="599.6" r="2.2"/>
<circle cx="622.7" cy="600.0" r="2.2"/>
<circle cx="593.1" cy="616.5" r="2.2"/>
<circle cx="620.5" cy="604.2" r="2.2"/>
<circle cx="645.2" cy="562.8" r="2.2"/>
<circle cx="639.5" cy="586.3" r="2.2"/>
<circle cx="654.8" cy="565.1" r="2.2"/>
<circle cx="605.6" cy="613.5" r="2.2"/>
<circle cx="661.2" cy="564.8" r="2.2"/>
<circle cx="617.3" cy="594.8" r="2.2"/>
<circle cx="596.5" cy="605.3" r="2.2"/>
<circle cx="626.1" cy="585.9" r="2.2"/>
<circle cx="596.7" cy="607.6" r="2.2"/>
<circle cx="652.4" cy="586.3" r="2.2"/>
<circle cx="600.7" cy="609.8" r="2.2"/>
<circle cx="634.5" cy="590.3" r="2.2"/>
<circle cx="631.6" cy="579.7" r="2.2"/>
<circle cx="651.1" cy="578.4" r="2.2"/>
<circle cx="647.9" cy="585.3" r="2.2"/>
<circle cx="644.0" cy="565.3" r="2.2"/>
<circle cx="647.0" cy="564.3" r="2.2"/>
<circle cx="628.3" cy="593.3" r="2.2"/>
<circle cx="662.5" cy="571.4" r="2.2"/>
<circle cx="599.7" cy="600.1" r="2.2"/>
<circle cx="596.9" cy="606.1" r="2.2"/>
<circle cx="605.7" cy="612.3" r="2.2"/>
<circle cx="620.1" cy="600.5" r="2.2"/>
<circle cx="636.0" cy="586.5" r="2.2"/>
<circle cx="644.4" cy="576.1" r="2.2"/>
<circle cx="661.7" cy="574.4" r="2.2"/>
<circle cx="637.9" cy="583.9" r="2.2"/>
<circle cx="622.5" cy="589.3" r="2.2"/>
<circle cx="654.3" cy="558.6" r="2.2"/>
<circle cx="593.3" cy="604.5" r="2.2"/>
<circle cx="592.9" cy="628.7" r="2.2"/>
<circle cx="642.4" cy="578.1" r="2.2"/>
<circle cx="654.0" cy="568.4" r="2.2"/>
<circle cx="652.5" cy="582.6" r="2.2"/>
<circle cx="637.0" cy="583.1" r="2.2"/>
<circle cx="615.9" cy="597.0" r="2.2"/>
<circle cx="611.4" cy="606.6" r="2.2"/>
<circle cx="645.8" cy="565.8" r="2.2"/>
<circle cx="623.2" cy="597.1" r="2.2"/>
<circle cx="647.1" cy="580.3" r="2.2"/>
<circle cx="621.9" cy="606.4" r="2.2"/>
<circle cx="661.6" cy="562.9" r="2.2"/>
<circle cx="622.5" cy="602.3" r="2.2"/>
<circle cx="643.7" cy="572.7" r="2.2"/>
<circle cx="643.9" cy="569.7" r="2.2"/>
<circle cx="647.3" cy="580.5" r="2.2"/>
<circle cx="657.9" cy="564.8" r="2.2"/>
<circle cx="654.0" cy="584.0" r="2.2"/>
<circle cx="629.9" cy="588.0" r="2.2"/>
<circle cx="621.0" cy="611.1" r="2.2"/>
<circle cx="627.3" cy="590.9" r="2.2"/>
<circle cx="650.7" cy="578.2" r="2.2"/>
<circle cx="638.2" cy="576.7" r="2.2"/>
<circle cx="653.6" cy="571.8" r="2.2"/>
<circle cx="612.7" cy="611.0" r="2.2"/>
<circle cx="630.0" cy="605.0" r="2.2"/>
<circle cx="638.3" cy="597.0" r="2.2"/>
<circle cx="655.5" cy="562.4" r="2.2"/>
<circle cx="621.0" cy="591.4" r="2.2"/>
<circle cx="652.3" cy="574.8" r="2.2"/>
<circle cx="644.2" cy="580.0" r="2.2"/>
<circle cx="633.7" cy="588.1" r="2.2"/>
<circle cx="615.5" cy="605.7" r="2.2"/>
<circle cx="606.8" cy="620.4" r="2.2"/>
<circle cx="645.2" cy="578.0" r="2.2"/>
<circle cx="596.0" cy="611.2" r="2.2"/>
<circle cx="646.6" cy="580.0" r="2.2"/>
<circle cx="643.8" cy="586.2" r="2.2"/>
<circle cx="627.4" cy="601.7" r="2.2"/>
<circle cx="611.9" cy="609.3" r="2.2"/>
<circle cx="608.7" cy="611.6" r="2.2"/>
<circle cx="606.2" cy="621.3" r="2.2"/>
<circle cx="619.5" cy="607.6" r="2.2"/>
<circle cx="650.1" cy="578.7" r="2.2"/>
<circle cx="648.0" cy="562.8" r="2.2"/>
<circle cx="654.0" cy="563.0" r="2.2"/>
<circle cx="655.0" cy="573.1" r="2.2"/>
<circle cx="600.8" cy="598.7" r="2.2"/>
<circle cx="628.1" cy="600.2" r="2.2"/>
<circle cx="592.1" cy="601.3" r="2.2"/>
<circle cx="631.2" cy="596.7" r="2.2"/>
<circle cx="606.7" cy="601.3" r="2.2"/>
<circle cx="643.2" cy="586.0" r="2.2"/>
<circle cx="622.2" cy="586.9" r="2.2"/>
<circle cx="621.4" cy="604.2" r="2.2"/>
<circle cx="611.5" cy="616.7" r="2.2"/>
<circle cx="604.5" cy="606.3" r="2.2"/>
<circle cx="600.0" cy="609.6" r="2.2"/>
<circle cx="639.8" cy="583.6" r="2.2"/>
<circle cx="619.2" cy="604.3" r="2.2"/>
<circle cx="624.1" cy="593.3" r="2.2"/>
<circle cx="604.1" cy="612.3" r="2.2"/>
<circle cx="650.9" cy="586.5" r="2.2"/>
<circle cx="602.6" cy="598.5" r="2.2"/>
<circle cx="655.6" cy="573.6" r="2.2"/>
<circle cx="617.4" cy="605.3" r="2.2"/>
<circle cx="636.0" cy="596.0" r="2.2"/>
<circle cx="605.6" cy="614.4" r="2.2"/>
<circle cx="625.7" cy="584.0" r="2.2"/>
<circle cx="634.9" cy="582.2" r="2.2"/>
<circle cx="603.6" cy="617.4" r="2.2"/>
<circle cx="630.9" cy="600.9" r="2.2"/>
<circle cx="656.1" cy="560.3" r="2.2"/>
<circle cx="590.4" cy="612.2" r="2.2"/>
<circle cx="605.6" cy="605.0" r="2.2"/>
<circle cx="621.0" cy="589.4" r="2.2"/>
<circle cx="610.6" cy="597.4" r="2.2"/>
<circle cx="590.9" cy="616.0" r="2.2"/>
<circle cx="617.9" cy="607.1" r="2.2"/>
<circle cx="613.4" cy="604.6" r="2.2"/>
<circle cx="593.5" cy="607.1" r="2.2"/>
<circle cx="627.0" cy="599.5" r="2.2"/>
<circle cx="604.6" cy="606.7" r="2.2"/>
<circle cx="597.8" cy="601.2" r="2.2"/>
<circle cx="659.8" cy="571.1" r="2.2"/>
<circle cx="660.8" cy="573.7" r="2.2"/>
<circle cx="650.2" cy="568.8" r="2.2"/>
<circle cx="657.1" cy="579.6" r="2.2"/>
<circle cx="628.9" cy="599.7" r="2.2"/>
<circle cx="604.4" cy="618.4" r="2.2"/>
<circle cx="591.1" cy="604.5" r="2.2"/>
<circle cx="639.8" cy="593.2" r="2.2"/>
<circle cx="664.7" cy="568.8" r="2.2"/>
<circle cx="650.5" cy="572.6" r="2.2"/>
<circle cx="643.8" cy="588.8" r="2.2"/>
<circle cx="629.7" cy="588.8" r="2.2"/>
<circle cx="650.2" cy="580.7" r="2.2"/>
<circle cx="635.1" cy="598.9" r="2.2"/>
<circle cx="637.9" cy="578.0" r="2.2"/>
<circle cx="596.5" cy="599.7" r="2.2"/>
<circle cx="606.0" cy="622.4" r="2.2"/>
<circle cx="631.7" cy="591.4" r="2.2"/>
<circle cx="645.0" cy="590.1" r="2.2"/>
<circle cx="662.3" cy="566.5" r="2.2"/>
<circle cx="599.0" cy="606.6" r="2.2"/>
<circle cx="591.5" cy="623.6" r="2.2"/>
<circle cx="616.9" cy="605.8" r="2.2"/>
<circle cx="648.2" cy="578.2" r="2.2"/>
<circle cx="651.8" cy="558.5" r="2.2"/>
<circle cx="645.4" cy="581.4" r="2.2"/>
<circle cx="650.6" cy="562.2" r="2.2"/>
<circle cx="656.7" cy="570.2" r="2.2"/>
<circle cx="658.7" cy="572.2" r="2.2"/>
<circle cx="628.6" cy="593.6" r="2.2"/>
<circle cx="606.1" cy="617.1" r="2.2"/>
<circle cx="651.6" cy="574.7" r="2.2"/>
<circle cx="625.3" cy="597.1" r="2.2"/>
<circle cx="633.4" cy="577.4" r="2.2"/>
<circle cx="597.3" cy="623.0" r="2.2"/>
<circle cx="650.9" cy="589.2" r="2.2"/>
<circle cx="593.5" cy="611.6" r="2.2"/>
<circle cx="645.0" cy="567.3" r="2.2"/>
<circle cx="647.7" cy="562.2" r="2.2"/>
<circle cx="639.9" cy="571.5" r="2.2"/>
<circle cx="635.7" cy="588.8" r="2.2"/>
<circle cx="635.7" cy="574.7" r="2.2"/>
<circle cx="607.2" cy="610.9" r="2.2"/>
<circle cx="615.8" cy="614.6" r="2.2"/>
<circle cx="641.5" cy="576.9" r="2.2"/>
<circle cx="649.9" cy="560.1" r="2.2"/>
<circle cx="648.3" cy="580.8" r="2.2"/>
<circle cx="597.6" cy="600.3" r="2.2"/>
<circle cx="654.5" cy="585.4" r="2.2"/>
<circle cx="637.3" cy="589.1" r="2.2"/>
<circle cx="604.5" cy="606.9" r="2.2"/>
<circle cx="610.7" cy="596.6" r="2.2"/>
<circle cx="590.5" cy="601.0" r="2.2"/>
<circle cx="606.1" cy="605.5" r="2.2"/>
<circle cx="651.3" cy="575.1" r="2.2"/>
<circle cx="652.6" cy="557.8" r="2.2"/>
<circle cx="599.6" cy="603.4" r="2.2"/>
<circle cx="610.0" cy="616.7" r="2.2"/>
<circle cx="610.5" cy="611.2" r="2.2"/>
<circle cx="594.7" cy="624.9" r="2.2"/>
<circle cx="593.3" cy="604.4" r="2.2"/>
<circle cx="627.5" cy="582.8" r="2.2"/>
<circle cx="616.2" cy="609.5" r="2.2"/>
<circle cx="653.0" cy="582.8" r="2.2"/>
<circle cx="622.0" cy="595.1" r="2.2"/>
<circle cx="611.2" cy="614.4" r="2.2"/>
<circle cx="654.8" cy="561.5" r="2.2"/>
<circle cx="636.1" cy="576.4" r="2.2"/>
<circle cx="637.9" cy="599.6" r="2.2"/>
<circle cx="608.8" cy="617.5" r="2.2"/>
<circle cx="598.7" cy="615.8" r="2.2"/>
<circle cx="632.5" cy="589.7" r="2.2"/>
<circle cx="659.6" cy="570.0" r="2.2"/>
<circle cx="620.7" cy="592.1" r="2.2"/>
<circle cx="623.6" cy="589.2" r="2.2"/>
<circle cx="661.6" cy="564.0" r="2.2"/>
<circle cx="656.1" cy="577.0" r="2.2"/>
<circle cx="594.4" cy="626.9" r="2.2"/>
<circle cx="595.6" cy="603.5" r="2.2"/>
<circle cx="642.7" cy="578.7" r="2.2"/>
<circle cx="612.4" cy="607.0" r="2.2"/>
<circle cx="630.8" cy="587.6" r="2.2"/>
<circle cx="630.6" cy="580.9" r="2.2"/>
<circle cx="655.2" cy="582.4" r="2.2"/>
<circle cx="618.8" cy="612.0" r="2.2"/>
<circle cx="594.5" cy="618.3" r="2.2"/>
<circle cx="600.3" cy="606.2" r="2.2"/>
<circle cx="602.8" cy="606.3" r="2.2"/>
<circle cx="651.4" cy="588.3" r="2.2"/>
<circle cx="645.8" cy="575.3" r="2.2"/>
<circle cx="633.4" cy="575.8" r="2.2"/>
<circle cx="616.3" cy="595.4" r="2.2"/>
<circle cx="620.7" cy="594.3" r="2.2"/>
<circle cx="612.0" cy="610.1" r="2.2"/>
<circle cx="637.3" cy="600.1" r="2.2"/>
<circle cx="636.1" cy="576.3" r="2.2"/>
<circle cx="650.8" cy="569.1" r="2.2"/>
<circle cx="608.6" cy="617.3" r="2.2"/>
<circle cx="652.2" cy="566.1" r="2.2"/>
<circle cx="603.1" cy="598.7" r="2.2"/>
<circle cx="619.5" cy="592.2" r="2.2"/>
<circle cx="613.5" cy="613.1" r="2.2"/>
<circle cx="637.5" cy="581.7" r="2.2"/>
<circle cx="618.8" cy="598.6" r="2.2"/>
<circle cx="630.9" cy="577.3" r="2.2"/>
<circle cx="628.8" cy="595.5" r="2.2"/>
<circle cx="599.1" cy="622.4" r="2.2"/>
<circle cx="627.0" cy="596.5" r="2.2"/>
<circle cx="593.4" cy="622.5" r="2.2"/>
<circle cx="620.8" cy="588.0" r="2.2"/>
<circle cx="634.2" cy="590.6" r="2.2"/>
<circle cx="601.5" cy="621.3" r="2.2"/>
<circle cx="641.6" cy="578.1" r="2.2"/>
<circle cx="620.6" cy="590.9" r="2.2"/>
<circle cx="604.0" cy="613.0" r="2.2"/>
<circle cx="635.9" cy="592.3" r="2.2"/>
<circle cx="606.8" cy="604.5" r="2.2"/>
<circle cx="625.3" cy="589.9" r="2.2"/>
<circle cx="599.9" cy="602.8" r="2.2"/>
<circle cx="647.9" cy="562.1" r="2.2"/>
<circle cx="636.0" cy="591.8" r="2.2"/>
<circle cx="618.5" cy="605.1" r="2.2"/>
<circle cx="640.6" cy="568.6" r="2.2"/>
<circle cx="648.3" cy="580.2" r="2.2"/>
<circle cx="618.8" cy="594.9" r="2.2"/>
<circle cx="617.8" cy="599.4" r="2.2"/>
<circle cx="591.9" cy="600.3" r="2.2"/>
<circle cx="633.5" cy="596.3" r="2.2"/>
<circle cx="643.2" cy="591.1" r="2.2"/>
<circle cx="656.7" cy="565.5" r="2.2"/>
<circle cx="659.0" cy="561.2" r="2.2"/>
<circle cx="642.8" cy="572.2" r="2.2"/>
<circle cx="653.7" cy="575.5" r="2.2"/>
<circle cx="627.8" cy="594.2" r="2.2"/>
<circle cx="601.7" cy="597.6" r="2.2"/>
<circle cx="650.0" cy="588.9" r="2.2"/>
<circle cx="617.5" cy="610.3" r="2.2"/>
<circle cx="658.6" cy="573.4" r="2.2"/>
<circle cx="591.7" cy="621.6" r="2.2"/>
<circle cx="661.0" cy="570.3" r="2.2"/>
<circle cx="626.8" cy="596.7" r="2.2"/>
<circle cx="599.6" cy="625.0" r="2.2"/>
<circle cx="625.2" cy="599.5" r="2.2"/>
<circle cx="649.5" cy="563.3" r="2.2"/>
<circle cx="648.2" cy="590.2" r="2.2"/>
<circle cx="637.7" cy="594.1" r="2.2"/>
<circle cx="547.9" cy="649.9" r="2.2"/>
<circle cx="560.5" cy="639.2" r="2.2"/>
<circle cx="548.9" cy="640.3" r="2.2"/>
<circle cx="576.0" cy="632.0" r="2.2"/>
<circle cx="581.1" cy="621.4" r="2.2"/>
<circle cx="566.7" cy="640.1" r="2.2"/>
<circle cx="549.4" cy="655.1" r="2.2"/>
<circle cx="568.4" cy="640.4" r="2.2"/>
<circle cx="550.3" cy="650.8" r="2.2"/>
<circle cx="587.3" cy="628.8" r="2.2"/>
<circle cx="540.9" cy="652.0" r="2.2"/>
<circle cx="575.3" cy="629.0" r="2.2"/>
<circle cx="559.4" cy="636.0" r="2.2"/>
<circle cx="559.7" cy="649.4" r="2.2"/>
<circle cx="537.3" cy="652.8" r="2.2"/>
<circle cx="538.7" cy="655.1" r="2.2"/>
<circle cx="558.3" cy="648.0" r="2.2"/>
<circle cx="545.6" cy="653.3" r="2.2"/>
<circle cx="585.7" cy="618.1" r="2.2"/>
<circle cx="538.1" cy="656.0" r="2.2"/>
<circle cx="546.1" cy="642.8" r="2.2"/>
<circle cx="562.4" cy="635.2" r="2.2"/>
<circle cx="560.5" cy="635.4" r="2.2"/>
<circle cx="583.2" cy="634.3" r="2.2"/>
<circle cx="557.7" cy="639.1" r="2.2"/>
<circle cx="559.8" cy="644.6" r="2.2"/>
<circle cx="572.9" cy="636.2" r="2.2"/>
<circle cx="555.5" cy="642.2" r="2.2"/>
<circle cx="557.2" cy="648.4" r="2.2"/>
</g>
</g>
<clipPath id="sc3"><rect x="527.4" y="541.5" width="156.39999999999998" height="125.10000000000002"/></clipPath>
<text x="538.50" y="554.80" font-size="8.44" fill="#1a1a1a" stroke="#1a1a1a" stroke-width="0.12"><tspan font-style="italic">r</tspan> = 0.89, <tspan font-style="italic">p</tspan> &lt; 2.2e&#8722;16</text>
<rect x="527.4" y="541.5" width="156.39999999999998" height="125.10000000000002" fill="none" stroke="#858e8f" stroke-width="0.9"/>
<line x1="525.00" y1="661.90" x2="527.40" y2="661.90" stroke="#4a4a4a" stroke-width="0.9" />
<text x="523.30" y="664.35" font-size="6.8" fill="#5a6060" text-anchor="end" font-weight="normal" font-style="normal" stroke="#5a6060" stroke-width="0.2" >0.00</text>
<line x1="533.50" y1="666.60" x2="533.50" y2="669.00" stroke="#4a4a4a" stroke-width="0.9" />
<text x="533.50" y="675.25" font-size="6.8" fill="#5a6060" text-anchor="middle" font-weight="normal" font-style="normal" stroke="#5a6060" stroke-width="0.2" >0.00</text>
<line x1="525.00" y1="633.20" x2="527.40" y2="633.20" stroke="#4a4a4a" stroke-width="0.9" />
<text x="523.30" y="635.65" font-size="6.8" fill="#5a6060" text-anchor="end" font-weight="normal" font-style="normal" stroke="#5a6060" stroke-width="0.2" >0.25</text>
<line x1="569.27" y1="666.60" x2="569.27" y2="669.00" stroke="#4a4a4a" stroke-width="0.9" />
<text x="569.27" y="675.25" font-size="6.8" fill="#5a6060" text-anchor="middle" font-weight="normal" font-style="normal" stroke="#5a6060" stroke-width="0.2" >0.25</text>
<line x1="525.00" y1="604.50" x2="527.40" y2="604.50" stroke="#4a4a4a" stroke-width="0.9" />
<text x="523.30" y="606.95" font-size="6.8" fill="#5a6060" text-anchor="end" font-weight="normal" font-style="normal" stroke="#5a6060" stroke-width="0.2" >0.50</text>
<line x1="605.05" y1="666.60" x2="605.05" y2="669.00" stroke="#4a4a4a" stroke-width="0.9" />
<text x="605.05" y="675.25" font-size="6.8" fill="#5a6060" text-anchor="middle" font-weight="normal" font-style="normal" stroke="#5a6060" stroke-width="0.2" >0.50</text>
<line x1="525.00" y1="575.80" x2="527.40" y2="575.80" stroke="#4a4a4a" stroke-width="0.9" />
<text x="523.30" y="578.25" font-size="6.8" fill="#5a6060" text-anchor="end" font-weight="normal" font-style="normal" stroke="#5a6060" stroke-width="0.2" >0.75</text>
<line x1="640.83" y1="666.60" x2="640.83" y2="669.00" stroke="#4a4a4a" stroke-width="0.9" />
<text x="640.83" y="675.25" font-size="6.8" fill="#5a6060" text-anchor="middle" font-weight="normal" font-style="normal" stroke="#5a6060" stroke-width="0.2" >0.75</text>
<line x1="525.00" y1="547.10" x2="527.40" y2="547.10" stroke="#4a4a4a" stroke-width="0.9" />
<text x="523.30" y="549.55" font-size="6.8" fill="#5a6060" text-anchor="end" font-weight="normal" font-style="normal" stroke="#5a6060" stroke-width="0.2" >1.00</text>
<line x1="676.60" y1="666.60" x2="676.60" y2="669.00" stroke="#4a4a4a" stroke-width="0.9" />
<text x="676.60" y="675.25" font-size="6.8" fill="#5a6060" text-anchor="middle" font-weight="normal" font-style="normal" stroke="#5a6060" stroke-width="0.2" >1.00</text>
<text x="605.60" y="684.40" font-size="7.6" fill="#1a1a1a" text-anchor="middle" font-weight="normal" font-style="normal" stroke="#1a1a1a" stroke-width="0.1" >Tumor of PET</text>
<text x="0" y="0" font-size="7.6" fill="#1a1a1a" stroke="#1a1a1a" stroke-width="0.1" text-anchor="middle" transform="translate(506.7,604.55) rotate(-90)">Peritumor of PET</text>
<rect x="527.4" y="718.7" width="156.39999999999998" height="123.59999999999991" fill="#fff"/>
<line x1="527.40" y1="820.23" x2="683.80" y2="820.23" stroke="#f3f6f6" stroke-width="0.8" />
<line x1="550.65" y1="718.70" x2="550.65" y2="842.30" stroke="#f3f6f6" stroke-width="0.8" />
<line x1="527.40" y1="792.67" x2="683.80" y2="792.67" stroke="#f3f6f6" stroke-width="0.8" />
<line x1="586.95" y1="718.70" x2="586.95" y2="842.30" stroke="#f3f6f6" stroke-width="0.8" />
<line x1="527.40" y1="765.12" x2="683.80" y2="765.12" stroke="#f3f6f6" stroke-width="0.8" />
<line x1="623.25" y1="718.70" x2="623.25" y2="842.30" stroke="#f3f6f6" stroke-width="0.8" />
<line x1="527.40" y1="737.58" x2="683.80" y2="737.58" stroke="#f3f6f6" stroke-width="0.8" />
<line x1="659.55" y1="718.70" x2="659.55" y2="842.30" stroke="#f3f6f6" stroke-width="0.8" />
<line x1="527.40" y1="834.00" x2="683.80" y2="834.00" stroke="#e9efef" stroke-width="1" />
<line x1="532.50" y1="718.70" x2="532.50" y2="842.30" stroke="#e9efef" stroke-width="1" />
<line x1="527.40" y1="806.45" x2="683.80" y2="806.45" stroke="#e9efef" stroke-width="1" />
<line x1="568.80" y1="718.70" x2="568.80" y2="842.30" stroke="#e9efef" stroke-width="1" />
<line x1="527.40" y1="778.90" x2="683.80" y2="778.90" stroke="#e9efef" stroke-width="1" />
<line x1="605.10" y1="718.70" x2="605.10" y2="842.30" stroke="#e9efef" stroke-width="1" />
<line x1="527.40" y1="751.35" x2="683.80" y2="751.35" stroke="#e9efef" stroke-width="1" />
<line x1="641.40" y1="718.70" x2="641.40" y2="842.30" stroke="#e9efef" stroke-width="1" />
<line x1="527.40" y1="723.80" x2="683.80" y2="723.80" stroke="#e9efef" stroke-width="1" />
<line x1="677.70" y1="718.70" x2="677.70" y2="842.30" stroke="#e9efef" stroke-width="1" />
<g clip-path="url(#sc4)">
<line x1="534.40" y1="837.00" x2="677.00" y2="727.60" stroke="#80d8f6" stroke-width="1.9" stroke-linecap="round"/>
<g fill="#87defb" fill-opacity="0.55">
<circle cx="534.1" cy="828.5" r="2.2"/>
<circle cx="545.6" cy="825.1" r="2.2"/>
<circle cx="547.0" cy="825.8" r="2.2"/>
<circle cx="554.5" cy="814.0" r="2.2"/>
<circle cx="556.7" cy="805.8" r="2.2"/>
<circle cx="559.7" cy="828.5" r="2.2"/>
<circle cx="560.4" cy="822.9" r="2.2"/>
<circle cx="563.4" cy="824.1" r="2.2"/>
<circle cx="569.3" cy="793.9" r="2.2"/>
<circle cx="570.8" cy="797.3" r="2.2"/>
<circle cx="574.5" cy="803.6" r="2.2"/>
<circle cx="576.0" cy="802.1" r="2.2"/>
<circle cx="578.2" cy="800.6" r="2.2"/>
<circle cx="579.7" cy="802.1" r="2.2"/>
<circle cx="576.7" cy="821.4" r="2.2"/>
<circle cx="577.5" cy="820.6" r="2.2"/>
<circle cx="581.2" cy="818.4" r="2.2"/>
<circle cx="582.7" cy="820.6" r="2.2"/>
<circle cx="583.4" cy="785.8" r="2.2"/>
<circle cx="584.9" cy="805.1" r="2.2"/>
<circle cx="585.6" cy="808.8" r="2.2"/>
<circle cx="589.3" cy="785.8" r="2.2"/>
<circle cx="590.1" cy="787.2" r="2.2"/>
<circle cx="589.3" cy="779.8" r="2.2"/>
<circle cx="593.8" cy="775.4" r="2.2"/>
<circle cx="593.8" cy="779.8" r="2.2"/>
<circle cx="588.6" cy="809.5" r="2.2"/>
<circle cx="590.8" cy="808.8" r="2.2"/>
<circle cx="592.3" cy="808.8" r="2.2"/>
<circle cx="590.8" cy="813.2" r="2.2"/>
<circle cx="588.6" cy="815.1" r="2.2"/>
<circle cx="593.8" cy="796.9" r="2.2"/>
<circle cx="589.3" cy="791.7" r="2.2"/>
<circle cx="599.7" cy="765.0" r="2.2"/>
<circle cx="600.5" cy="766.5" r="2.2"/>
<circle cx="604.2" cy="762.8" r="2.2"/>
<circle cx="602.0" cy="819.9" r="2.2"/>
<circle cx="603.4" cy="791.7" r="2.2"/>
<circle cx="604.9" cy="773.9" r="2.2"/>
<circle cx="604.2" cy="738.3" r="2.2"/>
<circle cx="604.9" cy="742.7" r="2.2"/>
<circle cx="605.7" cy="747.2" r="2.2"/>
<circle cx="606.4" cy="796.9" r="2.2"/>
<circle cx="605.7" cy="812.5" r="2.2"/>
<circle cx="605.0" cy="738.3" r="2.2"/>
<circle cx="608.0" cy="747.2" r="2.2"/>
<circle cx="613.9" cy="745.7" r="2.2"/>
<circle cx="619.8" cy="750.1" r="2.2"/>
<circle cx="624.3" cy="741.2" r="2.2"/>
<circle cx="628.7" cy="738.3" r="2.2"/>
<circle cx="613.9" cy="753.1" r="2.2"/>
<circle cx="619.8" cy="754.6" r="2.2"/>
<circle cx="625.8" cy="755.3" r="2.2"/>
<circle cx="630.2" cy="757.6" r="2.2"/>
<circle cx="608.0" cy="766.5" r="2.2"/>
<circle cx="613.9" cy="763.5" r="2.2"/>
<circle cx="619.8" cy="762.0" r="2.2"/>
<circle cx="624.3" cy="766.5" r="2.2"/>
<circle cx="628.7" cy="766.5" r="2.2"/>
<circle cx="634.7" cy="765.0" r="2.2"/>
<circle cx="609.5" cy="773.9" r="2.2"/>
<circle cx="615.4" cy="772.4" r="2.2"/>
<circle cx="622.8" cy="773.9" r="2.2"/>
<circle cx="628.7" cy="775.4" r="2.2"/>
<circle cx="634.7" cy="772.4" r="2.2"/>
<circle cx="637.7" cy="772.4" r="2.2"/>
<circle cx="609.5" cy="782.8" r="2.2"/>
<circle cx="616.9" cy="779.8" r="2.2"/>
<circle cx="624.3" cy="784.3" r="2.2"/>
<circle cx="625.8" cy="784.3" r="2.2"/>
<circle cx="633.2" cy="785.0" r="2.2"/>
<circle cx="632.5" cy="781.3" r="2.2"/>
<circle cx="629.5" cy="778.3" r="2.2"/>
<circle cx="614.6" cy="788.7" r="2.2"/>
<circle cx="607.2" cy="796.1" r="2.2"/>
<circle cx="616.1" cy="800.6" r="2.2"/>
<circle cx="626.5" cy="796.9" r="2.2"/>
<circle cx="639.1" cy="800.9" r="2.2"/>
<circle cx="649.5" cy="788.7" r="2.2"/>
<circle cx="651.8" cy="794.7" r="2.2"/>
<circle cx="655.5" cy="790.2" r="2.2"/>
<circle cx="656.9" cy="793.2" r="2.2"/>
<circle cx="659.2" cy="790.2" r="2.2"/>
<circle cx="667.3" cy="791.0" r="2.2"/>
<circle cx="660.7" cy="804.8" r="2.2"/>
<circle cx="606.5" cy="811.7" r="2.2"/>
<circle cx="617.6" cy="815.7" r="2.2"/>
<circle cx="608.0" cy="819.9" r="2.2"/>
<circle cx="648.0" cy="771.7" r="2.2"/>
<circle cx="646.6" cy="778.3" r="2.2"/>
<circle cx="659.9" cy="776.1" r="2.2"/>
<circle cx="615.4" cy="733.1" r="2.2"/>
<circle cx="605.0" cy="763.5" r="2.2"/>
<circle cx="605.0" cy="772.4" r="2.2"/>
<circle cx="666.4" cy="733.0" r="2.2"/>
<circle cx="648.5" cy="755.4" r="2.2"/>
<circle cx="641.2" cy="763.7" r="2.2"/>
<circle cx="639.1" cy="752.7" r="2.2"/>
<circle cx="648.5" cy="752.2" r="2.2"/>
<circle cx="651.2" cy="737.4" r="2.2"/>
<circle cx="661.5" cy="751.4" r="2.2"/>
<circle cx="652.1" cy="744.0" r="2.2"/>
<circle cx="657.7" cy="734.5" r="2.2"/>
<circle cx="641.8" cy="748.7" r="2.2"/>
<circle cx="638.3" cy="750.0" r="2.2"/>
<circle cx="645.1" cy="741.6" r="2.2"/>
<circle cx="671.3" cy="724.5" r="2.2"/>
<circle cx="663.6" cy="759.6" r="2.2"/>
<circle cx="658.2" cy="751.6" r="2.2"/>
<circle cx="641.8" cy="746.6" r="2.2"/>
<circle cx="661.7" cy="726.5" r="2.2"/>
<circle cx="670.1" cy="733.8" r="2.2"/>
<circle cx="637.0" cy="751.1" r="2.2"/>
<circle cx="665.8" cy="751.5" r="2.2"/>
<circle cx="658.2" cy="747.1" r="2.2"/>
<circle cx="665.9" cy="736.8" r="2.2"/>
<circle cx="657.1" cy="756.3" r="2.2"/>
<circle cx="674.7" cy="731.7" r="2.2"/>
<circle cx="655.4" cy="743.4" r="2.2"/>
<circle cx="638.0" cy="749.1" r="2.2"/>
<circle cx="660.1" cy="759.9" r="2.2"/>
<circle cx="661.1" cy="736.7" r="2.2"/>
<circle cx="662.2" cy="761.3" r="2.2"/>
<circle cx="648.6" cy="730.8" r="2.2"/>
<circle cx="669.4" cy="726.4" r="2.2"/>
<circle cx="656.4" cy="733.1" r="2.2"/>
<circle cx="657.5" cy="733.5" r="2.2"/>
<circle cx="642.6" cy="745.0" r="2.2"/>
<circle cx="658.9" cy="740.7" r="2.2"/>
<circle cx="658.3" cy="766.1" r="2.2"/>
<circle cx="655.8" cy="740.7" r="2.2"/>
<circle cx="668.3" cy="750.7" r="2.2"/>
<circle cx="646.1" cy="763.8" r="2.2"/>
<circle cx="658.8" cy="742.2" r="2.2"/>
<circle cx="673.1" cy="724.3" r="2.2"/>
<circle cx="669.4" cy="736.7" r="2.2"/>
<circle cx="664.3" cy="753.6" r="2.2"/>
<circle cx="639.1" cy="759.3" r="2.2"/>
<circle cx="655.6" cy="739.5" r="2.2"/>
<circle cx="648.2" cy="737.0" r="2.2"/>
<circle cx="653.5" cy="742.2" r="2.2"/>
<circle cx="644.2" cy="748.7" r="2.2"/>
<circle cx="640.9" cy="749.4" r="2.2"/>
<circle cx="647.3" cy="763.7" r="2.2"/>
<circle cx="644.8" cy="760.4" r="2.2"/>
<circle cx="659.4" cy="729.3" r="2.2"/>
<circle cx="675.3" cy="728.5" r="2.2"/>
<circle cx="646.5" cy="750.3" r="2.2"/>
<circle cx="673.8" cy="735.8" r="2.2"/>
<circle cx="661.0" cy="733.8" r="2.2"/>
<circle cx="652.4" cy="756.6" r="2.2"/>
<circle cx="663.1" cy="760.8" r="2.2"/>
<circle cx="656.9" cy="753.6" r="2.2"/>
<circle cx="653.3" cy="763.5" r="2.2"/>
<circle cx="653.9" cy="735.0" r="2.2"/>
<circle cx="663.1" cy="760.1" r="2.2"/>
<circle cx="668.7" cy="740.5" r="2.2"/>
<circle cx="662.4" cy="728.7" r="2.2"/>
<circle cx="656.0" cy="765.0" r="2.2"/>
<circle cx="648.5" cy="754.6" r="2.2"/>
<circle cx="652.2" cy="729.6" r="2.2"/>
<circle cx="649.6" cy="733.7" r="2.2"/>
<circle cx="667.8" cy="743.3" r="2.2"/>
<circle cx="677.8" cy="724.4" r="2.2"/>
<circle cx="646.5" cy="730.8" r="2.2"/>
<circle cx="660.2" cy="731.7" r="2.2"/>
<circle cx="671.6" cy="739.3" r="2.2"/>
<circle cx="676.2" cy="728.2" r="2.2"/>
<circle cx="660.0" cy="747.9" r="2.2"/>
<circle cx="666.2" cy="733.3" r="2.2"/>
<circle cx="648.1" cy="733.4" r="2.2"/>
<circle cx="662.2" cy="745.3" r="2.2"/>
<circle cx="655.9" cy="726.3" r="2.2"/>
<circle cx="643.9" cy="754.7" r="2.2"/>
<circle cx="645.0" cy="746.2" r="2.2"/>
<circle cx="674.1" cy="731.0" r="2.2"/>
<circle cx="654.9" cy="757.6" r="2.2"/>
<circle cx="643.9" cy="746.0" r="2.2"/>
<circle cx="675.1" cy="731.7" r="2.2"/>
<circle cx="646.9" cy="731.7" r="2.2"/>
<circle cx="673.0" cy="727.1" r="2.2"/>
<circle cx="640.6" cy="750.6" r="2.2"/>
<circle cx="666.3" cy="742.0" r="2.2"/>
<circle cx="667.2" cy="755.0" r="2.2"/>
<circle cx="651.2" cy="726.0" r="2.2"/>
<circle cx="664.6" cy="751.1" r="2.2"/>
<circle cx="647.5" cy="755.9" r="2.2"/>
<circle cx="647.6" cy="733.4" r="2.2"/>
<circle cx="656.0" cy="755.1" r="2.2"/>
<circle cx="671.6" cy="727.2" r="2.2"/>
<circle cx="651.5" cy="728.3" r="2.2"/>
<circle cx="662.9" cy="760.4" r="2.2"/>
<circle cx="647.5" cy="739.3" r="2.2"/>
<circle cx="652.6" cy="766.5" r="2.2"/>
<circle cx="659.1" cy="735.3" r="2.2"/>
<circle cx="650.3" cy="738.4" r="2.2"/>
<circle cx="661.3" cy="734.3" r="2.2"/>
<circle cx="671.6" cy="725.6" r="2.2"/>
<circle cx="660.6" cy="757.9" r="2.2"/>
<circle cx="659.3" cy="747.5" r="2.2"/>
<circle cx="668.3" cy="725.3" r="2.2"/>
<circle cx="658.3" cy="739.1" r="2.2"/>
<circle cx="639.9" cy="763.5" r="2.2"/>
<circle cx="667.0" cy="741.7" r="2.2"/>
<circle cx="664.0" cy="758.6" r="2.2"/>
<circle cx="645.7" cy="758.7" r="2.2"/>
<circle cx="660.7" cy="740.0" r="2.2"/>
<circle cx="653.1" cy="764.8" r="2.2"/>
<circle cx="656.0" cy="727.5" r="2.2"/>
<circle cx="649.7" cy="738.7" r="2.2"/>
<circle cx="649.0" cy="744.0" r="2.2"/>
<circle cx="664.4" cy="756.7" r="2.2"/>
<circle cx="650.9" cy="738.8" r="2.2"/>
<circle cx="657.5" cy="734.2" r="2.2"/>
<circle cx="650.1" cy="726.5" r="2.2"/>
<circle cx="643.8" cy="751.2" r="2.2"/>
<circle cx="658.7" cy="761.6" r="2.2"/>
<circle cx="659.0" cy="738.2" r="2.2"/>
<circle cx="649.3" cy="760.7" r="2.2"/>
<circle cx="653.7" cy="729.3" r="2.2"/>
<circle cx="651.5" cy="729.9" r="2.2"/>
<circle cx="661.3" cy="762.4" r="2.2"/>
<circle cx="651.3" cy="758.1" r="2.2"/>
<circle cx="640.3" cy="758.6" r="2.2"/>
<circle cx="646.1" cy="748.9" r="2.2"/>
<circle cx="651.9" cy="747.8" r="2.2"/>
<circle cx="663.2" cy="749.9" r="2.2"/>
<circle cx="658.0" cy="728.8" r="2.2"/>
<circle cx="643.6" cy="742.9" r="2.2"/>
<circle cx="660.5" cy="730.7" r="2.2"/>
<circle cx="670.3" cy="745.1" r="2.2"/>
<circle cx="659.8" cy="764.7" r="2.2"/>
<circle cx="648.0" cy="738.2" r="2.2"/>
<circle cx="660.3" cy="727.3" r="2.2"/>
<circle cx="645.2" cy="732.2" r="2.2"/>
<circle cx="648.0" cy="739.5" r="2.2"/>
<circle cx="660.9" cy="742.3" r="2.2"/>
<circle cx="674.1" cy="733.1" r="2.2"/>
<circle cx="655.6" cy="747.1" r="2.2"/>
<circle cx="652.4" cy="753.5" r="2.2"/>
<circle cx="644.1" cy="759.8" r="2.2"/>
<circle cx="635.3" cy="752.2" r="2.2"/>
<circle cx="659.2" cy="729.1" r="2.2"/>
<circle cx="665.9" cy="753.0" r="2.2"/>
<circle cx="668.5" cy="744.6" r="2.2"/>
<circle cx="658.2" cy="752.8" r="2.2"/>
<circle cx="645.2" cy="749.9" r="2.2"/>
<circle cx="646.4" cy="729.0" r="2.2"/>
<circle cx="654.7" cy="730.2" r="2.2"/>
<circle cx="662.3" cy="731.5" r="2.2"/>
<circle cx="662.7" cy="756.5" r="2.2"/>
<circle cx="653.6" cy="753.0" r="2.2"/>
<circle cx="651.3" cy="725.5" r="2.2"/>
<circle cx="645.1" cy="741.3" r="2.2"/>
<circle cx="634.7" cy="750.4" r="2.2"/>
<circle cx="649.2" cy="735.5" r="2.2"/>
<circle cx="651.6" cy="750.5" r="2.2"/>
<circle cx="663.2" cy="728.5" r="2.2"/>
<circle cx="652.3" cy="757.1" r="2.2"/>
<circle cx="650.8" cy="752.8" r="2.2"/>
<circle cx="654.0" cy="729.4" r="2.2"/>
<circle cx="665.0" cy="744.6" r="2.2"/>
<circle cx="657.8" cy="736.8" r="2.2"/>
<circle cx="661.6" cy="750.2" r="2.2"/>
<circle cx="651.0" cy="731.4" r="2.2"/>
<circle cx="671.3" cy="727.3" r="2.2"/>
<circle cx="669.0" cy="744.2" r="2.2"/>
<circle cx="666.6" cy="743.8" r="2.2"/>
<circle cx="644.0" cy="740.8" r="2.2"/>
<circle cx="662.8" cy="741.5" r="2.2"/>
<circle cx="667.0" cy="729.5" r="2.2"/>
<circle cx="654.5" cy="739.1" r="2.2"/>
<circle cx="652.5" cy="760.0" r="2.2"/>
<circle cx="658.9" cy="736.2" r="2.2"/>
<circle cx="646.2" cy="741.5" r="2.2"/>
<circle cx="652.7" cy="754.9" r="2.2"/>
<circle cx="654.3" cy="743.7" r="2.2"/>
<circle cx="647.4" cy="763.9" r="2.2"/>
<circle cx="640.4" cy="746.3" r="2.2"/>
<circle cx="646.1" cy="736.8" r="2.2"/>
<circle cx="647.7" cy="754.9" r="2.2"/>
<circle cx="653.7" cy="745.0" r="2.2"/>
<circle cx="674.2" cy="736.9" r="2.2"/>
<circle cx="660.7" cy="758.1" r="2.2"/>
<circle cx="655.5" cy="738.3" r="2.2"/>
<circle cx="651.5" cy="756.8" r="2.2"/>
<circle cx="642.5" cy="761.6" r="2.2"/>
<circle cx="666.3" cy="737.3" r="2.2"/>
<circle cx="667.6" cy="731.9" r="2.2"/>
<circle cx="645.7" cy="744.1" r="2.2"/>
<circle cx="665.6" cy="747.6" r="2.2"/>
<circle cx="639.5" cy="761.1" r="2.2"/>
<circle cx="652.3" cy="748.2" r="2.2"/>
<circle cx="647.1" cy="762.4" r="2.2"/>
<circle cx="646.7" cy="765.2" r="2.2"/>
<circle cx="647.7" cy="738.9" r="2.2"/>
<circle cx="665.4" cy="734.6" r="2.2"/>
<circle cx="657.4" cy="756.3" r="2.2"/>
<circle cx="665.5" cy="752.9" r="2.2"/>
<circle cx="670.9" cy="742.7" r="2.2"/>
<circle cx="663.3" cy="747.4" r="2.2"/>
<circle cx="646.9" cy="738.7" r="2.2"/>
<circle cx="648.0" cy="746.9" r="2.2"/>
<circle cx="642.3" cy="744.5" r="2.2"/>
<circle cx="667.5" cy="751.9" r="2.2"/>
<circle cx="667.6" cy="752.8" r="2.2"/>
<circle cx="661.7" cy="755.7" r="2.2"/>
<circle cx="667.0" cy="738.5" r="2.2"/>
<circle cx="644.3" cy="747.5" r="2.2"/>
<circle cx="649.1" cy="746.9" r="2.2"/>
<circle cx="651.2" cy="767.4" r="2.2"/>
<circle cx="650.2" cy="737.5" r="2.2"/>
<circle cx="649.0" cy="748.5" r="2.2"/>
<circle cx="642.7" cy="753.9" r="2.2"/>
<circle cx="655.4" cy="756.5" r="2.2"/>
<circle cx="650.0" cy="758.8" r="2.2"/>
<circle cx="643.7" cy="743.3" r="2.2"/>
<circle cx="655.3" cy="727.9" r="2.2"/>
<circle cx="652.3" cy="767.5" r="2.2"/>
<circle cx="643.4" cy="754.6" r="2.2"/>
<circle cx="667.2" cy="741.5" r="2.2"/>
<circle cx="669.2" cy="729.1" r="2.2"/>
<circle cx="677.4" cy="726.1" r="2.2"/>
<circle cx="649.7" cy="724.9" r="2.2"/>
<circle cx="657.9" cy="735.9" r="2.2"/>
<circle cx="638.4" cy="763.5" r="2.2"/>
<circle cx="648.3" cy="734.2" r="2.2"/>
<circle cx="656.7" cy="727.0" r="2.2"/>
<circle cx="655.7" cy="748.0" r="2.2"/>
<circle cx="662.3" cy="757.2" r="2.2"/>
<circle cx="651.6" cy="743.8" r="2.2"/>
<circle cx="647.7" cy="758.7" r="2.2"/>
<circle cx="661.3" cy="762.3" r="2.2"/>
<circle cx="646.1" cy="732.2" r="2.2"/>
<circle cx="645.4" cy="763.4" r="2.2"/>
<circle cx="656.8" cy="749.4" r="2.2"/>
<circle cx="654.0" cy="750.7" r="2.2"/>
<circle cx="660.1" cy="738.8" r="2.2"/>
<circle cx="669.4" cy="739.0" r="2.2"/>
<circle cx="660.2" cy="727.1" r="2.2"/>
<circle cx="667.4" cy="739.3" r="2.2"/>
<circle cx="645.3" cy="755.3" r="2.2"/>
<circle cx="636.9" cy="747.4" r="2.2"/>
<circle cx="646.7" cy="733.7" r="2.2"/>
<circle cx="644.1" cy="741.6" r="2.2"/>
<circle cx="646.3" cy="745.6" r="2.2"/>
<circle cx="652.3" cy="725.2" r="2.2"/>
<circle cx="635.4" cy="752.8" r="2.2"/>
<circle cx="650.7" cy="750.7" r="2.2"/>
<circle cx="656.3" cy="744.3" r="2.2"/>
<circle cx="674.7" cy="733.6" r="2.2"/>
<circle cx="659.8" cy="748.1" r="2.2"/>
<circle cx="653.9" cy="751.3" r="2.2"/>
<circle cx="663.9" cy="746.2" r="2.2"/>
<circle cx="649.5" cy="728.0" r="2.2"/>
<circle cx="636.2" cy="747.8" r="2.2"/>
<circle cx="654.2" cy="741.1" r="2.2"/>
<circle cx="667.9" cy="738.2" r="2.2"/>
<circle cx="648.2" cy="743.7" r="2.2"/>
<circle cx="640.4" cy="753.6" r="2.2"/>
<circle cx="660.4" cy="760.3" r="2.2"/>
<circle cx="660.0" cy="757.3" r="2.2"/>
<circle cx="638.0" cy="750.5" r="2.2"/>
<circle cx="644.7" cy="739.4" r="2.2"/>
<circle cx="652.2" cy="745.9" r="2.2"/>
<circle cx="638.0" cy="750.5" r="2.2"/>
<circle cx="666.8" cy="731.1" r="2.2"/>
<circle cx="646.7" cy="734.2" r="2.2"/>
<circle cx="654.5" cy="751.7" r="2.2"/>
<circle cx="658.4" cy="759.6" r="2.2"/>
<circle cx="647.6" cy="737.1" r="2.2"/>
<circle cx="661.0" cy="735.0" r="2.2"/>
<circle cx="653.5" cy="735.5" r="2.2"/>
<circle cx="672.8" cy="729.2" r="2.2"/>
<circle cx="658.7" cy="745.6" r="2.2"/>
<circle cx="667.2" cy="725.7" r="2.2"/>
<circle cx="663.1" cy="737.4" r="2.2"/>
<circle cx="661.4" cy="744.5" r="2.2"/>
<circle cx="675.2" cy="728.7" r="2.2"/>
<circle cx="644.9" cy="732.5" r="2.2"/>
<circle cx="657.1" cy="752.8" r="2.2"/>
<circle cx="639.0" cy="751.7" r="2.2"/>
<circle cx="662.4" cy="756.3" r="2.2"/>
<circle cx="669.7" cy="736.6" r="2.2"/>
<circle cx="669.5" cy="745.7" r="2.2"/>
<circle cx="637.5" cy="757.4" r="2.2"/>
<circle cx="638.4" cy="754.6" r="2.2"/>
<circle cx="656.3" cy="726.9" r="2.2"/>
<circle cx="649.9" cy="750.6" r="2.2"/>
<circle cx="656.6" cy="728.1" r="2.2"/>
<circle cx="657.2" cy="760.6" r="2.2"/>
<circle cx="659.2" cy="745.5" r="2.2"/>
<circle cx="644.7" cy="747.7" r="2.2"/>
<circle cx="644.0" cy="750.1" r="2.2"/>
<circle cx="652.4" cy="734.9" r="2.2"/>
<circle cx="656.5" cy="751.3" r="2.2"/>
<circle cx="665.9" cy="741.7" r="2.2"/>
<circle cx="675.5" cy="727.1" r="2.2"/>
<circle cx="643.0" cy="765.8" r="2.2"/>
<circle cx="650.8" cy="726.5" r="2.2"/>
<circle cx="661.7" cy="749.4" r="2.2"/>
<circle cx="644.1" cy="761.7" r="2.2"/>
<circle cx="661.4" cy="745.3" r="2.2"/>
<circle cx="667.9" cy="731.2" r="2.2"/>
<circle cx="668.3" cy="747.0" r="2.2"/>
<circle cx="656.1" cy="761.1" r="2.2"/>
<circle cx="670.7" cy="746.3" r="2.2"/>
<circle cx="653.0" cy="764.3" r="2.2"/>
<circle cx="652.7" cy="738.5" r="2.2"/>
<circle cx="660.2" cy="752.0" r="2.2"/>
<circle cx="672.2" cy="730.9" r="2.2"/>
<circle cx="652.7" cy="756.5" r="2.2"/>
<circle cx="638.8" cy="762.3" r="2.2"/>
<circle cx="647.2" cy="757.8" r="2.2"/>
<circle cx="650.8" cy="757.4" r="2.2"/>
<circle cx="673.3" cy="727.3" r="2.2"/>
<circle cx="660.6" cy="735.6" r="2.2"/>
<circle cx="659.3" cy="760.0" r="2.2"/>
<circle cx="658.1" cy="730.8" r="2.2"/>
<circle cx="665.5" cy="732.2" r="2.2"/>
<circle cx="669.0" cy="742.7" r="2.2"/>
<circle cx="659.4" cy="758.0" r="2.2"/>
<circle cx="655.3" cy="729.6" r="2.2"/>
<circle cx="652.3" cy="739.0" r="2.2"/>
<circle cx="652.2" cy="745.6" r="2.2"/>
<circle cx="644.8" cy="766.7" r="2.2"/>
<circle cx="654.5" cy="738.4" r="2.2"/>
<circle cx="653.7" cy="749.3" r="2.2"/>
<circle cx="647.2" cy="763.8" r="2.2"/>
<circle cx="652.5" cy="767.1" r="2.2"/>
<circle cx="651.4" cy="748.0" r="2.2"/>
<circle cx="648.4" cy="757.4" r="2.2"/>
<circle cx="658.1" cy="729.6" r="2.2"/>
<circle cx="669.8" cy="738.6" r="2.2"/>
<circle cx="668.8" cy="746.3" r="2.2"/>
<circle cx="670.1" cy="733.2" r="2.2"/>
<circle cx="650.7" cy="747.5" r="2.2"/>
<circle cx="665.3" cy="742.8" r="2.2"/>
<circle cx="672.2" cy="725.3" r="2.2"/>
<circle cx="660.5" cy="754.0" r="2.2"/>
<circle cx="649.5" cy="760.4" r="2.2"/>
<circle cx="655.0" cy="748.4" r="2.2"/>
<circle cx="656.6" cy="755.1" r="2.2"/>
<circle cx="661.3" cy="754.1" r="2.2"/>
<circle cx="659.2" cy="736.8" r="2.2"/>
<circle cx="657.9" cy="751.0" r="2.2"/>
<circle cx="657.6" cy="755.9" r="2.2"/>
<circle cx="646.4" cy="732.6" r="2.2"/>
<circle cx="648.4" cy="746.4" r="2.2"/>
<circle cx="660.9" cy="761.7" r="2.2"/>
<circle cx="654.8" cy="745.5" r="2.2"/>
<circle cx="638.0" cy="751.9" r="2.2"/>
<circle cx="658.1" cy="746.3" r="2.2"/>
<circle cx="645.6" cy="751.1" r="2.2"/>
<circle cx="638.9" cy="761.6" r="2.2"/>
<circle cx="657.4" cy="731.1" r="2.2"/>
<circle cx="651.0" cy="735.5" r="2.2"/>
<circle cx="663.7" cy="746.8" r="2.2"/>
<circle cx="675.8" cy="724.4" r="2.2"/>
<circle cx="662.2" cy="732.9" r="2.2"/>
<circle cx="637.4" cy="760.0" r="2.2"/>
<circle cx="657.3" cy="747.4" r="2.2"/>
<circle cx="653.9" cy="758.4" r="2.2"/>
<circle cx="644.9" cy="766.6" r="2.2"/>
<circle cx="663.0" cy="753.5" r="2.2"/>
<circle cx="662.0" cy="738.8" r="2.2"/>
<circle cx="671.0" cy="745.4" r="2.2"/>
<circle cx="662.6" cy="734.8" r="2.2"/>
<circle cx="652.1" cy="742.4" r="2.2"/>
<circle cx="672.9" cy="740.7" r="2.2"/>
<circle cx="639.2" cy="752.2" r="2.2"/>
<circle cx="665.6" cy="737.6" r="2.2"/>
<circle cx="659.7" cy="750.3" r="2.2"/>
<circle cx="660.2" cy="754.6" r="2.2"/>
<circle cx="667.8" cy="747.3" r="2.2"/>
<circle cx="651.8" cy="751.6" r="2.2"/>
<circle cx="654.2" cy="726.9" r="2.2"/>
<circle cx="660.8" cy="747.1" r="2.2"/>
<circle cx="644.7" cy="750.1" r="2.2"/>
<circle cx="647.8" cy="744.6" r="2.2"/>
<circle cx="656.5" cy="746.1" r="2.2"/>
<circle cx="659.1" cy="737.4" r="2.2"/>
<circle cx="658.6" cy="759.0" r="2.2"/>
<circle cx="663.8" cy="750.9" r="2.2"/>
<circle cx="675.3" cy="726.8" r="2.2"/>
<circle cx="654.8" cy="767.8" r="2.2"/>
<circle cx="663.7" cy="738.5" r="2.2"/>
<circle cx="655.4" cy="731.0" r="2.2"/>
<circle cx="669.8" cy="725.1" r="2.2"/>
<circle cx="667.9" cy="741.0" r="2.2"/>
<circle cx="664.5" cy="741.4" r="2.2"/>
<circle cx="656.9" cy="735.0" r="2.2"/>
<circle cx="648.0" cy="755.6" r="2.2"/>
<circle cx="658.0" cy="756.0" r="2.2"/>
<circle cx="663.5" cy="755.7" r="2.2"/>
<circle cx="664.9" cy="729.1" r="2.2"/>
<circle cx="650.4" cy="755.4" r="2.2"/>
<circle cx="641.2" cy="747.0" r="2.2"/>
<circle cx="649.2" cy="757.6" r="2.2"/>
<circle cx="647.2" cy="732.3" r="2.2"/>
<circle cx="666.0" cy="753.3" r="2.2"/>
<circle cx="639.7" cy="761.6" r="2.2"/>
<circle cx="659.0" cy="730.4" r="2.2"/>
<circle cx="658.8" cy="743.1" r="2.2"/>
<circle cx="651.1" cy="746.8" r="2.2"/>
<circle cx="640.6" cy="749.5" r="2.2"/>
<circle cx="652.6" cy="759.6" r="2.2"/>
<circle cx="654.3" cy="746.0" r="2.2"/>
<circle cx="673.3" cy="733.9" r="2.2"/>
<circle cx="644.0" cy="751.5" r="2.2"/>
<circle cx="656.5" cy="727.7" r="2.2"/>
<circle cx="653.9" cy="743.3" r="2.2"/>
<circle cx="660.6" cy="730.9" r="2.2"/>
<circle cx="660.1" cy="749.0" r="2.2"/>
<circle cx="653.9" cy="737.1" r="2.2"/>
<circle cx="638.9" cy="756.8" r="2.2"/>
<circle cx="638.8" cy="746.1" r="2.2"/>
<circle cx="650.0" cy="757.8" r="2.2"/>
<circle cx="667.8" cy="748.5" r="2.2"/>
<circle cx="643.5" cy="740.4" r="2.2"/>
<circle cx="637.4" cy="746.8" r="2.2"/>
<circle cx="655.8" cy="751.6" r="2.2"/>
<circle cx="652.8" cy="733.5" r="2.2"/>
<circle cx="647.4" cy="733.4" r="2.2"/>
<circle cx="669.2" cy="729.6" r="2.2"/>
<circle cx="654.0" cy="742.7" r="2.2"/>
<circle cx="655.7" cy="744.7" r="2.2"/>
<circle cx="670.6" cy="746.0" r="2.2"/>
<circle cx="672.3" cy="732.8" r="2.2"/>
<circle cx="660.3" cy="743.3" r="2.2"/>
<circle cx="660.8" cy="735.8" r="2.2"/>
<circle cx="648.1" cy="737.6" r="2.2"/>
<circle cx="657.2" cy="758.2" r="2.2"/>
<circle cx="663.7" cy="741.7" r="2.2"/>
<circle cx="668.8" cy="735.3" r="2.2"/>
<circle cx="659.1" cy="754.0" r="2.2"/>
<circle cx="656.9" cy="758.1" r="2.2"/>
<circle cx="645.0" cy="745.3" r="2.2"/>
<circle cx="664.0" cy="758.8" r="2.2"/>
<circle cx="661.6" cy="728.8" r="2.2"/>
<circle cx="649.0" cy="758.3" r="2.2"/>
<circle cx="656.3" cy="761.4" r="2.2"/>
<circle cx="649.5" cy="760.3" r="2.2"/>
<circle cx="639.7" cy="748.3" r="2.2"/>
<circle cx="658.6" cy="749.3" r="2.2"/>
<circle cx="666.1" cy="738.1" r="2.2"/>
<circle cx="673.8" cy="733.1" r="2.2"/>
<circle cx="644.9" cy="750.5" r="2.2"/>
<circle cx="660.3" cy="764.4" r="2.2"/>
<circle cx="674.3" cy="726.7" r="2.2"/>
<circle cx="673.7" cy="729.1" r="2.2"/>
<circle cx="654.1" cy="733.9" r="2.2"/>
<circle cx="640.9" cy="748.3" r="2.2"/>
<circle cx="638.6" cy="761.9" r="2.2"/>
<circle cx="662.1" cy="761.7" r="2.2"/>
<circle cx="646.4" cy="741.0" r="2.2"/>
<circle cx="653.6" cy="755.8" r="2.2"/>
<circle cx="674.5" cy="726.4" r="2.2"/>
<circle cx="652.7" cy="729.8" r="2.2"/>
<circle cx="651.5" cy="746.9" r="2.2"/>
<circle cx="653.8" cy="750.3" r="2.2"/>
<circle cx="649.2" cy="763.2" r="2.2"/>
<circle cx="640.2" cy="762.9" r="2.2"/>
<circle cx="635.0" cy="753.0" r="2.2"/>
<circle cx="673.1" cy="731.5" r="2.2"/>
<circle cx="664.9" cy="727.0" r="2.2"/>
<circle cx="657.3" cy="765.9" r="2.2"/>
<circle cx="661.5" cy="733.8" r="2.2"/>
<circle cx="645.1" cy="759.9" r="2.2"/>
<circle cx="648.5" cy="742.9" r="2.2"/>
<circle cx="638.0" cy="752.4" r="2.2"/>
<circle cx="671.8" cy="737.0" r="2.2"/>
<circle cx="647.5" cy="740.2" r="2.2"/>
<circle cx="652.3" cy="738.5" r="2.2"/>
<circle cx="661.0" cy="726.7" r="2.2"/>
<circle cx="649.4" cy="748.0" r="2.2"/>
<circle cx="677.0" cy="727.4" r="2.2"/>
<circle cx="643.2" cy="761.1" r="2.2"/>
<circle cx="645.9" cy="754.9" r="2.2"/>
<circle cx="636.6" cy="750.2" r="2.2"/>
<circle cx="641.4" cy="753.8" r="2.2"/>
<circle cx="655.1" cy="730.0" r="2.2"/>
<circle cx="646.1" cy="743.3" r="2.2"/>
<circle cx="652.1" cy="737.7" r="2.2"/>
<circle cx="651.5" cy="748.9" r="2.2"/>
<circle cx="660.8" cy="728.4" r="2.2"/>
<circle cx="660.6" cy="749.5" r="2.2"/>
<circle cx="644.2" cy="748.7" r="2.2"/>
<circle cx="647.3" cy="739.9" r="2.2"/>
<circle cx="656.9" cy="736.9" r="2.2"/>
<circle cx="646.0" cy="733.6" r="2.2"/>
<circle cx="661.7" cy="749.6" r="2.2"/>
<circle cx="650.8" cy="742.4" r="2.2"/>
<circle cx="657.1" cy="752.9" r="2.2"/>
<circle cx="663.3" cy="740.9" r="2.2"/>
<circle cx="672.9" cy="736.6" r="2.2"/>
<circle cx="670.2" cy="740.0" r="2.2"/>
<circle cx="651.6" cy="761.4" r="2.2"/>
<circle cx="653.1" cy="750.9" r="2.2"/>
<circle cx="647.4" cy="762.1" r="2.2"/>
<circle cx="644.5" cy="753.7" r="2.2"/>
<circle cx="657.8" cy="736.3" r="2.2"/>
<circle cx="657.5" cy="735.6" r="2.2"/>
<circle cx="645.2" cy="761.9" r="2.2"/>
<circle cx="657.7" cy="765.9" r="2.2"/>
<circle cx="652.3" cy="743.0" r="2.2"/>
<circle cx="644.5" cy="760.1" r="2.2"/>
<circle cx="635.4" cy="752.3" r="2.2"/>
<circle cx="640.1" cy="754.6" r="2.2"/>
<circle cx="653.6" cy="731.5" r="2.2"/>
<circle cx="657.9" cy="765.2" r="2.2"/>
<circle cx="655.6" cy="748.1" r="2.2"/>
<circle cx="646.4" cy="762.9" r="2.2"/>
<circle cx="664.0" cy="736.8" r="2.2"/>
<circle cx="656.5" cy="748.8" r="2.2"/>
<circle cx="650.4" cy="753.6" r="2.2"/>
<circle cx="660.6" cy="737.0" r="2.2"/>
<circle cx="642.7" cy="751.8" r="2.2"/>
<circle cx="645.5" cy="760.2" r="2.2"/>
<circle cx="666.3" cy="735.9" r="2.2"/>
<circle cx="648.7" cy="755.6" r="2.2"/>
<circle cx="644.1" cy="755.9" r="2.2"/>
<circle cx="654.6" cy="748.1" r="2.2"/>
<circle cx="654.1" cy="764.9" r="2.2"/>
<circle cx="669.6" cy="724.2" r="2.2"/>
<circle cx="659.6" cy="739.0" r="2.2"/>
<circle cx="592.0" cy="781.0" r="2.2"/>
<circle cx="638.5" cy="752.9" r="2.2"/>
<circle cx="632.7" cy="755.9" r="2.2"/>
<circle cx="641.9" cy="754.8" r="2.2"/>
<circle cx="622.1" cy="748.4" r="2.2"/>
<circle cx="594.7" cy="784.8" r="2.2"/>
<circle cx="643.5" cy="763.4" r="2.2"/>
<circle cx="638.8" cy="742.6" r="2.2"/>
<circle cx="621.3" cy="766.2" r="2.2"/>
<circle cx="635.3" cy="745.3" r="2.2"/>
<circle cx="598.3" cy="785.6" r="2.2"/>
<circle cx="600.8" cy="785.6" r="2.2"/>
<circle cx="595.1" cy="783.8" r="2.2"/>
<circle cx="588.7" cy="783.9" r="2.2"/>
<circle cx="629.3" cy="755.1" r="2.2"/>
<circle cx="597.7" cy="777.5" r="2.2"/>
<circle cx="598.0" cy="783.0" r="2.2"/>
<circle cx="642.2" cy="755.7" r="2.2"/>
<circle cx="621.5" cy="757.4" r="2.2"/>
<circle cx="619.2" cy="776.9" r="2.2"/>
<circle cx="594.0" cy="775.8" r="2.2"/>
<circle cx="600.7" cy="788.5" r="2.2"/>
<circle cx="632.8" cy="767.7" r="2.2"/>
<circle cx="622.0" cy="744.9" r="2.2"/>
<circle cx="604.7" cy="767.3" r="2.2"/>
<circle cx="631.3" cy="742.6" r="2.2"/>
<circle cx="631.6" cy="768.1" r="2.2"/>
<circle cx="636.1" cy="756.2" r="2.2"/>
<circle cx="597.0" cy="775.2" r="2.2"/>
<circle cx="613.8" cy="776.9" r="2.2"/>
<circle cx="594.3" cy="779.4" r="2.2"/>
<circle cx="637.2" cy="748.4" r="2.2"/>
<circle cx="619.5" cy="754.3" r="2.2"/>
<circle cx="620.1" cy="764.5" r="2.2"/>
<circle cx="608.0" cy="766.5" r="2.2"/>
<circle cx="586.3" cy="787.1" r="2.2"/>
<circle cx="596.8" cy="791.6" r="2.2"/>
<circle cx="618.1" cy="766.5" r="2.2"/>
<circle cx="634.1" cy="750.3" r="2.2"/>
<circle cx="633.2" cy="758.1" r="2.2"/>
<circle cx="625.6" cy="769.0" r="2.2"/>
<circle cx="635.6" cy="748.5" r="2.2"/>
<circle cx="638.2" cy="737.8" r="2.2"/>
<circle cx="634.5" cy="738.6" r="2.2"/>
<circle cx="615.1" cy="781.9" r="2.2"/>
<circle cx="591.5" cy="784.1" r="2.2"/>
<circle cx="626.6" cy="745.4" r="2.2"/>
<circle cx="586.7" cy="786.9" r="2.2"/>
<circle cx="622.9" cy="756.1" r="2.2"/>
<circle cx="633.5" cy="745.5" r="2.2"/>
<circle cx="633.7" cy="747.2" r="2.2"/>
<circle cx="604.1" cy="781.8" r="2.2"/>
<circle cx="622.6" cy="767.9" r="2.2"/>
<circle cx="602.1" cy="772.4" r="2.2"/>
<circle cx="604.4" cy="777.9" r="2.2"/>
<circle cx="624.7" cy="755.1" r="2.2"/>
<circle cx="592.7" cy="786.4" r="2.2"/>
<circle cx="596.0" cy="780.5" r="2.2"/>
<circle cx="617.1" cy="772.9" r="2.2"/>
<circle cx="627.9" cy="765.3" r="2.2"/>
<circle cx="611.6" cy="769.5" r="2.2"/>
<circle cx="625.3" cy="766.6" r="2.2"/>
<circle cx="629.0" cy="751.3" r="2.2"/>
<circle cx="637.7" cy="763.1" r="2.2"/>
<circle cx="621.7" cy="772.5" r="2.2"/>
<circle cx="613.3" cy="779.2" r="2.2"/>
<circle cx="605.3" cy="779.1" r="2.2"/>
<circle cx="596.6" cy="775.4" r="2.2"/>
<circle cx="630.4" cy="767.2" r="2.2"/>
<circle cx="624.9" cy="748.3" r="2.2"/>
<circle cx="614.1" cy="759.5" r="2.2"/>
<circle cx="631.6" cy="748.7" r="2.2"/>
<circle cx="622.0" cy="771.2" r="2.2"/>
<circle cx="620.6" cy="762.7" r="2.2"/>
<circle cx="644.0" cy="754.4" r="2.2"/>
<circle cx="588.6" cy="782.4" r="2.2"/>
<circle cx="634.2" cy="754.5" r="2.2"/>
<circle cx="595.5" cy="789.9" r="2.2"/>
<circle cx="589.0" cy="789.9" r="2.2"/>
<circle cx="635.9" cy="753.3" r="2.2"/>
<circle cx="618.2" cy="753.3" r="2.2"/>
<circle cx="635.1" cy="752.4" r="2.2"/>
<circle cx="630.2" cy="749.9" r="2.2"/>
<circle cx="620.5" cy="769.6" r="2.2"/>
<circle cx="592.3" cy="791.1" r="2.2"/>
<circle cx="605.8" cy="766.0" r="2.2"/>
<circle cx="606.7" cy="784.8" r="2.2"/>
<circle cx="636.6" cy="749.2" r="2.2"/>
<circle cx="638.8" cy="747.6" r="2.2"/>
<circle cx="607.0" cy="785.8" r="2.2"/>
<circle cx="619.0" cy="755.3" r="2.2"/>
<circle cx="619.2" cy="772.4" r="2.2"/>
<circle cx="600.2" cy="777.5" r="2.2"/>
<circle cx="620.0" cy="762.8" r="2.2"/>
<circle cx="611.5" cy="761.7" r="2.2"/>
<circle cx="625.3" cy="776.1" r="2.2"/>
<circle cx="615.7" cy="768.3" r="2.2"/>
<circle cx="593.9" cy="779.8" r="2.2"/>
<circle cx="620.7" cy="751.5" r="2.2"/>
<circle cx="620.8" cy="771.5" r="2.2"/>
<circle cx="593.8" cy="783.1" r="2.2"/>
<circle cx="631.0" cy="757.4" r="2.2"/>
<circle cx="644.0" cy="751.9" r="2.2"/>
<circle cx="633.9" cy="767.5" r="2.2"/>
<circle cx="623.6" cy="746.3" r="2.2"/>
<circle cx="637.6" cy="734.5" r="2.2"/>
<circle cx="619.6" cy="752.5" r="2.2"/>
<circle cx="611.7" cy="768.3" r="2.2"/>
</g>
</g>
<clipPath id="sc4"><rect x="527.4" y="718.7" width="156.39999999999998" height="123.59999999999991"/></clipPath>
<text x="537.50" y="732.00" font-size="8.44" fill="#1a1a1a" stroke="#1a1a1a" stroke-width="0.12"><tspan font-style="italic">r</tspan> = &#160;0.84, <tspan font-style="italic">p</tspan> &lt; 2.2e&#8722;16</text>
<rect x="527.4" y="718.7" width="156.39999999999998" height="123.59999999999991" fill="none" stroke="#858e8f" stroke-width="0.9"/>
<line x1="525.00" y1="834.00" x2="527.40" y2="834.00" stroke="#4a4a4a" stroke-width="0.9" />
<text x="523.30" y="836.45" font-size="6.8" fill="#5a6060" text-anchor="end" font-weight="normal" font-style="normal" stroke="#5a6060" stroke-width="0.2" >0.00</text>
<line x1="532.50" y1="842.30" x2="532.50" y2="844.70" stroke="#4a4a4a" stroke-width="0.9" />
<text x="532.50" y="851.85" font-size="6.8" fill="#5a6060" text-anchor="middle" font-weight="normal" font-style="normal" stroke="#5a6060" stroke-width="0.2" >0.00</text>
<line x1="525.00" y1="806.45" x2="527.40" y2="806.45" stroke="#4a4a4a" stroke-width="0.9" />
<text x="523.30" y="808.90" font-size="6.8" fill="#5a6060" text-anchor="end" font-weight="normal" font-style="normal" stroke="#5a6060" stroke-width="0.2" >0.25</text>
<line x1="568.80" y1="842.30" x2="568.80" y2="844.70" stroke="#4a4a4a" stroke-width="0.9" />
<text x="568.80" y="851.85" font-size="6.8" fill="#5a6060" text-anchor="middle" font-weight="normal" font-style="normal" stroke="#5a6060" stroke-width="0.2" >0.25</text>
<line x1="525.00" y1="778.90" x2="527.40" y2="778.90" stroke="#4a4a4a" stroke-width="0.9" />
<text x="523.30" y="781.35" font-size="6.8" fill="#5a6060" text-anchor="end" font-weight="normal" font-style="normal" stroke="#5a6060" stroke-width="0.2" >0.50</text>
<line x1="605.10" y1="842.30" x2="605.10" y2="844.70" stroke="#4a4a4a" stroke-width="0.9" />
<text x="605.10" y="851.85" font-size="6.8" fill="#5a6060" text-anchor="middle" font-weight="normal" font-style="normal" stroke="#5a6060" stroke-width="0.2" >0.50</text>
<line x1="525.00" y1="751.35" x2="527.40" y2="751.35" stroke="#4a4a4a" stroke-width="0.9" />
<text x="523.30" y="753.80" font-size="6.8" fill="#5a6060" text-anchor="end" font-weight="normal" font-style="normal" stroke="#5a6060" stroke-width="0.2" >0.75</text>
<line x1="641.40" y1="842.30" x2="641.40" y2="844.70" stroke="#4a4a4a" stroke-width="0.9" />
<text x="641.40" y="851.85" font-size="6.8" fill="#5a6060" text-anchor="middle" font-weight="normal" font-style="normal" stroke="#5a6060" stroke-width="0.2" >0.75</text>
<line x1="525.00" y1="723.80" x2="527.40" y2="723.80" stroke="#4a4a4a" stroke-width="0.9" />
<text x="523.30" y="726.25" font-size="6.8" fill="#5a6060" text-anchor="end" font-weight="normal" font-style="normal" stroke="#5a6060" stroke-width="0.2" >1.00</text>
<line x1="677.70" y1="842.30" x2="677.70" y2="844.70" stroke="#4a4a4a" stroke-width="0.9" />
<text x="677.70" y="851.85" font-size="6.8" fill="#5a6060" text-anchor="middle" font-weight="normal" font-style="normal" stroke="#5a6060" stroke-width="0.2" >1.00</text>
<text x="605.60" y="860.70" font-size="7.6" fill="#1a1a1a" text-anchor="middle" font-weight="normal" font-style="normal" stroke="#1a1a1a" stroke-width="0.1" >Tumor</text>
<text x="0" y="0" font-size="7.6" fill="#1a1a1a" stroke="#1a1a1a" stroke-width="0.1" text-anchor="middle" transform="translate(506.7,781.00) rotate(-90)">Lymph node</text>
<text x="-3.40" y="5.70" font-size="14" fill="#000" text-anchor="start" font-weight="bold" font-style="normal" stroke="#000" stroke-width="0.3">A</text>
<text x="256.30" y="5.70" font-size="14" fill="#000" text-anchor="start" font-weight="bold" font-style="normal" stroke="#000" stroke-width="0.3">B</text>
<text x="494.50" y="5.70" font-size="14" fill="#000" text-anchor="start" font-weight="bold" font-style="normal" stroke="#000" stroke-width="0.3">C</text>
<text x="-3.40" y="183.70" font-size="14" fill="#000" text-anchor="start" font-weight="bold" font-style="normal" stroke="#000" stroke-width="0.3">D</text>
<text x="256.30" y="183.70" font-size="14" fill="#000" text-anchor="start" font-weight="bold" font-style="normal" stroke="#000" stroke-width="0.3">E</text>
<text x="494.50" y="183.70" font-size="14" fill="#000" text-anchor="start" font-weight="bold" font-style="normal" stroke="#000" stroke-width="0.3">F</text>
<text x="-3.40" y="360.60" font-size="14" fill="#000" text-anchor="start" font-weight="bold" font-style="normal" stroke="#000" stroke-width="0.3">G</text>
<text x="256.30" y="360.60" font-size="14" fill="#000" text-anchor="start" font-weight="bold" font-style="normal" stroke="#000" stroke-width="0.3">H</text>
<text x="494.50" y="360.60" font-size="14" fill="#000" text-anchor="start" font-weight="bold" font-style="normal" stroke="#000" stroke-width="0.3">I</text>
<text x="-3.40" y="540.30" font-size="14" fill="#000" text-anchor="start" font-weight="bold" font-style="normal" stroke="#000" stroke-width="0.3">J</text>
<text x="256.30" y="540.30" font-size="14" fill="#000" text-anchor="start" font-weight="bold" font-style="normal" stroke="#000" stroke-width="0.3">K</text>
<text x="494.50" y="540.30" font-size="14" fill="#000" text-anchor="start" font-weight="bold" font-style="normal" stroke="#000" stroke-width="0.3">L</text>
<text x="-3.40" y="718.60" font-size="14" fill="#000" text-anchor="start" font-weight="bold" font-style="normal" stroke="#000" stroke-width="0.3">M</text>
<text x="256.30" y="718.60" font-size="14" fill="#000" text-anchor="start" font-weight="bold" font-style="normal" stroke="#000" stroke-width="0.3">N</text>
<text x="494.50" y="718.60" font-size="14" fill="#000" text-anchor="start" font-weight="bold" font-style="normal" stroke="#000" stroke-width="0.3">O</text>
</svg>
</body></html>
